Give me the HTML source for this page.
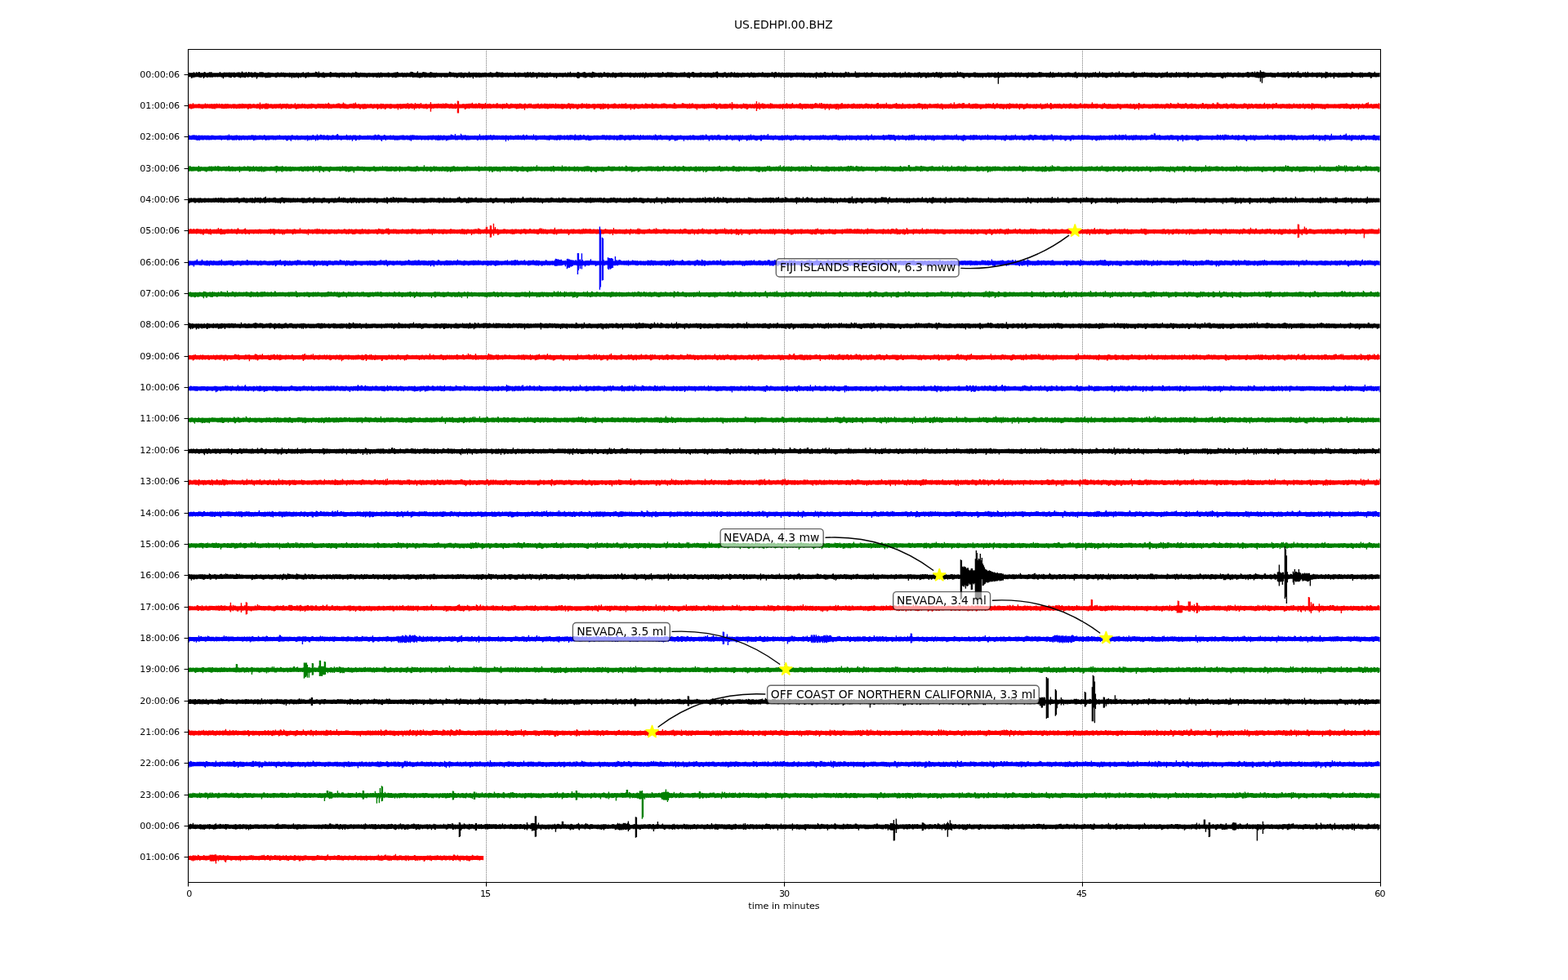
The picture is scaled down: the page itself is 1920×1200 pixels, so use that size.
<!DOCTYPE html>
<html lang="en"><head><meta charset="utf-8"><title>US.EDHPI.00.BHZ</title>
<style>html,body{margin:0;padding:0;background:#fff;overflow:hidden}svg{display:block}text{font-family:"DejaVu Sans","Liberation Sans",sans-serif;fill:#000}.t8{font-size:11.11px}.t10{font-size:13.89px}.tr path{fill:none;stroke-width:1.39;stroke-linecap:butt;vector-effect:non-scaling-stroke}</style></head><body>
<svg width="1920" height="1200" viewBox="0 0 1920 1200">
<rect width="1920" height="1200" fill="#fff"/>
<text class="t10" x="959.4" y="35.2" text-anchor="middle" textLength="120.9">US.EDHPI.00.BHZ</text>
<g stroke="#000" stroke-width="0.7" stroke-dasharray="0.7 1.15" fill="none">
<path d="M595.5 60V1080"/>
<path d="M960.5 60V1080"/>
<path d="M1325.5 60V1080"/>
</g>
<clipPath id="ax"><rect x="230.4" y="60" width="1459.2" height="1020"/></clipPath>
<g class="tr" clip-path="url(#ax)">
<path transform="translate(230.40 91.75) scale(1 0.25)" stroke="#000000" d="M0 -11v21m1-21v21m1-21v21m1-20v19m1-19v26m1-27v26m1-25v20m1-24v28m1-24v20m1-19v20m1-25v24m1-22v22m1-20v20m1-25v26m1-25v26m1-22v23m1-23v23m1-24v21m1-19v19m1-22v29m1-32v27m1-25v23m1-20v20m1-19v22m1-24v24m1-24v21m1-24v25m1-24v25m1-26v25m1-24v25m1-21v21m1-22v20m1-20v20m1-20v21m1-21v20m1-20v20m1-20v21m1-21v20m1-20v20m1-25v25m1-20v20m1-20v22m1-22v22m1-22v28m1-31v24m1-23v22m1-22v23m1-23v22m1-22v22m1-21v21m1-23v25m1-24v24m1-24v26m1-26v25m1-25v21m1-20v20m1-22v26m1-25v25m1-23v21m1-21v19m1-22v23m1-21v21m1-24v26m1-24v24m1-23v26m1-27v24m1-29v28m1-24v25m1-22v21m1-23v25m1-23v24m1-29v25m1-20v20m1-20v22m1-27v26m1-24v23m1-22v21m1-22v23m1-23v26m1-24v24m1-23v20m1-23v24m1-25v25m1-23v22m1-21v30m1-29v22m1-22v20m1-20v20m1-25v26m1-22v22m1-26v26m1-24v25m1-25v23m1-20v21m1-21v21m1-22v26m1-26v24m1-24v25m1-27v26m1-25v25m1-25v25m1-24v23m1-23v21m1-21v21m1-20v20m1-20v20m1-19v19m1-21v24m1-24v24m1-25v23m1-24v23m1-20v20m1-20v21m1-21v20m1-23v23m1-20v20m1-22v22m1-22v22m1-20v22m1-23v22m1-21v20m1-20v20m1-20v20m1-19v19m1-22v24m1-23v22m1-21v20m1-21v27m1-27v20m1-20v24m1-23v22m1-22v23m1-23v20m1-22v24m1-21v20m1-22v27m1-26v21m1-20v20m1-21v23m1-23v20m1-22v22m1-24v25m1-20v19m1-20v22m1-22v26m1-28v24m1-23v21m1-24v25m1-22v22m1-21v20m1-20v20m1-20v20m1-20v20m1-21v21m1-21v21m1-20v20m1-26v26m1-25v25m1-23v23m1-20v24m1-31v30m1-23v21m1-21v20m1-20v20m1-20v22m1-25v24m1-24v27m1-24v24m1-24v20m1-20v21m1-21v20m1-20v20m1-20v19m1-19v20m1-25v27m1-26v25m1-22v21m1-20v20m1-21v21m1-20v20m1-22v22m1-22v22m1-21v23m1-22v21m1-21v21m1-21v25m1-26v21m1-20v20m1-22v22m1-22v23m1-21v20m1-22v26m1-25v20m1-19v21m1-21v21m1-20v19m1-22v22m1-21v22m1-20v19m1-20v20m1-19v24m1-27v22m1-22v23m1-22v21m1-21v21m1-26v27m1-25v26m1-24v23m1-22v23m1-22v23m1-23v22m1-24v22m1-21v21m1-21v22m1-22v21m1-20v21m1-22v22m1-21v21m1-20v20m1-21v24m1-23v19m1-21v21m1-21v22m1-21v20m1-19v19m1-20v20m1-20v21m1-21v22m1-22v20m1-20v20m1-20v21m1-21v23m1-23v22m1-24v22m1-20v24m1-24v22m1-25v23m1-21v23m1-22v21m1-21v19m1-19v20m1-20v21m1-21v20m1-20v21m1-21v20m1-23v25m1-23v23m1-22v20m1-19v19m1-20v20m1-20v23m1-23v22m1-24v23m1-23v24m1-25v27m1-26v25m1-28v26m1-24v24m1-21v20m1-20v20m1-20v20m1-20v19m1-21v22m1-20v22m1-22v21m1-22v22m1-21v20m1-19v21m1-24v22m1-20v20m1-20v20m1-20v20m1-23v24m1-27v26m1-24v24m1-25v28m1-24v23m1-23v23m1-22v21m1-21v22m1-24v23m1-29v31m1-23v22m1-22v25m1-26v26m1-25v23m1-23v22m1-25v25m1-27v25m1-23v23m1-24v28m1-26v22m1-22v24m1-21v20m1-21v21m1-21v22m1-24v25m1-28v28m1-26v25m1-24v22m1-21v24m1-24v22m1-22v25m1-24v23m1-25v22m1-20v21m1-21v20m1-20v20m1-20v21m1-21v20m1-20v23m1-23v20m1-20v19m1-19v20m1-20v22m1-22v22m1-22v20m1-20v23m1-22v19m1-20v20m1-26v25m1-23v25m1-24v23m1-21v21m1-22v22m1-22v22m1-21v23m1-23v22m1-21v21m1-21v25m1-24v22m1-24v21m1-22v22m1-21v21m1-23v27m1-26v25m1-24v22m1-21v25m1-25v24m1-26v22m1-21v21m1-20v21m1-21v23m1-23v20m1-26v28m1-22v22m1-23v23m1-23v21m1-20v21m1-23v30m1-28v19m1-21v22m1-21v23m1-24v24m1-23v23m1-22v19m1-21v25m1-24v23m1-22v22m1-21v21m1-23v22m1-22v22m1-21v21m1-23v22m1-22v23m1-22v22m1-20v19m1-20v20m1-20v21m1-22v22m1-25v24m1-23v24m1-21v22m1-23v23m1-21v19m1-20v20m1-20v20m1-23v23m1-26v27m1-25v26m1-25v24m1-24v23m1-22v22m1-21v23m1-25v25m1-25v25m1-23v22m1-21v20m1-20v20m1-21v22m1-21v20m1-22v22m1-20v22m1-22v21m1-22v21m1-20v20m1-20v20m1-20v20m1-20v20m1-20v20m1-25v25m1-20v22m1-22v20m1-19v19m1-22v24m1-23v22m1-23v22m1-21v21m1-20v20m1-20v20m1-20v20m1-20v20m1-23v23m1-21v24m1-25v24m1-24v23m1-26v27m1-22v21m1-23v22m1-24v24m1-20v23m1-24v23m1-26v26m1-25v24m1-22v22m1-21v20m1-21v21m1-20v28m1-28v21m1-24v23m1-23v24m1-22v21m1-21v21m1-22v24m1-24v24m1-23v20m1-19v23m1-22v22m1-23v21m1-23v25m1-25v25m1-23v20m1-20v20m1-23v23m1-22v22m1-19v19m1-20v19m1-19v20m1-20v23m1-23v20m1-20v21m1-21v27m1-27v21m1-20v19m1-20v20m1-21v21m1-20v20m1-20v20m1-20v21m1-21v22m1-22v20m1-20v20m1-22v22m1-19v20m1-20v20m1-24v24m1-22v20m1-20v22m1-27v26m1-20v21m1-21v20m1-20v20m1-21v21m1-20v21m1-21v20m1-20v20m1-20v23m1-28v32m1-31v30m1-28v27m1-25v20m1-20v20m1-20v20m1-22v22m1-23v25m1-27v26m1-25v29m1-25v23m1-23v22m1-22v20m1-20v19m1-21v23m1-22v22m1-22v23m1-22v24m1-30v30m1-29v25m1-23v25m1-24v23m1-22v21m1-20v20m1-19v19m1-21v21m1-21v24m1-24v23m1-24v22m1-21v24m1-22v21m1-21v18m1-23v24m1-24v23m1-19v20m1-20v20m1-21v22m1-23v26m1-25v21m1-20v20m1-19v21m1-21v19m1-20v22m1-25v25m1-24v22m1-19v21m1-23v26m1-25v23m1-23v20m1-19v19m1-21v21m1-21v21m1-22v22m1-23v24m1-23v24m1-22v21m1-21v20m1-22v22m1-21v21m1-20v20m1-20v20m1-22v22m1-20v20m1-20v20m1-22v25m1-25v25m1-23v20m1-20v20m1-20v21m1-21v23m1-23v22m1-24v23m1-21v19m1-19v23m1-23v20m1-21v21m1-20v24m1-26v22m1-20v21m1-21v21m1-24v25m1-22v19m1-18v26m1-30v25m1-24v22m1-19v21m1-22v22m1-22v21m1-21v20m1-22v22m1-21v23m1-22v21m1-22v21m1-20v19m1-18v19m1-22v22m1-21v21m1-21v21m1-22v23m1-23v25m1-24v23m1-23v24m1-23v20m1-20v22m1-27v25m1-22v22m1-19v19m1-20v20m1-21v23m1-23v23m1-26v24m1-23v24m1-24v23m1-22v24m1-25v25m1-25v25m1-24v24m1-24v22m1-20v20m1-21v21m1-22v22m1-21v24m1-23v22m1-22v20m1-20v21m1-21v21m1-23v22m1-22v23m1-21v20m1-23v24m1-21v20m1-25v26m1-21v20m1-20v20m1-20v22m1-24v26m1-27v26m1-25v28m1-26v20m1-20v19m1-23v24m1-25v25m1-24v27m1-24v22m1-21v21m1-21v20m1-20v22m1-22v21m1-21v21m1-22v23m1-24v23m1-25v26m1-22v20m1-21v20m1-20v21m1-20v20m1-22v25m1-24v23m1-22v21m1-23v23m1-23v23m1-21v21m1-22v22m1-22v25m1-24v24m1-24v22m1-26v26m1-23v22m1-24v24m1-24v23m1-26v28m1-29v33m1-28v22m1-20v20m1-20v20m1-20v21m1-21v21m1-21v21m1-22v24m1-25v22m1-24v24m1-23v23m1-20v24m1-23v23m1-25v21m1-22v23m1-20v19m1-22v24m1-26v25m1-24v23m1-20v19m1-19v22m1-26v25m1-21v22m1-22v22m1-23v23m1-24v24m1-22v23m1-23v20m1-20v20m1-19v21m1-22v22m1-24v22m1-21v22m1-22v22m1-21v20m1-20v19m1-19v20m1-22v22m1-21v21m1-20v24m1-23v21m1-25v23m1-23v24m1-21v21m1-22v24m1-25v24m1-22v22m1-22v22m1-22v20m1-20v21m1-22v22m1-23v22m1-21v21m1-20v19m1-19v21m1-25v24m1-23v24m1-21v20m1-20v22m1-23v22m1-21v20m1-21v24m1-24v23m1-23v22m1-21v21m1-21v19m1-19v20m1-25v25m1-20v20m1-22v23m1-23v27m1-30v24m1-23v26m1-22v20m1-20v20m1-23v24m1-23v23m1-21v20m1-21v26m1-27v22m1-22v22m1-20v21m1-22v23m1-22v22m1-23v22m1-23v24m1-23v23m1-24v24m1-23v21m1-22v22m1-20v24m1-25v23m1-23v23m1-22v20m1-21v21m1-20v20m1-20v21m1-23v23m1-23v23m1-21v19m1-21v23m1-22v20m1-20v23m1-24v22m1-20v21m1-21v21m1-24v23m1-20v23m1-23v22m1-22v20m1-20v22m1-22v21m1-22v21m1-21v24m1-23v23m1-23v21m1-21v21m1-20v21m1-21v22m1-23v20m1-20v21m1-24v31m1-31v23m1-20v20m1-20v22m1-22v21m1-23v25m1-25v23m1-21v23m1-23v22m1-22v20m1-25v25m1-25v28m1-25v24m1-22v20m1-22v22m1-21v22m1-21v22m1-22v20m1-20v20m1-20v20m1-26v27m1-21v21m1-22v23m1-23v20m1-19v20m1-21v23m1-23v23m1-22v20m1-20v20m1-20v21m1-23v24m1-22v22m1-22v20m1-20v21m1-21v23m1-24v23m1-28v26m1-24v24m1-19v19m1-24v25m1-24v24m1-21v21m1-20v19m1-20v20m1-20v20m1-19v19m1-20v20m1-20v20m1-28v28m1-21v25m1-26v24m1-22v23m1-25v24m1-24v23m1-22v21m1-21v21m1-21v21m1-21v21m1-20v20m1-23v23m1-20v22m1-23v23m1-25v24m1-23v23m1-21v21m1-21v21m1-21v20m1-21v23m1-26v24m1-23v23m1-20v20m1-20v20m1-20v20m1-21v21m1-21v21m1-21v20m1-18v20m1-21v22m1-24v22m1-21v23m1-22v19m1-19v20m1-20v23m1-25v25m1-24v24m1-24v22m1-22v22m1-21v19m1-18v21m1-25v25m1-22v20m1-20v20m1-20v20m1-20v22m1-24v22m1-22v22m1-23v25m1-25v24m1-21v22m1-22v21m1-21v22m1-22v20m1-21v21m1-23v28m1-24v19m1-19v23m1-25v21m1-20v22m1-22v21m1-27v26m1-20v22m1-22v22m1-22v21m1-24v25m1-25v25m1-23v22m1-22v25m1-24v19m1-19v20m1-19v20m1-21v21m1-23v24m1-22v20m1-20v22m1-24v22m1-22v26m1-28v24m1-23v23m1-20v25m1-26v24m1-23v21m1-23v22m1-21v21m1-22v22m1-21v26m1-25v25m1-25v21m1-24v25m1-22v22m1-22v21m1-21v21m1-21v21m1-22v21m1-23v22m1-21v22m1-20v23m1-24v21m1-25v25m1-23v24m1-24v24m1-21v23m1-27v24m1-20v26m1-30v29m1-27v25m1-23v21m1-21v20m1-20v20m1-22v22m1-22v24m1-22v20m1-22v22m1-22v23m1-23v23m1-24v23m1-22v22m1-20v20m1-21v24m1-23v22m1-25v25m1-24v24m1-22v22m1-22v21m1-29v28m1-22v21m1-21v22m1-23v23m1-24v24m1-21v21m1-22v25m1-24v25m1-24v27m1-27v21m1-21v20m1-20v20m1-21v21m1-20v20m1-20v24m1-24v23m1-23v21m1-21v20m1-20v20m1-20v20m1-23v23m1-23v25m1-25v25m1-22v21m1-22v22m1-21v22m1-22v22m1-22v21m1-21v22m1-22v21m1-21v21m1-21v25m1-25v20m1-20v20m1-20v20m1-20v23m1-23v19m1-21v22m1-22v23m1-23v25m1-23v20m1-21v23m1-24v22m1-21v21m1-20v20m1-20v22m1-25v28m1-25v23m1-23v23m1-24v23m1-27v59m1-55v26m1-26v23m1-22v20m1-22v24m1-22v22m1-22v22m1-22v23m1-26v25m1-24v22m1-21v21m1-22v23m1-22v22m1-22v22m1-23v22m1-22v22m1-23v23m1-22v22m1-21v21m1-20v20m1-20v20m1-23v25m1-24v24m1-22v20m1-22v22m1-23v23m1-20v22m1-22v22m1-25v23m1-20v19m1-19v20m1-20v21m1-21v20m1-20v20m1-21v21m1-20v25m1-26v26m1-28v25m1-22v19m1-21v22m1-21v21m1-22v25m1-26v25m1-24v24m1-23v23m1-23v22m1-21v22m1-22v21m1-21v21m1-22v21m1-25v26m1-25v26m1-25v24m1-24v24m1-22v21m1-21v21m1-20v20m1-20v19m1-20v21m1-21v23m1-22v21m1-22v22m1-21v22m1-24v25m1-29v27m1-21v20m1-20v24m1-28v26m1-22v22m1-22v22m1-22v20m1-20v20m1-20v20m1-21v21m1-24v24m1-19v19m1-22v22m1-22v22m1-20v23m1-22v20m1-21v19m1-19v20m1-20v22m1-24v24m1-22v20m1-23v23m1-23v23m1-22v22m1-21v22m1-21v20m1-20v20m1-20v22m1-21v20m1-24v24m1-24v26m1-29v26m1-20v26m1-26v24m1-26v22m1-22v22m1-20v20m1-20v20m1-20v20m1-22v22m1-21v21m1-20v21m1-23v23m1-22v29m1-28v21m1-23v21m1-19v22m1-22v23m1-23v22m1-23v22m1-21v21m1-21v22m1-25v23m1-22v22m1-21v22m1-26v25m1-20v21m1-21v21m1-21v23m1-23v22m1-29v27m1-20v20m1-19v19m1-22v22m1-23v26m1-23v20m1-22v23m1-22v24m1-24v26m1-26v25m1-24v22m1-23v21m1-20v19m1-21v23m1-21v22m1-26v24m1-23v23m1-20v20m1-20v19m1-19v22m1-25v25m1-24v22m1-22v24m1-23v22m1-29v29m1-22v21m1-20v20m1-20v20m1-23v23m1-22v22m1-20v20m1-20v20m1-20v23m1-23v22m1-23v22m1-21v21m1-21v21m1-20v20m1-21v21m1-24v23m1-22v22m1-26v25m1-25v30m1-24v24m1-24v23m1-25v25m1-23v21m1-21v20m1-21v21m1-21v21m1-20v21m1-21v21m1-24v23m1-22v24m1-22v20m1-25v25m1-20v20m1-22v21m1-20v22m1-23v23m1-21v20m1-21v22m1-22v23m1-22v21m1-24v26m1-24v21m1-20v21m1-23v22m1-21v23m1-22v24m1-24v23m1-23v24m1-24v20m1-22v22m1-20v19m1-19v25m1-25v24m1-26v25m1-24v22m1-21v22m1-24v22m1-22v23m1-24v24m1-27v28m1-21v20m1-21v20m1-20v23m1-24v24m1-25v25m1-25v22m1-20v20m1-20v22m1-22v20m1-20v22m1-27v27m1-23v21m1-21v21m1-23v23m1-21v24m1-25v22m1-21v21m1-20v20m1-20v20m1-23v23m1-23v23m1-22v23m1-21v20m1-23v24m1-24v28m1-29v28m1-24v20m1-20v21m1-23v23m1-21v21m1-21v19m1-19v21m1-21v22m1-23v22m1-22v21m1-24v24m1-22v22m1-20v20m1-20v20m1-21v21m1-19v23m1-24v22m1-22v23m1-24v21m1-20v21m1-21v21m1-23v22m1-23v23m1-22v22m1-20v21m1-21v20m1-22v23m1-23v23m1-23v22m1-21v24m1-23v22m1-22v23m1-23v22m1-22v22m1-22v20m1-21v20m1-19v20m1-21v21m1-20v20m1-22v22m1-20v25m1-25v25m1-25v28m1-30v24m1-24v22m1-21v26m1-25v20m1-22v23m1-24v23m1-22v22m1-21v21m1-22v22m1-22v22m1-19v19m1-20v22m1-22v22m1-23v21m1-22v21m1-19v20m1-20v20m1-20v21m1-24v25m1-23v22m1-23v23m1-21v20m1-20v21m1-21v22m1-23v23m1-22v21m1-21v19m1-21v22m1-22v22m1-25v26m1-26v29m1-25v24m1-26v23m1-21v21m1-23v23m1-25v25m1-23v24m1-21v19m1-26v29m1-22v22m1-25v27m1-30v29m1-27v29m1-28v28m1-28v27m1-37v56m1-49v29m1-28v55m1-55v29m1-30v31m1-28v26m1-25v23m1-22v21m1-21v21m1-21v21m1-21v21m1-20v19m1-21v22m1-22v22m1-21v23m1-22v22m1-22v22m1-22v21m1-21v24m1-23v18m1-19v20m1-23v23m1-23v23m1-20v20m1-20v20m1-21v21m1-21v22m1-23v23m1-23v24m1-25v25m1-24v24m1-23v23m1-24v22m1-23v23m1-23v29m1-27v26m1-25v21m1-21v20m1-25v25m1-20v22m1-24v24m1-25v24m1-23v22m1-20v20m1-23v25m1-23v21m1-29v31m1-22v20m1-21v25m1-24v24m1-23v22m1-23v19m1-22v23m1-22v22m1-20v20m1-25v27m1-22v22m1-23v23m1-28v27m1-22v22m1-21v19m1-19v20m1-20v20m1-22v23m1-24v24m1-21v20m1-21v21m1-21v21m1-20v20m1-22v26m1-26v24m1-22v20m1-23v23m1-21v21m1-22v22m1-22v28m1-26v22m1-22v21m1-21v22m1-22v22m1-28v33m1-31v26m1-26v26m1-22v21m1-21v20m1-21v21m1-22v24m1-21v19m1-19v19m1-20v20m1-22v30m1-30v22m1-20v20m1-20v20m1-20v20m1-19v22m1-25v24m1-22v22m1-23v21m1-19v21m1-22v21m1-21v22m1-23v22m1-22v23m1-22v21m1-23v24m1-24v22m1-20v21m1-22v20m1-20v21m1-19v21m1-22v24m1-30v29m1-28v25m1-21v21m1-20v20m1-20v20m1-20v20m1-20v21m1-21v21m1-21v20m1-20v20m1-23v26m1-25v24m1-24v22m1-22v26m1-24v20m1-19v19m1-21v21m1-20v20m1-20v20m1-20v20m1-22v22m1-24v24m1-23v23m1-22v28m1-27v26m1-25v20m1-20v20m1-21v21m1-26v26m1-20v21m1-21v21m1-21v20m1-20v20m1-20v20m1-21v21"/>
<path transform="translate(230.40 130.09) scale(1 0.25)" stroke="#ff0000" d="M0 -10v21m1-21v21m1-21v20m1-21v24m1-23v24m1-24v22m1-27v27m1-22v20m1-20v20m1-20v19m1-19v20m1-20v19m1-19v20m1-22v22m1-21v21m1-20v20m1-20v21m1-21v23m1-23v23m1-23v21m1-21v20m1-24v24m1-20v21m1-22v21m1-21v21m1-19v19m1-21v22m1-20v20m1-23v22m1-21v24m1-24v24m1-23v23m1-25v25m1-24v25m1-25v20m1-22v24m1-22v20m1-18v19m1-23v23m1-20v20m1-20v20m1-22v24m1-23v23m1-22v22m1-22v23m1-24v22m1-23v24m1-22v22m1-24v23m1-22v22m1-21v21m1-21v20m1-20v20m1-19v21m1-22v20m1-21v21m1-21v24m1-24v21m1-20v21m1-20v22m1-23v22m1-22v20m1-21v23m1-24v24m1-23v22m1-21v20m1-23v25m1-24v22m1-21v22m1-22v22m1-22v21m1-21v21m1-20v20m1-21v26m1-26v25m1-26v22m1-22v24m1-22v22m1-22v20m1-20v20m1-22v21m1-20v21m1-19v19m1-20v20m1-20v22m1-24v23m1-22v21m1-20v22m1-30v35m1-27v20m1-20v23m1-24v24m1-24v21m1-21v21m1-21v25m1-28v27m1-27v28m1-26v26m1-27v25m1-22v20m1-20v20m1-21v21m1-21v21m1-20v23m1-23v22m1-22v21m1-22v21m1-20v22m1-23v22m1-21v20m1-21v21m1-20v21m1-23v22m1-23v23m1-20v25m1-26v23m1-24v23m1-22v21m1-22v22m1-21v21m1-21v25m1-27v23m1-22v22m1-20v23m1-23v22m1-22v23m1-24v23m1-23v21m1-19v19m1-20v20m1-20v20m1-25v26m1-20v24m1-25v24m1-25v23m1-23v23m1-23v22m1-21v21m1-21v21m1-22v22m1-24v23m1-19v19m1-22v22m1-21v23m1-22v21m1-21v20m1-20v23m1-23v22m1-23v22m1-21v21m1-22v22m1-24v25m1-24v22m1-21v20m1-20v20m1-19v20m1-20v23m1-23v23m1-23v20m1-23v23m1-22v22m1-22v22m1-21v22m1-23v22m1-21v21m1-22v23m1-22v23m1-22v21m1-24v23m1-22v23m1-22v21m1-23v23m1-27v30m1-25v23m1-21v21m1-21v22m1-22v21m1-21v20m1-21v21m1-20v20m1-20v20m1-20v20m1-22v22m1-23v23m1-24v24m1-24v23m1-20v23m1-23v22m1-21v20m1-22v22m1-28v29m1-24v24m1-24v25m1-22v21m1-21v23m1-22v22m1-22v21m1-22v21m1-22v20m1-21v22m1-22v22m1-20v20m1-24v25m1-25v26m1-25v24m1-29v28m1-21v21m1-19v19m1-21v21m1-22v22m1-20v24m1-24v25m1-25v20m1-20v20m1-21v25m1-24v24m1-26v25m1-24v24m1-22v22m1-24v21m1-20v20m1-20v20m1-20v20m1-21v21m1-22v22m1-20v20m1-20v23m1-23v22m1-23v21m1-20v20m1-20v19m1-20v22m1-22v28m1-27v22m1-22v21m1-21v20m1-23v27m1-26v25m1-25v22m1-22v24m1-22v20m1-20v26m1-27v25m1-25v21m1-21v21m1-21v21m1-19v19m1-22v25m1-25v25m1-24v23m1-22v19m1-19v20m1-20v20m1-20v22m1-22v20m1-20v21m1-23v22m1-21v29m1-29v21m1-21v21m1-22v26m1-25v24m1-23v22m1-24v24m1-23v21m1-22v22m1-20v22m1-25v25m1-22v21m1-27v26m1-20v24m1-26v24m1-23v21m1-24v24m1-23v25m1-24v24m1-22v20m1-20v28m1-34v26m1-20v22m1-24v22m1-21v21m1-21v21m1-22v25m1-23v20m1-26v26m1-20v20m1-20v20m1-20v22m1-22v21m1-21v22m1-24v22m1-22v26m1-23v22m1-23v20m1-20v20m1-21v21m1-30v47m1-38v24m1-23v20m1-21v23m1-22v21m1-23v22m1-20v20m1-22v22m1-21v22m1-24v23m1-23v23m1-20v20m1-22v22m1-22v23m1-21v21m1-25v24m1-22v23m1-22v22m1-25v25m1-25v24m1-23v22m1-20v21m1-21v21m1-20v22m1-23v22m1-24v23m1-22v24m1-22v22m1-21v21m1-22v21m1-25v27m1-23v22m1-22v19m1-35v60m1-59v59m1-44v20m1-20v20m1-19v19m1-20v20m1-21v21m1-22v22m1-21v21m1-20v26m1-27v25m1-26v23m1-23v23m1-23v22m1-23v26m1-25v22m1-23v23m1-23v23m1-27v27m1-21v22m1-22v21m1-21v22m1-24v24m1-24v23m1-20v21m1-22v21m1-26v26m1-23v24m1-24v23m1-22v22m1-22v27m1-27v24m1-23v21m1-21v23m1-28v27m1-21v20m1-20v21m1-23v23m1-21v21m1-24v23m1-22v24m1-22v21m1-21v20m1-20v20m1-22v22m1-20v20m1-20v20m1-21v21m1-25v26m1-25v24m1-20v20m1-20v20m1-21v21m1-20v21m1-21v20m1-22v27m1-26v21m1-22v23m1-22v22m1-21v20m1-26v26m1-22v21m1-19v22m1-21v22m1-23v22m1-25v24m1-24v23m1-22v22m1-21v20m1-20v21m1-21v21m1-22v23m1-21v24m1-26v25m1-24v23m1-23v23m1-26v25m1-24v23m1-22v24m1-22v22m1-22v22m1-22v20m1-23v32m1-32v23m1-20v20m1-20v21m1-21v21m1-23v21m1-22v23m1-22v22m1-23v23m1-19v19m1-19v20m1-21v22m1-22v22m1-22v22m1-23v23m1-22v19m1-22v24m1-24v23m1-19v22m1-23v22m1-24v23m1-24v24m1-21v21m1-21v20m1-23v24m1-24v25m1-24v24m1-24v23m1-23v26m1-25v24m1-23v21m1-24v23m1-19v20m1-23v23m1-22v21m1-22v22m1-20v20m1-20v21m1-25v26m1-22v21m1-22v22m1-22v21m1-21v23m1-22v20m1-20v21m1-23v25m1-25v26m1-25v25m1-25v23m1-23v21m1-20v20m1-20v23m1-23v23m1-26v23m1-25v25m1-23v24m1-23v28m1-28v22m1-23v24m1-23v22m1-22v25m1-23v20m1-20v20m1-21v21m1-19v24m1-25v25m1-26v24m1-23v20m1-20v20m1-21v21m1-24v27m1-27v24m1-20v20m1-22v21m1-20v21m1-20v20m1-24v27m1-23v22m1-23v23m1-24v24m1-22v20m1-20v20m1-19v19m1-21v21m1-22v22m1-22v28m1-28v27m1-25v20m1-20v20m1-22v22m1-22v22m1-22v22m1-21v22m1-23v28m1-27v25m1-24v20m1-24v30m1-28v24m1-23v23m1-24v23m1-21v19m1-19v20m1-22v27m1-26v24m1-22v19m1-20v20m1-20v20m1-21v21m1-20v21m1-23v24m1-26v25m1-24v24m1-22v22m1-20v18m1-19v22m1-22v22m1-24v22m1-20v20m1-20v21m1-24v24m1-22v22m1-22v22m1-23v23m1-23v22m1-25v28m1-23v21m1-21v21m1-21v20m1-20v20m1-21v21m1-21v29m1-28v20m1-20v23m1-23v20m1-20v26m1-28v26m1-26v22m1-21v21m1-20v22m1-22v23m1-23v23m1-23v21m1-21v21m1-21v20m1-22v22m1-20v21m1-20v20m1-21v21m1-25v25m1-24v23m1-21v23m1-23v21m1-20v20m1-21v21m1-20v19m1-19v21m1-26v26m1-24v26m1-23v21m1-22v22m1-22v21m1-23v23m1-20v20m1-21v22m1-21v21m1-21v20m1-20v20m1-20v20m1-23v24m1-23v22m1-24v24m1-24v24m1-23v23m1-22v22m1-20v22m1-22v20m1-20v20m1-20v20m1-21v21m1-20v20m1-20v20m1-20v21m1-21v21m1-27v28m1-27v27m1-22v22m1-22v21m1-20v19m1-20v20m1-20v20m1-20v20m1-20v20m1-20v20m1-25v25m1-25v25m1-23v23m1-22v22m1-21v21m1-21v20m1-20v24m1-24v22m1-21v21m1-25v26m1-22v21m1-22v22m1-25v24m1-24v24m1-20v20m1-20v20m1-21v23m1-23v22m1-21v28m1-29v21m1-20v21m1-21v21m1-21v21m1-21v20m1-21v21m1-21v22m1-21v21m1-23v26m1-24v21m1-21v22m1-23v22m1-21v20m1-22v23m1-23v22m1-20v20m1-20v20m1-23v23m1-22v21m1-20v21m1-26v26m1-20v20m1-22v24m1-23v27m1-26v24m1-24v20m1-21v21m1-24v23m1-21v25m1-23v22m1-22v22m1-22v22m1-23v22m1-22v24m1-25v24m1-23v23m1-23v23m1-22v21m1-21v20m1-23v23m1-23v24m1-21v20m1-30v38m1-30v23m1-21v20m1-21v21m1-20v20m1-20v21m1-22v23m1-22v22m1-21v19m1-19v19m1-20v20m1-20v23m1-23v23m1-23v20m1-24v24m1-21v21m1-22v24m1-23v21m1-22v28m1-26v25m1-25v21m1-21v19m1-20v21m1-20v20m1-19v20m1-22v21m1-20v20m1-19v21m1-25v23m1-20v20m1-34v48m1-36v25m1-23v22m1-30v29m1-22v28m1-28v21m1-21v21m1-24v24m1-24v27m1-23v23m1-25v23m1-20v20m1-21v20m1-20v20m1-21v21m1-20v22m1-22v20m1-25v28m1-26v24m1-24v24m1-21v21m1-21v21m1-21v21m1-21v20m1-20v20m1-20v21m1-20v19m1-20v21m1-21v22m1-23v23m1-22v21m1-21v19m1-20v27m1-28v22m1-20v20m1-20v21m1-23v23m1-26v26m1-22v23m1-22v19m1-20v22m1-21v22m1-23v23m1-23v22m1-27v26m1-20v20m1-20v21m1-20v19m1-20v20m1-21v21m1-20v20m1-19v20m1-23v22m1-25v27m1-26v27m1-24v21m1-21v28m1-27v20m1-22v23m1-23v23m1-23v25m1-24v23m1-24v22m1-21v22m1-22v22m1-20v19m1-22v24m1-22v22m1-24v26m1-25v23m1-22v20m1-22v22m1-26v26m1-24v23m1-23v24m1-20v20m1-20v20m1-25v25m1-20v20m1-26v28m1-27v27m1-22v22m1-24v22m1-22v23m1-22v29m1-28v20m1-22v25m1-25v21m1-19v22m1-22v29m1-31v22m1-22v25m1-22v20m1-21v22m1-22v20m1-20v22m1-23v21m1-20v26m1-28v27m1-27v22m1-21v29m1-28v20m1-20v24m1-25v22m1-26v28m1-28v26m1-20v21m1-23v21m1-20v22m1-23v22m1-21v20m1-20v22m1-24v23m1-22v21m1-20v20m1-20v20m1-20v21m1-23v25m1-24v23m1-26v25m1-23v22m1-20v22m1-22v21m1-22v23m1-23v23m1-22v20m1-22v25m1-23v21m1-23v22m1-22v22m1-19v21m1-22v22m1-22v20m1-22v23m1-25v24m1-23v22m1-21v24m1-23v23m1-23v21m1-20v20m1-20v23m1-25v22m1-20v20m1-20v20m1-20v23m1-23v20m1-20v20m1-23v24m1-27v29m1-29v28m1-22v20m1-20v20m1-21v23m1-22v20m1-21v21m1-21v21m1-21v24m1-24v21m1-20v20m1-27v28m1-21v20m1-20v20m1-20v23m1-23v22m1-22v23m1-22v21m1-21v21m1-23v21m1-20v20m1-22v22m1-21v21m1-26v29m1-26v24m1-21v23m1-24v23m1-23v23m1-22v20m1-20v23m1-23v23m1-28v27m1-22v21m1-21v21m1-21v23m1-23v20m1-20v20m1-21v21m1-20v22m1-24v24m1-23v22m1-21v20m1-20v20m1-20v20m1-21v23m1-24v24m1-23v21m1-20v20m1-20v21m1-23v22m1-24v23m1-24v26m1-25v24m1-22v22m1-22v22m1-21v28m1-27v22m1-23v21m1-22v26m1-26v24m1-22v20m1-20v25m1-25v20m1-20v20m1-23v23m1-22v22m1-20v20m1-20v20m1-20v19m1-20v21m1-21v21m1-21v21m1-22v22m1-20v21m1-25v24m1-20v20m1-20v21m1-21v22m1-25v23m1-23v27m1-24v27m1-27v20m1-20v20m1-20v23m1-23v22m1-22v20m1-20v21m1-21v22m1-23v22m1-21v20m1-25v26m1-21v19m1-19v23m1-23v20m1-29v31m1-22v21m1-21v22m1-22v21m1-22v22m1-23v22m1-24v24m1-23v23m1-21v20m1-20v21m1-25v27m1-27v26m1-27v26m1-20v20m1-20v20m1-20v20m1-20v20m1-20v20m1-25v25m1-24v24m1-19v21m1-22v20m1-21v24m1-24v23m1-24v23m1-22v21m1-23v25m1-25v25m1-24v24m1-23v22m1-21v20m1-20v20m1-20v25m1-25v24m1-24v22m1-22v20m1-20v21m1-20v19m1-20v20m1-23v25m1-24v22m1-21v21m1-23v23m1-22v22m1-22v22m1-20v20m1-20v21m1-22v22m1-27v26m1-20v23m1-23v24m1-24v20m1-24v24m1-24v24m1-20v19m1-20v21m1-20v23m1-25v24m1-23v22m1-22v23m1-22v25m1-26v25m1-24v20m1-20v20m1-21v26m1-26v21m1-22v23m1-21v24m1-29v29m1-26v23m1-23v22m1-20v20m1-23v22m1-19v21m1-22v21m1-20v20m1-23v24m1-24v23m1-20v20m1-19v20m1-23v29m1-29v22m1-21v21m1-22v22m1-20v20m1-20v26m1-26v24m1-24v23m1-24v22m1-25v24m1-23v23m1-20v20m1-20v21m1-22v22m1-21v20m1-20v19m1-19v20m1-20v22m1-23v21m1-20v22m1-22v23m1-25v24m1-22v19m1-19v20m1-20v20m1-20v20m1-24v24m1-19v24m1-25v24m1-24v23m1-22v21m1-23v23m1-24v23m1-21v20m1-25v25m1-20v20m1-19v19m1-20v20m1-26v31m1-29v29m1-25v20m1-20v22m1-22v21m1-23v22m1-21v21m1-21v22m1-22v21m1-22v23m1-21v21m1-24v23m1-21v22m1-21v23m1-23v23m1-23v20m1-23v23m1-22v21m1-19v22m1-23v22m1-22v21m1-20v20m1-21v21m1-21v24m1-27v25m1-25v25m1-21v20m1-20v21m1-20v19m1-23v24m1-23v24m1-23v23m1-22v22m1-22v22m1-22v21m1-21v20m1-23v23m1-25v25m1-20v20m1-20v20m1-20v20m1-21v21m1-23v25m1-22v20m1-22v22m1-21v21m1-20v22m1-23v22m1-21v20m1-20v20m1-22v23m1-30v29m1-22v23m1-21v20m1-21v21m1-22v22m1-21v23m1-25v24m1-21v20m1-20v19m1-19v19m1-19v20m1-20v22m1-21v23m1-27v26m1-23v20m1-26v26m1-21v21m1-21v22m1-21v23m1-23v23m1-25v25m1-23v22m1-24v23m1-21v22m1-22v22m1-22v23m1-23v23m1-23v22m1-22v22m1-22v22m1-22v22m1-25v23m1-22v22m1-20v20m1-21v26m1-25v26m1-26v20m1-20v20m1-20v20m1-20v20m1-21v21m1-20v20m1-21v21m1-22v22m1-20v21m1-21v20m1-20v22m1-25v25m1-22v22m1-22v22m1-22v22m1-24v23m1-21v27m1-26v22m1-24v23m1-22v21m1-21v20m1-26v34m1-32v24m1-20v20m1-20v21m1-21v21m1-20v21m1-24v22m1-22v22m1-20v20m1-20v20m1-20v20m1-20v19m1-19v22m1-22v22m1-22v22m1-21v20m1-21v21m1-23v23m1-21v20m1-20v20m1-22v22m1-22v24m1-22v21m1-23v23m1-22v21m1-19v20m1-21v21m1-21v20m1-21v21m1-20v22m1-22v20m1-20v20m1-19v23m1-25v21m1-23v23m1-23v23m1-22v22m1-20v22m1-22v22m1-28v26m1-23v23m1-20v20m1-21v21m1-21v22m1-22v21m1-20v22m1-23v22m1-21v20m1-27v27m1-23v22m1-21v22m1-22v22m1-20v22m1-24v25m1-25v22m1-21v23m1-23v22m1-25v23m1-24v25m1-21v21m1-20v24m1-24v22m1-22v21m1-23v22m1-22v24m1-26v27m1-24v23m1-23v22m1-22v21m1-22v22m1-21v24m1-23v23m1-22v19m1-20v24m1-24v21m1-21v19m1-20v21m1-20v23m1-29v26m1-25v26m1-21v23m1-23v22m1-24v22m1-22v22m1-21v25m1-24v24m1-25v21m1-20v23m1-23v22m1-22v20m1-21v23m1-28v27m1-22v22m1-21v22m1-21v20m1-21v23m1-31v31m1-31v28m1-22v22m1-22v22m1-20v23m1-23v22m1-22v20m1-20v23m1-25v21m1-21v22m1-20v20m1-24v25m1-24v25m1-22v24m1-23v20m1-21v20m1-20v20m1-23v23m1-23v23m1-20v22m1-25v25m1-26v24m1-21v21m1-21v23m1-22v22m1-22v23m1-23v20m1-20v21m1-21v20m1-21v21m1-20v22m1-22v22m1-23v23m1-26v24m1-24v24m1-22v22m1-22v22m1-20v25m1-25v24m1-27v24m1-21v22m1-23v22m1-24v23m1-22v22m1-19v22m1-23v20m1-20v20m1-22v22m1-22v23m1-22v23m1-22v22m1-23v23m1-23v23m1-24v23m1-21v22m1-22v21m1-20v21m1-24v23m1-28v29m1-22v21m1-21v20m1-22v22m1-21v26m1-26v21m1-22v23m1-21v20m1-20v20m1-20v20m1-23v28m1-28v23m1-22v22m1-20v20m1-26v26m1-25v25m1-19v19m1-20v21m1-21v20m1-20v21m1-22v24m1-23v21m1-23v22m1-21v21m1-21v21m1-20v21m1-21v20m1-21v23m1-23v23m1-22v20m1-23v26m1-25v24m1-22v20m1-20v22m1-22v22m1-22v20m1-24v24m1-20v20m1-20v20m1-21v21m1-21v21m1-20v22m1-22v21m1-23v24m1-23v23m1-22v19m1-19v20m1-23v23m1-23v23m1-19v23m1-25v23m1-23v21m1-20v20m1-22v22m1-22v24m1-24v24m1-21v20m1-21v20m1-25v33m1-31v24m1-24v24m1-22v25m1-24v20m1-22v22m1-21v21m1-22v21m1-20v22m1-22v21m1-21v21m1-21v23m1-23v22m1-21v24m1-24v23m1-23v22m1-22v26m1-26v21m1-22v21m1-22v22m1-21v22m1-21v20m1-20v20m1-20v20m1-20v20m1-20v20m1-20v20m1-20v21m1-22v20m1-19v21m1-21v20m1-20v20m1-20v20m1-21v22m1-21v22m1-24v23m1-23v22m1-22v21m1-21v22m1-22v24m1-24v24m1-23v21m1-24v26m1-25v25m1-23v21m1-20v21m1-21v22m1-21v24m1-25v24m1-25v21m1-22v22m1-21v23m1-22v23m1-23v19m1-21v22m1-21v21m1-21v20m1-19v26m1-28v22m1-20v20m1-19v19m1-20v20m1-23v22m1-19v22m1-22v20m1-20v20m1-23v23m1-26v26m1-24v25m1-30v29m1-19v19m1-20v20m1-21v20m1-21v22m1-19v20m1-21v23m1-24v21m1-21v22m1-22v21m1-22v22m1-21v22m1-21v20m1-25v29m1-26v26"/>
<path transform="translate(230.40 168.40) scale(1 0.25)" stroke="#0000ff" d="M0 -10v22m1-25v23m1-20v20m1-20v20m1-20v21m1-23v22m1-22v22m1-23v23m1-22v23m1-22v22m1-23v24m1-22v24m1-24v23m1-25v25m1-24v25m1-25v22m1-21v20m1-22v24m1-21v20m1-22v23m1-23v20m1-20v22m1-21v21m1-22v23m1-23v21m1-21v23m1-22v22m1-22v20m1-20v22m1-24v22m1-21v21m1-21v21m1-20v21m1-21v21m1-20v20m1-21v19m1-19v20m1-20v20m1-21v21m1-21v21m1-21v22m1-21v23m1-23v20m1-20v19m1-19v21m1-21v20m1-21v21m1-20v19m1-21v25m1-23v22m1-28v28m1-22v21m1-22v21m1-21v21m1-20v23m1-23v22m1-22v23m1-24v23m1-23v22m1-23v25m1-25v22m1-20v20m1-20v23m1-24v24m1-23v20m1-20v23m1-23v21m1-22v21m1-21v22m1-21v22m1-22v21m1-21v20m1-19v21m1-22v22m1-23v21m1-21v22m1-21v21m1-22v22m1-24v23m1-22v22m1-22v27m1-25v23m1-25v25m1-24v21m1-20v22m1-22v20m1-20v21m1-22v22m1-23v22m1-20v20m1-21v21m1-20v22m1-22v20m1-23v23m1-22v22m1-20v24m1-24v22m1-22v21m1-22v23m1-22v22m1-23v22m1-21v19m1-20v21m1-21v20m1-20v23m1-22v21m1-21v21m1-21v22m1-22v21m1-22v21m1-21v21m1-20v20m1-23v23m1-20v20m1-20v20m1-20v19m1-19v21m1-21v21m1-21v19m1-20v21m1-20v23m1-23v26m1-26v24m1-25v21m1-20v21m1-21v22m1-22v27m1-30v23m1-22v22m1-20v20m1-20v20m1-20v22m1-21v20m1-23v21m1-20v23m1-22v22m1-21v19m1-20v22m1-22v20m1-21v21m1-20v20m1-20v20m1-20v20m1-20v22m1-22v21m1-21v19m1-21v28m1-26v21m1-21v23m1-23v20m1-20v22m1-22v22m1-23v21m1-24v25m1-21v20m1-20v20m1-20v26m1-26v19m1-25v29m1-23v22m1-23v22m1-21v19m1-24v25m1-24v24m1-22v22m1-21v21m1-23v25m1-24v22m1-20v21m1-20v20m1-24v24m1-23v24m1-23v24m1-24v21m1-20v20m1-20v22m1-23v22m1-24v24m1-23v22m1-20v20m1-21v21m1-21v21m1-25v25m1-28v30m1-24v22m1-20v20m1-20v20m1-20v23m1-23v22m1-21v19m1-20v20m1-20v20m1-20v20m1-20v20m1-25v26m1-22v23m1-22v21m1-22v22m1-22v23m1-24v22m1-19v19m1-20v27m1-29v23m1-23v21m1-21v22m1-22v27m1-25v24m1-24v20m1-20v19m1-19v22m1-25v24m1-22v21m1-20v19m1-18v19m1-19v19m1-20v20m1-20v20m1-20v20m1-20v20m1-19v19m1-22v22m1-19v19m1-21v20m1-20v21m1-20v20m1-20v22m1-22v19m1-20v23m1-24v24m1-27v25m1-23v23m1-20v22m1-25v24m1-26v25m1-23v23m1-20v21m1-21v22m1-21v27m1-28v20m1-20v21m1-25v24m1-23v23m1-20v24m1-24v19m1-19v21m1-21v19m1-19v20m1-21v21m1-22v23m1-21v20m1-20v21m1-23v22m1-21v22m1-21v23m1-23v22m1-22v22m1-22v23m1-23v22m1-21v21m1-23v22m1-22v21m1-21v21m1-22v22m1-22v24m1-24v23m1-21v22m1-22v21m1-21v20m1-22v22m1-20v22m1-22v20m1-20v23m1-25v24m1-24v29m1-29v23m1-24v24m1-23v23m1-23v22m1-20v20m1-21v22m1-22v22m1-22v22m1-21v21m1-21v20m1-21v21m1-20v20m1-20v23m1-23v20m1-20v20m1-20v21m1-21v22m1-22v21m1-20v20m1-21v21m1-22v24m1-23v20m1-21v21m1-21v21m1-21v23m1-23v23m1-24v21m1-20v21m1-20v19m1-20v24m1-24v22m1-21v23m1-25v26m1-26v25m1-22v22m1-25v24m1-23v21m1-20v23m1-23v22m1-24v24m1-23v22m1-21v20m1-20v26m1-26v24m1-24v22m1-23v23m1-22v21m1-22v22m1-27v27m1-25v24m1-22v22m1-21v21m1-20v19m1-27v30m1-22v22m1-22v22m1-23v23m1-23v21m1-21v21m1-20v20m1-29v29m1-24v26m1-22v22m1-24v22m1-21v21m1-23v23m1-22v24m1-22v23m1-24v22m1-22v23m1-21v21m1-22v21m1-21v21m1-21v20m1-20v20m1-20v21m1-20v19m1-21v22m1-21v20m1-20v20m1-20v24m1-24v23m1-23v20m1-27v27m1-20v22m1-22v21m1-21v20m1-21v23m1-23v22m1-21v20m1-21v22m1-24v26m1-23v22m1-24v23m1-22v21m1-20v20m1-24v24m1-22v23m1-22v23m1-23v23m1-25v23m1-22v22m1-20v21m1-22v21m1-21v22m1-22v22m1-21v20m1-21v21m1-20v20m1-20v21m1-22v21m1-21v22m1-22v22m1-21v21m1-21v20m1-22v31m1-30v21m1-20v20m1-20v25m1-25v20m1-20v19m1-21v23m1-21v20m1-20v20m1-19v20m1-20v20m1-21v20m1-22v22m1-21v21m1-20v20m1-23v24m1-21v20m1-21v21m1-21v21m1-20v21m1-21v21m1-25v24m1-25v26m1-21v22m1-21v18m1-23v24m1-23v23m1-19v18m1-19v20m1-20v20m1-19v19m1-21v20m1-19v21m1-21v21m1-27v26m1-19v19m1-21v21m1-22v27m1-25v20m1-20v22m1-22v20m1-20v19m1-20v21m1-20v20m1-21v21m1-21v21m1-20v20m1-22v22m1-21v22m1-21v20m1-20v22m1-22v22m1-22v21m1-22v25m1-26v23m1-23v22m1-21v21m1-21v21m1-21v21m1-20v22m1-22v22m1-23v22m1-21v23m1-24v24m1-26v23m1-20v21m1-24v26m1-25v23m1-23v22m1-20v20m1-20v20m1-21v21m1-22v24m1-22v20m1-20v20m1-23v23m1-21v23m1-23v23m1-24v22m1-23v25m1-25v23m1-22v22m1-22v22m1-20v20m1-22v26m1-30v28m1-22v22m1-24v23m1-21v22m1-24v25m1-24v23m1-26v25m1-24v25m1-22v20m1-20v20m1-24v24m1-23v23m1-20v20m1-20v23m1-22v21m1-24v22m1-22v26m1-24v24m1-24v25m1-25v23m1-23v22m1-21v20m1-21v21m1-22v22m1-22v21m1-20v20m1-21v22m1-22v23m1-23v21m1-20v21m1-21v20m1-20v20m1-20v20m1-23v23m1-22v22m1-23v23m1-22v22m1-20v22m1-24v24m1-24v22m1-21v21m1-21v23m1-24v24m1-24v23m1-22v21m1-21v21m1-20v20m1-21v23m1-24v24m1-22v20m1-20v20m1-21v25m1-24v22m1-22v21m1-24v25m1-25v25m1-26v26m1-24v22m1-23v23m1-20v20m1-20v23m1-24v25m1-26v23m1-21v21m1-23v22m1-22v22m1-22v25m1-23v22m1-24v25m1-25v22m1-20v20m1-24v24m1-23v24m1-22v21m1-21v22m1-21v20m1-22v22m1-22v22m1-20v22m1-22v22m1-26v25m1-21v20m1-20v20m1-23v23m1-21v22m1-21v20m1-21v22m1-21v20m1-22v22m1-21v22m1-22v21m1-22v22m1-21v21m1-21v21m1-20v22m1-22v21m1-23v22m1-20v22m1-28v27m1-24v24m1-22v24m1-23v22m1-24v21m1-19v20m1-24v24m1-23v23m1-20v22m1-22v21m1-21v20m1-20v20m1-21v21m1-19v19m1-22v23m1-21v21m1-21v20m1-20v26m1-26v24m1-24v21m1-24v23m1-22v22m1-21v21m1-20v21m1-21v26m1-26v25m1-25v24m1-25v24m1-24v22m1-21v20m1-21v21m1-22v21m1-20v21m1-20v20m1-19v19m1-20v27m1-27v20m1-19v19m1-20v20m1-20v22m1-22v22m1-22v21m1-22v21m1-22v24m1-22v21m1-21v21m1-24v23m1-22v24m1-23v23m1-22v21m1-21v20m1-20v21m1-21v22m1-22v22m1-22v20m1-22v24m1-24v24m1-24v22m1-23v25m1-24v24m1-23v21m1-20v20m1-26v26m1-23v23m1-20v20m1-19v20m1-21v27m1-27v20m1-22v22m1-22v22m1-22v25m1-24v23m1-22v20m1-23v23m1-20v21m1-21v22m1-25v25m1-24v22m1-25v25m1-20v23m1-24v23m1-22v19m1-19v20m1-20v20m1-20v20m1-20v21m1-20v21m1-24v25m1-27v26m1-22v21m1-20v18m1-19v20m1-23v22m1-19v20m1-21v25m1-24v23m1-23v21m1-23v24m1-23v22m1-23v22m1-21v23m1-23v21m1-22v26m1-25v30m1-31v24m1-23v23m1-22v22m1-25v22m1-18v19m1-20v20m1-20v20m1-21v22m1-22v27m1-27v25m1-26v22m1-22v25m1-23v21m1-27v28m1-22v22m1-23v21m1-22v22m1-22v22m1-20v23m1-23v23m1-23v25m1-25v23m1-23v20m1-20v20m1-20v20m1-22v28m1-29v29m1-27v21m1-21v21m1-23v23m1-22v22m1-20v20m1-22v22m1-21v21m1-28v29m1-21v20m1-20v20m1-20v21m1-22v22m1-21v20m1-20v23m1-23v22m1-22v20m1-22v22m1-20v20m1-20v20m1-20v20m1-19v22m1-23v22m1-21v22m1-23v20m1-22v26m1-25v24m1-23v21m1-21v23m1-25v21m1-20v23m1-23v22m1-24v23m1-19v19m1-21v21m1-20v24m1-24v25m1-26v24m1-23v20m1-20v23m1-25v22m1-20v20m1-24v24m1-20v20m1-21v23m1-23v22m1-21v20m1-20v20m1-20v20m1-21v22m1-21v22m1-22v22m1-24v26m1-25v21m1-20v21m1-21v20m1-20v20m1-20v20m1-20v21m1-22v26m1-25v22m1-23v21m1-21v21m1-20v20m1-20v20m1-20v20m1-21v21m1-21v21m1-20v22m1-23v21m1-20v20m1-20v22m1-24v23m1-22v22m1-22v21m1-22v21m1-22v23m1-20v21m1-23v23m1-22v21m1-20v20m1-20v22m1-22v22m1-22v21m1-23v22m1-21v21m1-20v22m1-24v24m1-24v21m1-21v22m1-22v22m1-23v23m1-24v24m1-20v22m1-24v24m1-23v25m1-24v24m1-24v21m1-21v20m1-20v24m1-24v22m1-22v20m1-20v22m1-22v23m1-25v22m1-21v21m1-20v20m1-20v20m1-22v25m1-23v20m1-21v23m1-23v23m1-22v20m1-20v21m1-21v21m1-21v20m1-20v25m1-25v21m1-23v22m1-21v21m1-20v21m1-22v24m1-24v23m1-23v23m1-22v20m1-21v21m1-20v20m1-21v23m1-23v22m1-24v23m1-21v24m1-22v23m1-24v20m1-20v20m1-21v21m1-26v26m1-20v21m1-20v21m1-23v23m1-23v20m1-19v21m1-21v20m1-20v19m1-20v21m1-20v20m1-20v21m1-21v20m1-20v20m1-20v20m1-24v25m1-24v26m1-23v22m1-24v22m1-22v22m1-21v21m1-23v22m1-24v25m1-23v25m1-26v26m1-26v25m1-22v21m1-24v25m1-25v24m1-22v27m1-25v26m1-26v20m1-20v19m1-20v22m1-23v24m1-22v22m1-22v20m1-20v20m1-20v20m1-23v24m1-21v21m1-21v20m1-19v21m1-22v24m1-24v21m1-21v20m1-20v23m1-26v26m1-25v21m1-20v24m1-27v25m1-24v25m1-22v22m1-28v28m1-22v20m1-20v20m1-20v20m1-19v19m1-21v24m1-23v23m1-22v19m1-20v19m1-21v24m1-22v21m1-21v20m1-19v20m1-21v23m1-26v27m1-24v23m1-24v20m1-21v22m1-19v20m1-23v22m1-21v21m1-20v22m1-23v24m1-25v22m1-21v27m1-26v23m1-23v20m1-20v21m1-23v23m1-22v21m1-21v22m1-22v21m1-20v20m1-20v20m1-21v22m1-22v23m1-22v22m1-25v25m1-25v24m1-22v22m1-23v22m1-22v22m1-22v22m1-21v21m1-21v21m1-20v21m1-23v22m1-20v22m1-22v21m1-23v22m1-22v22m1-21v21m1-26v27m1-21v20m1-20v23m1-23v20m1-20v20m1-20v21m1-21v23m1-23v23m1-25v30m1-31v25m1-24v25m1-23v22m1-22v20m1-20v19m1-19v19m1-19v20m1-20v20m1-23v25m1-23v21m1-22v23m1-22v23m1-26v26m1-24v23m1-23v22m1-23v23m1-22v23m1-21v20m1-20v19m1-21v22m1-20v22m1-21v21m1-24v23m1-22v21m1-21v21m1-20v20m1-23v23m1-20v20m1-20v20m1-25v27m1-23v22m1-22v21m1-21v22m1-21v20m1-21v20m1-20v21m1-19v18m1-20v21m1-21v24m1-25v24m1-22v19m1-19v20m1-20v20m1-19v19m1-20v20m1-20v20m1-20v23m1-23v20m1-21v23m1-22v22m1-22v26m1-28v27m1-28v23m1-20v21m1-21v20m1-20v20m1-20v23m1-23v22m1-24v25m1-25v23m1-21v22m1-24v23m1-21v20m1-25v24m1-19v22m1-22v21m1-21v19m1-19v20m1-20v22m1-22v21m1-20v19m1-23v23m1-19v21m1-22v23m1-24v25m1-24v22m1-22v20m1-21v21m1-20v20m1-22v24m1-24v25m1-28v24m1-22v23m1-23v23m1-21v24m1-23v23m1-26v23m1-24v24m1-23v24m1-23v22m1-21v21m1-20v20m1-20v20m1-20v21m1-24v23m1-22v22m1-21v23m1-23v23m1-25v27m1-26v24m1-24v24m1-22v22m1-23v23m1-24v22m1-21v21m1-22v22m1-21v21m1-26v26m1-25v25m1-20v27m1-27v20m1-22v22m1-21v21m1-21v21m1-22v22m1-20v20m1-20v20m1-20v20m1-22v24m1-24v24m1-22v20m1-20v20m1-20v20m1-20v22m1-22v26m1-26v24m1-24v20m1-20v20m1-20v20m1-19v19m1-19v25m1-26v26m1-28v22m1-22v21m1-21v24m1-23v21m1-20v20m1-20v20m1-20v20m1-20v20m1-22v22m1-22v22m1-20v20m1-20v20m1-23v24m1-24v24m1-22v21m1-22v23m1-23v21m1-20v21m1-21v21m1-22v23m1-22v21m1-22v22m1-20v20m1-20v21m1-21v20m1-19v23m1-24v20m1-20v20m1-19v19m1-19v22m1-23v26m1-26v24m1-24v21m1-21v22m1-22v23m1-25v22m1-21v23m1-22v22m1-22v20m1-21v23m1-23v21m1-20v22m1-22v19m1-19v20m1-19v19m1-20v20m1-22v24m1-23v23m1-22v20m1-22v24m1-24v22m1-20v20m1-20v20m1-25v28m1-27v24m1-21v21m1-21v22m1-21v20m1-25v27m1-25v24m1-21v20m1-23v25m1-25v25m1-25v24m1-24v22m1-19v19m1-25v26m1-21v24m1-23v19m1-18v20m1-22v23m1-23v23m1-22v20m1-22v22m1-21v24m1-23v23m1-26v25m1-22v21m1-24v25m1-25v23m1-21v22m1-22v22m1-22v22m1-22v21m1-20v23m1-25v24m1-24v21m1-19v22m1-23v21m1-21v21m1-20v20m1-22v25m1-23v21m1-21v21m1-21v20m1-20v19m1-19v20m1-24v24m1-25v25m1-24v24m1-21v21m1-31v31m1-30v30m1-20v22m1-24v22m1-22v23m1-21v20m1-24v26m1-25v25m1-22v22m1-22v20m1-20v21m1-20v20m1-21v21m1-21v22m1-23v22m1-21v21m1-23v22m1-21v21m1-21v24m1-23v21m1-24v23m1-23v23m1-22v24m1-24v23m1-21v21m1-21v20m1-21v21m1-21v21m1-21v23m1-23v29m1-28v21m1-20v19m1-19v21m1-24v23m1-24v24m1-24v32m1-29v21m1-21v21m1-21v22m1-25v26m1-25v25m1-25v24m1-22v22m1-23v22m1-21v19m1-19v20m1-21v22m1-22v23m1-22v20m1-20v20m1-21v22m1-22v23m1-24v26m1-25v27m1-27v26m1-27v23m1-23v22m1-22v24m1-23v21m1-21v22m1-21v20m1-20v20m1-20v20m1-20v20m1-21v21m1-21v21m1-20v20m1-20v21m1-21v19m1-19v20m1-20v22m1-23v23m1-23v21m1-19v19m1-20v20m1-20v20m1-20v20m1-25v27m1-26v24m1-21v21m1-21v21m1-24v26m1-22v20m1-22v22m1-24v24m1-19v22m1-28v27m1-27v25m1-25v25m1-21v21m1-23v24m1-23v21m1-19v20m1-20v20m1-20v20m1-22v21m1-22v22m1-19v20m1-20v20m1-21v23m1-24v23m1-22v21m1-20v23m1-26v26m1-25v24m1-22v20m1-20v20m1-20v21m1-21v21m1-24v23m1-23v23m1-21v23m1-22v22m1-22v28m1-28v21m1-20v20m1-21v20m1-20v20m1-23v25m1-23v22m1-21v20m1-22v24m1-24v23m1-20v24m1-27v23m1-23v22m1-20v20m1-20v21m1-20v20m1-21v21m1-21v20m1-20v20m1-21v21m1-19v19m1-19v19m1-20v20m1-22v22m1-22v21m1-19v20m1-25v25m1-20v19m1-19v20m1-21v20m1-20v21m1-20v21m1-21v21m1-21v20m1-23v26m1-26v23m1-22v22m1-20v21m1-22v21m1-22v22m1-22v24m1-25v25m1-25v26m1-26v26m1-25v23m1-23v22m1-23v27m1-26v23m1-22v21m1-20v20m1-22v22m1-24v25m1-23v22m1-22v22m1-23v22m1-22v23m1-22v26m1-26v23m1-23v23m1-24v24m1-22v22m1-21v23m1-23v22m1-22v20m1-21v20m1-18v20m1-21v21m1-22v21m1-22v22m1-19v21m1-22v22m1-22v20m1-21v21m1-20v20m1-20v21m1-21v22m1-23v21m1-22v22m1-22v22m1-22v22m1-22v21m1-22v23m1-26v28m1-22v20m1-20v20m1-22v21m1-21v22m1-20v20m1-20v20m1-22v28m1-27v26m1-25v20m1-21v21m1-20v23m1-23v22m1-22v20m1-24v31m1-30v23m1-22v22m1-22v22m1-22v22m1-20v20m1-20v25m1-26v21m1-29v31m1-22v21m1-21v21m1-22v22m1-20v20m1-22v21m1-20v20m1-20v20m1-20v20m1-20v20m1-20v20m1-24v25m1-21v21m1-21v19m1-19v20m1-24v24m1-23v24m1-26v25m1-30v32m1-23v23m1-22v21m1-21v21m1-24v25m1-22v20m1-20v26m1-29v29m1-27v22m1-23v22m1-20v20m1-22v22m1-21v22m1-21v21m1-21v21m1-21v22m1-25v22m1-19v20m1-19v23m1-27v25m1-24v22m1-23v23m1-23v23m1-20v19m1-18v21m1-22v22m1-22v19m1-19v19m1-20v23m1-22v20m1-20v20m1-20v20m1-20v20m1-22v25m1-27v26m1-25v25m1-22v24m1-24v23m1-23v20m1-20v23m1-23v22m1-23v25"/>
<path transform="translate(230.40 206.84) scale(1 0.25)" stroke="#008000" d="M0 -9v22m1-23v23m1-28v25m1-22v23m1-21v22m1-22v21m1-22v23m1-23v21m1-20v21m1-21v20m1-20v20m1-20v20m1-20v24m1-29v29m1-24v22m1-22v23m1-24v21m1-20v20m1-19v19m1-20v20m1-20v21m1-21v22m1-22v25m1-24v23m1-24v20m1-21v22m1-24v24m1-23v22m1-22v24m1-25v26m1-23v20m1-22v22m1-20v20m1-24v24m1-22v22m1-20v20m1-24v24m1-24v26m1-24v23m1-23v21m1-19v21m1-21v21m1-22v21m1-21v20m1-21v22m1-21v21m1-21v23m1-24v23m1-21v21m1-23v22m1-25v27m1-22v22m1-22v22m1-23v21m1-22v24m1-23v23m1-22v20m1-20v22m1-22v22m1-22v20m1-20v20m1-21v21m1-20v20m1-23v30m1-27v20m1-20v21m1-21v20m1-20v20m1-22v22m1-23v23m1-21v21m1-20v20m1-20v20m1-24v24m1-22v22m1-22v26m1-26v25m1-24v21m1-20v22m1-23v23m1-26v24m1-20v23m1-23v20m1-22v22m1-22v23m1-21v22m1-22v23m1-25v25m1-24v23m1-24v23m1-24v28m1-25v20m1-20v25m1-25v23m1-25v26m1-25v21m1-21v22m1-21v20m1-20v20m1-20v20m1-20v21m1-23v22m1-22v22m1-21v21m1-20v20m1-21v21m1-22v23m1-24v23m1-25v34m1-34v27m1-23v21m1-22v24m1-22v21m1-23v22m1-21v23m1-26v30m1-29v23m1-20v22m1-22v19m1-21v23m1-23v24m1-22v22m1-22v21m1-22v22m1-21v21m1-23v25m1-23v22m1-22v22m1-23v20m1-19v21m1-21v21m1-21v20m1-20v20m1-19v19m1-20v20m1-20v20m1-20v22m1-23v21m1-22v22m1-22v24m1-22v23m1-24v25m1-25v21m1-23v24m1-21v21m1-23v22m1-22v25m1-26v25m1-23v22m1-21v20m1-23v23m1-21v21m1-20v20m1-25v31m1-26v20m1-21v22m1-24v22m1-22v23m1-21v21m1-22v23m1-25v24m1-23v31m1-32v24m1-23v23m1-20v20m1-20v23m1-23v26m1-26v20m1-20v21m1-22v21m1-21v21m1-20v21m1-21v22m1-22v26m1-28v23m1-22v21m1-20v19m1-19v20m1-20v20m1-20v20m1-20v20m1-20v19m1-20v22m1-22v21m1-21v21m1-21v21m1-22v25m1-23v21m1-21v21m1-25v24m1-20v20m1-22v22m1-22v22m1-23v27m1-26v26m1-24v20m1-21v26m1-25v25m1-27v25m1-25v24m1-24v22m1-22v23m1-21v21m1-21v29m1-29v20m1-20v20m1-20v20m1-23v23m1-23v23m1-22v22m1-21v21m1-21v21m1-20v20m1-22v22m1-20v20m1-21v24m1-24v24m1-23v20m1-20v20m1-20v20m1-20v22m1-22v20m1-20v24m1-24v22m1-22v21m1-21v20m1-20v20m1-23v23m1-23v24m1-21v24m1-24v23m1-23v20m1-20v21m1-21v21m1-21v20m1-22v22m1-19v19m1-20v20m1-24v24m1-20v20m1-20v20m1-22v22m1-22v22m1-22v24m1-24v24m1-22v22m1-22v22m1-23v23m1-23v23m1-24v24m1-23v21m1-21v21m1-20v22m1-22v23m1-25v24m1-24v24m1-22v20m1-19v19m1-20v20m1-23v28m1-26v21m1-20v20m1-20v22m1-22v20m1-19v19m1-20v21m1-21v22m1-21v19m1-21v21m1-22v22m1-23v23m1-22v23m1-22v21m1-21v24m1-23v20m1-20v23m1-23v22m1-23v23m1-22v24m1-26v25m1-27v25m1-24v23m1-20v22m1-21v20m1-21v20m1-20v20m1-20v20m1-20v20m1-20v22m1-30v29m1-21v20m1-20v20m1-21v24m1-24v23m1-22v20m1-20v20m1-20v21m1-23v27m1-25v24m1-24v21m1-21v20m1-24v24m1-20v23m1-25v22m1-22v22m1-20v21m1-21v20m1-20v22m1-22v22m1-22v20m1-19v21m1-24v24m1-24v22m1-20v21m1-21v22m1-22v22m1-24v22m1-21v26m1-26v25m1-24v22m1-22v20m1-20v26m1-26v24m1-26v25m1-25v24m1-26v24m1-23v25m1-22v23m1-23v20m1-20v22m1-24v23m1-21v21m1-21v22m1-22v19m1-19v20m1-20v23m1-23v22m1-22v20m1-21v21m1-20v22m1-22v21m1-24v23m1-23v24m1-22v21m1-21v21m1-20v21m1-21v20m1-20v20m1-20v20m1-20v20m1-20v20m1-20v20m1-22v22m1-20v20m1-20v20m1-20v20m1-24v27m1-23v22m1-22v20m1-21v21m1-21v21m1-19v19m1-20v20m1-22v22m1-22v22m1-20v20m1-20v20m1-20v20m1-21v21m1-22v27m1-26v21m1-22v22m1-20v26m1-26v26m1-27v21m1-21v23m1-22v20m1-22v22m1-21v23m1-22v23m1-23v22m1-23v21m1-20v26m1-26v20m1-20v20m1-21v22m1-23v22m1-22v22m1-22v23m1-21v20m1-19v21m1-23v21m1-20v20m1-20v21m1-21v21m1-24v24m1-23v25m1-23v23m1-25v22m1-22v22m1-22v22m1-22v22m1-22v24m1-23v26m1-26v25m1-24v20m1-20v20m1-20v21m1-21v22m1-25v25m1-24v25m1-23v22m1-22v21m1-21v20m1-20v22m1-22v25m1-26v27m1-27v22m1-21v22m1-22v22m1-24v24m1-22v21m1-21v21m1-23v22m1-20v19m1-20v21m1-21v23m1-30v29m1-21v20m1-21v21m1-21v20m1-18v19m1-21v22m1-22v23m1-22v21m1-21v20m1-20v22m1-23v23m1-22v19m1-20v22m1-22v22m1-21v21m1-21v20m1-20v21m1-23v24m1-24v25m1-23v20m1-25v26m1-24v28m1-25v20m1-21v21m1-20v20m1-21v21m1-22v22m1-21v22m1-22v21m1-20v20m1-20v22m1-29v29m1-23v22m1-21v21m1-23v22m1-22v24m1-24v23m1-21v20m1-19v19m1-22v23m1-23v24m1-22v20m1-20v20m1-20v20m1-20v20m1-20v21m1-24v26m1-23v22m1-22v21m1-22v22m1-23v21m1-19v25m1-25v20m1-20v20m1-20v20m1-20v23m1-23v22m1-22v20m1-22v26m1-26v24m1-25v23m1-23v25m1-26v25m1-24v25m1-25v23m1-20v21m1-21v25m1-26v27m1-25v19m1-20v20m1-20v21m1-20v22m1-23v26m1-26v26m1-27v21m1-20v21m1-21v21m1-21v20m1-20v20m1-20v22m1-23v22m1-21v24m1-24v24m1-24v20m1-20v20m1-20v20m1-20v20m1-22v22m1-24v23m1-21v22m1-21v21m1-20v22m1-24v23m1-22v23m1-24v22m1-22v22m1-20v20m1-20v20m1-20v20m1-20v20m1-21v21m1-23v24m1-21v21m1-21v20m1-22v22m1-22v22m1-19v19m1-20v20m1-20v20m1-26v28m1-26v26m1-23v22m1-21v20m1-20v20m1-22v23m1-21v19m1-21v28m1-27v25m1-24v23m1-23v23m1-23v22m1-22v20m1-20v20m1-20v19m1-19v26m1-25v22m1-23v22m1-23v21m1-22v21m1-20v21m1-20v20m1-20v20m1-20v20m1-21v21m1-20v22m1-24v23m1-22v21m1-23v23m1-22v22m1-22v22m1-23v24m1-21v22m1-24v22m1-21v21m1-20v21m1-21v21m1-23v22m1-20v20m1-24v27m1-25v23m1-21v22m1-22v22m1-23v21m1-21v20m1-20v23m1-27v25m1-23v22m1-19v20m1-21v21m1-21v21m1-21v23m1-22v21m1-23v23m1-24v23m1-20v20m1-20v20m1-20v20m1-21v23m1-23v22m1-25v24m1-23v23m1-20v21m1-21v22m1-24v25m1-25v23m1-23v23m1-21v19m1-19v20m1-20v20m1-25v25m1-24v27m1-24v24m1-24v20m1-19v21m1-21v21m1-21v20m1-21v23m1-22v23m1-25v22m1-22v22m1-19v19m1-20v20m1-20v19m1-19v23m1-25v23m1-24v28m1-25v21m1-21v21m1-23v23m1-21v22m1-24v24m1-23v20m1-20v21m1-22v22m1-21v27m1-26v20m1-21v21m1-20v27m1-29v25m1-24v22m1-21v20m1-22v22m1-21v21m1-20v20m1-21v21m1-21v23m1-23v23m1-24v23m1-22v22m1-21v20m1-20v20m1-22v23m1-22v22m1-25v24m1-25v25m1-20v24m1-24v22m1-23v23m1-22v21m1-21v21m1-22v21m1-19v19m1-23v23m1-22v21m1-19v22m1-22v21m1-21v20m1-19v19m1-20v20m1-20v20m1-24v26m1-26v26m1-25v23m1-20v20m1-21v25m1-24v23m1-23v22m1-24v26m1-26v25m1-25v22m1-21v22m1-21v21m1-20v19m1-22v22m1-21v23m1-22v20m1-20v20m1-22v22m1-19v19m1-20v20m1-20v20m1-20v22m1-22v22m1-22v22m1-22v21m1-22v22m1-21v20m1-20v20m1-22v22m1-21v24m1-23v22m1-24v27m1-26v27m1-28v27m1-24v19m1-20v20m1-20v25m1-25v24m1-24v20m1-21v25m1-24v24m1-24v21m1-24v23m1-24v24m1-20v20m1-25v27m1-22v22m1-22v22m1-22v20m1-20v20m1-21v21m1-20v21m1-21v21m1-23v22m1-21v21m1-20v21m1-24v25m1-23v20m1-27v28m1-19v19m1-20v22m1-22v20m1-24v26m1-25v24m1-21v23m1-23v20m1-22v22m1-20v21m1-23v24m1-24v22m1-20v22m1-23v25m1-27v26m1-23v20m1-21v21m1-20v20m1-20v21m1-21v22m1-22v19m1-20v21m1-20v20m1-23v27m1-24v23m1-23v22m1-24v23m1-21v20m1-23v25m1-22v21m1-21v22m1-25v25m1-23v23m1-22v22m1-23v22m1-21v20m1-20v20m1-20v20m1-29v30m1-23v22m1-22v22m1-21v25m1-25v20m1-20v22m1-21v22m1-22v22m1-24v23m1-23v22m1-20v20m1-20v20m1-20v20m1-21v24m1-24v21m1-20v23m1-23v22m1-22v23m1-26v25m1-25v25m1-24v25m1-24v25m1-24v23m1-23v20m1-20v20m1-21v23m1-23v21m1-20v20m1-22v25m1-23v22m1-22v20m1-20v21m1-20v19m1-21v22m1-23v25m1-22v20m1-24v24m1-23v22m1-20v22m1-22v22m1-22v19m1-20v21m1-20v21m1-23v22m1-21v25m1-29v24m1-23v27m1-24v23m1-27v25m1-25v25m1-20v20m1-24v25m1-21v21m1-20v18m1-19v20m1-25v25m1-24v25m1-23v24m1-24v25m1-24v22m1-21v21m1-24v24m1-24v23m1-20v23m1-24v23m1-22v21m1-21v20m1-19v19m1-22v21m1-19v19m1-19v20m1-21v21m1-20v20m1-20v20m1-20v21m1-22v21m1-21v21m1-20v19m1-19v20m1-20v25m1-25v20m1-20v22m1-22v20m1-20v19m1-18v18m1-21v22m1-23v23m1-22v22m1-20v20m1-22v23m1-23v23m1-25v24m1-20v22m1-23v21m1-22v22m1-22v23m1-22v20m1-19v20m1-20v21m1-21v21m1-22v23m1-22v22m1-22v24m1-24v22m1-22v21m1-21v20m1-20v22m1-22v20m1-20v22m1-27v28m1-25v23m1-21v22m1-21v22m1-25v23m1-23v22m1-22v22m1-21v22m1-21v20m1-19v19m1-28v28m1-29v29m1-21v24m1-23v22m1-22v20m1-19v20m1-21v21m1-21v20m1-20v22m1-26v24m1-23v23m1-23v22m1-21v22m1-22v22m1-20v20m1-25v29m1-29v25m1-22v24m1-25v23m1-22v22m1-22v22m1-21v21m1-20v21m1-21v23m1-23v23m1-24v21m1-22v22m1-22v22m1-23v24m1-25v24m1-23v23m1-20v21m1-21v21m1-21v20m1-21v21m1-20v20m1-20v21m1-22v21m1-23v24m1-21v20m1-20v20m1-19v19m1-27v27m1-20v19m1-19v21m1-22v21m1-22v22m1-20v20m1-23v27m1-24v20m1-19v21m1-22v21m1-21v20m1-26v26m1-20v21m1-21v20m1-21v21m1-20v21m1-21v20m1-21v21m1-23v25m1-25v23m1-24v24m1-20v20m1-22v24m1-24v23m1-21v21m1-22v23m1-25v26m1-23v23m1-30v29m1-23v22m1-23v22m1-20v20m1-20v21m1-21v20m1-21v22m1-21v20m1-20v20m1-20v20m1-20v20m1-19v19m1-20v20m1-20v20m1-24v27m1-26v26m1-23v21m1-21v22m1-22v20m1-22v22m1-22v22m1-21v23m1-22v22m1-22v20m1-20v21m1-23v22m1-23v23m1-23v31m1-28v25m1-27v22m1-22v27m1-25v20m1-20v22m1-24v23m1-23v22m1-21v21m1-23v24m1-23v22m1-20v20m1-22v22m1-22v21m1-20v21m1-21v21m1-19v19m1-19v19m1-20v21m1-20v19m1-23v23m1-22v24m1-24v21m1-19v20m1-20v20m1-20v22m1-25v23m1-22v23m1-22v22m1-21v21m1-23v22m1-21v21m1-23v23m1-22v22m1-21v21m1-21v22m1-21v21m1-22v21m1-20v20m1-26v26m1-23v23m1-22v22m1-21v22m1-24v28m1-25v23m1-26v23m1-22v25m1-25v22m1-22v22m1-21v21m1-20v21m1-22v22m1-22v21m1-20v21m1-21v21m1-24v23m1-23v23m1-20v20m1-20v20m1-20v22m1-22v21m1-21v23m1-25v24m1-24v24m1-22v20m1-20v22m1-22v22m1-24v27m1-26v24m1-24v23m1-23v26m1-30v28m1-23v23m1-23v20m1-20v20m1-20v24m1-24v23m1-26v25m1-22v22m1-30v30m1-25v22m1-21v24m1-23v22m1-21v20m1-19v19m1-23v23m1-23v23m1-23v23m1-22v22m1-20v20m1-20v22m1-22v20m1-20v23m1-23v23m1-24v21m1-21v23m1-24v24m1-24v22m1-21v22m1-21v20m1-20v20m1-20v21m1-25v25m1-21v22m1-22v23m1-23v20m1-22v22m1-22v22m1-19v20m1-22v22m1-21v21m1-23v23m1-21v19m1-21v22m1-20v20m1-23v23m1-22v23m1-21v20m1-20v22m1-22v20m1-21v25m1-25v24m1-24v21m1-21v21m1-22v22m1-22v23m1-21v21m1-24v23m1-22v22m1-20v20m1-20v21m1-21v21m1-22v22m1-22v22m1-25v23m1-19v20m1-20v22m1-22v20m1-22v24m1-22v19m1-25v26m1-20v20m1-21v22m1-22v21m1-21v23m1-24v24m1-23v26m1-27v26m1-26v24m1-22v20m1-20v22m1-23v22m1-21v20m1-22v22m1-23v26m1-26v25m1-23v21m1-20v20m1-20v19m1-21v22m1-22v25m1-25v26m1-24v20m1-22v22m1-21v21m1-20v26m1-27v25m1-26v24m1-23v22m1-25v24m1-20v21m1-21v20m1-20v20m1-22v25m1-25v24m1-24v23m1-21v19m1-19v19m1-20v23m1-24v25m1-23v22m1-22v21m1-23v22m1-22v22m1-22v26m1-24v24m1-24v20m1-20v20m1-21v23m1-22v22m1-24v22m1-21v21m1-20v20m1-20v21m1-21v20m1-24v24m1-20v20m1-20v20m1-21v22m1-23v28m1-25v24m1-25v21m1-22v22m1-20v20m1-21v20m1-20v21m1-22v23m1-22v21m1-22v21m1-22v24m1-23v22m1-23v22m1-22v22m1-21v21m1-22v24m1-24v23m1-21v22m1-22v19m1-19v20m1-20v24m1-24v23m1-23v23m1-23v22m1-21v25m1-29v23m1-20v21m1-21v20m1-22v25m1-22v21m1-22v28m1-27v19m1-20v21m1-24v23m1-23v23m1-20v22m1-24v22m1-21v21m1-20v21m1-23v22m1-23v23m1-22v28m1-29v28m1-27v22m1-20v20m1-20v20m1-20v22m1-22v20m1-24v24m1-24v26m1-24v24m1-22v20m1-20v21m1-22v23m1-22v20m1-21v27m1-26v24m1-25v22m1-21v21m1-21v22m1-23v22m1-21v20m1-20v20m1-20v27m1-27v21m1-21v23m1-23v21m1-21v22m1-30v30m1-23v22m1-21v20m1-22v25m1-24v23m1-26v27m1-22v21m1-24v22m1-20v21m1-21v20m1-21v21m1-21v20m1-21v23m1-24v24m1-24v24m1-23v24m1-23v22m1-21v20m1-19v19m1-21v21m1-23v23m1-21v23m1-22v20m1-19v19m1-20v20m1-20v23m1-24v22m1-21v20m1-20v19m1-19v20m1-21v23m1-22v21m1-22v23m1-22v20m1-22v25m1-24v22m1-20v21m1-23v21m1-26v26m1-21v21m1-21v24m1-23v20m1-23v24m1-24v23m1-21v21m1-20v20m1-20v20m1-22v25m1-23v23m1-23v20m1-20v25m1-28v23m1-20v22m1-22v22m1-21v19m1-20v20m1-20v22m1-22v21m1-21v19m1-19v21m1-22v22m1-22v21m1-20v21m1-21v20m1-22v22m1-21v22m1-21v21m1-21v20m1-20v22m1-22v26m1-27v26m1-27v21m1-19v22m1-22v22m1-22v22m1-22v22m1-22v20m1-21v21m1-21v21m1-21v21m1-20v21m1-21v20m1-20v20m1-20v26m1-27v26m1-28v25m1-22v20m1-20v20m1-20v20m1-21v21m1-20v22m1-24v23m1-22v21m1-21v24m1-24v23m1-24v26m1-23v22m1-25v22m1-28v28m1-20v20m1-25v27m1-27v25m1-22v24m1-22v20m1-21v23m1-22v25m1-25v25m1-27v22m1-21v21m1-20v20m1-19v21m1-23v22m1-24v23m1-22v23m1-22v22m1-22v27m1-27v25m1-25v25m1-25v25m1-26v25m1-25v26m1-26v24m1-24v22m1-22v22m1-22v24m1-22v21m1-22v21m1-21v21m1-19v18m1-20v24m1-23v21m1-22v21m1-20v20m1-20v28m1-27v19m1-20v20m1-22v22m1-21v22m1-21v20m1-20v20m1-28v28m1-20v20m1-20v20m1-20v20m1-20v21m1-23v23m1-21v20m1-20v20m1-20v23m1-23v22m1-23v23m1-22v22m1-22v24m1-24v23m1-23v20m1-20v21m1-21v21m1-21v20m1-20v20m1-20v21m1-25v25m1-24v27m1-24v24m1-33v29m1-22v22m1-24v24m1-23v23m1-23v23m1-22v22m1-22v22m1-27v27m1-20v26m1-33v27m1-23v25m1-22v22m1-23v21m1-22v22m1-22v22m1-22v24m1-24v23m1-22v24m1-22v22m1-23v20m1-21v21m1-21v21m1-22v22m1-27v26m1-19v20m1-24v24m1-20v20m1-20v25m1-24v19m1-21v21m1-20v20m1-22v22m1-21v21m1-26v25m1-24v26m1-22v22m1-23v22m1-22v21m1-19v20m1-23v23m1-20v21m1-21v20m1-20v20m1-20v20m1-21v22m1-21v20m1-22v22m1-22v22m1-21v27m1-26v27m1-27v22"/>
<path transform="translate(230.40 245.25) scale(1 0.25)" stroke="#000000" d="M0 -10v20m1-20v24m1-25v24m1-23v20m1-22v22m1-20v19m1-19v19m1-21v22m1-21v24m1-24v24m1-23v20m1-20v20m1-21v21m1-21v24m1-24v23m1-24v22m1-20v22m1-22v22m1-21v19m1-20v20m1-21v23m1-23v22m1-21v20m1-20v20m1-20v20m1-21v22m1-21v20m1-20v20m1-20v21m1-21v21m1-21v20m1-21v21m1-21v22m1-21v20m1-23v23m1-20v20m1-20v20m1-23v25m1-22v20m1-22v22m1-23v25m1-25v24m1-22v21m1-20v23m1-25v24m1-22v22m1-22v20m1-20v20m1-20v22m1-22v21m1-23v22m1-21v21m1-22v22m1-21v23m1-23v21m1-21v21m1-21v23m1-24v23m1-22v21m1-23v23m1-24v24m1-24v24m1-20v24m1-24v23m1-23v20m1-20v20m1-22v21m1-19v20m1-24v24m1-22v22m1-20v22m1-23v24m1-24v24m1-23v22m1-22v19m1-19v21m1-23v22m1-21v22m1-23v25m1-25v25m1-22v20m1-21v24m1-29v27m1-23v21m1-22v22m1-22v23m1-24v24m1-21v20m1-24v29m1-28v23m1-20v22m1-21v21m1-23v21m1-23v25m1-27v29m1-32v30m1-21v21m1-23v21m1-21v21m1-21v23m1-24v23m1-21v19m1-20v21m1-20v20m1-22v23m1-24v24m1-25v25m1-24v26m1-23v22m1-22v21m1-21v24m1-24v21m1-22v24m1-24v27m1-29v24m1-26v24m1-22v23m1-22v26m1-26v26m1-26v22m1-21v21m1-22v22m1-20v20m1-22v23m1-22v21m1-21v23m1-23v23m1-22v20m1-21v22m1-23v22m1-20v20m1-21v22m1-21v20m1-20v20m1-22v22m1-20v19m1-19v20m1-20v20m1-20v20m1-22v22m1-22v25m1-24v25m1-26v24m1-22v23m1-23v22m1-22v23m1-23v22m1-24v22m1-22v22m1-25v27m1-22v20m1-20v20m1-20v20m1-20v26m1-30v27m1-27v25m1-22v22m1-22v23m1-23v21m1-21v23m1-23v22m1-22v22m1-21v20m1-20v23m1-23v24m1-26v24m1-24v22m1-23v24m1-21v20m1-20v20m1-20v22m1-22v19m1-19v26m1-26v24m1-23v19m1-21v21m1-20v20m1-21v21m1-20v23m1-23v23m1-25v23m1-21v22m1-22v21m1-22v21m1-22v22m1-28v28m1-20v20m1-21v21m1-22v22m1-20v20m1-24v26m1-22v21m1-24v23m1-19v21m1-22v21m1-21v24m1-24v23m1-23v20m1-21v22m1-25v25m1-21v25m1-26v21m1-23v26m1-25v22m1-23v23m1-20v20m1-21v26m1-26v21m1-19v20m1-21v24m1-25v24m1-24v21m1-20v20m1-21v24m1-23v22m1-23v24m1-25v24m1-22v20m1-20v20m1-20v21m1-23v23m1-23v25m1-24v22m1-23v22m1-20v20m1-21v21m1-20v19m1-19v22m1-24v24m1-24v23m1-22v21m1-20v26m1-27v24m1-23v20m1-20v20m1-19v19m1-20v19m1-19v20m1-20v21m1-21v21m1-23v24m1-23v23m1-21v20m1-26v28m1-27v31m1-27v20m1-20v20m1-20v19m1-22v24m1-24v25m1-22v20m1-27v27m1-23v24m1-24v24m1-21v20m1-24v23m1-19v19m1-22v27m1-26v22m1-22v22m1-22v22m1-22v22m1-21v21m1-20v20m1-20v20m1-24v24m1-24v24m1-22v21m1-20v21m1-20v21m1-21v20m1-20v21m1-20v20m1-21v20m1-20v22m1-23v24m1-23v24m1-24v20m1-22v22m1-22v24m1-22v22m1-22v21m1-21v22m1-22v20m1-21v21m1-21v22m1-23v23m1-23v24m1-23v24m1-25v26m1-26v24m1-23v23m1-22v22m1-22v22m1-22v21m1-20v19m1-22v22m1-21v23m1-24v22m1-22v21m1-19v20m1-22v23m1-21v19m1-19v20m1-20v21m1-21v21m1-23v22m1-22v25m1-25v25m1-24v21m1-20v21m1-21v20m1-20v23m1-28v25m1-23v25m1-21v20m1-22v23m1-23v22m1-21v22m1-22v20m1-21v23m1-24v24m1-22v21m1-21v20m1-20v19m1-19v22m1-22v22m1-22v22m1-22v20m1-20v20m1-24v24m1-23v23m1-28v28m1-23v23m1-21v24m1-23v22m1-22v22m1-22v20m1-22v21m1-20v21m1-21v21m1-19v24m1-24v21m1-26v28m1-28v27m1-23v20m1-23v25m1-25v23m1-22v22m1-19v19m1-21v21m1-20v20m1-24v24m1-24v24m1-20v21m1-22v23m1-22v21m1-22v22m1-22v23m1-24v24m1-23v21m1-20v20m1-20v20m1-19v19m1-20v20m1-19v20m1-21v20m1-20v22m1-22v21m1-21v19m1-21v22m1-22v22m1-20v20m1-20v25m1-25v24m1-24v22m1-23v20m1-22v23m1-22v22m1-20v22m1-22v21m1-21v20m1-20v20m1-20v20m1-20v20m1-20v20m1-19v19m1-20v26m1-26v20m1-20v20m1-20v20m1-20v20m1-20v22m1-22v21m1-21v20m1-23v25m1-22v26m1-28v22m1-22v25m1-25v25m1-25v22m1-22v21m1-19v22m1-22v20m1-23v24m1-21v20m1-21v22m1-21v22m1-22v20m1-23v23m1-28v28m1-22v22m1-19v19m1-21v21m1-21v21m1-22v24m1-23v21m1-22v22m1-21v21m1-24v24m1-23v23m1-21v21m1-20v20m1-22v24m1-25v25m1-25v24m1-22v21m1-20v20m1-22v23m1-24v24m1-20v21m1-23v22m1-22v21m1-20v22m1-22v26m1-26v21m1-20v19m1-20v21m1-22v21m1-21v21m1-21v20m1-20v23m1-22v22m1-23v22m1-23v23m1-25v24m1-22v21m1-20v21m1-20v20m1-20v20m1-20v20m1-21v21m1-20v21m1-20v20m1-25v25m1-21v22m1-22v22m1-22v20m1-22v24m1-26v24m1-23v23m1-22v22m1-22v22m1-20v21m1-21v21m1-20v22m1-24v21m1-20v20m1-22v22m1-22v22m1-21v21m1-21v23m1-22v21m1-22v23m1-23v22m1-21v20m1-20v21m1-21v21m1-21v23m1-23v22m1-26v24m1-24v24m1-22v22m1-23v22m1-19v20m1-20v20m1-20v22m1-24v24m1-22v23m1-25v22m1-22v24m1-22v20m1-23v26m1-27v27m1-23v22m1-24v23m1-23v23m1-21v21m1-23v22m1-21v20m1-19v20m1-22v21m1-19v20m1-22v22m1-23v22m1-22v24m1-23v22m1-20v20m1-20v23m1-26v25m1-24v23m1-21v20m1-20v21m1-21v23m1-23v23m1-23v22m1-22v20m1-22v24m1-25v24m1-23v22m1-21v21m1-24v24m1-23v23m1-21v23m1-23v24m1-23v23m1-25v22m1-20v20m1-20v20m1-23v23m1-21v21m1-20v21m1-21v21m1-21v22m1-23v23m1-22v20m1-20v22m1-24v22m1-19v20m1-21v23m1-25v25m1-25v24m1-23v22m1-21v20m1-20v20m1-23v23m1-25v25m1-22v23m1-23v22m1-23v23m1-20v20m1-20v20m1-20v21m1-24v23m1-23v23m1-22v24m1-23v24m1-24v26m1-25v25m1-25v21m1-21v20m1-19v19m1-21v23m1-24v21m1-20v21m1-20v20m1-19v22m1-23v23m1-23v20m1-19v20m1-21v21m1-20v25m1-27v20m1-20v22m1-27v27m1-21v21m1-22v21m1-20v20m1-21v21m1-21v22m1-22v29m1-28v20m1-20v20m1-21v23m1-22v24m1-24v24m1-25v21m1-26v27m1-25v26m1-24v22m1-21v21m1-19v21m1-24v23m1-23v25m1-26v25m1-24v24m1-21v20m1-24v23m1-20v20m1-21v21m1-20v20m1-22v23m1-23v27m1-25v19m1-19v20m1-20v23m1-26v23m1-22v21m1-19v20m1-20v20m1-20v21m1-21v21m1-21v21m1-21v21m1-23v23m1-23v22m1-20v23m1-24v22m1-21v20m1-21v20m1-19v20m1-20v20m1-20v22m1-23v22m1-23v23m1-21v20m1-22v24m1-24v22m1-20v21m1-21v20m1-23v23m1-22v22m1-19v19m1-26v29m1-24v24m1-24v21m1-22v22m1-22v21m1-23v24m1-24v27m1-25v22m1-22v22m1-20v20m1-21v21m1-27v27m1-20v23m1-23v21m1-22v21m1-25v25m1-26v29m1-23v23m1-26v22m1-22v23m1-20v20m1-20v21m1-27v27m1-25v24m1-20v20m1-23v23m1-22v25m1-23v25m1-26v24m1-23v21m1-22v23m1-24v22m1-22v23m1-21v20m1-20v20m1-20v23m1-23v21m1-22v21m1-21v21m1-22v25m1-24v23m1-22v21m1-24v25m1-22v22m1-22v19m1-19v20m1-20v20m1-20v20m1-22v23m1-21v21m1-21v20m1-20v21m1-20v20m1-26v25m1-24v25m1-25v26m1-25v22m1-20v22m1-22v21m1-21v21m1-19v21m1-22v21m1-22v24m1-23v21m1-22v21m1-20v20m1-20v22m1-23v22m1-21v19m1-19v20m1-20v22m1-25v25m1-24v22m1-21v23m1-25v24m1-24v23m1-21v21m1-22v24m1-23v22m1-24v23m1-24v27m1-26v25m1-24v22m1-23v23m1-22v25m1-23v20m1-20v20m1-24v25m1-23v23m1-24v23m1-27v27m1-20v21m1-21v21m1-22v22m1-22v23m1-24v23m1-22v21m1-19v18m1-25v27m1-26v25m1-22v22m1-21v20m1-19v20m1-19v19m1-20v20m1-21v21m1-21v21m1-21v21m1-20v21m1-21v20m1-20v21m1-24v24m1-26v33m1-32v25m1-21v21m1-25v24m1-21v21m1-20v20m1-20v20m1-20v22m1-28v25m1-19v20m1-20v20m1-20v22m1-25v23m1-26v26m1-24v26m1-23v21m1-21v20m1-18v19m1-24v24m1-24v24m1-20v19m1-19v21m1-21v21m1-21v20m1-20v22m1-24v26m1-24v20m1-20v22m1-22v22m1-22v22m1-24v22m1-22v24m1-22v20m1-20v20m1-26v28m1-24v25m1-25v24m1-24v23m1-22v22m1-21v20m1-23v23m1-22v23m1-23v25m1-25v24m1-22v21m1-21v25m1-25v20m1-19v21m1-22v21m1-22v21m1-20v26m1-26v19m1-18v19m1-21v21m1-22v21m1-19v19m1-19v20m1-20v20m1-20v20m1-23v23m1-20v21m1-21v20m1-20v20m1-20v22m1-24v27m1-27v26m1-26v26m1-25v23m1-31v30m1-21v26m1-26v25m1-25v19m1-19v24m1-26v28m1-28v24m1-24v23m1-21v20m1-20v21m1-23v23m1-24v25m1-22v26m1-26v24m1-25v22m1-23v22m1-20v20m1-20v20m1-21v23m1-22v20m1-22v22m1-22v22m1-23v23m1-20v20m1-22v25m1-23v21m1-21v20m1-19v20m1-24v29m1-28v28m1-27v23m1-21v21m1-23v23m1-23v21m1-20v20m1-21v22m1-27v27m1-27v26m1-24v24m1-25v25m1-23v25m1-27v26m1-25v24m1-19v20m1-20v27m1-31v23m1-26v26m1-20v20m1-20v22m1-22v22m1-22v21m1-21v21m1-21v20m1-19v19m1-22v24m1-24v22m1-20v22m1-22v19m1-20v21m1-20v21m1-22v21m1-21v20m1-19v20m1-21v24m1-23v23m1-23v20m1-20v22m1-23v25m1-25v24m1-23v20m1-22v27m1-25v21m1-21v20m1-20v20m1-20v20m1-22v22m1-21v20m1-19v21m1-21v21m1-21v20m1-22v22m1-22v22m1-21v20m1-19v20m1-20v20m1-21v21m1-26v25m1-19v20m1-20v20m1-20v20m1-22v22m1-22v22m1-20v24m1-24v23m1-23v20m1-23v23m1-20v22m1-23v24m1-27v31m1-33v28m1-26v27m1-23v21m1-23v22m1-21v23m1-22v20m1-21v23m1-23v21m1-20v21m1-24v26m1-23v22m1-23v21m1-19v19m1-21v23m1-23v24m1-23v26m1-32v27m1-21v20m1-20v21m1-21v22m1-23v23m1-23v24m1-26v25m1-23v23m1-22v22m1-22v20m1-22v22m1-21v21m1-21v21m1-20v21m1-21v21m1-21v20m1-23v23m1-24v24m1-20v21m1-23v23m1-23v24m1-24v23m1-22v21m1-20v23m1-23v23m1-23v23m1-28v25m1-24v26m1-22v22m1-23v21m1-20v20m1-20v21m1-24v24m1-24v23m1-22v22m1-21v21m1-22v23m1-22v21m1-22v22m1-20v21m1-21v21m1-22v23m1-23v23m1-23v21m1-20v20m1-20v22m1-22v20m1-20v19m1-19v20m1-20v20m1-20v21m1-21v19m1-24v25m1-20v21m1-22v21m1-21v24m1-24v21m1-21v21m1-20v21m1-21v22m1-22v22m1-22v22m1-22v20m1-20v20m1-20v21m1-24v23m1-22v22m1-21v23m1-22v22m1-23v24m1-24v21m1-22v22m1-22v23m1-21v20m1-23v22m1-22v25m1-25v23m1-20v20m1-20v20m1-20v21m1-21v20m1-21v21m1-20v21m1-21v23m1-23v23m1-25v22m1-20v22m1-22v20m1-20v22m1-22v21m1-22v24m1-23v22m1-22v20m1-20v20m1-21v23m1-23v21m1-20v19m1-20v22m1-21v24m1-24v23m1-29v27m1-25v24m1-20v20m1-19v22m1-25v28m1-27v21m1-20v20m1-21v20m1-19v20m1-20v21m1-21v21m1-21v21m1-21v24m1-26v24m1-22v20m1-20v20m1-23v25m1-22v20m1-20v20m1-20v22m1-22v21m1-23v22m1-21v22m1-22v22m1-22v21m1-22v24m1-23v22m1-22v22m1-22v23m1-23v24m1-30v29m1-22v22m1-23v22m1-22v23m1-23v21m1-20v20m1-20v22m1-28v27m1-21v22m1-22v21m1-21v20m1-20v19m1-20v21m1-22v22m1-21v21m1-20v20m1-20v20m1-21v21m1-23v25m1-21v21m1-23v25m1-24v23m1-23v20m1-20v21m1-22v21m1-22v22m1-23v22m1-22v23m1-21v21m1-23v24m1-23v23m1-21v20m1-20v20m1-20v20m1-21v21m1-22v28m1-27v20m1-19v20m1-22v22m1-22v21m1-20v21m1-21v21m1-26v26m1-22v22m1-22v22m1-21v20m1-20v21m1-21v22m1-23v31m1-31v26m1-26v22m1-20v20m1-20v20m1-20v26m1-26v23m1-24v23m1-22v21m1-21v20m1-20v20m1-20v20m1-20v20m1-23v24m1-21v20m1-20v20m1-20v20m1-20v20m1-24v25m1-24v25m1-22v22m1-23v21m1-22v22m1-20v22m1-26v27m1-23v22m1-23v22m1-21v22m1-24v23m1-22v23m1-23v21m1-21v24m1-23v28m1-28v20m1-20v23m1-24v23m1-22v20m1-20v20m1-20v22m1-23v21m1-21v23m1-23v22m1-22v20m1-19v20m1-20v20m1-21v21m1-20v20m1-20v21m1-21v21m1-24v25m1-23v22m1-21v20m1-20v20m1-20v22m1-22v20m1-23v23m1-23v23m1-20v22m1-22v21m1-21v22m1-22v22m1-23v21m1-20v21m1-21v20m1-20v22m1-22v22m1-22v21m1-21v20m1-21v23m1-24v24m1-24v23m1-21v20m1-20v22m1-23v22m1-22v21m1-20v25m1-27v23m1-23v23m1-23v24m1-24v23m1-23v22m1-22v22m1-20v20m1-20v20m1-20v21m1-22v21m1-22v26m1-25v22m1-24v23m1-23v24m1-22v22m1-22v21m1-20v20m1-20v20m1-21v21m1-22v23m1-22v21m1-22v25m1-24v24m1-23v21m1-21v25m1-25v25m1-25v21m1-21v19m1-19v26m1-26v21m1-22v22m1-22v22m1-22v22m1-21v20m1-19v21m1-24v23m1-23v22m1-21v21m1-21v21m1-22v22m1-21v21m1-23v23m1-22v22m1-19v19m1-21v21m1-21v21m1-20v20m1-22v22m1-23v23m1-22v22m1-23v22m1-20v22m1-20v23m1-25v21m1-21v22m1-21v20m1-21v21m1-19v21m1-24v24m1-22v22m1-22v22m1-22v20m1-20v24m1-24v24m1-26v22m1-22v22m1-21v21m1-20v20m1-21v23m1-22v22m1-22v21m1-21v22m1-23v22m1-21v20m1-22v22m1-21v21m1-21v21m1-20v23m1-23v20m1-20v21m1-21v20m1-20v20m1-20v20m1-20v23m1-23v20m1-21v29m1-29v21m1-20v21m1-22v21m1-22v25m1-24v24m1-23v20m1-20v21m1-22v21m1-20v20m1-24v24m1-23v24m1-25v24m1-22v23m1-21v20m1-22v30m1-30v26m1-24v23m1-24v25m1-24v23m1-23v22m1-24v23m1-22v28m1-28v24m1-23v20m1-22v22m1-21v23m1-22v22m1-22v22m1-22v20m1-20v20m1-20v22m1-24v24m1-25v32m1-31v24m1-22v21m1-21v22m1-21v19m1-20v20m1-20v20m1-20v20m1-20v21m1-21v23m1-23v22m1-21v19m1-20v20m1-23v26m1-23v22m1-22v20m1-22v22m1-21v20m1-19v22m1-23v22m1-20v19m1-20v20m1-21v21m1-20v24m1-24v22m1-22v27m1-30v24m1-24v26m1-25v24m1-28v28m1-25v24m1-22v22m1-23v26m1-25v21m1-22v22m1-22v22m1-22v23m1-21v21m1-22v21m1-20v20m1-23v24m1-23v25m1-23v22m1-23v22m1-26v27m1-26v24m1-20v23m1-23v22m1-22v20m1-20v21m1-24v25m1-24v22m1-21v24m1-23v20m1-20v20m1-20v23m1-31v28m1-21v21m1-21v24m1-23v20m1-20v20m1-21v22m1-21v20m1-20v20m1-23v23m1-23v23m1-21v21m1-20v20m1-20v20m1-20v22m1-22v20m1-20v20m1-20v20m1-20v22m1-22v23m1-24v23m1-22v20m1-23v26m1-23v22m1-22v20m1-20v22m1-22v22m1-22v20m1-22v24m1-22v23m1-23v23m1-29v28m1-27v30m1-25v20m1-20v23m1-25v22m1-19v21m1-24v24m1-26v24m1-23v23m1-21v21m1-20v23m1-23v20m1-20v20m1-20v20m1-21v21m1-20v20m1-21v24m1-24v24m1-23v21m1-26v30m1-28v28m1-29v25m1-20v19m1-20v20m1-20v20m1-20v20m1-20v20m1-20v20m1-22v23m1-21v21m1-24v24m1-23v25m1-28v27m1-22v20m1-22v23m1-23v22m1-20v20m1-21v21m1-24v24m1-20v27m1-27v20m1-20v22m1-23v22m1-21v20m1-22v25m1-25v22m1-20v20m1-20v23m1-22v21m1-23v23m1-23v22m1-21v20m1-19v18m1-19v22m1-22v21m1-21v22m1-23v23m1-23v28m1-35v32m1-24v20m1-21v23m1-23v23m1-23v22m1-22v21m1-20v22m1-23v21m1-21v21m1-20v20m1-20v21m1-22v21m1-20v20m1-21v21m1-20v20m1-20v20"/>
<path transform="translate(230.40 283.60) scale(1 0.25)" stroke="#ff0000" d="M0 -12v22m1-22v24m1-23v22m1-25v24m1-22v23m1-22v22m1-23v22m1-24v25m1-22v21m1-21v21m1-23v25m1-26v25m1-24v23m1-22v22m1-22v22m1-22v24m1-24v24m1-22v21m1-21v26m1-29v29m1-26v20m1-21v21m1-24v24m1-24v25m1-22v21m1-21v24m1-23v22m1-26v27m1-23v26m1-26v20m1-20v20m1-21v22m1-22v22m1-22v22m1-21v20m1-22v24m1-23v21m1-28v29m1-22v21m1-22v24m1-26v29m1-28v27m1-24v23m1-23v23m1-24v24m1-23v24m1-25v21m1-21v21m1-22v23m1-23v23m1-23v22m1-20v20m1-21v21m1-23v23m1-22v23m1-21v20m1-21v21m1-22v22m1-21v21m1-21v24m1-25v25m1-30v27m1-22v22m1-20v21m1-21v20m1-20v20m1-20v23m1-23v20m1-21v21m1-23v23m1-26v30m1-24v22m1-22v20m1-19v20m1-20v21m1-22v24m1-24v19m1-19v20m1-20v20m1-20v20m1-20v22m1-21v20m1-22v21m1-20v20m1-20v21m1-21v20m1-20v22m1-24v22m1-21v20m1-20v23m1-22v20m1-20v20m1-19v19m1-20v20m1-20v20m1-20v20m1-20v20m1-19v20m1-21v21m1-23v22m1-20v20m1-24v27m1-24v21m1-22v22m1-23v24m1-24v29m1-28v28m1-27v21m1-20v20m1-21v21m1-20v20m1-23v24m1-21v22m1-22v21m1-22v22m1-21v22m1-22v26m1-26v20m1-19v24m1-25v20m1-21v21m1-22v22m1-22v22m1-20v20m1-21v21m1-21v20m1-19v20m1-20v20m1-21v26m1-26v23m1-25v23m1-22v24m1-22v21m1-21v20m1-20v20m1-20v20m1-20v20m1-27v27m1-20v19m1-19v19m1-19v20m1-20v20m1-20v21m1-22v21m1-20v21m1-20v21m1-21v19m1-22v29m1-29v21m1-19v20m1-20v20m1-20v19m1-20v23m1-22v22m1-22v20m1-22v22m1-22v22m1-21v23m1-27v27m1-22v22m1-25v24m1-23v23m1-21v21m1-21v21m1-22v22m1-23v25m1-23v22m1-22v21m1-23v24m1-24v22m1-20v20m1-20v21m1-20v22m1-24v24m1-23v22m1-23v22m1-22v21m1-20v19m1-18v19m1-21v23m1-21v21m1-22v20m1-20v23m1-23v20m1-22v22m1-21v21m1-19v19m1-20v20m1-20v22m1-21v20m1-21v20m1-23v23m1-22v22m1-21v23m1-22v23m1-23v20m1-20v23m1-26v25m1-23v21m1-21v21m1-22v22m1-21v25m1-24v23m1-23v24m1-25v24m1-25v24m1-24v22m1-21v21m1-20v20m1-21v23m1-23v23m1-23v24m1-23v22m1-26v25m1-23v24m1-22v21m1-22v20m1-21v23m1-21v22m1-22v21m1-21v23m1-25v24m1-23v22m1-20v20m1-21v20m1-20v20m1-20v20m1-20v21m1-21v21m1-21v20m1-22v22m1-20v23m1-23v24m1-29v26m1-25v24m1-22v22m1-22v22m1-21v24m1-25v24m1-23v24m1-23v21m1-21v20m1-23v22m1-24v25m1-23v23m1-26v31m1-28v28m1-25v21m1-22v21m1-21v21m1-20v20m1-22v23m1-23v23m1-22v21m1-22v22m1-21v23m1-22v22m1-22v20m1-20v23m1-23v19m1-19v20m1-20v21m1-23v23m1-23v22m1-20v20m1-20v21m1-21v20m1-21v23m1-23v23m1-23v23m1-24v23m1-20v19m1-21v21m1-20v22m1-26v26m1-26v25m1-23v22m1-22v22m1-22v21m1-21v23m1-20v22m1-24v24m1-24v21m1-20v23m1-26v25m1-22v22m1-21v20m1-21v21m1-22v22m1-21v20m1-20v20m1-21v21m1-21v22m1-21v21m1-24v23m1-23v23m1-20v22m1-24v23m1-23v23m1-22v28m1-30v23m1-22v23m1-23v23m1-23v21m1-19v20m1-20v19m1-19v20m1-21v23m1-23v22m1-21v20m1-21v21m1-21v23m1-22v23m1-25v24m1-23v21m1-21v22m1-21v22m1-22v22m1-22v20m1-20v20m1-20v20m1-23v25m1-25v23m1-21v22m1-22v21m1-21v21m1-21v22m1-21v20m1-19v19m1-20v21m1-21v21m1-20v19m1-21v21m1-20v20m1-20v23m1-26v23m1-23v26m1-24v22m1-23v26m1-24v23m1-23v20m1-20v25m1-27v22m1-22v22m1-20v20m1-20v20m1-20v20m1-21v29m1-28v22m1-22v20m1-22v25m1-24v21m1-23v23m1-22v22m1-20v20m1-26v28m1-27v27m1-25v24m1-22v24m1-23v20m1-20v19m1-19v20m1-20v21m1-23v21m1-21v22m1-33v35m1-35v35m1-22v20m1-21v21m1-21v23m1-42v59m1-58v57m1-39v23m1-22v20m1-49v59m1-34v25m1-33v33m1-23v23m1-21v20m1-23v30m1-27v26m1-26v22m1-22v22m1-22v20m1-20v21m1-21v20m1-22v23m1-24v24m1-23v22m1-21v21m1-20v22m1-23v21m1-20v20m1-20v20m1-19v19m1-21v23m1-23v22m1-23v26m1-25v24m1-22v22m1-25v24m1-24v22m1-22v23m1-21v19m1-20v21m1-21v21m1-20v21m1-21v23m1-25v24m1-22v20m1-21v20m1-22v22m1-22v23m1-22v25m1-24v23m1-23v20m1-19v21m1-21v20m1-24v24m1-24v23m1-20v21m1-20v20m1-20v20m1-22v22m1-22v23m1-21v21m1-22v21m1-21v24m1-24v25m1-25v25m1-27v23m1-27v26m1-21v22m1-26v28m1-22v20m1-23v25m1-22v21m1-23v22m1-21v23m1-22v22m1-22v23m1-23v20m1-20v20m1-20v20m1-22v22m1-21v21m1-21v22m1-21v22m1-24v26m1-33v32m1-23v20m1-20v26m1-26v22m1-24v22m1-20v21m1-23v22m1-21v21m1-23v23m1-20v20m1-20v20m1-19v19m1-22v22m1-20v20m1-20v20m1-22v23m1-22v22m1-21v28m1-27v21m1-23v21m1-21v21m1-22v22m1-20v22m1-25v24m1-22v21m1-20v21m1-21v20m1-20v20m1-21v21m1-21v22m1-23v23m1-20v21m1-22v22m1-24v23m1-22v23m1-27v25m1-20v21m1-25v25m1-25v24m1-22v22m1-22v22m1-21v21m1-23v23m1-23v24m1-24v24m1-21v21m1-21v21m1-23v23m1-23v22m1-21v21m1-21v22m1-21v22m1-24v24m1-22v20m1-21v23m1-22v22m1-24v23m1-22v23m1-22v22m1-22v22m1-22v22m1-23v21m1-24v24m1-21v21m1-21v21m1-20v20m1-20v21m1-21v22m1-22v22m1-23v21m1-19v19m1-20v28m1-36v27m1-19v21m1-22v22m1-22v23m1-22v21m1-21v21m1-21v20m1-21v22m1-22v22m1-21v21m1-21v20m1-20v22m1-22v20m1-20v23m1-23v22m1-24v24m1-24v23m1-20v19m1-20v20m1-20v21m1-21v26m1-30v24m1-20v20m1-20v21m1-22v22m1-21v19m1-19v19m1-19v22m1-22v21m1-23v24m1-28v29m1-23v23m1-28v27m1-22v20m1-20v20m1-19v21m1-22v20m1-20v23m1-23v22m1-22v20m1-20v20m1-20v20m1-22v22m1-21v20m1-23v24m1-20v20m1-19v20m1-21v20m1-20v20m1-23v23m1-23v23m1-20v21m1-28v29m1-24v22m1-22v23m1-22v20m1-20v20m1-19v20m1-20v21m1-21v20m1-20v19m1-22v23m1-23v23m1-22v22m1-22v23m1-21v22m1-22v22m1-24v23m1-23v21m1-20v21m1-19v19m1-20v20m1-21v21m1-21v21m1-20v20m1-20v22m1-22v21m1-21v19m1-19v20m1-20v20m1-20v20m1-21v23m1-25v23m1-20v20m1-20v22m1-22v21m1-24v23m1-24v24m1-24v24m1-22v22m1-20v20m1-20v22m1-22v23m1-23v22m1-22v23m1-24v21m1-22v22m1-22v23m1-20v19m1-20v26m1-26v20m1-20v20m1-20v22m1-22v23m1-26v25m1-23v21m1-21v21m1-21v21m1-23v23m1-26v28m1-23v23m1-24v22m1-20v20m1-20v20m1-22v22m1-20v21m1-21v23m1-23v21m1-23v25m1-24v22m1-22v20m1-19v20m1-20v20m1-20v21m1-24v22m1-22v27m1-25v25m1-24v23m1-24v22m1-22v21m1-21v21m1-22v22m1-21v21m1-22v22m1-22v22m1-20v20m1-27v27m1-21v24m1-25v24m1-23v20m1-19v23m1-22v21m1-23v22m1-21v20m1-23v27m1-24v23m1-23v20m1-20v20m1-19v20m1-21v20m1-23v29m1-29v28m1-25v22m1-22v28m1-28v22m1-22v22m1-25v23m1-20v28m1-28v21m1-21v21m1-21v20m1-19v19m1-21v22m1-21v20m1-20v22m1-22v21m1-21v26m1-26v25m1-26v21m1-20v22m1-24v23m1-22v21m1-20v20m1-23v23m1-20v21m1-21v23m1-23v22m1-22v19m1-20v21m1-23v23m1-23v23m1-20v22m1-22v21m1-21v20m1-20v21m1-21v22m1-22v22m1-22v20m1-21v21m1-19v21m1-22v21m1-23v23m1-23v24m1-24v23m1-20v21m1-25v25m1-25v23m1-20v26m1-28v24m1-24v23m1-21v20m1-20v20m1-22v22m1-22v22m1-20v20m1-19v19m1-23v23m1-21v22m1-22v23m1-23v23m1-23v24m1-23v19m1-19v21m1-25v24m1-22v24m1-22v22m1-22v20m1-20v26m1-26v26m1-26v25m1-25v23m1-24v21m1-22v23m1-22v23m1-21v19m1-21v22m1-22v23m1-22v20m1-21v22m1-23v23m1-23v25m1-25v22m1-19v20m1-21v20m1-20v21m1-22v21m1-20v20m1-21v21m1-22v22m1-19v20m1-21v21m1-22v23m1-22v24m1-24v25m1-26v24m1-23v20m1-20v24m1-26v25m1-26v28m1-27v22m1-26v26m1-20v21m1-21v20m1-21v22m1-23v27m1-25v24m1-24v23m1-24v25m1-24v20m1-20v21m1-21v21m1-21v22m1-22v20m1-21v21m1-23v25m1-24v22m1-20v21m1-22v21m1-21v24m1-23v22m1-22v24m1-25v25m1-26v24m1-22v20m1-20v20m1-20v20m1-20v20m1-20v20m1-20v20m1-20v21m1-23v25m1-23v20m1-21v20m1-21v21m1-21v22m1-21v21m1-25v25m1-19v19m1-24v24m1-22v22m1-24v24m1-23v22m1-19v20m1-20v20m1-21v21m1-23v24m1-23v22m1-21v22m1-24v24m1-24v23m1-22v23m1-23v23m1-21v21m1-23v24m1-24v21m1-19v20m1-20v23m1-22v21m1-23v21m1-22v22m1-21v23m1-28v29m1-25v22m1-21v21m1-22v22m1-22v22m1-23v22m1-21v22m1-22v22m1-21v21m1-20v19m1-18v19m1-20v22m1-22v21m1-21v20m1-21v21m1-21v20m1-20v22m1-22v21m1-20v22m1-25v26m1-25v23m1-22v21m1-20v22m1-22v21m1-21v20m1-23v25m1-23v22m1-20v20m1-21v23m1-26v25m1-26v24m1-24v24m1-22v22m1-21v23m1-23v23m1-28v26m1-24v29m1-25v23m1-23v23m1-23v24m1-25v24m1-23v20m1-20v20m1-21v24m1-25v24m1-23v27m1-26v24m1-24v21m1-29v28m1-22v26m1-24v21m1-21v20m1-19v19m1-20v20m1-20v20m1-20v21m1-23v27m1-27v23m1-21v20m1-22v22m1-22v22m1-20v20m1-21v21m1-20v22m1-23v23m1-23v21m1-21v21m1-27v28m1-20v21m1-23v21m1-20v20m1-20v22m1-25v25m1-23v22m1-24v23m1-20v20m1-20v20m1-22v22m1-21v21m1-21v21m1-21v20m1-19v20m1-23v23m1-22v24m1-22v20m1-22v24m1-24v24m1-22v22m1-23v21m1-21v21m1-20v20m1-22v23m1-22v23m1-23v25m1-24v24m1-24v23m1-23v20m1-20v20m1-20v20m1-20v20m1-20v22m1-23v22m1-21v21m1-21v20m1-20v20m1-20v20m1-20v20m1-21v23m1-24v24m1-22v21m1-21v20m1-21v21m1-20v21m1-20v21m1-24v24m1-23v22m1-23v22m1-21v22m1-21v22m1-22v20m1-20v20m1-20v20m1-22v24m1-23v22m1-21v21m1-20v19m1-20v23m1-26v26m1-23v23m1-22v21m1-24v25m1-24v21m1-21v21m1-20v20m1-19v23m1-26v26m1-25v21m1-21v21m1-20v20m1-20v19m1-20v22m1-22v21m1-20v22m1-23v22m1-22v24m1-23v26m1-26v25m1-26v21m1-20v20m1-23v24m1-24v24m1-21v22m1-22v28m1-27v22m1-23v21m1-23v22m1-22v23m1-21v22m1-21v20m1-24v23m1-20v19m1-19v22m1-26v25m1-24v23m1-22v22m1-21v21m1-19v20m1-21v20m1-20v25m1-26v25m1-27v23m1-20v23m1-28v28m1-25v22m1-20v21m1-21v21m1-20v19m1-20v21m1-21v20m1-22v22m1-20v19m1-24v25m1-20v20m1-20v22m1-22v21m1-21v19m1-23v24m1-23v24m1-21v21m1-21v22m1-22v22m1-22v20m1-22v24m1-23v22m1-21v20m1-20v23m1-23v21m1-21v22m1-22v20m1-22v24m1-27v27m1-24v23m1-24v23m1-23v27m1-26v22m1-22v23m1-24v23m1-20v23m1-23v22m1-22v20m1-20v20m1-20v22m1-22v21m1-21v20m1-23v24m1-23v21m1-22v25m1-24v22m1-20v20m1-21v21m1-20v21m1-21v22m1-27v25m1-20v22m1-23v23m1-21v19m1-20v25m1-27v22m1-20v20m1-22v23m1-23v24m1-24v23m1-22v22m1-21v21m1-21v21m1-20v20m1-21v20m1-22v22m1-22v21m1-21v22m1-20v20m1-20v20m1-20v20m1-20v20m1-22v22m1-22v24m1-27v27m1-26v23m1-19v22m1-22v22m1-22v22m1-22v22m1-22v20m1-21v22m1-23v22m1-21v21m1-20v21m1-23v22m1-20v20m1-23v23m1-23v25m1-22v20m1-20v19m1-19v22m1-22v21m1-21v20m1-21v22m1-22v20m1-19v23m1-25v24m1-24v23m1-22v21m1-20v28m1-28v20m1-22v22m1-21v23m1-23v23m1-24v24m1-30v30m1-22v23m1-23v21m1-23v22m1-21v21m1-20v23m1-26v25m1-25v24m1-23v22m1-21v23m1-24v23m1-22v21m1-20v19m1-18v19m1-22v24m1-23v27m1-26v25m1-24v24m1-25v21m1-21v23m1-24v24m1-24v21m1-20v20m1-21v21m1-20v20m1-25v25m1-20v20m1-20v19m1-19v21m1-22v21m1-22v22m1-22v25m1-23v22m1-24v23m1-21v23m1-25v22m1-22v22m1-25v26m1-21v20m1-20v21m1-24v25m1-22v23m1-23v22m1-22v20m1-20v23m1-24v24m1-24v21m1-20v22m1-22v20m1-20v20m1-20v20m1-21v21m1-20v20m1-20v20m1-19v20m1-21v20m1-20v19m1-24v25m1-22v23m1-23v23m1-23v22m1-24v27m1-25v28m1-29v29m1-26v21m1-21v22m1-22v21m1-21v20m1-20v20m1-20v20m1-20v19m1-19v20m1-21v21m1-20v22m1-23v20m1-19v20m1-20v20m1-20v20m1-20v20m1-20v20m1-20v20m1-20v21m1-21v21m1-23v24m1-23v23m1-26v24m1-19v21m1-22v23m1-23v20m1-21v21m1-22v21m1-19v26m1-26v20m1-20v20m1-20v20m1-20v25m1-27v26m1-25v23m1-22v19m1-21v23m1-23v23m1-24v24m1-20v18m1-21v26m1-25v21m1-20v20m1-20v20m1-20v22m1-24v23m1-22v22m1-21v20m1-20v20m1-20v25m1-26v24m1-24v20m1-19v20m1-22v28m1-28v22m1-22v24m1-24v23m1-22v24m1-23v23m1-23v23m1-23v23m1-24v23m1-23v23m1-23v22m1-24v24m1-21v21m1-21v22m1-22v21m1-21v22m1-22v22m1-25v24m1-23v24m1-22v21m1-26v27m1-24v22m1-21v21m1-20v20m1-20v20m1-21v27m1-26v25m1-26v21m1-21v21m1-20v20m1-24v24m1-20v21m1-21v20m1-22v22m1-21v23m1-22v20m1-20v22m1-24v24m1-23v22m1-21v27m1-28v21m1-22v22m1-22v22m1-20v20m1-24v24m1-23v23m1-21v23m1-22v21m1-21v20m1-22v24m1-22v22m1-24v22m1-21v21m1-21v21m1-22v22m1-20v20m1-21v21m1-21v21m1-21v23m1-23v21m1-20v20m1-20v24m1-24v22m1-24v23m1-21v20m1-21v24m1-28v25m1-23v23m1-23v23m1-19v19m1-20v19m1-19v20m1-22v24m1-24v23m1-22v26m1-34v29m1-22v22m1-22v23m1-23v23m1-22v22m1-21v23m1-28v25m1-25v26m1-20v20m1-21v21m1-21v20m1-20v23m1-24v23m1-22v21m1-24v24m1-23v22m1-20v20m1-20v22m1-24v24m1-22v22m1-26v25m1-23v22m1-21v20m1-23v24m1-24v24m1-20v23m1-23v20m1-20v20m1-21v21m1-21v26m1-25v23m1-24v21m1-20v20m1-20v21m1-20v23m1-27v25m1-24v23m1-22v26m1-26v27m1-27v26m1-27v24m1-24v22m1-21v23m1-25v23m1-20v20m1-20v21m1-21v22m1-21v21m1-26v26m1-21v20m1-21v19m1-19v20m1-21v23m1-22v21m1-23v26m1-24v23m1-25v22m1-20v20m1-46v67m1-66v64m1-41v23m1-21v22m1-22v22m1-23v29m1-30v22m1-22v23m1-35v35m1-23v23m1-29v33m1-26v25m1-23v20m1-21v20m1-23v23m1-23v23m1-22v23m1-22v21m1-20v22m1-22v22m1-21v22m1-22v21m1-22v21m1-21v21m1-22v21m1-21v21m1-21v21m1-20v20m1-22v22m1-22v22m1-20v22m1-22v21m1-22v22m1-23v22m1-22v25m1-23v21m1-23v23m1-24v22m1-19v20m1-23v25m1-24v24m1-22v21m1-21v22m1-22v20m1-21v25m1-24v20m1-22v22m1-21v21m1-24v24m1-23v25m1-24v21m1-20v21m1-21v21m1-20v23m1-23v20m1-20v19m1-19v20m1-23v23m1-23v29m1-28v25m1-25v22m1-21v21m1-20v20m1-23v23m1-23v23m1-19v19m1-21v21m1-19v19m1-21v21m1-22v22m1-21v21m1-19v22m1-23v22m1-22v21m1-21v21m1-21v20m1-20v22m1-23v22m1-22v21m1-25v25m1-23v23m1-22v44m1-42v23m1-23v20m1-20v22m1-22v21m1-22v23m1-23v21m1-22v23m1-22v21m1-23v24m1-23v23m1-23v22m1-20v22m1-22v21m1-21v22m1-22v22m1-22v22m1-22v22m1-28v26m1-20v19"/>
<path transform="translate(230.40 322.05) scale(1 0.25)" stroke="#0000ff" d="M0 -11v22m1-21v24m1-25v24m1-23v20m1-20v20m1-20v22m1-22v21m1-21v28m1-29v21m1-21v21m1-23v23m1-28v28m1-20v20m1-19v19m1-20v21m1-21v22m1-23v23m1-29v28m1-22v20m1-19v20m1-20v22m1-22v22m1-22v23m1-26v26m1-24v24m1-23v20m1-20v25m1-27v22m1-22v22m1-20v21m1-21v22m1-24v24m1-23v21m1-20v21m1-21v21m1-21v22m1-22v22m1-22v22m1-24v24m1-24v22m1-20v21m1-28v30m1-23v19m1-19v21m1-21v21m1-21v23m1-23v22m1-23v22m1-21v21m1-22v21m1-22v22m1-21v21m1-23v24m1-24v25m1-25v23m1-20v26m1-26v21m1-21v21m1-21v21m1-21v21m1-23v22m1-22v22m1-20v20m1-21v21m1-20v24m1-24v23m1-25v22m1-21v22m1-22v21m1-20v20m1-21v21m1-20v21m1-27v27m1-25v26m1-22v20m1-21v21m1-21v20m1-19v21m1-22v21m1-21v21m1-20v20m1-21v21m1-22v22m1-19v19m1-21v21m1-20v23m1-23v23m1-22v18m1-21v23m1-23v24m1-22v22m1-22v20m1-20v20m1-22v21m1-21v22m1-20v20m1-20v20m1-19v21m1-21v21m1-22v22m1-22v22m1-22v20m1-20v20m1-20v22m1-22v22m1-23v21m1-22v22m1-21v28m1-29v25m1-25v22m1-22v21m1-20v21m1-23v23m1-26v25m1-19v22m1-22v20m1-20v20m1-21v20m1-20v27m1-29v27m1-24v20m1-21v22m1-21v22m1-21v22m1-25v24m1-23v22m1-20v22m1-23v23m1-23v21m1-21v20m1-20v20m1-22v22m1-20v21m1-23v25m1-28v25m1-24v24m1-21v21m1-24v24m1-19v19m1-20v21m1-21v20m1-20v19m1-19v19m1-19v21m1-21v21m1-21v20m1-20v19m1-22v23m1-23v23m1-22v23m1-21v21m1-22v21m1-21v21m1-20v22m1-23v29m1-31v26m1-25v22m1-20v24m1-24v22m1-23v21m1-21v21m1-20v21m1-21v21m1-21v20m1-22v22m1-21v25m1-24v22m1-24v23m1-21v22m1-23v22m1-21v26m1-26v24m1-26v22m1-22v22m1-22v22m1-20v20m1-20v20m1-20v22m1-21v21m1-23v21m1-22v22m1-21v21m1-22v22m1-20v20m1-20v21m1-21v20m1-26v26m1-24v24m1-23v23m1-21v21m1-20v20m1-23v23m1-19v19m1-20v25m1-28v23m1-21v24m1-25v22m1-22v22m1-20v22m1-21v22m1-23v23m1-23v23m1-23v24m1-25v21m1-23v23m1-22v25m1-24v23m1-22v20m1-20v20m1-20v20m1-20v20m1-20v22m1-22v23m1-23v23m1-23v20m1-20v20m1-20v20m1-20v20m1-20v20m1-21v21m1-20v23m1-23v20m1-22v22m1-22v25m1-24v21m1-21v22m1-22v22m1-21v22m1-24v25m1-25v25m1-23v23m1-23v21m1-21v20m1-20v20m1-22v22m1-21v22m1-27v25m1-19v20m1-22v21m1-20v20m1-22v25m1-22v20m1-25v25m1-24v25m1-21v27m1-27v21m1-22v22m1-22v21m1-21v20m1-19v20m1-20v21m1-22v23m1-22v23m1-23v20m1-20v20m1-20v20m1-22v22m1-20v20m1-20v20m1-21v21m1-21v21m1-20v23m1-23v23m1-23v22m1-22v21m1-21v22m1-24v23m1-22v21m1-21v21m1-21v21m1-26v26m1-23v24m1-22v21m1-21v22m1-21v22m1-24v24m1-23v23m1-24v23m1-25v24m1-20v22m1-25v25m1-22v22m1-27v26m1-25v25m1-20v21m1-24v23m1-23v22m1-22v22m1-21v23m1-25v25m1-22v22m1-24v22m1-20v22m1-21v21m1-24v25m1-23v20m1-22v23m1-21v27m1-29v23m1-24v25m1-25v24m1-23v30m1-28v20m1-20v20m1-20v20m1-20v22m1-27v26m1-26v24m1-20v21m1-20v22m1-22v22m1-22v20m1-20v20m1-20v20m1-20v23m1-24v21m1-23v24m1-24v25m1-24v24m1-23v21m1-22v24m1-24v23m1-23v22m1-20v21m1-21v21m1-23v22m1-22v22m1-20v19m1-21v23m1-22v22m1-28v26m1-20v21m1-22v22m1-22v22m1-21v21m1-20v21m1-21v20m1-20v23m1-26v26m1-25v23m1-21v20m1-21v21m1-20v20m1-20v23m1-23v22m1-23v21m1-21v22m1-23v22m1-21v21m1-23v25m1-25v25m1-23v21m1-23v24m1-22v21m1-20v21m1-25v24m1-23v24m1-21v20m1-22v22m1-20v20m1-19v20m1-22v23m1-23v21m1-21v21m1-20v20m1-22v23m1-22v23m1-24v27m1-25v21m1-22v22m1-22v23m1-24v25m1-25v22m1-20v20m1-22v22m1-20v22m1-22v25m1-28v27m1-26v24m1-24v24m1-23v22m1-21v21m1-21v20m1-20v20m1-20v22m1-22v20m1-20v20m1-20v20m1-22v22m1-22v22m1-20v20m1-25v26m1-20v19m1-20v20m1-20v20m1-20v19m1-22v25m1-24v23m1-23v23m1-24v23m1-25v28m1-28v26m1-22v21m1-25v25m1-21v22m1-21v21m1-21v20m1-21v21m1-22v21m1-19v20m1-21v21m1-22v22m1-25v25m1-20v21m1-21v19m1-19v19m1-19v23m1-26v26m1-25v24m1-24v23m1-23v22m1-21v21m1-24v24m1-24v24m1-21v22m1-21v21m1-24v26m1-26v25m1-24v24m1-24v26m1-26v22m1-19v20m1-21v20m1-20v25m1-25v23m1-23v20m1-20v22m1-22v21m1-26v25m1-23v23m1-20v22m1-22v20m1-20v22m1-22v22m1-22v20m1-20v20m1-21v22m1-21v20m1-20v21m1-25v29m1-36v36m1-35v35m1-32v31m1-33v32m1-28v28m1-29v29m1-28v28m1-30v30m1-24v23m1-23v21m1-21v20m1-20v21m1-22v29m1-27v19m1-29v49m1-50v45m1-42v40m1-40v42m1-39v32m1-32v34m1-33v30m1-30v29m1-28v23m1-20v21m1-25v25m1-25v24m1-20v23m1-61v104m1-104v84m1-52v30m1-32v46m1-39v24m1-60v77m1-45v28m1-23v21m1-21v22m1-22v28m1-30v25m1-24v23m1-24v24m1-24v25m1-23v23m1-26v23m1-29v29m1-21v21m1-21v21m1-21v21m1-20v20m1-21v21m1-20v26m1-26v23m1-23v22m1-22v20m1-20v21m1-189v309m1-291v278m1-128v20m1-135v211m1-207v205m1-99v28m1-22v22m1-24v21m1-21v21m1-21v21m1-37v56m1-54v58m1-57v50m1-48v53m1-55v51m1-50v48m1-45v44m1-34v22m1-22v23m1-45v45m1-27v24m1-24v27m1-23v23m1-27v24m1-26v26m1-25v24m1-21v22m1-20v20m1-20v20m1-21v21m1-21v22m1-22v21m1-20v21m1-23v23m1-20v19m1-24v28m1-24v20m1-20v21m1-21v20m1-20v20m1-24v24m1-23v23m1-20v20m1-22v22m1-21v23m1-22v22m1-24v25m1-22v21m1-22v19m1-19v20m1-21v22m1-21v21m1-20v19m1-20v21m1-21v22m1-21v21m1-22v22m1-22v19m1-19v20m1-24v27m1-25v22m1-21v23m1-24v25m1-27v25m1-24v23m1-21v24m1-25v25m1-25v22m1-22v23m1-21v22m1-22v20m1-20v21m1-21v21m1-21v21m1-22v22m1-21v23m1-26v25m1-24v23m1-22v20m1-21v23m1-21v21m1-22v25m1-24v24m1-26v23m1-22v21m1-22v27m1-25v23m1-29v26m1-20v21m1-24v26m1-29v28m1-23v23m1-23v23m1-22v20m1-21v21m1-21v21m1-20v20m1-20v21m1-21v21m1-22v21m1-21v23m1-28v27m1-24v23m1-20v22m1-21v20m1-20v20m1-21v20m1-19v19m1-22v23m1-22v22m1-23v24m1-22v22m1-22v20m1-20v20m1-20v20m1-20v20m1-20v24m1-26v26m1-25v22m1-27v26m1-26v26m1-21v24m1-25v24m1-22v21m1-21v22m1-29v31m1-28v27m1-23v20m1-23v28m1-27v26m1-24v20m1-19v19m1-20v22m1-22v21m1-22v22m1-22v20m1-19v21m1-20v19m1-21v21m1-22v22m1-23v23m1-19v19m1-20v20m1-22v22m1-23v24m1-23v22m1-20v20m1-20v20m1-27v27m1-20v20m1-20v23m1-24v24m1-24v24m1-23v23m1-23v21m1-21v20m1-20v20m1-22v22m1-21v22m1-21v20m1-20v21m1-21v20m1-20v20m1-21v23m1-24v22m1-22v22m1-20v20m1-20v19m1-20v21m1-20v20m1-20v20m1-22v22m1-21v21m1-20v20m1-20v21m1-21v25m1-25v20m1-20v25m1-25v23m1-25v22m1-22v24m1-22v22m1-23v22m1-23v23m1-22v23m1-25v25m1-25v23m1-20v21m1-22v21m1-25v25m1-20v21m1-21v20m1-20v22m1-21v20m1-22v22m1-24v23m1-23v25m1-24v23m1-21v20m1-20v23m1-23v22m1-22v20m1-22v22m1-22v24m1-22v20m1-20v21m1-26v25m1-25v24m1-23v28m1-24v23m1-23v23m1-24v23m1-23v26m1-25v23m1-28v25m1-24v24m1-22v22m1-20v20m1-21v27m1-26v20m1-20v19m1-19v20m1-20v22m1-25v24m1-23v22m1-22v26m1-24v24m1-24v20m1-20v22m1-23v23m1-22v21m1-20v23m1-28v24m1-23v26m1-25v26m1-28v27m1-23v22m1-23v23m1-26v24m1-23v23m1-20v20m1-19v19m1-20v20m1-20v20m1-20v20m1-19v20m1-21v27m1-29v22m1-21v21m1-20v20m1-19v20m1-21v20m1-19v19m1-20v20m1-23v23m1-20v20m1-24v27m1-27v31m1-28v24m1-25v22m1-20v21m1-21v21m1-21v23m1-23v22m1-23v22m1-23v22m1-27v29m1-24v24m1-23v23m1-22v21m1-23v23m1-22v21m1-20v20m1-20v25m1-25v19m1-20v22m1-21v20m1-20v21m1-21v23m1-27v26m1-26v24m1-21v22m1-22v22m1-21v20m1-20v22m1-22v21m1-24v23m1-22v21m1-19v23m1-24v21m1-20v20m1-20v19m1-20v24m1-23v23m1-24v23m1-25v26m1-26v26m1-22v19m1-22v24m1-23v21m1-20v21m1-24v23m1-20v20m1-22v27m1-28v27m1-30v27m1-21v23m1-23v25m1-25v21m1-21v21m1-21v24m1-25v24m1-25v24m1-23v22m1-21v19m1-19v20m1-22v22m1-22v22m1-24v24m1-19v21m1-23v24m1-23v23m1-23v20m1-20v19m1-22v23m1-20v20m1-20v23m1-23v21m1-22v21m1-21v21m1-20v20m1-20v19m1-19v22m1-22v21m1-21v20m1-19v19m1-24v24m1-24v26m1-24v24m1-24v22m1-22v24m1-25v25m1-24v22m1-20v20m1-24v24m1-24v24m1-22v30m1-29v21m1-22v22m1-20v19m1-19v21m1-21v20m1-19v19m1-25v25m1-24v24m1-20v20m1-20v21m1-21v21m1-21v24m1-24v23m1-23v28m1-28v21m1-21v20m1-20v20m1-20v20m1-20v20m1-21v21m1-20v20m1-22v22m1-21v22m1-21v21m1-22v21m1-21v23m1-23v21m1-22v22m1-21v21m1-20v20m1-20v20m1-21v21m1-21v21m1-22v22m1-21v21m1-22v22m1-22v22m1-23v25m1-25v23m1-19v21m1-22v22m1-22v20m1-20v20m1-21v21m1-20v20m1-21v21m1-21v20m1-20v21m1-21v21m1-20v24m1-24v20m1-22v22m1-21v21m1-20v23m1-23v20m1-21v24m1-25v24m1-23v21m1-20v26m1-26v25m1-26v21m1-20v21m1-22v21m1-21v21m1-21v21m1-21v21m1-20v25m1-25v24m1-24v20m1-24v25m1-25v24m1-20v20m1-20v20m1-22v22m1-20v20m1-20v20m1-20v21m1-21v20m1-20v20m1-21v21m1-21v21m1-20v22m1-22v20m1-22v22m1-22v28m1-27v26m1-26v21m1-22v30m1-29v23m1-22v21m1-21v22m1-24v25m1-24v23m1-22v26m1-26v19m1-19v20m1-21v21m1-21v22m1-22v22m1-22v20m1-21v22m1-21v22m1-21v20m1-21v22m1-22v21m1-21v21m1-22v22m1-22v25m1-25v23m1-21v21m1-21v21m1-21v20m1-20v22m1-23v22m1-22v21m1-20v22m1-22v20m1-19v19m1-20v20m1-19v20m1-21v20m1-24v24m1-23v23m1-23v23m1-20v20m1-23v24m1-21v21m1-21v21m1-24v24m1-23v25m1-24v22m1-21v21m1-20v19m1-28v27m1-20v25m1-25v25m1-24v26m1-27v27m1-26v20m1-20v20m1-20v20m1-21v21m1-19v19m1-22v22m1-22v25m1-25v22m1-24v24m1-23v23m1-20v20m1-20v20m1-20v20m1-20v25m1-27v24m1-26v26m1-25v25m1-24v21m1-21v22m1-20v20m1-25v25m1-25v25m1-20v20m1-19v19m1-25v26m1-21v22m1-22v19m1-19v22m1-22v21m1-21v26m1-27v20m1-19v21m1-21v24m1-24v23m1-27v25m1-25v26m1-22v20m1-22v22m1-21v21m1-28v36m1-32v24m1-23v23m1-21v22m1-21v20m1-20v20m1-20v23m1-23v20m1-20v22m1-22v23m1-23v22m1-22v20m1-23v25m1-26v25m1-23v23m1-21v20m1-21v21m1-22v25m1-23v19m1-22v23m1-22v21m1-21v23m1-21v22m1-23v22m1-22v21m1-22v22m1-22v22m1-20v19m1-20v23m1-24v24m1-26v26m1-26v24m1-20v23m1-23v22m1-22v20m1-20v20m1-20v20m1-20v20m1-20v20m1-20v20m1-20v21m1-21v19m1-19v19m1-19v21m1-21v21m1-24v23m1-22v22m1-22v23m1-23v28m1-27v21m1-22v22m1-21v20m1-19v20m1-20v22m1-22v20m1-23v24m1-23v22m1-21v21m1-20v20m1-20v21m1-21v20m1-22v22m1-22v22m1-21v22m1-21v25m1-32v30m1-25v23m1-23v24m1-24v23m1-22v21m1-20v20m1-20v20m1-20v20m1-19v20m1-21v21m1-21v20m1-19v21m1-23v21m1-22v22m1-21v22m1-21v21m1-22v24m1-22v19m1-21v21m1-22v22m1-21v25m1-26v24m1-24v23m1-23v22m1-25v25m1-24v25m1-24v24m1-25v27m1-25v25m1-29v29m1-28v28m1-24v24m1-23v20m1-20v22m1-22v26m1-26v22m1-23v23m1-23v21m1-20v19m1-19v24m1-24v20m1-20v20m1-20v20m1-20v22m1-23v23m1-23v23m1-22v20m1-20v23m1-23v25m1-25v24m1-24v24m1-23v18m1-19v20m1-20v20m1-19v19m1-20v21m1-24v23m1-23v25m1-23v23m1-22v22m1-22v20m1-20v21m1-24v23m1-22v21m1-19v20m1-19v19m1-20v21m1-24v25m1-24v23m1-22v24m1-25v24m1-24v23m1-22v21m1-20v22m1-27v25m1-22v22m1-19v19m1-24v26m1-26v27m1-26v23m1-23v22m1-23v24m1-21v24m1-24v23m1-22v22m1-22v20m1-20v20m1-20v26m1-26v20m1-24v27m1-23v21m1-21v21m1-21v20m1-20v23m1-27v27m1-23v20m1-20v22m1-23v23m1-24v22m1-21v21m1-20v19m1-19v20m1-20v20m1-20v21m1-21v21m1-21v21m1-22v20m1-19v20m1-19v19m1-23v25m1-24v24m1-23v23m1-23v22m1-22v23m1-23v21m1-21v21m1-21v21m1-20v20m1-22v22m1-21v27m1-27v22m1-24v23m1-20v20m1-20v20m1-20v20m1-25v25m1-24v26m1-22v19m1-24v25m1-23v25m1-24v25m1-23v21m1-23v22m1-22v22m1-20v20m1-20v22m1-22v21m1-21v21m1-21v26m1-26v20m1-20v20m1-22v25m1-23v23m1-23v22m1-22v19m1-19v22m1-23v22m1-22v21m1-23v25m1-24v23m1-21v22m1-22v20m1-20v20m1-23v23m1-25v25m1-23v22m1-24v25m1-23v22m1-21v23m1-21v21m1-24v25m1-24v24m1-22v20m1-20v19m1-19v20m1-20v21m1-22v29m1-29v23m1-22v20m1-20v27m1-29v24m1-24v23m1-24v23m1-22v23m1-20v20m1-21v21m1-24v25m1-25v23m1-22v22m1-22v22m1-21v22m1-22v21m1-21v22m1-21v21m1-21v23m1-23v22m1-26v24m1-24v24m1-23v22m1-19v20m1-23v27m1-24v22m1-22v20m1-25v25m1-21v24m1-24v21m1-22v22m1-21v21m1-20v20m1-20v20m1-23v23m1-25v25m1-22v22m1-22v25m1-23v22m1-25v26m1-25v23m1-22v22m1-21v21m1-21v20m1-20v20m1-20v21m1-21v23m1-25v25m1-23v20m1-20v19m1-19v24m1-24v24m1-25v21m1-21v23m1-24v24m1-22v21m1-24v23m1-23v23m1-21v24m1-29v26m1-21v21m1-22v24m1-23v23m1-22v20m1-20v19m1-19v20m1-20v20m1-20v20m1-23v23m1-22v22m1-20v20m1-21v21m1-20v20m1-22v22m1-20v20m1-21v22m1-21v20m1-22v22m1-21v21m1-21v22m1-23v25m1-25v25m1-26v24m1-21v21m1-24v23m1-22v22m1-20v21m1-21v21m1-23v24m1-22v20m1-22v22m1-21v22m1-24v24m1-22v21m1-22v22m1-23v24m1-21v20m1-20v19m1-21v22m1-20v20m1-21v21m1-20v28m1-28v20m1-20v20m1-22v22m1-21v21m1-24v23m1-19v22m1-23v22m1-21v21m1-26v25m1-24v24m1-20v20m1-20v20m1-21v21m1-20v20m1-20v20m1-20v22m1-23v20m1-19v20m1-20v20m1-20v20m1-20v21m1-21v23m1-23v22m1-22v20m1-21v21m1-21v21m1-22v22m1-22v23m1-21v21m1-21v22m1-22v21m1-23v25m1-25v24m1-23v21m1-21v22m1-21v21m1-21v20m1-19v20m1-21v23m1-25v22m1-20v20m1-20v20m1-20v20m1-21v21m1-22v24m1-22v22m1-23v24m1-23v20m1-21v21m1-22v24m1-23v21m1-23v22m1-19v20m1-20v20m1-20v20m1-23v23m1-24v24m1-20v20m1-20v20m1-21v26m1-26v29m1-28v22m1-22v22m1-25v24m1-24v24m1-20v20m1-23v24m1-22v21m1-25v24m1-24v24m1-23v24m1-22v21m1-22v22m1-21v21m1-20v25m1-25v24m1-27v22m1-26v27m1-19v19m1-20v20m1-23v25m1-23v20m1-19v20m1-22v22m1-23v23m1-20v20m1-24v23m1-21v22m1-21v21m1-21v21m1-19v20m1-22v21m1-21v26m1-25v23m1-25v22m1-22v22m1-20v20m1-20v20m1-20v22"/>
<path transform="translate(230.40 360.60) scale(1 0.25)" stroke="#008000" d="M0 -10v21m1-21v20m1-22v21m1-21v24m1-22v23m1-23v22m1-22v22m1-22v22m1-22v25m1-26v25m1-24v20m1-20v22m1-22v23m1-23v22m1-24v23m1-22v21m1-20v20m1-20v22m1-22v22m1-27v34m1-33v24m1-23v23m1-22v28m1-26v26m1-26v20m1-20v20m1-22v22m1-22v25m1-24v23m1-23v25m1-28v27m1-23v20m1-22v22m1-21v21m1-20v20m1-20v23m1-23v22m1-25v23m1-20v20m1-19v19m1-25v25m1-25v25m1-21v21m1-22v22m1-20v20m1-22v23m1-21v22m1-21v19m1-28v28m1-20v23m1-23v20m1-20v20m1-20v20m1-20v21m1-26v25m1-23v23m1-22v22m1-20v23m1-25v24m1-24v22m1-20v21m1-21v21m1-23v22m1-22v22m1-21v21m1-21v21m1-21v21m1-20v21m1-23v22m1-21v20m1-19v19m1-23v25m1-23v23m1-23v22m1-20v20m1-20v22m1-22v23m1-28v29m1-26v22m1-22v23m1-22v23m1-23v21m1-20v22m1-22v21m1-24v23m1-23v26m1-23v22m1-22v21m1-21v21m1-24v25m1-24v24m1-25v25m1-24v23m1-24v23m1-24v25m1-21v20m1-21v21m1-22v23m1-22v22m1-22v22m1-21v20m1-22v22m1-23v25m1-22v20m1-20v20m1-20v21m1-27v26m1-25v26m1-21v21m1-21v20m1-20v20m1-21v21m1-21v21m1-21v21m1-21v21m1-20v20m1-22v21m1-19v20m1-20v20m1-20v22m1-22v20m1-20v20m1-21v21m1-22v24m1-23v23m1-24v22m1-22v22m1-22v23m1-23v22m1-21v21m1-22v22m1-20v20m1-27v28m1-23v26m1-24v23m1-22v19m1-20v22m1-22v21m1-21v20m1-20v20m1-19v19m1-20v20m1-21v23m1-23v22m1-20v19m1-22v22m1-22v22m1-21v23m1-23v25m1-24v23m1-23v20m1-20v20m1-20v21m1-23v24m1-23v22m1-21v20m1-22v23m1-21v21m1-21v21m1-24v23m1-20v20m1-20v20m1-19v19m1-20v22m1-22v23m1-23v20m1-20v22m1-22v22m1-22v22m1-23v23m1-22v20m1-24v26m1-26v24m1-22v22m1-22v22m1-23v23m1-22v22m1-20v20m1-21v22m1-24v23m1-22v22m1-20v20m1-22v24m1-24v23m1-20v24m1-27v27m1-25v23m1-23v22m1-23v21m1-20v22m1-26v25m1-23v23m1-21v21m1-21v21m1-20v25m1-25v19m1-23v23m1-22v23m1-23v22m1-22v23m1-22v23m1-22v22m1-24v23m1-22v22m1-21v20m1-20v21m1-21v20m1-23v23m1-20v20m1-20v21m1-21v22m1-21v19m1-22v23m1-22v21m1-23v22m1-21v24m1-22v21m1-21v21m1-21v21m1-22v21m1-20v24m1-24v23m1-24v24m1-24v23m1-23v21m1-20v20m1-22v23m1-21v22m1-22v20m1-22v21m1-21v22m1-21v21m1-23v23m1-22v22m1-19v19m1-23v23m1-23v26m1-25v24m1-22v21m1-21v19m1-19v20m1-20v20m1-21v22m1-22v21m1-21v23m1-21v20m1-23v22m1-21v21m1-20v20m1-20v20m1-20v20m1-19v21m1-25v24m1-25v24m1-20v22m1-22v20m1-20v20m1-20v20m1-23v25m1-24v23m1-21v20m1-20v22m1-22v24m1-25v23m1-22v21m1-20v20m1-21v22m1-22v21m1-21v21m1-23v23m1-21v20m1-23v23m1-24v28m1-26v22m1-20v20m1-20v21m1-23v22m1-21v29m1-28v24m1-24v20m1-24v24m1-20v20m1-20v21m1-21v21m1-23v25m1-23v22m1-21v19m1-20v22m1-23v21m1-21v20m1-19v21m1-21v20m1-20v19m1-19v20m1-20v21m1-21v22m1-22v21m1-21v20m1-20v28m1-28v20m1-20v20m1-22v22m1-23v28m1-28v28m1-26v22m1-23v22m1-22v22m1-22v22m1-22v22m1-20v22m1-22v21m1-21v22m1-24v24m1-23v25m1-25v24m1-23v21m1-22v23m1-23v21m1-23v22m1-21v22m1-20v20m1-21v23m1-22v20m1-20v24m1-25v20m1-20v21m1-21v23m1-22v23m1-23v22m1-22v22m1-22v23m1-26v23m1-22v23m1-21v23m1-23v20m1-20v27m1-27v20m1-20v20m1-23v23m1-22v22m1-20v20m1-19v19m1-23v32m1-31v22m1-21v21m1-20v20m1-20v20m1-22v23m1-21v22m1-22v20m1-20v20m1-21v20m1-19v20m1-20v20m1-19v19m1-20v20m1-20v22m1-22v21m1-21v20m1-20v20m1-20v21m1-22v21m1-19v20m1-21v22m1-22v23m1-23v22m1-22v26m1-26v20m1-21v23m1-23v23m1-23v23m1-23v22m1-22v22m1-22v21m1-24v23m1-22v23m1-20v23m1-24v21m1-21v21m1-22v26m1-24v23m1-23v20m1-20v20m1-22v22m1-22v24m1-22v23m1-23v21m1-21v20m1-20v20m1-22v22m1-21v22m1-21v20m1-20v20m1-20v21m1-21v23m1-23v22m1-22v21m1-21v20m1-19v19m1-20v20m1-20v22m1-22v23m1-24v24m1-23v23m1-23v22m1-22v23m1-23v23m1-23v21m1-22v21m1-22v22m1-21v21m1-21v21m1-22v24m1-24v23m1-22v24m1-23v21m1-21v21m1-21v20m1-27v33m1-27v21m1-20v20m1-22v22m1-22v22m1-20v20m1-20v20m1-21v21m1-20v19m1-20v26m1-24v19m1-21v24m1-23v23m1-24v24m1-24v21m1-22v23m1-23v23m1-21v23m1-25v21m1-19v19m1-20v22m1-22v23m1-23v23m1-22v23m1-24v21m1-20v20m1-20v21m1-21v21m1-21v23m1-23v20m1-26v25m1-21v22m1-20v20m1-22v23m1-22v22m1-27v28m1-22v20m1-21v22m1-26v26m1-21v20m1-20v20m1-19v19m1-21v22m1-26v29m1-24v20m1-23v23m1-20v20m1-20v20m1-21v22m1-22v22m1-23v22m1-22v22m1-22v22m1-21v27m1-27v25m1-27v27m1-26v25m1-23v20m1-21v29m1-28v23m1-24v22m1-21v19m1-19v20m1-20v20m1-20v20m1-20v20m1-23v23m1-22v23m1-21v21m1-23v23m1-21v20m1-26v29m1-23v20m1-20v20m1-20v24m1-24v24m1-29v26m1-25v26m1-23v21m1-20v21m1-21v21m1-21v22m1-25v25m1-25v23m1-21v21m1-21v21m1-20v22m1-23v23m1-22v20m1-20v20m1-22v22m1-22v22m1-22v23m1-21v20m1-21v22m1-22v22m1-21v22m1-23v21m1-21v22m1-21v25m1-27v26m1-27v23m1-22v24m1-24v22m1-20v21m1-21v21m1-23v24m1-23v21m1-20v20m1-20v19m1-21v24m1-23v21m1-20v20m1-21v23m1-22v21m1-21v21m1-21v21m1-20v19m1-20v21m1-22v22m1-21v20m1-22v22m1-21v21m1-20v20m1-19v19m1-20v20m1-22v22m1-21v23m1-22v22m1-25v23m1-20v19m1-19v21m1-22v21m1-25v25m1-23v23m1-22v23m1-21v22m1-24v23m1-20v18m1-19v20m1-24v24m1-22v22m1-20v22m1-24v22m1-19v19m1-20v20m1-20v22m1-24v23m1-23v23m1-21v23m1-23v22m1-22v21m1-22v22m1-24v23m1-21v20m1-21v22m1-20v22m1-21v20m1-21v24m1-24v23m1-24v23m1-24v23m1-22v21m1-20v21m1-22v21m1-19v20m1-24v22m1-21v22m1-21v22m1-21v20m1-19v19m1-20v20m1-20v21m1-23v23m1-21v20m1-20v20m1-20v21m1-27v32m1-30v24m1-20v20m1-20v20m1-24v24m1-24v25m1-21v21m1-21v20m1-19v19m1-20v20m1-22v22m1-24v24m1-20v21m1-21v22m1-22v22m1-22v24m1-24v20m1-19v19m1-20v22m1-22v22m1-22v20m1-20v22m1-22v20m1-20v19m1-20v25m1-25v21m1-20v22m1-22v21m1-23v22m1-21v20m1-19v21m1-28v27m1-20v23m1-23v21m1-21v20m1-20v20m1-20v21m1-21v21m1-21v22m1-22v20m1-21v21m1-20v19m1-19v23m1-23v24m1-24v24m1-25v21m1-20v22m1-22v21m1-22v23m1-23v22m1-22v27m1-27v21m1-20v23m1-23v22m1-22v20m1-20v19m1-21v21m1-20v21m1-20v20m1-20v21m1-21v20m1-20v19m1-19v20m1-20v21m1-22v22m1-21v20m1-24v25m1-22v23m1-22v22m1-23v23m1-22v21m1-25v26m1-23v20m1-20v25m1-25v23m1-28v26m1-21v20m1-21v22m1-20v20m1-21v23m1-22v22m1-27v27m1-26v25m1-21v22m1-24v23m1-21v20m1-20v22m1-23v21m1-21v20m1-20v21m1-20v22m1-23v23m1-24v22m1-20v20m1-20v20m1-20v23m1-24v22m1-22v21m1-21v21m1-23v25m1-25v24m1-21v21m1-21v20m1-20v20m1-20v23m1-23v23m1-24v21m1-20v20m1-20v19m1-19v20m1-20v20m1-22v21m1-26v27m1-21v22m1-21v27m1-27v20m1-20v20m1-21v21m1-22v22m1-20v20m1-20v20m1-22v22m1-20v21m1-24v25m1-24v23m1-22v22m1-28v29m1-22v22m1-22v22m1-21v18m1-19v20m1-19v19m1-20v25m1-24v19m1-20v23m1-22v19m1-20v23m1-27v26m1-23v21m1-20v21m1-21v21m1-23v22m1-22v25m1-25v24m1-24v22m1-23v23m1-22v23m1-22v21m1-21v21m1-20v21m1-21v20m1-20v20m1-22v24m1-24v24m1-23v21m1-21v21m1-21v21m1-23v23m1-20v21m1-21v22m1-22v21m1-23v22m1-23v23m1-20v20m1-20v20m1-21v24m1-24v25m1-25v25m1-30v27m1-22v21m1-22v22m1-22v23m1-22v21m1-21v21m1-24v24m1-22v22m1-20v21m1-24v23m1-22v22m1-19v21m1-25v23m1-21v20m1-19v21m1-22v21m1-21v21m1-20v19m1-25v27m1-21v20m1-20v20m1-20v20m1-21v21m1-20v20m1-20v20m1-20v20m1-21v21m1-21v21m1-21v22m1-21v21m1-21v20m1-19v19m1-20v20m1-20v20m1-20v23m1-28v27m1-26v25m1-21v20m1-20v24m1-24v20m1-20v20m1-22v22m1-21v21m1-22v22m1-20v21m1-21v20m1-20v20m1-20v20m1-22v22m1-21v21m1-20v22m1-22v22m1-24v21m1-19v20m1-22v24m1-24v24m1-24v23m1-21v22m1-22v22m1-22v21m1-23v23m1-22v22m1-21v20m1-22v23m1-23v22m1-21v21m1-20v20m1-20v20m1-21v25m1-24v23m1-25v23m1-23v22m1-26v31m1-29v27m1-23v20m1-20v20m1-21v21m1-21v23m1-27v27m1-26v26m1-26v24m1-21v21m1-20v22m1-22v22m1-21v20m1-21v20m1-19v20m1-20v23m1-24v24m1-24v21m1-23v23m1-23v22m1-23v23m1-22v24m1-22v21m1-21v20m1-20v20m1-20v21m1-21v26m1-26v19m1-21v23m1-22v21m1-20v20m1-20v20m1-20v25m1-27v26m1-26v27m1-28v26m1-23v20m1-20v20m1-20v20m1-20v20m1-20v22m1-22v21m1-21v19m1-24v27m1-26v25m1-21v21m1-22v20m1-24v25m1-25v25m1-20v20m1-19v21m1-23v22m1-21v20m1-21v24m1-22v22m1-23v21m1-21v20m1-20v20m1-22v22m1-21v23m1-22v20m1-20v20m1-19v20m1-21v20m1-20v21m1-21v22m1-22v21m1-22v22m1-20v18m1-21v26m1-26v25m1-25v25m1-23v20m1-20v21m1-21v21m1-21v20m1-20v21m1-22v21m1-20v19m1-19v22m1-21v20m1-20v19m1-20v20m1-21v21m1-20v20m1-20v20m1-21v21m1-26v26m1-23v23m1-22v21m1-21v22m1-20v21m1-24v24m1-22v21m1-22v22m1-22v22m1-22v22m1-20v19m1-19v20m1-20v20m1-20v28m1-31v25m1-24v21m1-18v19m1-21v23m1-23v21m1-21v23m1-25v23m1-22v22m1-22v23m1-21v21m1-24v25m1-24v24m1-23v23m1-22v21m1-21v25m1-25v23m1-24v21m1-20v21m1-21v20m1-22v22m1-23v23m1-20v23m1-25v24m1-23v21m1-20v20m1-20v20m1-20v20m1-20v21m1-22v21m1-20v20m1-20v20m1-20v20m1-20v20m1-20v21m1-20v19m1-20v21m1-21v21m1-22v21m1-21v25m1-26v24m1-24v24m1-29v29m1-22v20m1-23v26m1-24v23m1-28v32m1-31v25m1-20v23m1-28v25m1-23v23m1-23v23m1-21v20m1-20v29m1-28v23m1-23v21m1-21v21m1-26v28m1-27v26m1-23v21m1-20v20m1-20v20m1-20v20m1-19v19m1-23v26m1-24v24m1-26v26m1-24v23m1-22v21m1-21v21m1-21v21m1-24v24m1-22v21m1-21v21m1-21v22m1-22v22m1-23v22m1-21v21m1-20v21m1-21v20m1-21v21m1-20v21m1-21v21m1-22v21m1-20v20m1-22v22m1-20v20m1-21v21m1-20v21m1-23v23m1-22v21m1-22v23m1-23v22m1-21v21m1-20v20m1-20v20m1-20v20m1-21v23m1-28v30m1-26v26m1-25v21m1-21v22m1-21v20m1-21v21m1-21v22m1-22v21m1-20v21m1-21v21m1-23v22m1-22v25m1-24v23m1-22v20m1-24v28m1-28v25m1-21v21m1-20v24m1-25v23m1-23v22m1-22v21m1-21v21m1-22v23m1-22v22m1-23v22m1-21v20m1-25v25m1-24v24m1-20v24m1-24v24m1-24v20m1-21v21m1-20v23m1-25v23m1-21v21m1-22v27m1-27v25m1-24v23m1-25v25m1-26v23m1-27v31m1-24v24m1-25v21m1-20v26m1-27v26m1-27v22m1-20v20m1-22v21m1-20v21m1-20v25m1-25v20m1-22v22m1-22v22m1-21v21m1-23v26m1-25v24m1-22v20m1-20v22m1-22v21m1-21v20m1-20v23m1-26v26m1-23v20m1-21v22m1-21v21m1-23v22m1-20v21m1-21v20m1-20v20m1-21v21m1-22v22m1-20v22m1-30v29m1-23v24m1-22v21m1-21v22m1-23v21m1-20v20m1-23v25m1-25v25m1-22v20m1-20v19m1-19v20m1-20v20m1-22v22m1-20v20m1-20v20m1-22v22m1-22v26m1-24v20m1-27v29m1-23v22m1-22v22m1-21v22m1-23v23m1-22v20m1-20v28m1-28v22m1-22v23m1-26v26m1-23v20m1-19v18m1-22v23m1-21v21m1-20v20m1-20v22m1-22v21m1-23v23m1-22v21m1-20v24m1-25v24m1-24v21m1-22v23m1-22v21m1-21v21m1-20v22m1-21v19m1-21v21m1-21v22m1-22v23m1-22v21m1-25v24m1-22v22m1-20v20m1-20v20m1-20v28m1-28v22m1-23v22m1-22v22m1-21v21m1-21v21m1-21v22m1-22v23m1-24v23m1-22v22m1-22v21m1-24v24m1-23v23m1-25v24m1-23v25m1-24v26m1-23v19m1-20v24m1-24v23m1-23v22m1-23v23m1-25v29m1-28v22m1-23v23m1-25v25m1-24v27m1-23v20m1-22v23m1-23v23m1-21v20m1-21v21m1-20v20m1-21v21m1-20v22m1-23v24m1-23v20m1-23v23m1-22v22m1-21v21m1-22v21m1-22v23m1-20v20m1-22v24m1-22v27m1-27v21m1-21v23m1-23v22m1-23v21m1-21v22m1-20v19m1-22v21m1-22v27m1-26v25m1-25v22m1-20v19m1-20v21m1-20v20m1-20v20m1-20v20m1-20v20m1-20v21m1-21v22m1-25v23m1-22v22m1-21v22m1-20v23m1-24v24m1-27v22m1-21v22m1-22v22m1-22v22m1-20v22m1-23v22m1-23v23m1-21v21m1-21v20m1-19v22m1-23v25m1-25v26m1-26v24m1-24v20m1-20v25m1-30v25m1-20v20m1-23v26m1-25v22m1-23v23m1-20v21m1-21v21m1-21v20m1-20v20m1-22v26m1-25v25m1-24v20m1-20v20m1-20v20m1-20v20m1-25v30m1-29v28m1-24v23m1-23v20m1-20v20m1-20v21m1-21v21m1-21v21m1-28v27m1-20v26m1-26v26m1-26v23m1-24v22m1-25v24m1-23v23m1-20v21m1-24v23m1-20v23m1-23v23m1-23v22m1-22v20m1-20v22m1-22v21m1-24v26m1-24v29m1-28v20m1-21v21m1-21v22m1-21v22m1-22v23m1-22v20m1-21v22m1-23v25m1-26v28m1-29v29m1-26v19m1-20v20m1-19v21m1-22v23m1-23v23m1-22v21m1-21v21m1-21v23m1-23v21m1-21v20m1-20v20m1-21v21m1-21v23m1-23v22m1-21v20m1-21v21m1-23v23m1-20v19m1-20v21m1-20v19m1-19v20m1-23v23m1-22v24m1-22v22m1-22v21m1-22v21m1-22v22m1-21v22m1-20v19m1-24v24m1-22v26m1-27v26m1-26v23m1-23v25m1-24v28m1-30v29m1-31v27m1-22v22m1-21v20m1-20v20m1-20v22m1-23v22m1-21v21m1-22v21m1-21v21m1-20v19m1-21v25m1-25v22m1-21v21m1-19v19m1-20v23m1-23v22m1-24v24m1-24v23m1-21v21m1-23v22m1-22v23m1-21v19m1-20v21m1-19v19m1-20v20m1-20v20m1-20v22m1-22v21m1-21v20m1-21v22m1-22v22m1-23v23m1-21v20m1-20v22m1-24v23m1-24v24m1-24v25m1-24v24m1-24v23m1-23v21m1-21v22m1-20v20m1-20v23m1-24v23m1-22v20m1-20v20m1-20v21m1-21v24m1-26v28m1-27v21m1-20v21m1-23v24m1-22v22m1-28v28m1-28v26m1-22v22m1-20v21m1-23v25m1-24v25m1-24v22m1-22v20m1-20v22m1-22v21m1-21v20m1-21v21m1-21v21m1-21v21m1-21v22m1-23v23m1-21v20m1-20v22m1-22v22m1-22v20m1-20v21m1-21v21m1-21v20m1-20v20m1-20v22m1-24v24m1-23v21m1-21v22m1-22v24m1-23v20m1-22v24m1-22v19m1-21v21m1-23v25m1-29v29m1-24v25m1-23v21m1-26v27m1-24v24m1-21v22m1-23v23m1-23v22m1-22v21m1-23v25m1-25v24m1-22v21m1-21v20m1-20v25m1-25v23m1-21v21m1-24v23m1-22v21m1-21v21m1-22v22m1-22v22m1-20v21m1-20v19m1-21v21m1-21v21m1-20v22m1-30v30m1-25v23m1-21v20m1-18v21m1-22v22m1-22v21m1-21v20m1-20v20m1-21v21m1-25v26m1-25v24m1-20v20m1-20v20m1-20v22m1-22v22m1-24v22m1-20v21m1-24v25m1-25v25m1-21v20m1-21v21"/>
<path transform="translate(230.40 399.04) scale(1 0.25)" stroke="#000000" d="M0 -10v20m1-25v25m1-23v25m1-24v29m1-27v20m1-22v27m1-26v24m1-23v20m1-20v20m1-20v20m1-21v29m1-28v23m1-24v22m1-22v26m1-25v20m1-20v20m1-21v23m1-22v24m1-24v20m1-20v22m1-24v23m1-20v19m1-19v20m1-24v29m1-29v27m1-25v21m1-21v23m1-22v20m1-20v20m1-20v20m1-20v21m1-24v25m1-22v20m1-20v20m1-21v22m1-22v21m1-22v22m1-20v25m1-25v24m1-25v23m1-23v25m1-27v26m1-25v23m1-21v20m1-22v22m1-21v27m1-27v21m1-21v20m1-20v21m1-22v22m1-22v23m1-23v23m1-21v20m1-23v23m1-22v22m1-22v23m1-21v21m1-23v22m1-22v22m1-19v19m1-20v20m1-20v20m1-20v20m1-20v22m1-21v21m1-29v27m1-20v20m1-19v19m1-20v20m1-22v22m1-22v23m1-21v22m1-22v22m1-22v22m1-24v23m1-22v22m1-21v21m1-21v20m1-20v21m1-21v19m1-22v23m1-23v24m1-26v27m1-27v28m1-26v23m1-22v22m1-20v20m1-21v21m1-24v24m1-23v23m1-23v22m1-21v25m1-23v22m1-21v20m1-21v21m1-21v20m1-22v22m1-20v20m1-22v22m1-21v21m1-24v27m1-27v25m1-24v23m1-20v20m1-20v20m1-20v23m1-26v30m1-29v23m1-21v22m1-22v21m1-22v21m1-23v26m1-26v25m1-22v22m1-22v22m1-22v25m1-25v20m1-20v22m1-24v23m1-25v24m1-24v25m1-21v20m1-20v23m1-22v19m1-22v22m1-23v23m1-23v23m1-23v23m1-20v22m1-22v23m1-23v20m1-20v23m1-23v23m1-23v23m1-24v20m1-19v19m1-19v21m1-22v22m1-22v21m1-22v26m1-25v21m1-23v28m1-26v21m1-22v21m1-18v22m1-23v21m1-20v19m1-21v21m1-20v20m1-20v22m1-22v22m1-22v22m1-22v21m1-21v21m1-21v22m1-21v20m1-21v20m1-20v21m1-23v22m1-23v22m1-22v25m1-24v23m1-22v25m1-27v26m1-26v26m1-24v22m1-22v21m1-23v24m1-21v21m1-21v20m1-20v20m1-20v20m1-22v24m1-22v23m1-23v22m1-22v20m1-21v20m1-19v20m1-23v25m1-24v25m1-25v22m1-20v23m1-23v22m1-22v22m1-22v21m1-21v21m1-22v24m1-24v24m1-25v24m1-23v24m1-24v22m1-22v21m1-20v20m1-20v20m1-22v26m1-23v19m1-20v24m1-29v26m1-25v30m1-28v24m1-23v22m1-22v21m1-27v27m1-24v26m1-22v22m1-24v25m1-24v22m1-23v24m1-22v21m1-22v22m1-24v24m1-23v22m1-19v24m1-25v20m1-20v21m1-21v20m1-20v20m1-20v22m1-26v27m1-23v23m1-23v22m1-22v21m1-20v21m1-22v22m1-21v19m1-21v23m1-22v20m1-21v20m1-20v21m1-21v21m1-20v21m1-21v22m1-22v21m1-21v21m1-21v20m1-20v21m1-21v20m1-21v25m1-23v19m1-20v20m1-20v21m1-21v21m1-23v22m1-20v21m1-23v22m1-21v20m1-19v20m1-22v22m1-20v19m1-22v25m1-24v22m1-20v21m1-21v26m1-28v23m1-22v22m1-21v20m1-21v21m1-20v23m1-30v29m1-24v24m1-23v21m1-20v21m1-22v23m1-22v21m1-21v21m1-21v20m1-21v23m1-22v20m1-20v20m1-20v21m1-21v22m1-23v25m1-26v22m1-22v22m1-21v21m1-22v22m1-28v28m1-20v20m1-20v20m1-22v22m1-22v22m1-20v22m1-24v23m1-23v21m1-22v25m1-22v19m1-19v26m1-26v23m1-24v24m1-24v21m1-22v22m1-22v22m1-22v22m1-20v21m1-21v20m1-20v22m1-22v21m1-21v20m1-20v20m1-19v19m1-20v20m1-20v23m1-23v22m1-24v25m1-25v24m1-23v23m1-22v20m1-20v20m1-20v23m1-23v23m1-25v23m1-23v21m1-19v21m1-23v28m1-28v27m1-26v23m1-24v23m1-21v22m1-22v22m1-23v22m1-21v20m1-20v20m1-20v25m1-25v20m1-19v19m1-20v20m1-20v22m1-23v23m1-26v26m1-22v23m1-24v24m1-23v23m1-23v21m1-22v21m1-20v19m1-19v20m1-24v24m1-21v22m1-22v23m1-23v22m1-21v22m1-24v24m1-23v21m1-21v25m1-25v24m1-29v27m1-22v24m1-23v21m1-22v22m1-21v20m1-20v27m1-33v28m1-25v25m1-23v21m1-20v20m1-25v25m1-23v23m1-20v21m1-21v20m1-21v21m1-21v21m1-22v22m1-24v26m1-25v23m1-24v24m1-23v23m1-23v25m1-24v24m1-24v23m1-25v25m1-23v22m1-20v20m1-20v20m1-20v20m1-24v24m1-20v21m1-21v20m1-24v26m1-24v24m1-25v23m1-23v24m1-24v23m1-22v22m1-21v21m1-21v21m1-21v23m1-24v21m1-19v20m1-22v23m1-21v21m1-21v21m1-23v23m1-25v24m1-22v24m1-24v24m1-22v21m1-21v20m1-20v21m1-24v23m1-23v22m1-19v20m1-21v20m1-21v21m1-20v23m1-23v23m1-25v23m1-22v22m1-22v23m1-23v23m1-22v22m1-22v21m1-20v20m1-22v30m1-28v20m1-20v21m1-23v22m1-22v24m1-23v23m1-22v22m1-23v21m1-21v22m1-21v20m1-20v20m1-21v21m1-20v20m1-22v22m1-22v22m1-20v20m1-22v22m1-21v20m1-19v20m1-24v24m1-25v33m1-30v22m1-21v21m1-20v20m1-20v21m1-23v23m1-23v23m1-23v23m1-22v23m1-22v21m1-24v23m1-23v23m1-22v22m1-21v21m1-22v23m1-22v21m1-21v20m1-22v23m1-20v22m1-23v23m1-23v21m1-21v22m1-21v21m1-21v20m1-20v26m1-26v20m1-22v25m1-23v21m1-23v22m1-20v20m1-20v22m1-23v22m1-22v26m1-25v19m1-19v20m1-20v21m1-21v19m1-19v21m1-22v22m1-21v20m1-20v21m1-20v20m1-21v22m1-28v29m1-27v24m1-20v22m1-22v21m1-21v20m1-20v20m1-20v19m1-20v26m1-25v20m1-20v23m1-30v27m1-20v20m1-19v19m1-20v22m1-22v22m1-22v21m1-24v24m1-23v22m1-20v22m1-22v23m1-23v21m1-21v20m1-20v21m1-21v20m1-20v21m1-21v21m1-21v24m1-25v23m1-23v22m1-21v20m1-23v23m1-22v26m1-25v24m1-23v28m1-28v22m1-22v20m1-20v22m1-24v26m1-25v21m1-20v23m1-23v23m1-25v22m1-20v20m1-22v22m1-21v21m1-22v24m1-22v20m1-20v20m1-20v20m1-24v25m1-24v23m1-22v25m1-23v23m1-23v20m1-20v21m1-23v22m1-21v21m1-20v28m1-28v20m1-22v22m1-22v22m1-20v20m1-22v22m1-21v21m1-22v22m1-21v20m1-19v22m1-26v26m1-22v22m1-22v21m1-24v23m1-20v20m1-20v21m1-25v26m1-25v28m1-27v26m1-25v21m1-26v29m1-29v28m1-23v23m1-24v23m1-25v26m1-25v25m1-26v24m1-20v20m1-22v23m1-22v22m1-22v21m1-21v21m1-20v22m1-22v23m1-23v26m1-29v27m1-26v24m1-21v18m1-20v21m1-28v28m1-21v21m1-20v20m1-20v20m1-25v25m1-20v20m1-20v20m1-20v22m1-28v27m1-24v24m1-24v23m1-20v20m1-20v19m1-19v20m1-20v22m1-24v23m1-22v23m1-23v24m1-23v21m1-21v20m1-19v19m1-25v25m1-20v21m1-21v23m1-24v23m1-23v21m1-22v21m1-28v33m1-24v24m1-26v25m1-25v22m1-22v22m1-21v21m1-20v19m1-19v21m1-21v19m1-19v22m1-23v28m1-28v21m1-23v23m1-22v22m1-20v20m1-20v23m1-23v22m1-24v22m1-20v20m1-20v20m1-21v21m1-21v21m1-21v21m1-21v21m1-23v23m1-23v23m1-20v22m1-24v22m1-20v20m1-23v29m1-28v27m1-25v20m1-20v20m1-21v22m1-22v24m1-25v24m1-22v22m1-22v20m1-20v23m1-23v23m1-25v24m1-23v22m1-22v22m1-21v20m1-20v24m1-24v20m1-20v20m1-20v21m1-21v21m1-24v23m1-23v26m1-24v23m1-24v25m1-23v20m1-22v22m1-21v21m1-20v20m1-20v20m1-21v21m1-22v22m1-21v22m1-22v21m1-21v23m1-24v23m1-23v22m1-20v22m1-22v20m1-20v20m1-20v24m1-26v24m1-24v22m1-20v20m1-20v20m1-20v19m1-21v25m1-27v26m1-25v23m1-22v22m1-22v22m1-20v20m1-20v21m1-21v20m1-22v22m1-22v25m1-23v21m1-22v21m1-29v31m1-22v23m1-25v21m1-20v21m1-20v20m1-20v21m1-21v20m1-20v21m1-21v21m1-22v22m1-22v21m1-20v20m1-20v20m1-23v23m1-20v21m1-22v22m1-22v21m1-20v20m1-20v20m1-20v22m1-24v24m1-23v22m1-24v24m1-24v24m1-21v20m1-20v22m1-22v24m1-24v24m1-26v26m1-27v23m1-20v21m1-21v20m1-20v20m1-22v24m1-22v20m1-21v21m1-20v23m1-27v26m1-27v25m1-20v20m1-20v21m1-21v20m1-20v20m1-21v23m1-22v20m1-20v22m1-22v21m1-21v22m1-22v26m1-27v20m1-20v21m1-21v23m1-23v26m1-25v24m1-27v23m1-23v23m1-20v20m1-20v28m1-28v23m1-23v23m1-23v20m1-20v19m1-19v20m1-20v21m1-21v20m1-20v20m1-20v22m1-23v22m1-21v21m1-22v23m1-24v22m1-21v21m1-22v25m1-24v22m1-22v21m1-21v23m1-22v22m1-22v21m1-21v21m1-21v23m1-22v23m1-24v23m1-25v22m1-22v22m1-20v20m1-19v19m1-20v20m1-24v23m1-20v21m1-20v21m1-23v21m1-20v20m1-19v22m1-22v21m1-21v22m1-21v23m1-24v23m1-26v25m1-24v22m1-21v21m1-25v29m1-23v19m1-21v21m1-22v23m1-21v22m1-21v18m1-21v22m1-21v21m1-22v22m1-22v22m1-20v19m1-19v20m1-20v20m1-24v26m1-25v23m1-20v20m1-25v25m1-20v20m1-20v20m1-21v21m1-20v20m1-20v20m1-22v24m1-22v21m1-21v21m1-21v22m1-22v22m1-22v22m1-29v27m1-22v22m1-21v21m1-20v21m1-27v27m1-22v20m1-24v25m1-19v19m1-20v22m1-22v21m1-22v24m1-23v23m1-23v26m1-26v24m1-24v20m1-22v22m1-22v24m1-22v21m1-23v22m1-22v23m1-24v23m1-23v22m1-21v22m1-20v23m1-28v28m1-26v25m1-24v23m1-26v25m1-25v25m1-20v22m1-22v21m1-21v20m1-20v19m1-21v22m1-23v23m1-20v20m1-24v31m1-30v23m1-22v22m1-22v23m1-22v21m1-20v20m1-20v20m1-20v21m1-21v21m1-25v24m1-22v22m1-22v22m1-22v24m1-24v24m1-24v24m1-24v23m1-22v23m1-23v25m1-24v21m1-21v21m1-21v20m1-21v21m1-21v21m1-20v22m1-21v25m1-26v24m1-23v19m1-20v20m1-19v21m1-22v22m1-22v20m1-21v21m1-21v22m1-23v23m1-21v20m1-20v20m1-20v23m1-23v22m1-22v21m1-20v20m1-21v19m1-18v19m1-21v23m1-26v24m1-24v24m1-20v21m1-25v24m1-24v24m1-20v20m1-22v22m1-22v22m1-20v20m1-21v20m1-20v22m1-22v22m1-23v22m1-22v23m1-22v23m1-26v23m1-23v24m1-24v24m1-22v22m1-22v22m1-21v23m1-22v20m1-20v20m1-20v20m1-21v23m1-28v27m1-22v29m1-30v24m1-28v26m1-24v24m1-22v22m1-22v22m1-20v20m1-20v19m1-20v22m1-22v22m1-21v20m1-21v23m1-22v22m1-22v21m1-21v21m1-24v25m1-24v22m1-22v23m1-21v20m1-20v20m1-20v19m1-19v21m1-21v23m1-23v20m1-21v22m1-23v22m1-20v20m1-22v23m1-22v21m1-20v22m1-24v23m1-24v23m1-20v22m1-23v22m1-21v22m1-24v30m1-29v20m1-21v22m1-22v22m1-22v25m1-24v23m1-22v23m1-23v20m1-20v20m1-20v21m1-22v21m1-20v20m1-21v23m1-22v20m1-20v20m1-21v21m1-20v20m1-24v27m1-27v31m1-27v20m1-20v23m1-23v23m1-23v20m1-20v20m1-21v21m1-21v21m1-21v21m1-25v25m1-25v25m1-23v23m1-23v23m1-26v28m1-24v23m1-23v22m1-19v19m1-19v19m1-20v20m1-20v22m1-22v21m1-24v24m1-23v25m1-24v24m1-23v20m1-22v22m1-21v23m1-25v26m1-25v24m1-22v21m1-21v21m1-21v21m1-30v30m1-21v26m1-26v25m1-25v20m1-20v20m1-20v20m1-20v20m1-20v23m1-25v24m1-24v23m1-21v20m1-20v20m1-20v20m1-22v22m1-21v25m1-26v25m1-23v20m1-20v20m1-20v20m1-24v27m1-23v22m1-21v19m1-22v22m1-25v25m1-21v27m1-26v22m1-22v23m1-23v20m1-20v21m1-22v21m1-20v21m1-21v21m1-21v20m1-23v22m1-21v22m1-23v23m1-20v20m1-21v21m1-21v21m1-20v20m1-20v23m1-25v26m1-26v23m1-21v22m1-22v22m1-22v20m1-20v23m1-25v22m1-20v21m1-22v21m1-21v21m1-20v24m1-26v25m1-23v20m1-20v20m1-22v22m1-20v22m1-22v21m1-25v24m1-22v22m1-21v25m1-25v21m1-24v24m1-23v23m1-24v25m1-23v25m1-25v22m1-22v26m1-26v26m1-23v20m1-21v20m1-19v19m1-20v20m1-21v21m1-20v20m1-20v20m1-20v20m1-20v20m1-20v23m1-23v21m1-21v20m1-21v21m1-21v23m1-22v20m1-20v20m1-20v20m1-19v19m1-20v19m1-20v22m1-23v23m1-23v22m1-19v23m1-26v22m1-20v20m1-20v20m1-20v20m1-20v20m1-22v25m1-24v21m1-20v20m1-20v22m1-24v25m1-25v25m1-24v21m1-20v22m1-22v21m1-20v21m1-22v22m1-22v20m1-20v22m1-25v24m1-21v21m1-21v20m1-20v25m1-28v28m1-27v23m1-21v23m1-27v26m1-25v25m1-24v24m1-24v22m1-20v20m1-22v22m1-22v22m1-21v21m1-20v20m1-20v20m1-20v19m1-20v21m1-21v21m1-21v20m1-18v18m1-25v26m1-20v21m1-21v20m1-20v20m1-24v24m1-23v23m1-20v20m1-22v23m1-23v24m1-24v22m1-22v22m1-20v21m1-24v28m1-26v25m1-24v19m1-22v24m1-21v23m1-24v24m1-23v20m1-20v20m1-20v21m1-21v22m1-22v21m1-21v21m1-21v20m1-20v25m1-25v25m1-25v20m1-20v20m1-22v24m1-24v22m1-21v20m1-20v21m1-21v21m1-20v21m1-21v21m1-21v20m1-22v22m1-21v27m1-26v25m1-27v23m1-23v21m1-19v20m1-20v20m1-20v20m1-20v20m1-21v22m1-22v21m1-21v23m1-24v23m1-23v22m1-21v21m1-23v23m1-21v23m1-22v21m1-21v22m1-23v23m1-23v21m1-20v20m1-26v25m1-19v20m1-20v20m1-20v20m1-20v21m1-21v21m1-22v24m1-23v20m1-20v22m1-22v20m1-24v24m1-23v23m1-21v22m1-23v28m1-29v26m1-23v20m1-21v21m1-21v21m1-20v22m1-22v21m1-20v19m1-20v23m1-23v21m1-21v20m1-21v23m1-24v22m1-20v21m1-21v20m1-19v22m1-24v21m1-22v22m1-22v22m1-20v26m1-26v26m1-26v21m1-22v21m1-20v20m1-20v19m1-19v20m1-19v19m1-26v26m1-20v20m1-20v20m1-21v24m1-23v22m1-22v20m1-20v26m1-26v20m1-22v22m1-22v22m1-20v19m1-19v20m1-27v26m1-19v20m1-21v21m1-21v20m1-24v25m1-20v20m1-26v29m1-24v24m1-23v23m1-23v20m1-22v22m1-22v23m1-23v22m1-20v21m1-21v21m1-22v21m1-20v24m1-24v23m1-24v25m1-24v24m1-25v21m1-20v22m1-24v27m1-26v25m1-24v20m1-20v20m1-20v20m1-20v23m1-23v22m1-22v21m1-21v20m1-20v25m1-26v26m1-25v23m1-25v24m1-24v24m1-21v20m1-21v20m1-20v19m1-19v20m1-21v21m1-20v22m1-24v23m1-21v21m1-21v23m1-25v24m1-23v23m1-23v21m1-19v19m1-23v23m1-22v22m1-22v24m1-22v23m1-23v20m1-21v21m1-23v25m1-23v22m1-25v24m1-22v23m1-21v20m1-25v25m1-24v25m1-23v22m1-20v20m1-28v28m1-20v22m1-23v22m1-21v21m1-21v20m1-21v21m1-23v23m1-22v22m1-22v22m1-21v21m1-22v24m1-24v24m1-28v29m1-26v25m1-26v24m1-23v22m1-19v21m1-22v22m1-23v24m1-23v22m1-21v21m1-21v21m1-21v22m1-22v21m1-21v20m1-21v21m1-22v22m1-22v24m1-22v21m1-21v22m1-22v19m1-21v24m1-24v24m1-28v28m1-26v26m1-27v26m1-23v26m1-26v22m1-20v20m1-20v24m1-26v22m1-21v21m1-21v27m1-26v21m1-21v21m1-22v21m1-21v22m1-21v20m1-21v23m1-22v20m1-22v23m1-22v21m1-21v21m1-23v26m1-24v23m1-26v26m1-22v22m1-24v23m1-22v22m1-21v20m1-20v20m1-20v21m1-21v20m1-20v20m1-22v24m1-23v23m1-22v21m1-21v21m1-21v20m1-20v23m1-23v23m1-23v20m1-20v20m1-20v20m1-23v24m1-21v19m1-19v20m1-24v24m1-23v23m1-26v27m1-23v21m1-22v23m1-20v20m1-20v21m1-21v20m1-23v25m1-22v21m1-23v22m1-22v24m1-23v22m1-21v20m1-21v22m1-22v21m1-21v21m1-21v23m1-23v23m1-22v23m1-23v22m1-22v21m1-21v20m1-20v21m1-20v19m1-23v23m1-20v21m1-21v20m1-20v20m1-20v21m1-21v23m1-23v22m1-22v21m1-20v19m1-21v21m1-21v21m1-20v23m1-28v28m1-26v23m1-21v21m1-21v21m1-20v20m1-20v20m1-20v24m1-25v24m1-24v23m1-24v24m1-22v20m1-21v29m1-29v24m1-23v21m1-22v21m1-20v20m1-21v21m1-21v23m1-23v21m1-20v20m1-20v21m1-21v20m1-26v27m1-26v25m1-20v21m1-21v21m1-21v20m1-20v23m1-23v21m1-23v21m1-21v22m1-20v20m1-20v20m1-20v25m1-25v23m1-23v21m1-21v21"/>
<path transform="translate(230.40 437.49) scale(1 0.25)" stroke="#ff0000" d="M0 -12v22m1-20v21m1-22v22m1-21v20m1-19v20m1-21v21m1-22v27m1-28v26m1-26v22m1-24v24m1-20v21m1-21v21m1-21v20m1-20v21m1-21v22m1-24v22m1-21v21m1-20v22m1-25v25m1-22v19m1-19v21m1-21v22m1-22v20m1-20v20m1-21v21m1-21v24m1-22v22m1-23v20m1-20v19m1-19v21m1-20v19m1-22v22m1-20v20m1-20v23m1-23v22m1-24v23m1-22v21m1-20v21m1-22v22m1-22v24m1-25v23m1-23v22m1-21v21m1-21v21m1-20v28m1-30v22m1-22v23m1-22v22m1-21v26m1-26v20m1-21v20m1-19v20m1-20v22m1-22v21m1-21v21m1-21v20m1-20v20m1-25v25m1-25v25m1-23v23m1-21v21m1-23v24m1-24v26m1-23v22m1-22v20m1-20v20m1-20v19m1-19v20m1-20v20m1-20v22m1-25v23m1-22v23m1-23v22m1-21v21m1-23v23m1-23v32m1-30v21m1-20v21m1-21v20m1-20v20m1-20v21m1-22v21m1-26v27m1-27v28m1-26v25m1-22v27m1-27v23m1-22v20m1-23v23m1-20v19m1-21v23m1-28v28m1-21v20m1-20v20m1-20v20m1-20v20m1-20v20m1-20v19m1-21v22m1-20v24m1-24v23m1-25v26m1-26v23m1-23v22m1-22v22m1-25v26m1-25v27m1-23v21m1-21v21m1-26v26m1-21v22m1-24v22m1-22v27m1-28v27m1-25v23m1-23v22m1-21v20m1-20v20m1-20v20m1-21v23m1-24v23m1-22v21m1-20v20m1-22v22m1-20v20m1-20v20m1-20v20m1-23v23m1-23v23m1-20v23m1-23v20m1-20v22m1-22v20m1-20v20m1-20v20m1-20v21m1-22v22m1-21v21m1-21v20m1-20v20m1-24v25m1-23v30m1-33v27m1-30v30m1-22v20m1-22v22m1-20v21m1-22v22m1-22v22m1-21v20m1-22v23m1-24v23m1-20v20m1-27v27m1-19v22m1-23v22m1-23v21m1-20v20m1-20v20m1-20v22m1-23v23m1-24v23m1-22v21m1-20v20m1-20v20m1-21v22m1-21v20m1-23v23m1-20v21m1-21v22m1-25v22m1-18v19m1-20v20m1-22v24m1-23v26m1-26v25m1-24v20m1-20v19m1-20v21m1-20v19m1-19v22m1-23v23m1-24v22m1-21v20m1-19v22m1-23v23m1-25v25m1-22v20m1-22v31m1-28v22m1-23v23m1-24v21m1-20v20m1-22v22m1-21v21m1-20v20m1-22v24m1-24v23m1-21v20m1-20v20m1-20v22m1-22v21m1-21v22m1-22v22m1-21v19m1-21v23m1-23v22m1-22v22m1-23v23m1-23v22m1-20v20m1-20v19m1-19v23m1-26v25m1-22v25m1-26v24m1-23v20m1-25v25m1-24v32m1-30v24m1-22v20m1-20v21m1-24v24m1-21v22m1-27v26m1-22v24m1-23v22m1-22v20m1-19v23m1-26v25m1-24v23m1-22v21m1-21v22m1-22v21m1-21v20m1-20v21m1-21v20m1-20v28m1-28v26m1-26v20m1-20v20m1-20v21m1-21v22m1-22v23m1-22v21m1-22v20m1-23v23m1-20v19m1-18v20m1-23v23m1-22v23m1-22v21m1-22v21m1-19v19m1-20v20m1-20v23m1-23v20m1-24v24m1-20v20m1-20v20m1-20v23m1-23v20m1-20v20m1-20v20m1-20v21m1-21v26m1-26v21m1-23v26m1-27v23m1-23v23m1-20v20m1-20v20m1-19v19m1-20v20m1-20v20m1-21v21m1-20v20m1-20v20m1-20v20m1-21v21m1-21v21m1-20v20m1-20v20m1-20v24m1-23v20m1-22v22m1-22v22m1-23v22m1-19v19m1-20v23m1-22v19m1-22v22m1-21v21m1-20v20m1-20v21m1-21v21m1-29v29m1-21v21m1-21v20m1-20v20m1-23v23m1-22v24m1-22v21m1-21v20m1-20v20m1-20v20m1-20v20m1-20v20m1-21v22m1-23v22m1-24v24m1-21v21m1-21v25m1-24v23m1-23v20m1-20v23m1-23v22m1-24v22m1-21v21m1-19v19m1-22v23m1-21v20m1-21v22m1-22v21m1-20v21m1-21v21m1-22v21m1-20v19m1-20v22m1-25v25m1-24v25m1-22v20m1-21v21m1-20v19m1-19v20m1-19v19m1-24v24m1-24v25m1-21v22m1-22v20m1-20v20m1-22v21m1-19v19m1-28v29m1-22v22m1-23v23m1-24v24m1-20v20m1-21v22m1-21v22m1-22v20m1-21v21m1-28v31m1-24v23m1-21v19m1-20v22m1-22v21m1-21v19m1-19v20m1-21v22m1-21v19m1-19v22m1-22v20m1-20v20m1-21v21m1-20v20m1-19v21m1-25v26m1-32v29m1-23v25m1-26v26m1-25v25m1-24v23m1-22v23m1-22v22m1-22v21m1-21v20m1-23v23m1-22v23m1-23v25m1-26v25m1-22v20m1-20v21m1-21v20m1-21v21m1-21v23m1-21v19m1-22v22m1-23v23m1-22v22m1-21v20m1-19v19m1-19v20m1-22v22m1-22v21m1-19v19m1-19v20m1-20v20m1-20v20m1-20v21m1-21v21m1-20v19m1-20v20m1-20v20m1-22v22m1-22v23m1-22v21m1-20v20m1-22v24m1-23v23m1-25v23m1-23v26m1-24v24m1-25v22m1-21v21m1-22v22m1-20v21m1-21v21m1-21v20m1-25v28m1-23v23m1-24v21m1-21v21m1-19v19m1-20v20m1-20v25m1-27v26m1-26v24m1-24v24m1-25v24m1-27v26m1-20v20m1-20v20m1-21v21m1-21v21m1-22v21m1-21v21m1-21v25m1-23v22m1-24v23m1-29v27m1-19v20m1-21v22m1-23v23m1-23v24m1-22v22m1-22v21m1-21v26m1-27v26m1-25v23m1-23v21m1-22v21m1-20v20m1-21v21m1-20v20m1-20v20m1-23v23m1-22v23m1-21v20m1-21v27m1-27v27m1-27v21m1-20v20m1-20v21m1-21v21m1-21v20m1-20v20m1-21v27m1-26v20m1-20v21m1-21v21m1-21v22m1-22v22m1-22v21m1-21v23m1-23v23m1-23v23m1-29v28m1-22v20m1-20v20m1-20v20m1-22v22m1-21v21m1-20v21m1-21v21m1-21v20m1-21v20m1-20v21m1-22v22m1-20v19m1-23v24m1-23v25m1-24v24m1-22v21m1-21v22m1-23v20m1-19v20m1-25v28m1-27v24m1-20v20m1-26v27m1-21v22m1-22v20m1-23v23m1-22v21m1-19v25m1-25v25m1-25v23m1-24v23m1-24v22m1-20v20m1-20v19m1-20v21m1-21v27m1-27v26m1-24v18m1-23v24m1-22v22m1-29v31m1-23v22m1-21v20m1-20v20m1-21v23m1-23v23m1-22v20m1-20v24m1-23v18m1-19v21m1-21v20m1-20v22m1-27v27m1-27v27m1-22v20m1-20v20m1-20v20m1-20v20m1-20v22m1-22v21m1-21v20m1-24v25m1-23v24m1-24v22m1-22v22m1-24v24m1-20v22m1-22v25m1-25v23m1-25v22m1-22v24m1-24v27m1-25v20m1-21v21m1-20v22m1-24v23m1-22v21m1-26v27m1-22v21m1-21v21m1-21v21m1-21v21m1-23v24m1-24v23m1-22v22m1-20v20m1-20v20m1-20v19m1-23v29m1-25v25m1-29v26m1-24v23m1-22v21m1-23v23m1-23v23m1-20v20m1-19v19m1-21v21m1-20v20m1-21v25m1-25v21m1-20v20m1-22v22m1-21v23m1-21v22m1-23v21m1-21v22m1-24v23m1-25v24m1-24v28m1-26v24m1-22v19m1-19v20m1-21v21m1-22v24m1-24v24m1-25v22m1-21v22m1-20v20m1-20v20m1-20v20m1-20v22m1-23v23m1-22v22m1-22v21m1-25v24m1-22v22m1-22v22m1-20v21m1-21v22m1-22v21m1-21v20m1-20v20m1-26v26m1-25v25m1-20v21m1-25v24m1-23v23m1-22v22m1-20v21m1-23v22m1-22v22m1-21v25m1-25v24m1-23v20m1-20v20m1-21v25m1-24v22m1-22v21m1-21v20m1-22v22m1-20v22m1-22v22m1-22v20m1-20v21m1-23v22m1-22v25m1-24v21m1-20v20m1-22v22m1-20v20m1-22v23m1-20v19m1-20v20m1-20v22m1-22v20m1-21v21m1-26v26m1-20v20m1-20v22m1-22v25m1-25v23m1-23v20m1-23v23m1-20v23m1-23v22m1-23v23m1-24v22m1-21v25m1-24v23m1-25v22m1-20v20m1-24v24m1-23v23m1-21v21m1-20v20m1-20v24m1-25v24m1-24v21m1-20v22m1-23v22m1-23v25m1-24v26m1-27v25m1-23v21m1-21v21m1-21v19m1-19v22m1-22v21m1-23v22m1-21v21m1-21v21m1-20v22m1-21v20m1-21v19m1-19v20m1-19v20m1-21v22m1-24v22m1-21v21m1-23v23m1-20v20m1-20v24m1-24v22m1-25v23m1-23v24m1-21v21m1-21v21m1-23v22m1-22v21m1-20v28m1-29v22m1-23v24m1-23v22m1-24v25m1-23v22m1-22v22m1-20v22m1-22v21m1-21v22m1-23v22m1-22v21m1-20v21m1-23v22m1-22v21m1-19v19m1-19v20m1-20v22m1-23v21m1-22v22m1-20v20m1-20v20m1-20v20m1-19v19m1-22v22m1-22v22m1-22v21m1-20v26m1-25v24m1-26v22m1-21v24m1-23v23m1-23v21m1-21v20m1-20v20m1-20v20m1-20v21m1-21v22m1-28v28m1-27v25m1-21v21m1-21v22m1-21v20m1-25v25m1-29v29m1-21v24m1-24v23m1-22v21m1-21v22m1-23v21m1-21v21m1-23v24m1-24v25m1-25v25m1-25v26m1-23v22m1-22v25m1-27v25m1-24v23m1-24v23m1-23v25m1-23v23m1-24v21m1-22v25m1-25v25m1-24v22m1-21v20m1-20v20m1-20v20m1-22v22m1-22v22m1-24v23m1-22v23m1-20v19m1-19v20m1-23v23m1-22v30m1-28v19m1-19v20m1-20v20m1-20v20m1-20v20m1-20v23m1-24v21m1-21v21m1-21v21m1-20v19m1-24v28m1-23v20m1-23v23m1-25v25m1-20v23m1-27v25m1-22v22m1-21v22m1-22v22m1-23v21m1-21v24m1-26v25m1-27v27m1-28v26m1-20v21m1-23v23m1-23v24m1-24v26m1-26v24m1-24v22m1-20v21m1-24v23m1-25v26m1-25v25m1-21v24m1-24v20m1-23v23m1-23v25m1-22v21m1-21v21m1-21v21m1-23v22m1-22v22m1-27v28m1-24v23m1-22v23m1-22v23m1-26v24m1-23v25m1-23v27m1-25v21m1-22v21m1-23v24m1-23v22m1-21v20m1-22v22m1-22v24m1-22v23m1-23v23m1-25v22m1-22v24m1-24v23m1-26v26m1-21v20m1-21v21m1-20v20m1-19v24m1-25v20m1-23v25m1-24v22m1-21v21m1-25v25m1-24v24m1-22v25m1-23v22m1-23v21m1-21v22m1-21v25m1-25v23m1-23v20m1-25v24m1-22v23m1-20v20m1-20v20m1-20v22m1-22v20m1-20v20m1-22v22m1-22v22m1-22v22m1-22v22m1-22v24m1-23v24m1-25v27m1-26v25m1-25v23m1-22v20m1-20v20m1-25v25m1-19v20m1-21v24m1-25v24m1-24v21m1-20v20m1-20v21m1-21v20m1-22v22m1-20v20m1-20v20m1-20v20m1-22v22m1-22v22m1-21v21m1-22v22m1-20v20m1-20v20m1-22v22m1-20v20m1-19v20m1-21v23m1-23v22m1-24v25m1-24v22m1-21v25m1-25v20m1-21v21m1-22v22m1-20v22m1-22v22m1-22v21m1-21v19m1-19v20m1-20v19m1-18v19m1-20v24m1-24v20m1-20v21m1-21v20m1-22v24m1-25v22m1-20v20m1-21v23m1-21v20m1-23v24m1-25v30m1-26v25m1-25v20m1-22v22m1-21v24m1-24v21m1-20v22m1-21v20m1-23v22m1-21v21m1-22v22m1-21v27m1-27v26m1-27v27m1-26v22m1-21v20m1-22v21m1-19v21m1-21v20m1-20v20m1-20v20m1-20v22m1-26v25m1-27v26m1-26v27m1-22v24m1-24v20m1-22v24m1-24v24m1-21v20m1-22v22m1-20v22m1-22v22m1-22v22m1-22v27m1-29v24m1-24v24m1-22v20m1-23v26m1-25v23m1-29v28m1-21v21m1-20v20m1-21v21m1-20v20m1-20v21m1-21v21m1-21v23m1-23v20m1-20v20m1-20v22m1-22v21m1-21v22m1-24v22m1-21v22m1-21v21m1-22v21m1-21v21m1-19v18m1-19v19m1-19v20m1-20v19m1-19v20m1-20v20m1-27v27m1-20v24m1-24v19m1-19v22m1-22v22m1-24v23m1-22v21m1-20v21m1-21v20m1-21v21m1-20v21m1-21v20m1-21v24m1-25v24m1-26v23m1-22v23m1-21v23m1-24v23m1-23v22m1-20v20m1-21v22m1-21v21m1-21v20m1-20v21m1-20v23m1-24v26m1-28v26m1-28v26m1-25v23m1-22v22m1-20v22m1-22v20m1-21v21m1-21v21m1-21v21m1-21v21m1-22v21m1-21v25m1-23v23m1-24v23m1-24v27m1-26v21m1-21v22m1-27v28m1-23v23m1-23v21m1-21v20m1-20v22m1-21v20m1-25v27m1-27v26m1-24v24m1-23v22m1-24v24m1-22v23m1-25v24m1-21v21m1-20v20m1-27v27m1-21v22m1-27v27m1-21v22m1-22v22m1-23v24m1-25v25m1-24v22m1-22v22m1-22v21m1-24v24m1-20v21m1-22v22m1-24v23m1-20v21m1-21v22m1-22v22m1-22v20m1-22v28m1-27v22m1-22v23m1-23v23m1-24v24m1-24v22m1-20v20m1-20v21m1-21v21m1-21v20m1-22v22m1-21v22m1-21v20m1-21v21m1-21v21m1-20v20m1-20v20m1-21v22m1-22v22m1-21v20m1-20v20m1-21v21m1-20v20m1-21v21m1-20v20m1-19v19m1-20v20m1-20v20m1-22v27m1-27v25m1-23v22m1-31v31m1-23v20m1-19v20m1-20v20m1-20v20m1-20v21m1-21v20m1-23v23m1-22v22m1-21v21m1-20v20m1-22v22m1-21v21m1-20v21m1-23v23m1-22v20m1-19v20m1-20v20m1-19v19m1-21v23m1-21v19m1-21v20m1-20v24m1-22v21m1-22v22m1-25v28m1-28v23m1-20v21m1-21v20m1-20v22m1-22v20m1-20v22m1-23v23m1-23v23m1-22v20m1-21v27m1-28v28m1-30v24m1-23v23m1-22v24m1-22v22m1-22v22m1-22v21m1-20v19m1-21v22m1-24v24m1-24v27m1-25v24m1-23v22m1-23v23m1-22v20m1-19v19m1-20v22m1-23v21m1-22v24m1-24v25m1-24v23m1-22v21m1-21v22m1-22v23m1-24v22m1-21v25m1-26v22m1-21v21m1-22v21m1-24v24m1-24v24m1-20v21m1-21v20m1-22v22m1-21v21m1-21v21m1-21v22m1-22v22m1-22v24m1-25v25m1-24v22m1-21v21m1-21v21m1-21v21m1-21v20m1-20v20m1-23v24m1-21v23m1-22v20m1-21v20m1-23v23m1-22v22m1-20v20m1-20v20m1-26v26m1-20v21m1-21v22m1-22v22m1-22v20m1-20v20m1-20v23m1-24v23m1-24v22m1-20v20m1-20v20m1-21v21m1-21v21m1-20v22m1-23v22m1-21v20m1-21v24m1-25v22m1-20v21m1-21v22m1-22v20m1-20v21m1-21v20m1-20v20m1-22v23m1-23v23m1-22v23m1-23v21m1-22v23m1-21v20m1-20v20m1-20v21m1-21v22m1-23v21m1-22v23m1-21v19m1-19v21m1-23v25m1-23v20m1-20v20m1-24v24m1-21v21m1-20v21m1-21v21m1-21v20m1-19v19m1-22v24m1-23v23m1-21v19m1-20v19m1-22v25m1-25v25m1-24v24m1-22v20m1-23v23m1-23v23m1-21v22m1-21v20m1-21v21m1-22v24m1-23v22m1-21v20m1-20v20m1-20v20m1-20v23m1-22v21m1-22v21m1-23v22m1-21v22m1-25v24m1-24v24m1-21v21m1-21v21m1-22v22m1-21v23m1-22v21m1-24v23m1-21v22m1-23v22m1-20v21m1-21v21m1-21v22m1-23v23m1-22v21m1-22v21m1-21v21m1-21v21m1-20v19m1-19v20m1-19v20m1-25v27m1-25v29m1-28v20m1-18v23m1-23v23m1-24v22m1-22v21m1-21v20m1-20v20m1-20v20m1-22v23m1-21v20m1-21v22m1-21v21m1-20v20m1-21v20m1-22v22m1-22v24m1-22v22m1-22v20m1-20v21m1-21v20m1-20v20m1-20v20m1-20v20m1-20v24m1-25v25m1-27v24m1-21v20m1-20v20m1-20v22m1-22v22m1-22v22m1-22v20m1-21v21m1-21v22m1-21v22m1-24v23m1-23v22m1-20v20m1-23v23m1-23v24m1-20v22m1-26v25m1-24v23m1-24v27m1-26v22m1-20v20m1-20v20m1-23v23m1-21v23m1-23v21m1-20v20m1-20v24m1-24v20m1-20v23m1-24v23m1-22v20m1-22v22m1-23v25m1-22v21m1-21v20m1-20v20m1-22v23m1-24v26m1-26v26m1-25v24m1-24v23m1-21v20m1-20v20m1-22v22m1-20v22m1-22v22m1-22v26m1-26v20m1-21v23m1-23v22m1-23v22m1-23v23m1-20v19m1-21v24m1-25v25m1-24v21m1-19v20m1-22v22m1-21v21m1-20v20m1-20v25m1-26v21m1-25v25m1-26v26m1-19v18m1-19v22m1-22v22m1-24v24m1-25v25m1-24v23m1-28v30m1-24v24m1-23v22m1-21v19m1-21v21m1-21v22m1-21v23m1-23v21m1-23v22m1-22v22m1-21v22m1-21v22m1-23v21m1-20v20m1-20v20m1-20v21m1-23v22m1-22v24m1-22v22m1-22v20m1-20v19m1-21v25m1-24v23m1-22v20m1-23v23m1-24v27m1-27v25m1-24v23m1-20v22m1-22v22m1-23v21m1-21v21m1-20v22m1-22v22m1-22v22m1-22v21m1-25v26m1-25v25m1-28v26m1-25v25m1-20v19m1-19v21m1-23v22m1-21v21m1-24v24m1-26v27m1-21v21m1-27v27m1-21v23m1-22v20m1-21v21m1-21v21m1-21v22m1-22v22m1-22v22m1-22v22m1-22v21m1-22v22m1-23v23m1-21v21m1-21v20m1-23v25m1-25v24m1-22v22m1-22v24m1-22v21m1-22v21m1-23v21m1-18v19m1-27v31m1-26v24m1-23v22m1-22v21m1-20v20m1-20v25m1-25v19m1-19v20m1-23v25m1-24v28m1-29v25m1-26v25m1-21v20m1-19v18m1-21v22m1-20v20m1-26v26m1-25v27m1-22v21m1-21v20m1-22v24m1-28v28m1-23v21m1-21v21"/>
<path transform="translate(230.40 475.81) scale(1 0.25)" stroke="#0000ff" d="M0 -10v20m1-19v19m1-20v20m1-23v24m1-23v22m1-20v20m1-20v20m1-22v22m1-21v22m1-22v23m1-23v22m1-22v24m1-23v20m1-20v20m1-20v20m1-20v21m1-22v22m1-22v21m1-21v21m1-21v21m1-21v20m1-19v20m1-20v21m1-21v23m1-24v23m1-22v20m1-20v20m1-20v20m1-20v20m1-20v22m1-22v22m1-22v20m1-22v22m1-22v22m1-22v30m1-29v26m1-25v24m1-24v20m1-20v19m1-19v22m1-22v23m1-23v20m1-21v22m1-22v22m1-21v20m1-23v23m1-24v24m1-22v23m1-24v24m1-23v22m1-20v20m1-21v21m1-22v24m1-22v22m1-25v23m1-22v22m1-19v19m1-20v20m1-20v20m1-20v22m1-23v21m1-27v27m1-20v22m1-24v23m1-21v21m1-21v21m1-24v24m1-21v21m1-21v20m1-23v23m1-28v30m1-23v22m1-21v20m1-20v23m1-23v23m1-24v21m1-21v21m1-20v21m1-21v21m1-21v20m1-22v27m1-27v23m1-21v21m1-20v19m1-23v22m1-20v23m1-22v21m1-24v27m1-27v26m1-26v25m1-22v21m1-21v21m1-23v22m1-21v28m1-28v25m1-24v23m1-25v25m1-24v23m1-21v19m1-22v22m1-21v21m1-21v21m1-20v20m1-20v22m1-25v24m1-23v22m1-22v22m1-22v25m1-25v24m1-23v26m1-26v22m1-22v23m1-23v22m1-21v21m1-24v25m1-22v22m1-22v21m1-21v20m1-20v23m1-23v22m1-22v23m1-23v20m1-20v20m1-20v20m1-20v23m1-25v22m1-23v23m1-25v25m1-21v20m1-20v21m1-21v22m1-22v22m1-22v23m1-22v23m1-23v22m1-22v21m1-22v21m1-21v24m1-23v22m1-22v20m1-22v23m1-23v22m1-24v24m1-20v20m1-22v22m1-21v21m1-20v22m1-24v22m1-22v22m1-20v20m1-20v20m1-24v25m1-21v22m1-23v23m1-22v22m1-22v20m1-20v20m1-21v21m1-20v20m1-22v22m1-22v25m1-23v21m1-23v22m1-20v21m1-23v22m1-21v24m1-23v20m1-20v20m1-21v21m1-23v24m1-23v23m1-23v22m1-22v24m1-23v22m1-21v22m1-26v25m1-21v21m1-24v23m1-23v23m1-23v23m1-20v22m1-22v21m1-24v23m1-23v23m1-21v21m1-20v20m1-20v22m1-24v23m1-23v22m1-22v23m1-22v23m1-23v21m1-19v22m1-26v23m1-22v22m1-20v20m1-20v22m1-22v20m1-19v26m1-28v21m1-21v21m1-19v20m1-23v24m1-23v21m1-22v22m1-22v23m1-22v20m1-22v25m1-30v30m1-25v23m1-21v21m1-22v23m1-27v27m1-26v25m1-20v20m1-20v20m1-22v23m1-27v28m1-24v22m1-22v23m1-23v23m1-22v22m1-21v22m1-23v22m1-21v22m1-23v22m1-24v23m1-20v20m1-20v20m1-23v24m1-24v23m1-23v24m1-22v22m1-21v21m1-21v21m1-22v21m1-22v22m1-22v24m1-24v24m1-23v24m1-26v27m1-24v24m1-23v19m1-20v20m1-26v28m1-23v23m1-23v20m1-22v23m1-23v23m1-22v21m1-19v22m1-22v20m1-22v22m1-21v21m1-21v21m1-23v24m1-21v21m1-21v23m1-23v20m1-21v21m1-23v23m1-22v24m1-23v21m1-21v23m1-21v23m1-24v20m1-20v20m1-20v19m1-18v19m1-20v22m1-24v22m1-22v22m1-20v20m1-22v22m1-21v22m1-22v23m1-22v22m1-25v28m1-27v26m1-23v22m1-22v22m1-23v22m1-22v21m1-21v19m1-20v27m1-28v23m1-23v24m1-23v21m1-23v22m1-21v21m1-20v26m1-25v24m1-27v25m1-24v24m1-26v25m1-23v22m1-20v20m1-20v19m1-19v20m1-24v24m1-23v25m1-24v23m1-21v21m1-21v20m1-20v19m1-22v23m1-22v22m1-20v20m1-23v23m1-23v24m1-23v25m1-24v24m1-24v21m1-21v25m1-30v29m1-23v20m1-20v20m1-21v21m1-21v21m1-21v21m1-21v22m1-24v25m1-23v21m1-20v22m1-22v22m1-21v21m1-22v21m1-21v21m1-27v26m1-22v22m1-22v22m1-21v21m1-21v21m1-22v24m1-23v22m1-21v20m1-20v20m1-19v19m1-26v26m1-24v24m1-20v21m1-22v21m1-22v22m1-20v20m1-20v20m1-21v22m1-21v20m1-22v22m1-21v22m1-21v20m1-19v19m1-20v22m1-22v21m1-21v20m1-21v21m1-20v20m1-20v23m1-25v24m1-22v20m1-20v20m1-20v20m1-20v20m1-24v24m1-23v25m1-22v21m1-22v23m1-23v24m1-23v22m1-22v21m1-23v22m1-19v19m1-20v21m1-21v21m1-20v23m1-24v20m1-20v20m1-21v23m1-22v20m1-20v22m1-22v22m1-25v26m1-23v20m1-19v19m1-20v20m1-22v24m1-24v22m1-22v22m1-20v20m1-20v20m1-21v21m1-29v35m1-30v27m1-27v25m1-24v25m1-24v22m1-22v22m1-20v19m1-21v26m1-24v20m1-20v24m1-26v24m1-25v24m1-23v22m1-22v23m1-23v24m1-25v24m1-23v23m1-20v21m1-24v22m1-26v26m1-27v29m1-21v20m1-21v20m1-20v20m1-21v21m1-24v24m1-20v20m1-21v21m1-25v26m1-25v24m1-20v20m1-21v21m1-20v20m1-23v23m1-23v25m1-22v20m1-20v20m1-20v21m1-22v22m1-20v19m1-26v26m1-22v23m1-23v25m1-24v23m1-22v22m1-22v20m1-20v20m1-20v21m1-21v22m1-23v21m1-21v21m1-20v21m1-21v21m1-22v20m1-20v21m1-20v20m1-20v21m1-21v22m1-22v24m1-26v22m1-23v26m1-25v23m1-23v23m1-21v20m1-20v20m1-22v26m1-26v25m1-22v19m1-19v20m1-23v23m1-23v22m1-21v21m1-20v20m1-20v20m1-20v23m1-23v20m1-20v20m1-20v20m1-20v26m1-26v22m1-22v20m1-23v23m1-22v23m1-21v22m1-22v21m1-23v25m1-25v23m1-21v20m1-20v22m1-22v20m1-28v27m1-20v21m1-22v22m1-19v20m1-21v20m1-20v20m1-22v22m1-21v25m1-28v28m1-24v23m1-23v22m1-23v21m1-22v22m1-22v22m1-20v21m1-21v20m1-22v24m1-25v25m1-24v23m1-22v21m1-22v22m1-22v23m1-24v24m1-24v23m1-22v22m1-21v21m1-20v19m1-19v20m1-20v20m1-20v25m1-26v25m1-24v20m1-20v23m1-23v20m1-23v23m1-22v22m1-22v23m1-25v24m1-20v24m1-26v22m1-24v23m1-22v23m1-20v19m1-19v20m1-20v20m1-20v20m1-21v21m1-20v21m1-20v20m1-22v21m1-22v22m1-26v30m1-28v27m1-23v21m1-21v25m1-26v21m1-20v21m1-21v21m1-23v24m1-23v23m1-26v26m1-25v24m1-21v20m1-23v23m1-23v25m1-22v24m1-24v23m1-31v28m1-19v19m1-23v23m1-20v20m1-21v23m1-22v20m1-20v20m1-20v20m1-20v23m1-29v25m1-23v25m1-24v25m1-23v21m1-20v21m1-23v22m1-19v19m1-21v22m1-21v21m1-24v23m1-22v23m1-22v22m1-21v20m1-20v20m1-19v22m1-28v25m1-25v27m1-23v23m1-24v25m1-26v23m1-19v20m1-21v21m1-23v25m1-23v20m1-23v23m1-22v23m1-20v19m1-25v25m1-22v22m1-20v20m1-20v21m1-21v21m1-21v21m1-21v21m1-21v20m1-20v20m1-20v22m1-22v22m1-25v25m1-24v23m1-21v20m1-20v20m1-22v25m1-24v23m1-22v20m1-20v20m1-21v24m1-24v23m1-23v23m1-23v23m1-23v21m1-20v20m1-23v30m1-28v23m1-23v20m1-18v20m1-22v22m1-24v22m1-21v22m1-21v21m1-21v21m1-22v23m1-21v20m1-21v22m1-23v22m1-21v26m1-26v21m1-20v20m1-20v20m1-21v22m1-23v22m1-22v22m1-22v22m1-22v23m1-22v21m1-21v21m1-24v24m1-20v20m1-19v20m1-21v20m1-20v20m1-25v27m1-23v23m1-22v21m1-24v24m1-23v22m1-20v20m1-20v20m1-21v21m1-21v21m1-20v22m1-22v23m1-24v25m1-25v24m1-23v20m1-21v23m1-23v22m1-21v22m1-23v22m1-22v21m1-22v22m1-21v21m1-21v22m1-21v21m1-21v22m1-22v20m1-20v21m1-21v21m1-23v24m1-24v23m1-23v31m1-30v21m1-22v23m1-23v23m1-21v21m1-21v20m1-21v22m1-22v22m1-21v22m1-21v19m1-22v24m1-25v23m1-22v22m1-21v22m1-21v20m1-21v23m1-22v22m1-25v25m1-21v20m1-21v19m1-23v24m1-23v25m1-24v22m1-21v21m1-22v22m1-23v23m1-21v21m1-21v23m1-22v22m1-22v21m1-21v20m1-20v20m1-21v21m1-21v21m1-20v21m1-21v21m1-21v21m1-21v22m1-23v21m1-21v26m1-26v24m1-24v28m1-33v26m1-25v26m1-22v21m1-20v19m1-19v22m1-25v23m1-23v23m1-20v20m1-22v22m1-19v19m1-20v22m1-22v22m1-22v20m1-20v21m1-22v21m1-20v21m1-21v20m1-20v20m1-20v20m1-21v24m1-25v24m1-22v22m1-23v21m1-20v20m1-23v25m1-24v27m1-30v30m1-24v19m1-20v20m1-20v23m1-23v22m1-22v20m1-20v23m1-22v19m1-22v22m1-22v22m1-20v23m1-23v22m1-24v28m1-28v21m1-25v27m1-21v22m1-23v21m1-21v22m1-20v19m1-20v22m1-21v20m1-22v21m1-21v21m1-20v20m1-22v25m1-24v23m1-22v20m1-20v22m1-30v30m1-21v19m1-20v22m1-22v25m1-25v20m1-20v20m1-26v26m1-21v21m1-21v21m1-20v20m1-21v21m1-23v23m1-22v24m1-22v22m1-22v22m1-21v21m1-22v21m1-23v22m1-24v27m1-26v25m1-22v20m1-22v22m1-20v20m1-20v20m1-20v22m1-25v23m1-22v22m1-20v24m1-24v23m1-27v24m1-22v22m1-20v20m1-20v21m1-21v23m1-23v23m1-24v25m1-24v23m1-23v20m1-20v20m1-19v19m1-21v21m1-20v20m1-25v34m1-33v23m1-24v29m1-24v20m1-22v24m1-22v22m1-22v20m1-20v21m1-21v20m1-20v22m1-22v21m1-21v21m1-22v21m1-21v22m1-23v24m1-23v20m1-19v20m1-20v20m1-20v20m1-21v24m1-24v23m1-23v21m1-20v22m1-22v21m1-21v19m1-19v21m1-23v24m1-24v22m1-19v21m1-22v22m1-22v20m1-20v21m1-23v21m1-19v25m1-25v24m1-24v22m1-22v22m1-22v19m1-22v23m1-23v23m1-20v25m1-25v21m1-21v21m1-21v20m1-22v22m1-21v21m1-20v21m1-21v22m1-22v20m1-26v27m1-22v21m1-21v21m1-20v20m1-20v21m1-21v21m1-21v24m1-24v23m1-23v21m1-21v21m1-23v22m1-21v21m1-20v22m1-24v23m1-21v20m1-20v24m1-26v25m1-24v21m1-20v20m1-22v22m1-25v25m1-24v24m1-20v20m1-21v21m1-20v21m1-21v20m1-20v19m1-20v21m1-21v21m1-22v25m1-23v21m1-22v22m1-22v22m1-21v21m1-21v19m1-19v20m1-21v22m1-22v21m1-20v20m1-20v20m1-20v20m1-22v24m1-24v23m1-21v20m1-20v22m1-24v24m1-24v22m1-20v20m1-26v28m1-22v22m1-22v22m1-22v22m1-22v21m1-22v21m1-21v21m1-20v20m1-23v23m1-23v25m1-22v22m1-22v21m1-21v22m1-28v28m1-26v26m1-23v25m1-26v30m1-31v24m1-23v22m1-21v21m1-21v26m1-28v28m1-25v20m1-20v23m1-22v19m1-21v21m1-20v23m1-23v23m1-23v20m1-22v27m1-28v25m1-22v20m1-20v22m1-22v20m1-20v20m1-20v20m1-20v20m1-20v21m1-22v23m1-23v21m1-19v19m1-21v21m1-22v24m1-26v26m1-22v22m1-22v21m1-21v21m1-21v20m1-20v21m1-21v20m1-20v20m1-20v20m1-26v26m1-25v28m1-24v23m1-22v20m1-25v25m1-25v25m1-20v27m1-29v25m1-29v28m1-25v29m1-26v26m1-29v28m1-29v24m1-19v19m1-21v23m1-23v23m1-22v21m1-21v19m1-21v22m1-23v23m1-22v23m1-21v21m1-25v25m1-25v24m1-21v21m1-22v22m1-22v24m1-22v21m1-26v25m1-25v25m1-22v23m1-23v23m1-21v21m1-24v26m1-24v23m1-25v27m1-28v28m1-30v26m1-20v21m1-20v20m1-20v19m1-21v22m1-21v20m1-26v26m1-29v31m1-24v23m1-23v23m1-25v29m1-28v24m1-22v22m1-21v21m1-23v23m1-23v22m1-20v21m1-21v20m1-20v20m1-20v20m1-20v20m1-21v21m1-22v22m1-22v22m1-20v20m1-20v20m1-20v20m1-20v21m1-21v20m1-20v23m1-22v21m1-23v22m1-25v26m1-24v22m1-26v26m1-25v25m1-22v23m1-24v24m1-22v22m1-21v22m1-22v22m1-22v22m1-28v27m1-25v23m1-19v21m1-21v19m1-19v19m1-20v22m1-23v22m1-21v21m1-20v20m1-22v22m1-22v24m1-22v20m1-25v25m1-20v21m1-21v20m1-20v20m1-20v20m1-25v25m1-20v20m1-20v22m1-22v26m1-26v23m1-24v21m1-22v23m1-21v23m1-27v26m1-25v25m1-23v21m1-21v20m1-19v20m1-19v19m1-25v26m1-25v26m1-22v21m1-21v21m1-21v20m1-20v20m1-23v24m1-24v26m1-23v22m1-23v21m1-20v22m1-22v21m1-21v20m1-22v22m1-22v22m1-21v21m1-21v21m1-23v23m1-23v23m1-22v22m1-20v20m1-20v20m1-19v19m1-20v22m1-22v19m1-25v27m1-27v28m1-22v22m1-22v24m1-26v26m1-26v24m1-24v23m1-21v20m1-19v18m1-18v20m1-20v20m1-21v20m1-20v20m1-20v20m1-20v19m1-26v30m1-26v22m1-21v21m1-22v23m1-22v22m1-19v18m1-18v23m1-26v26m1-25v24m1-25v24m1-24v24m1-24v24m1-24v24m1-23v22m1-21v20m1-22v22m1-19v19m1-20v21m1-21v21m1-21v20m1-21v21m1-21v22m1-22v22m1-23v24m1-23v21m1-21v21m1-21v21m1-22v23m1-26v27m1-25v25m1-22v20m1-21v29m1-29v25m1-26v22m1-22v22m1-20v21m1-22v25m1-25v24m1-23v20m1-25v25m1-21v21m1-24v26m1-22v21m1-24v24m1-22v22m1-21v22m1-22v21m1-23v26m1-26v22m1-24v25m1-23v22m1-19v19m1-20v22m1-23v23m1-26v24m1-22v22m1-21v21m1-24v24m1-23v23m1-21v21m1-20v20m1-20v20m1-21v21m1-21v23m1-22v20m1-20v19m1-21v29m1-29v23m1-21v19m1-19v20m1-22v26m1-26v22m1-20v20m1-20v20m1-20v21m1-20v21m1-24v22m1-21v25m1-29v28m1-23v20m1-20v20m1-22v22m1-19v19m1-21v21m1-19v19m1-22v22m1-22v21m1-21v23m1-21v20m1-20v21m1-27v29m1-28v25m1-20v22m1-22v22m1-22v21m1-22v22m1-22v22m1-22v21m1-23v23m1-22v24m1-22v20m1-20v20m1-21v21m1-20v21m1-22v21m1-21v21m1-22v22m1-21v20m1-22v25m1-22v20m1-20v20m1-22v26m1-28v27m1-24v21m1-21v21m1-21v21m1-20v25m1-25v23m1-23v23m1-27v24m1-22v23m1-21v20m1-22v22m1-22v24m1-22v21m1-20v19m1-20v20m1-20v20m1-20v20m1-20v20m1-20v21m1-21v21m1-21v20m1-20v20m1-20v20m1-21v21m1-21v21m1-20v21m1-21v20m1-20v20m1-24v24m1-20v20m1-20v20m1-24v24m1-20v20m1-20v20m1-23v25m1-24v25m1-25v22m1-20v24m1-24v20m1-20v20m1-20v20m1-21v25m1-26v24m1-24v25m1-24v21m1-20v20m1-22v24m1-23v22m1-24v23m1-21v29m1-30v23m1-21v23m1-23v20m1-24v24m1-20v20m1-21v21m1-20v20m1-21v21m1-20v20m1-20v20m1-20v21m1-21v22m1-28v26m1-22v22m1-22v22m1-22v23m1-22v22m1-21v21m1-21v19m1-19v20m1-20v20m1-20v21m1-22v21m1-22v22m1-20v22m1-22v22m1-23v21m1-20v20m1-20v20m1-20v22m1-22v21m1-21v20m1-19v21m1-26v26m1-25v24m1-21v20m1-23v23m1-20v21m1-21v22m1-22v22m1-28v27m1-25v24m1-20v20m1-20v21m1-21v21m1-20v20m1-21v21m1-21v20m1-20v23m1-24v21m1-20v23m1-23v22m1-22v21m1-25v25m1-21v20m1-20v20m1-20v20m1-19v21m1-22v20m1-20v21m1-23v23m1-21v21m1-22v24m1-26v26m1-25v24m1-22v23m1-23v20m1-21v23m1-23v23m1-22v19m1-22v23m1-22v24m1-22v20m1-20v21m1-24v23m1-21v25m1-24v20m1-20v20m1-22v22m1-20v22m1-25v23m1-20v21m1-21v20m1-21v21m1-23v29m1-29v23m1-23v23m1-21v21m1-20v20m1-20v20m1-19v19m1-20v20m1-22v22m1-23v23m1-20v20m1-21v21m1-21v21m1-21v23m1-22v22m1-24v24m1-23v23m1-23v23m1-23v21m1-20v21m1-22v21m1-22v22m1-20v19m1-21v22m1-22v22m1-21v22m1-23v22m1-21v21m1-21v21m1-21v21m1-21v23m1-22v21m1-20v20m1-22v21m1-20v21m1-21v20m1-19v19m1-21v23m1-22v22m1-23v21m1-20v20m1-21v22m1-23v25m1-23v20m1-20v20m1-20v23m1-23v23m1-23v22m1-22v21m1-20v21m1-21v20m1-22v24m1-23v20m1-24v24m1-23v23m1-20v20m1-20v20m1-20v23m1-23v20m1-19v23m1-24v20m1-21v24m1-23v20m1-20v20m1-20v20m1-20v20m1-20v20m1-22v25m1-30v29m1-24v22m1-21v21m1-20v23m1-26v23m1-23v23m1-21v21m1-23v25m1-24v24m1-23v22m1-22v21m1-20v20m1-20v20m1-20v21m1-22v21m1-20v20m1-20v21m1-21v21m1-21v21m1-21v23m1-23v23m1-23v22m1-23v27m1-26v25m1-34v29m1-20v20m1-20v22m1-24v23m1-22v21m1-22v22m1-22v22m1-23v23m1-23v25m1-22v20m1-21v24m1-23v23m1-23v21m1-22v21m1-20v23m1-24v22m1-22v21m1-21v21m1-23v31"/>
<path transform="translate(230.40 514.18) scale(1 0.25)" stroke="#008000" d="M0 -10v22m1-22v20m1-20v20m1-20v22m1-24v22m1-22v22m1-20v20m1-20v23m1-23v28m1-29v21m1-19v19m1-20v21m1-20v21m1-25v24m1-20v20m1-21v22m1-22v22m1-23v27m1-27v26m1-25v22m1-22v25m1-25v23m1-23v21m1-21v23m1-23v23m1-23v23m1-24v27m1-26v20m1-20v19m1-21v22m1-22v22m1-21v21m1-21v21m1-21v20m1-19v20m1-20v20m1-20v22m1-22v22m1-22v21m1-22v23m1-22v22m1-25v25m1-24v27m1-25v25m1-26v24m1-24v21m1-20v20m1-21v21m1-21v20m1-19v24m1-25v21m1-21v21m1-21v21m1-19v19m1-20v20m1-20v20m1-25v26m1-25v30m1-25v25m1-27v22m1-21v20m1-25v25m1-23v26m1-23v23m1-23v22m1-22v21m1-20v19m1-22v22m1-21v22m1-22v20m1-19v20m1-28v27m1-21v22m1-20v20m1-20v22m1-22v23m1-26v24m1-20v19m1-20v20m1-20v20m1-20v20m1-20v21m1-22v24m1-23v22m1-22v23m1-23v20m1-20v20m1-21v21m1-20v22m1-22v22m1-22v24m1-23v21m1-22v21m1-21v20m1-20v20m1-20v22m1-24v24m1-23v21m1-20v21m1-23v23m1-23v22m1-20v23m1-23v20m1-20v21m1-20v20m1-23v23m1-23v23m1-23v21m1-19v24m1-26v23m1-24v24m1-21v23m1-24v23m1-23v23m1-22v22m1-22v20m1-19v19m1-20v20m1-22v24m1-24v24m1-23v21m1-21v23m1-22v21m1-22v25m1-28v25m1-24v24m1-21v23m1-23v24m1-24v24m1-24v20m1-20v20m1-20v22m1-22v20m1-20v20m1-22v22m1-23v25m1-25v23m1-22v22m1-22v22m1-22v21m1-20v25m1-25v24m1-24v23m1-24v28m1-27v26m1-25v22m1-22v20m1-20v22m1-22v22m1-22v20m1-20v20m1-19v23m1-24v20m1-22v22m1-21v21m1-20v20m1-19v21m1-22v21m1-20v19m1-20v22m1-22v24m1-24v22m1-22v20m1-21v25m1-26v23m1-21v21m1-21v26m1-27v25m1-25v22m1-24v23m1-21v23m1-22v22m1-25v25m1-25v25m1-22v22m1-22v20m1-21v21m1-21v21m1-21v24m1-24v24m1-23v22m1-24v24m1-24v24m1-23v21m1-20v23m1-23v21m1-24v23m1-21v22m1-23v23m1-21v21m1-21v20m1-23v23m1-23v23m1-22v22m1-22v21m1-19v20m1-20v19m1-22v22m1-21v23m1-21v20m1-21v21m1-21v22m1-21v21m1-22v21m1-21v21m1-20v20m1-22v22m1-21v24m1-25v24m1-23v21m1-22v22m1-22v22m1-22v22m1-22v28m1-26v20m1-20v20m1-21v21m1-25v25m1-23v23m1-22v22m1-21v21m1-22v23m1-22v24m1-25v22m1-22v22m1-20v20m1-20v20m1-20v20m1-20v21m1-24v23m1-22v22m1-21v23m1-22v22m1-23v22m1-21v21m1-21v21m1-29v30m1-22v22m1-22v20m1-20v20m1-21v24m1-23v23m1-23v20m1-22v22m1-21v21m1-22v22m1-21v21m1-20v22m1-24v23m1-23v23m1-23v22m1-22v23m1-21v20m1-20v20m1-20v20m1-22v21m1-21v22m1-21v21m1-20v23m1-23v21m1-20v20m1-23v23m1-23v23m1-21v23m1-23v22m1-22v20m1-19v22m1-23v24m1-24v23m1-23v21m1-23v24m1-23v23m1-25v26m1-26v27m1-24v24m1-26v22m1-22v23m1-24v22m1-21v23m1-20v19m1-20v21m1-21v21m1-21v22m1-24v23m1-23v23m1-21v19m1-18v20m1-21v20m1-20v22m1-22v22m1-22v22m1-24v24m1-24v22m1-22v23m1-21v20m1-20v21m1-21v22m1-24v22m1-21v24m1-23v22m1-23v21m1-22v24m1-22v21m1-22v21m1-22v22m1-21v21m1-20v19m1-20v20m1-20v22m1-21v20m1-23v24m1-29v27m1-19v20m1-21v21m1-20v20m1-20v29m1-31v22m1-22v22m1-20v20m1-21v21m1-23v23m1-22v23m1-21v20m1-24v25m1-25v27m1-23v23m1-23v20m1-20v22m1-22v21m1-21v22m1-22v24m1-24v23m1-26v26m1-24v21m1-21v21m1-22v23m1-22v22m1-23v28m1-31v30m1-29v25m1-21v21m1-21v22m1-22v20m1-20v19m1-19v23m1-25v24m1-24v22m1-20v21m1-24v22m1-25v26m1-20v22m1-28v27m1-22v20m1-19v20m1-20v20m1-20v20m1-20v20m1-28v28m1-19v21m1-22v22m1-23v20m1-19v22m1-24v21m1-19v25m1-27v26m1-25v22m1-28v27m1-23v24m1-20v21m1-22v20m1-20v20m1-20v19m1-21v24m1-23v21m1-22v24m1-22v22m1-23v21m1-21v20m1-19v21m1-27v26m1-25v29m1-24v20m1-20v20m1-21v21m1-20v22m1-22v20m1-23v23m1-23v25m1-25v25m1-21v20m1-23v23m1-23v25m1-26v25m1-22v20m1-20v20m1-19v19m1-22v22m1-22v23m1-23v24m1-24v23m1-24v25m1-22v21m1-22v21m1-21v21m1-21v21m1-20v24m1-24v23m1-22v19m1-21v21m1-20v20m1-20v20m1-21v21m1-23v24m1-21v20m1-20v22m1-23v22m1-26v26m1-21v20m1-20v20m1-23v23m1-22v22m1-21v21m1-21v23m1-22v22m1-23v26m1-27v26m1-24v20m1-22v22m1-23v23m1-22v23m1-21v20m1-20v24m1-26v24m1-22v20m1-22v22m1-21v24m1-23v22m1-24v22m1-22v22m1-19v19m1-22v25m1-24v23m1-22v21m1-21v22m1-22v21m1-21v20m1-19v18m1-19v21m1-24v24m1-21v22m1-24v23m1-21v23m1-23v20m1-20v20m1-20v22m1-22v21m1-21v23m1-24v20m1-19v20m1-20v20m1-20v20m1-22v23m1-22v20m1-19v22m1-24v22m1-20v23m1-23v20m1-21v20m1-20v20m1-18v18m1-21v24m1-22v20m1-22v25m1-24v23m1-22v20m1-22v22m1-21v20m1-21v23m1-27v26m1-22v22m1-24v25m1-24v24m1-27v27m1-21v22m1-25v25m1-22v20m1-20v24m1-27v28m1-27v22m1-21v21m1-21v23m1-22v21m1-21v19m1-19v20m1-20v19m1-21v22m1-22v25m1-23v20m1-25v30m1-29v28m1-24v23m1-24v21m1-22v22m1-21v22m1-21v20m1-20v20m1-20v22m1-22v26m1-28v22m1-20v20m1-20v20m1-20v20m1-20v20m1-21v22m1-22v21m1-20v20m1-20v20m1-20v20m1-22v22m1-23v24m1-24v24m1-21v20m1-21v23m1-23v23m1-22v20m1-21v21m1-22v22m1-22v23m1-21v21m1-21v22m1-22v20m1-21v21m1-20v20m1-24v26m1-24v22m1-22v23m1-22v21m1-21v23m1-21v21m1-24v22m1-21v21m1-20v20m1-22v22m1-22v24m1-23v22m1-22v24m1-23v21m1-23v22m1-20v20m1-19v23m1-24v20m1-20v23m1-23v22m1-22v22m1-22v20m1-22v22m1-22v22m1-22v22m1-21v24m1-25v25m1-24v21m1-22v22m1-22v22m1-20v20m1-20v22m1-22v20m1-20v22m1-24v22m1-20v23m1-23v20m1-20v22m1-24v24m1-24v24m1-24v22m1-23v25m1-24v24m1-24v22m1-21v26m1-25v23m1-27v28m1-24v24m1-25v22m1-21v21m1-21v23m1-25v24m1-31v33m1-26v24m1-24v27m1-26v24m1-24v22m1-21v21m1-21v22m1-28v26m1-22v27m1-27v24m1-22v20m1-20v24m1-24v24m1-25v22m1-22v21m1-22v23m1-21v20m1-21v21m1-22v23m1-22v22m1-21v20m1-19v19m1-21v22m1-21v20m1-20v20m1-20v23m1-23v22m1-21v20m1-22v22m1-21v22m1-22v22m1-23v21m1-20v20m1-20v20m1-20v20m1-20v20m1-20v20m1-20v21m1-22v22m1-22v21m1-22v22m1-22v22m1-20v21m1-21v20m1-20v23m1-23v21m1-25v24m1-20v22m1-22v22m1-22v22m1-22v21m1-22v21m1-20v22m1-21v20m1-21v20m1-20v20m1-20v20m1-22v22m1-21v21m1-20v20m1-20v20m1-20v19m1-21v22m1-22v23m1-21v20m1-20v20m1-20v20m1-22v22m1-21v21m1-21v24m1-24v29m1-28v21m1-21v21m1-21v22m1-21v21m1-22v23m1-23v20m1-19v19m1-20v22m1-22v22m1-22v20m1-20v20m1-21v23m1-24v23m1-21v21m1-21v20m1-20v20m1-20v23m1-25v24m1-22v20m1-20v20m1-20v20m1-20v21m1-21v21m1-21v20m1-20v21m1-21v21m1-27v25m1-25v26m1-22v22m1-22v22m1-22v22m1-21v21m1-20v20m1-22v23m1-22v22m1-22v22m1-22v22m1-23v23m1-22v27m1-28v25m1-23v20m1-22v22m1-22v24m1-22v21m1-22v22m1-22v21m1-24v24m1-24v24m1-22v22m1-22v22m1-21v21m1-22v22m1-21v21m1-20v20m1-20v20m1-20v20m1-20v20m1-20v20m1-22v22m1-21v23m1-22v23m1-23v22m1-22v20m1-21v23m1-23v23m1-24v22m1-21v21m1-21v24m1-23v21m1-21v20m1-20v20m1-25v25m1-26v26m1-24v29m1-25v21m1-21v20m1-20v23m1-23v22m1-22v20m1-20v20m1-21v21m1-21v21m1-21v21m1-22v23m1-21v20m1-21v20m1-20v23m1-23v23m1-22v20m1-20v20m1-22v21m1-20v21m1-21v25m1-28v26m1-23v22m1-22v21m1-19v19m1-21v21m1-20v20m1-21v22m1-22v23m1-23v23m1-24v22m1-21v21m1-20v23m1-24v23m1-23v21m1-20v23m1-23v23m1-23v20m1-23v23m1-20v22m1-22v20m1-20v22m1-22v20m1-21v21m1-22v22m1-20v20m1-20v22m1-22v23m1-23v23m1-23v22m1-22v22m1-22v23m1-23v23m1-23v23m1-28v27m1-26v25m1-21v21m1-21v21m1-21v23m1-23v22m1-22v20m1-20v20m1-19v22m1-23v20m1-24v23m1-23v24m1-21v21m1-25v25m1-23v25m1-24v25m1-26v29m1-28v28m1-26v24m1-26v25m1-25v22m1-27v27m1-22v22m1-21v23m1-23v27m1-26v24m1-26v23m1-22v22m1-23v23m1-22v24m1-23v20m1-22v27m1-27v26m1-25v22m1-21v21m1-22v22m1-25v26m1-25v25m1-22v19m1-19v20m1-20v21m1-22v21m1-22v23m1-24v25m1-22v27m1-26v19m1-20v20m1-20v21m1-23v24m1-24v22m1-20v20m1-22v22m1-21v21m1-21v21m1-21v21m1-20v20m1-20v20m1-23v23m1-24v24m1-23v23m1-20v20m1-19v22m1-23v21m1-21v20m1-20v20m1-22v26m1-26v26m1-24v27m1-29v22m1-21v22m1-21v20m1-25v26m1-24v23m1-20v27m1-27v20m1-24v27m1-26v25m1-21v20m1-23v22m1-23v23m1-20v20m1-20v20m1-20v20m1-26v26m1-21v23m1-24v24m1-22v20m1-20v20m1-21v22m1-22v21m1-20v20m1-20v20m1-20v22m1-22v22m1-23v23m1-23v23m1-25v24m1-22v22m1-21v20m1-21v21m1-21v21m1-20v19m1-19v23m1-23v21m1-22v21m1-21v30m1-29v20m1-27v27m1-21v25m1-24v23m1-23v21m1-21v22m1-21v21m1-22v21m1-23v23m1-21v21m1-21v23m1-23v20m1-20v24m1-26v22m1-19v21m1-30v29m1-21v21m1-21v20m1-20v20m1-20v20m1-22v27m1-27v27m1-26v21m1-20v22m1-25v29m1-30v26m1-28v28m1-22v22m1-24v22m1-25v25m1-21v21m1-20v20m1-23v26m1-26v25m1-24v24m1-22v25m1-28v23m1-20v21m1-21v20m1-20v20m1-21v22m1-21v21m1-21v20m1-22v22m1-23v24m1-21v21m1-23v22m1-22v22m1-20v23m1-23v20m1-20v20m1-20v20m1-20v20m1-28v28m1-21v24m1-23v22m1-23v21m1-21v21m1-20v20m1-20v20m1-21v22m1-21v21m1-21v20m1-25v24m1-23v27m1-25v25m1-24v21m1-20v20m1-20v20m1-20v23m1-23v22m1-22v20m1-20v21m1-21v21m1-21v19m1-19v20m1-20v20m1-20v20m1-20v20m1-21v22m1-21v22m1-27v26m1-21v21m1-22v22m1-22v20m1-21v21m1-23v24m1-21v21m1-22v23m1-24v24m1-23v27m1-25v23m1-25v24m1-23v21m1-21v22m1-21v20m1-20v21m1-21v22m1-26v24m1-24v26m1-25v23m1-29v30m1-25v27m1-25v24m1-24v22m1-22v22m1-21v24m1-26v23m1-22v28m1-27v21m1-25v28m1-23v21m1-23v23m1-23v22m1-20v20m1-22v22m1-22v24m1-21v19m1-20v20m1-20v20m1-20v19m1-21v30m1-29v21m1-23v24m1-23v24m1-21v21m1-22v20m1-22v22m1-25v25m1-21v29m1-29v22m1-22v21m1-22v22m1-19v21m1-22v21m1-21v20m1-21v22m1-21v21m1-22v21m1-23v23m1-21v21m1-21v26m1-25v24m1-24v20m1-20v20m1-20v20m1-22v23m1-25v24m1-25v24m1-22v26m1-25v24m1-23v23m1-22v20m1-20v20m1-20v22m1-22v20m1-23v23m1-23v23m1-22v23m1-20v20m1-21v20m1-20v19m1-23v24m1-21v23m1-26v24m1-20v19m1-19v20m1-20v22m1-22v20m1-21v20m1-21v23m1-21v23m1-23v22m1-25v25m1-24v25m1-23v21m1-21v20m1-22v25m1-24v23m1-23v21m1-20v23m1-23v26m1-26v25m1-25v23m1-23v23m1-26v23m1-22v22m1-22v22m1-20v20m1-22v22m1-21v22m1-21v21m1-22v22m1-23v22m1-21v21m1-20v21m1-21v21m1-21v20m1-20v22m1-24v24m1-25v25m1-25v25m1-25v25m1-23v23m1-22v20m1-23v23m1-22v24m1-22v21m1-21v20m1-23v24m1-29v28m1-20v22m1-22v21m1-22v22m1-22v27m1-26v20m1-21v20m1-19v22m1-28v28m1-22v22m1-22v20m1-19v21m1-24v25m1-24v21m1-20v20m1-20v20m1-20v20m1-20v20m1-20v21m1-21v20m1-20v20m1-23v23m1-21v21m1-21v24m1-25v25m1-26v25m1-23v22m1-21v21m1-21v20m1-21v23m1-22v22m1-22v20m1-20v21m1-21v19m1-19v21m1-21v22m1-27v26m1-23v24m1-22v22m1-23v21m1-20v21m1-23v22m1-21v21m1-21v23m1-22v20m1-21v21m1-22v22m1-23v23m1-22v22m1-20v20m1-20v21m1-20v20m1-21v20m1-21v21m1-24v25m1-24v24m1-23v22m1-23v24m1-23v25m1-24v24m1-25v23m1-24v24m1-23v22m1-21v21m1-20v20m1-22v22m1-20v19m1-18v19m1-20v20m1-21v21m1-22v25m1-23v22m1-21v19m1-22v23m1-21v20m1-24v23m1-24v25m1-20v20m1-20v20m1-28v30m1-23v23m1-22v22m1-22v21m1-21v20m1-24v24m1-20v20m1-29v30m1-21v21m1-23v22m1-24v24m1-24v26m1-25v25m1-24v25m1-23v23m1-22v20m1-23v22m1-21v21m1-20v22m1-26v26m1-26v26m1-24v23m1-20v21m1-22v21m1-21v20m1-20v20m1-20v22m1-24v24m1-23v21m1-20v20m1-22v22m1-21v23m1-25v23m1-19v21m1-22v22m1-23v21m1-20v20m1-22v25m1-27v26m1-26v26m1-22v21m1-25v25m1-24v24m1-22v23m1-24v22m1-24v24m1-23v24m1-21v19m1-19v22m1-25v24m1-23v25m1-24v23m1-23v21m1-20v20m1-21v23m1-28v30m1-29v27m1-21v22m1-25v22m1-21v21m1-20v20m1-20v20m1-20v20m1-20v20m1-21v22m1-21v20m1-20v20m1-20v20m1-20v20m1-21v23m1-24v23m1-21v20m1-19v21m1-24v25m1-25v22m1-23v23m1-23v23m1-27v27m1-20v22m1-22v22m1-22v20m1-21v21m1-20v22m1-23v23m1-24v22m1-21v21m1-26v28m1-27v26m1-21v20m1-20v21m1-25v26m1-25v26m1-26v28m1-25v24m1-24v21m1-21v21m1-22v25m1-27v24m1-23v23m1-21v20m1-23v23m1-23v23m1-23v23m1-20v20m1-22v22m1-22v24m1-24v22m1-20v21m1-21v22m1-22v22m1-23v23m1-26v26m1-22v20m1-20v19m1-19v20m1-20v21m1-25v26m1-24v23m1-23v24m1-23v25m1-24v20m1-21v21m1-21v22m1-23v29m1-28v21m1-24v24m1-20v22m1-21v21m1-22v21m1-21v20m1-20v20m1-20v22m1-22v21m1-23v22m1-22v22m1-20v20m1-19v19m1-21v21m1-24v24m1-23v23m1-20v20m1-21v21m1-20v23m1-23v22m1-24v22m1-21v23m1-23v24m1-25v24m1-24v22m1-21v21m1-21v22m1-22v21m1-20v20m1-20v23m1-24v21m1-21v21m1-20v20m1-20v20m1-20v20m1-19v19m1-22v22m1-20v20m1-20v20m1-23v23m1-22v22m1-22v24m1-24v22m1-20v20m1-22v23m1-23v23m1-23v22m1-22v21m1-20v25m1-29v28m1-27v25m1-22v21m1-22v22m1-22v24m1-22v21m1-21v24m1-26v26m1-24v23m1-23v23m1-24v22m1-27v28m1-22v22m1-23v22m1-21v20m1-21v21m1-22v22m1-21v24m1-23v26m1-26v25m1-26v29m1-28v22m1-23v23m1-22v21m1-24v24m1-23v22m1-22v22m1-20v22m1-27v27m1-26v24m1-20v20m1-20v19m1-20v21m1-22v22m1-20v21m1-20v21m1-23v22m1-21v20m1-23v24m1-23v22m1-19v26m1-27v21m1-21v22m1-22v22m1-22v20m1-20v22m1-22v20m1-20v20m1-22v22m1-21v23m1-24v24m1-22v21m1-25v25m1-24v24m1-21v20m1-20v20m1-23v23m1-19v19m1-20v20m1-20v20m1-20v23m1-27v25m1-26v26m1-24v24m1-21v21m1-21v21m1-21v20m1-20v20m1-20v20m1-28v28m1-20v24m1-24v25m1-26v21m1-22v24m1-25v24m1-21v21m1-22v20m1-20v20m1-23v24m1-20v21m1-22v22m1-23v23m1-22v21m1-21v22m1-21v20m1-20v20m1-20v20m1-23v27m1-24v21m1-21v24m1-25v21m1-20v20m1-20v22m1-22v22m1-22v20m1-23v23m1-20v20m1-20v20m1-21v22m1-21v20m1-21v21m1-22v25m1-23v20m1-20v21m1-21v21m1-21v20m1-20v20m1-19v19m1-21v21m1-19v21"/>
<path transform="translate(230.40 552.50) scale(1 0.25)" stroke="#000000" d="M0 -12v22m1-21v22m1-21v20m1-21v21m1-22v22m1-20v21m1-23v22m1-22v22m1-20v20m1-20v22m1-24v22m1-22v22m1-20v20m1-20v23m1-23v22m1-22v20m1-22v22m1-20v20m1-20v19m1-20v24m1-24v30m1-30v21m1-23v23m1-21v24m1-23v23m1-27v24m1-23v23m1-20v22m1-21v21m1-21v19m1-22v22m1-20v20m1-22v22m1-22v23m1-23v25m1-23v21m1-23v22m1-22v22m1-20v20m1-20v24m1-26v22m1-22v22m1-20v20m1-21v21m1-22v22m1-21v21m1-21v21m1-22v22m1-21v21m1-24v24m1-22v24m1-22v20m1-20v20m1-23v30m1-30v24m1-21v20m1-20v19m1-19v20m1-20v20m1-20v20m1-20v24m1-24v23m1-23v20m1-24v24m1-23v23m1-22v25m1-23v23m1-25v22m1-23v23m1-22v22m1-21v21m1-23v23m1-22v22m1-21v21m1-20v21m1-22v22m1-22v22m1-22v23m1-24v24m1-25v24m1-21v22m1-22v20m1-20v20m1-21v21m1-20v20m1-26v28m1-22v22m1-23v21m1-20v20m1-25v25m1-26v26m1-24v24m1-20v20m1-19v19m1-20v25m1-27v26m1-26v23m1-21v20m1-20v20m1-20v20m1-20v22m1-22v21m1-21v20m1-20v20m1-20v21m1-21v22m1-25v23m1-22v23m1-22v22m1-23v24m1-22v26m1-26v22m1-22v22m1-23v22m1-21v27m1-34v29m1-22v22m1-23v21m1-21v21m1-20v20m1-20v24m1-24v23m1-23v20m1-24v24m1-20v20m1-21v21m1-21v23m1-23v23m1-23v23m1-22v21m1-21v22m1-23v23m1-23v21m1-21v22m1-27v29m1-23v20m1-20v20m1-20v20m1-20v23m1-25v22m1-22v24m1-24v23m1-22v21m1-23v23m1-22v23m1-21v20m1-20v20m1-22v22m1-20v20m1-24v24m1-24v23m1-19v20m1-19v22m1-23v20m1-20v20m1-20v20m1-20v20m1-20v20m1-20v20m1-20v20m1-20v20m1-21v23m1-22v20m1-20v20m1-20v21m1-26v25m1-24v30m1-28v26m1-25v21m1-22v24m1-24v23m1-23v23m1-21v20m1-21v23m1-23v21m1-20v20m1-20v20m1-20v20m1-20v20m1-21v21m1-20v20m1-20v22m1-23v22m1-21v21m1-22v22m1-22v22m1-23v22m1-20v20m1-21v23m1-25v25m1-25v23m1-21v21m1-19v19m1-20v20m1-22v28m1-26v20m1-20v20m1-22v22m1-22v22m1-22v23m1-22v24m1-22v20m1-21v23m1-23v22m1-22v22m1-23v24m1-23v23m1-23v20m1-22v22m1-22v22m1-19v19m1-20v22m1-22v20m1-20v20m1-20v28m1-28v20m1-20v22m1-28v27m1-26v24m1-20v28m1-28v21m1-21v21m1-20v22m1-22v25m1-25v20m1-20v21m1-20v21m1-22v20m1-20v21m1-20v21m1-23v21m1-21v21m1-22v22m1-22v22m1-22v23m1-21v22m1-25v25m1-22v21m1-24v23m1-23v26m1-24v22m1-20v21m1-22v19m1-19v20m1-19v20m1-20v21m1-25v25m1-22v22m1-22v21m1-27v26m1-28v28m1-20v20m1-25v27m1-25v27m1-24v22m1-22v21m1-21v21m1-21v22m1-22v21m1-22v20m1-22v24m1-21v20m1-20v20m1-20v21m1-21v21m1-20v21m1-24v23m1-23v22m1-23v23m1-22v22m1-21v21m1-20v20m1-20v20m1-24v23m1-23v26m1-25v23m1-22v24m1-22v21m1-24v26m1-22v21m1-22v21m1-23v22m1-20v20m1-20v23m1-24v23m1-23v22m1-21v20m1-21v21m1-22v24m1-25v25m1-27v26m1-21v21m1-24v24m1-24v25m1-24v24m1-23v22m1-21v20m1-21v21m1-22v24m1-22v22m1-23v22m1-23v26m1-26v24m1-22v20m1-20v20m1-22v24m1-23v24m1-23v20m1-20v20m1-20v19m1-18v21m1-22v22m1-26v23m1-23v24m1-21v21m1-20v20m1-21v21m1-20v20m1-25v26m1-24v25m1-23v21m1-22v23m1-23v23m1-23v25m1-24v23m1-23v21m1-22v24m1-22v20m1-20v20m1-20v22m1-22v21m1-21v20m1-20v23m1-23v23m1-23v29m1-32v23m1-23v26m1-23v22m1-22v20m1-20v23m1-23v20m1-24v24m1-19v25m1-29v23m1-23v23m1-22v24m1-23v21m1-20v22m1-22v27m1-27v20m1-22v22m1-21v22m1-23v23m1-21v23m1-23v22m1-22v21m1-21v21m1-21v20m1-23v23m1-22v24m1-22v21m1-23v22m1-22v22m1-21v21m1-22v22m1-22v24m1-24v23m1-21v20m1-20v20m1-20v20m1-20v20m1-22v22m1-22v27m1-25v22m1-22v21m1-20v18m1-19v22m1-24v25m1-24v23m1-22v23m1-26v25m1-23v22m1-21v20m1-20v28m1-31v23m1-22v22m1-22v22m1-21v27m1-27v25m1-26v22m1-21v22m1-21v23m1-23v23m1-23v20m1-20v22m1-22v22m1-22v23m1-24v23m1-29v27m1-19v20m1-21v21m1-21v25m1-25v23m1-25v21m1-21v22m1-21v23m1-23v20m1-19v20m1-20v23m1-25v24m1-23v23m1-22v21m1-23v24m1-22v21m1-22v21m1-21v20m1-19v20m1-22v23m1-21v23m1-23v22m1-22v20m1-21v21m1-22v25m1-25v24m1-23v21m1-20v20m1-20v20m1-20v19m1-19v22m1-22v22m1-22v20m1-21v21m1-20v22m1-22v21m1-21v19m1-21v23m1-21v21m1-22v22m1-21v21m1-21v20m1-20v21m1-20v19m1-23v22m1-21v21m1-21v22m1-20v20m1-23v23m1-20v22m1-22v22m1-21v19m1-20v19m1-19v20m1-22v22m1-22v22m1-23v23m1-21v21m1-22v22m1-21v21m1-22v22m1-22v22m1-21v21m1-22v24m1-24v23m1-21v20m1-20v20m1-22v25m1-25v22m1-21v27m1-28v23m1-22v23m1-22v21m1-25v32m1-32v23m1-19v21m1-21v21m1-22v21m1-24v24m1-20v23m1-24v24m1-23v19m1-21v22m1-20v24m1-25v24m1-23v24m1-24v23m1-23v22m1-22v21m1-22v22m1-21v22m1-22v20m1-22v22m1-22v24m1-22v23m1-24v21m1-20v22m1-23v27m1-25v19m1-20v20m1-23v23m1-22v22m1-20v20m1-20v24m1-23v23m1-24v21m1-21v20m1-20v20m1-20v20m1-19v19m1-20v24m1-24v24m1-25v21m1-21v23m1-22v21m1-21v26m1-27v26m1-26v23m1-29v27m1-20v24m1-27v25m1-22v24m1-24v20m1-22v22m1-24v24m1-20v23m1-23v23m1-23v21m1-21v21m1-21v20m1-20v20m1-21v24m1-25v22m1-25v27m1-27v24m1-19v22m1-22v22m1-23v22m1-21v23m1-27v27m1-27v24m1-21v21m1-22v22m1-21v20m1-18v19m1-21v21m1-20v21m1-20v19m1-21v21m1-21v21m1-20v20m1-20v22m1-22v21m1-21v20m1-20v20m1-20v20m1-22v29m1-28v23m1-22v21m1-21v20m1-20v20m1-20v21m1-20v19m1-20v20m1-21v21m1-20v21m1-21v20m1-19v19m1-20v20m1-20v20m1-20v20m1-19v19m1-20v20m1-20v23m1-25v25m1-25v24m1-24v24m1-22v20m1-20v20m1-20v20m1-21v23m1-22v20m1-20v20m1-23v23m1-23v23m1-20v23m1-24v20m1-21v22m1-19v19m1-21v23m1-23v21m1-20v20m1-20v20m1-20v21m1-21v20m1-22v22m1-21v21m1-20v21m1-21v22m1-22v22m1-22v20m1-20v21m1-21v20m1-20v20m1-28v28m1-20v21m1-20v21m1-22v21m1-21v21m1-21v21m1-21v20m1-19v19m1-19v23m1-24v20m1-20v20m1-20v22m1-22v23m1-22v26m1-27v20m1-20v20m1-20v22m1-22v20m1-20v20m1-22v24m1-23v20m1-19v22m1-21v21m1-22v21m1-21v20m1-20v20m1-20v19m1-19v20m1-22v22m1-20v20m1-22v26m1-26v23m1-21v22m1-22v22m1-22v27m1-27v22m1-24v22m1-20v20m1-20v20m1-22v24m1-24v22m1-20v23m1-23v22m1-22v21m1-21v22m1-22v20m1-20v22m1-22v21m1-20v19m1-22v22m1-21v21m1-20v21m1-22v21m1-20v21m1-22v23m1-22v20m1-21v23m1-26v26m1-27v27m1-26v24m1-20v20m1-20v25m1-25v26m1-26v20m1-20v20m1-20v22m1-25v25m1-24v22m1-22v22m1-20v22m1-22v21m1-24v24m1-24v23m1-20v20m1-21v23m1-26v26m1-25v23m1-21v23m1-23v22m1-20v19m1-20v23m1-25v21m1-19v20m1-20v20m1-20v21m1-21v22m1-22v23m1-23v23m1-23v20m1-21v21m1-21v21m1-21v23m1-22v25m1-25v25m1-25v22m1-22v21m1-24v30m1-29v22m1-20v19m1-19v21m1-21v21m1-21v21m1-21v22m1-23v23m1-25v23m1-23v26m1-23v22m1-22v21m1-21v20m1-19v21m1-22v20m1-20v20m1-20v21m1-21v21m1-27v26m1-24v24m1-22v22m1-22v29m1-28v21m1-20v21m1-22v20m1-23v24m1-23v23m1-20v20m1-21v22m1-22v22m1-20v22m1-23v21m1-21v20m1-20v22m1-22v19m1-19v20m1-19v18m1-19v20m1-21v21m1-29v29m1-22v22m1-20v20m1-20v20m1-20v20m1-25v25m1-24v24m1-21v21m1-21v21m1-20v20m1-19v21m1-22v23m1-26v24m1-25v27m1-23v20m1-20v20m1-20v20m1-22v23m1-23v23m1-23v23m1-22v22m1-28v27m1-28v28m1-20v20m1-20v23m1-22v22m1-26v23m1-23v27m1-24v20m1-19v19m1-20v20m1-20v21m1-21v21m1-22v21m1-22v24m1-22v20m1-20v23m1-22v21m1-22v20m1-20v20m1-25v24m1-19v20m1-23v23m1-22v22m1-27v28m1-21v20m1-20v22m1-23v21m1-27v28m1-20v19m1-21v23m1-23v23m1-22v20m1-20v20m1-20v23m1-23v23m1-23v26m1-26v23m1-23v23m1-23v20m1-20v21m1-21v21m1-23v23m1-22v22m1-21v21m1-21v22m1-22v19m1-20v21m1-21v21m1-22v22m1-21v22m1-23v24m1-28v28m1-23v21m1-22v24m1-24v23m1-20v20m1-21v21m1-22v23m1-23v21m1-21v22m1-22v22m1-21v20m1-21v21m1-21v21m1-21v20m1-19v20m1-20v20m1-20v20m1-22v22m1-21v21m1-20v20m1-26v26m1-26v27m1-20v20m1-21v21m1-21v21m1-21v20m1-28v28m1-20v19m1-20v21m1-20v20m1-19v20m1-21v20m1-23v24m1-23v27m1-25v19m1-19v21m1-21v20m1-19v23m1-24v22m1-22v20m1-23v27m1-26v26m1-24v20m1-24v25m1-20v19m1-26v26m1-20v20m1-20v21m1-22v22m1-22v24m1-25v23m1-23v22m1-20v19m1-19v19m1-19v20m1-20v21m1-22v22m1-21v20m1-23v23m1-22v22m1-20v23m1-23v24m1-26v23m1-24v23m1-20v20m1-20v23m1-24v23m1-23v23m1-22v20m1-22v23m1-22v21m1-20v20m1-21v22m1-22v22m1-24v23m1-23v23m1-20v20m1-20v21m1-21v20m1-21v23m1-24v24m1-24v22m1-23v23m1-23v28m1-26v21m1-20v21m1-22v22m1-21v20m1-21v21m1-21v21m1-22v25m1-23v20m1-20v20m1-27v27m1-20v19m1-19v20m1-23v23m1-22v22m1-20v22m1-22v22m1-22v22m1-24v23m1-23v23m1-21v20m1-20v22m1-22v22m1-22v23m1-23v20m1-21v23m1-22v20m1-21v22m1-22v23m1-22v22m1-21v19m1-20v20m1-19v21m1-22v20m1-20v20m1-20v20m1-21v23m1-27v28m1-23v20m1-20v20m1-20v20m1-21v21m1-20v20m1-20v20m1-20v20m1-22v23m1-23v24m1-22v19m1-19v20m1-25v25m1-20v20m1-22v22m1-22v22m1-20v20m1-20v22m1-22v21m1-21v20m1-20v20m1-19v19m1-21v22m1-21v20m1-22v22m1-22v24m1-23v20m1-19v23m1-26v25m1-24v21m1-22v25m1-25v23m1-20v24m1-24v20m1-21v21m1-24v27m1-26v25m1-23v21m1-20v20m1-22v22m1-22v22m1-22v22m1-22v22m1-22v22m1-20v20m1-23v24m1-23v22m1-21v21m1-23v31m1-30v24m1-23v21m1-22v22m1-22v22m1-25v27m1-27v26m1-22v23m1-21v21m1-24v22m1-22v22m1-20v22m1-24v23m1-21v20m1-20v20m1-19v19m1-20v26m1-25v19m1-20v20m1-20v19m1-19v20m1-20v20m1-19v18m1-20v21m1-20v20m1-21v21m1-21v21m1-21v21m1-23v23m1-20v21m1-21v20m1-21v22m1-22v22m1-22v22m1-22v23m1-22v20m1-20v20m1-21v21m1-20v21m1-21v20m1-19v19m1-20v22m1-22v22m1-25v26m1-24v24m1-23v22m1-22v20m1-20v20m1-24v24m1-20v20m1-20v23m1-23v20m1-20v20m1-21v24m1-24v21m1-20v22m1-22v21m1-21v21m1-21v21m1-22v22m1-22v24m1-22v18m1-22v23m1-20v22m1-22v22m1-22v21m1-20v19m1-28v28m1-20v21m1-23v22m1-21v21m1-23v23m1-23v23m1-20v21m1-23v22m1-22v22m1-20v20m1-21v21m1-20v23m1-23v23m1-23v20m1-21v21m1-21v21m1-20v21m1-22v24m1-23v19m1-22v23m1-20v20m1-20v20m1-20v22m1-22v20m1-22v22m1-20v20m1-20v20m1-20v19m1-19v22m1-25v24m1-23v24m1-22v22m1-22v20m1-20v20m1-23v23m1-21v21m1-22v22m1-20v20m1-25v25m1-24v23m1-22v24m1-22v24m1-24v23m1-24v24m1-24v21m1-19v20m1-20v22m1-24v23m1-23v22m1-20v20m1-21v23m1-23v29m1-28v20m1-20v19m1-18v19m1-21v22m1-21v21m1-21v20m1-20v20m1-21v25m1-25v22m1-23v22m1-19v21m1-22v21m1-21v21m1-21v20m1-20v20m1-21v22m1-27v26m1-24v25m1-21v21m1-21v20m1-20v20m1-20v19m1-19v19m1-19v19m1-22v23m1-23v24m1-21v20m1-20v20m1-20v20m1-20v20m1-20v22m1-25v24m1-24v23m1-20v20m1-22v22m1-21v24m1-22v22m1-24v21m1-29v29m1-20v28m1-30v24m1-23v23m1-25v22m1-21v22m1-22v23m1-21v24m1-25v21m1-22v23m1-23v24m1-25v25m1-24v22m1-21v21m1-22v21m1-19v22m1-22v20m1-25v27m1-28v28m1-23v24m1-24v24m1-23v20m1-20v20m1-21v21m1-21v22m1-25v26m1-22v22m1-22v20m1-21v21m1-24v24m1-24v25m1-21v21m1-20v19m1-21v21m1-20v23m1-23v21m1-23v28m1-26v19m1-20v21m1-21v21m1-21v23m1-22v21m1-21v22m1-22v20m1-20v20m1-20v22m1-22v21m1-21v20m1-19v18m1-19v20m1-20v20m1-21v21m1-20v20m1-20v20m1-25v25m1-20v20m1-21v23m1-22v22m1-23v21m1-20v19m1-19v21m1-22v21m1-21v23m1-23v24m1-23v23m1-25v25m1-23v20m1-20v22m1-25v24m1-21v20m1-20v20m1-20v20m1-20v20m1-20v21m1-23v22m1-20v20m1-24v24m1-23v23m1-21v21m1-20v24m1-29v28m1-27v26m1-23v23m1-21v20m1-20v19m1-21v22m1-21v28m1-28v20m1-21v23m1-23v26m1-26v25m1-24v23m1-23v20m1-19v19m1-23v23m1-20v20m1-20v20m1-21v21m1-20v21m1-21v20m1-22v23m1-22v21m1-19v19m1-21v23m1-22v20m1-19v20m1-22v22m1-21v20m1-23v25m1-25v23m1-23v23m1-23v25m1-25v23m1-20v20m1-24v30m1-26v24m1-24v22m1-24v23m1-22v26m1-26v24m1-23v22m1-22v19m1-19v23m1-23v22m1-22v23m1-23v22m1-22v22m1-28v28m1-27v25m1-20v20m1-24v24m1-22v22m1-21v21m1-21v23m1-21v21m1-26v25m1-25v24m1-20v21m1-21v21m1-21v20m1-26v27m1-25v25m1-21v22m1-22v21m1-20v19m1-23v25m1-25v24m1-21v20m1-20v20m1-20v28m1-28v20m1-20v20m1-20v23m1-22v21m1-23v22m1-21v20m1-21v21m1-20v20m1-26v27m1-25v24m1-20v22m1-22v22m1-23v21m1-29v29m1-20v20m1-20v21m1-21v21m1-21v20m1-20v19m1-20v20m1-19v20m1-22v29m1-28v21m1-20v22m1-24v28m1-26v19m1-20v22m1-23v25m1-23v20m1-21v21m1-24v24m1-20v22m1-22v21m1-20v21m1-27v27m1-22v22m1-26v26m1-25v23m1-20v20m1-20v20m1-20v23m1-23v20m1-21v24m1-23v20m1-20v21m1-21v24m1-25v24m1-23v20m1-20v20m1-21v22m1-25v29m1-28v30m1-27v22m1-28v26m1-24v25m1-22v21m1-22v22m1-21v23m1-22v20m1-20v20m1-20v21m1-21v22m1-23v23m1-22v21m1-21v21m1-23v23m1-23v22m1-22v22m1-20v20m1-20v20m1-20v22m1-22v25m1-25v24m1-24v21m1-21v20m1-20v20m1-20v22m1-24v21m1-20v23m1-22v21m1-24v23m1-22v24m1-22v21m1-21v22m1-23v22m1-22v23m1-22v19m1-24v27m1-22v21m1-21v19m1-19v21m1-24v25m1-23v23m1-24v25m1-25v23m1-23v28m1-26v22m1-24v24m1-24v23m1-21v21m1-21v22m1-22v22m1-22v20m1-24v26m1-24v23m1-21v23m1-23v20m1-19v18m1-19v20m1-26v26m1-24v24m1-20v21m1-27v27m1-23v24m1-24v24m1-23v25m1-24v22m1-22v21m1-21v20m1-19v21m1-25v23m1-20v20m1-20v20m1-20v20m1-20v20m1-20v22m1-25v23m1-23v24m1-26v26m1-24v25m1-22v21m1-21v22m1-24v24m1-22v22m1-24v22m1-21v22m1-21v22m1-22v22m1-22v20m1-20v20m1-20v20m1-21v21m1-21v22m1-22v25m1-26v25m1-24v23m1-22v25m1-25v23m1-23v20m1-24v27m1-26v23m1-20v20m1-21v23m1-23v22m1-21v21m1-22v21m1-21v24m1-25v24m1-22v20m1-21v22m1-22v21m1-21v21m1-20v20m1-22v22m1-20v20m1-19v19m1-25v27m1-26v24m1-22v22m1-20v20m1-19v23m1-24v20m1-19v19m1-20v20m1-25v25m1-23v24"/>
<path transform="translate(230.40 590.80) scale(1 0.25)" stroke="#ff0000" d="M0 -10v21m1-23v25m1-26v24m1-23v22m1-20v20m1-20v21m1-21v20m1-23v23m1-22v22m1-23v25m1-24v24m1-23v22m1-21v22m1-27v31m1-29v23m1-20v21m1-21v20m1-22v23m1-22v22m1-22v25m1-26v22m1-21v23m1-21v21m1-23v21m1-21v21m1-22v22m1-22v23m1-21v23m1-23v22m1-27v26m1-22v26m1-25v20m1-20v20m1-20v22m1-22v20m1-25v27m1-25v24m1-21v20m1-20v24m1-26v22m1-20v23m1-23v22m1-28v27m1-25v26m1-26v29m1-28v27m1-27v24m1-24v23m1-21v23m1-22v20m1-20v20m1-21v21m1-20v20m1-20v20m1-24v25m1-23v21m1-20v21m1-22v22m1-20v19m1-19v20m1-20v21m1-21v19m1-19v20m1-20v20m1-20v21m1-21v20m1-23v22m1-22v23m1-20v23m1-23v22m1-22v20m1-21v23m1-29v29m1-22v20m1-22v22m1-22v21m1-19v20m1-22v22m1-24v23m1-19v22m1-22v21m1-21v26m1-26v20m1-20v20m1-22v23m1-22v21m1-21v21m1-21v22m1-27v27m1-20v20m1-21v23m1-23v21m1-21v21m1-24v23m1-22v22m1-20v20m1-20v20m1-20v23m1-24v24m1-23v21m1-25v24m1-22v22m1-19v21m1-22v20m1-22v25m1-25v24m1-22v20m1-20v22m1-22v24m1-24v20m1-20v21m1-29v29m1-22v23m1-23v21m1-20v20m1-23v25m1-25v25m1-23v21m1-21v21m1-21v21m1-20v22m1-22v21m1-21v20m1-21v21m1-22v28m1-27v24m1-23v20m1-22v22m1-22v23m1-22v23m1-25v25m1-22v23m1-24v23m1-22v20m1-20v20m1-20v20m1-21v21m1-20v20m1-20v19m1-23v25m1-22v23m1-23v23m1-23v22m1-21v20m1-19v19m1-19v19m1-20v22m1-22v20m1-20v22m1-22v20m1-19v19m1-20v22m1-22v21m1-22v22m1-23v22m1-22v22m1-22v23m1-22v21m1-20v23m1-23v20m1-22v23m1-23v22m1-23v23m1-22v23m1-20v20m1-20v19m1-20v22m1-28v27m1-21v19m1-20v21m1-20v20m1-20v20m1-22v22m1-21v21m1-20v21m1-21v21m1-23v22m1-22v23m1-21v20m1-20v22m1-28v29m1-25v24m1-24v23m1-22v24m1-23v22m1-22v20m1-20v23m1-25v21m1-19v22m1-29v28m1-23v22m1-20v20m1-20v20m1-20v20m1-20v25m1-27v23m1-22v21m1-21v21m1-20v22m1-24v22m1-22v21m1-20v23m1-25v23m1-22v21m1-19v20m1-20v20m1-20v20m1-19v20m1-21v20m1-20v20m1-21v21m1-21v22m1-22v24m1-28v26m1-26v25m1-22v23m1-23v23m1-21v20m1-22v22m1-20v20m1-20v20m1-22v22m1-22v22m1-21v22m1-21v21m1-21v22m1-21v19m1-20v21m1-25v24m1-26v26m1-20v20m1-21v21m1-22v22m1-20v20m1-21v23m1-24v23m1-22v21m1-21v21m1-21v21m1-23v25m1-22v22m1-22v19m1-25v30m1-23v22m1-32v30m1-20v20m1-21v20m1-22v22m1-21v21m1-20v20m1-21v21m1-20v21m1-24v23m1-20v19m1-20v21m1-21v21m1-20v20m1-23v23m1-22v22m1-20v22m1-24v24m1-22v21m1-21v23m1-23v20m1-21v21m1-21v21m1-20v20m1-19v19m1-23v23m1-23v23m1-24v24m1-24v27m1-23v20m1-22v22m1-20v20m1-20v20m1-19v20m1-21v21m1-24v22m1-19v20m1-19v25m1-26v20m1-20v19m1-19v20m1-23v23m1-20v23m1-24v25m1-26v22m1-22v24m1-22v22m1-22v20m1-20v22m1-24v24m1-24v22m1-21v21m1-21v21m1-20v20m1-20v22m1-25v24m1-23v23m1-22v21m1-23v27m1-26v25m1-23v23m1-22v20m1-26v25m1-22v22m1-22v23m1-22v24m1-25v25m1-24v22m1-24v23m1-23v25m1-22v22m1-21v21m1-25v23m1-20v20m1-23v23m1-23v23m1-22v23m1-23v23m1-24v23m1-23v23m1-21v20m1-19v21m1-21v21m1-21v21m1-22v22m1-22v23m1-23v21m1-21v21m1-21v21m1-21v20m1-20v21m1-26v26m1-25v25m1-23v24m1-21v20m1-22v25m1-24v23m1-22v28m1-28v23m1-23v20m1-20v21m1-21v20m1-24v28m1-25v24m1-23v19m1-19v22m1-22v22m1-23v21m1-21v21m1-20v20m1-19v22m1-23v23m1-23v20m1-22v24m1-23v22m1-22v21m1-21v21m1-21v21m1-21v21m1-20v21m1-21v22m1-22v22m1-24v22m1-26v26m1-24v24m1-20v26m1-26v22m1-24v24m1-25v24m1-21v20m1-23v25m1-25v24m1-21v20m1-22v23m1-24v24m1-21v20m1-20v22m1-22v20m1-20v22m1-22v22m1-23v23m1-22v20m1-20v23m1-23v23m1-25v24m1-23v21m1-23v23m1-23v23m1-20v22m1-22v22m1-22v20m1-20v24m1-26v24m1-22v20m1-21v21m1-21v21m1-20v20m1-20v20m1-21v21m1-20v21m1-21v23m1-23v21m1-21v22m1-21v21m1-23v21m1-20v20m1-21v23m1-22v23m1-23v22m1-24v24m1-22v20m1-19v19m1-20v20m1-22v22m1-22v22m1-22v24m1-22v21m1-21v20m1-20v22m1-22v20m1-20v22m1-22v21m1-21v21m1-21v19m1-19v21m1-21v25m1-25v24m1-24v24m1-28v24m1-20v20m1-21v20m1-18v18m1-21v24m1-24v24m1-22v20m1-20v20m1-20v20m1-20v20m1-22v22m1-21v21m1-21v21m1-21v24m1-29v34m1-32v24m1-19v19m1-20v25m1-25v23m1-24v24m1-25v22m1-22v22m1-20v20m1-22v23m1-23v22m1-22v22m1-22v22m1-22v23m1-21v20m1-20v23m1-23v22m1-23v22m1-23v23m1-21v20m1-20v20m1-23v23m1-22v22m1-22v23m1-22v25m1-24v23m1-23v22m1-23v22m1-22v21m1-20v20m1-21v21m1-20v20m1-20v22m1-22v22m1-22v20m1-20v21m1-22v21m1-22v24m1-28v28m1-22v20m1-22v23m1-22v22m1-21v24m1-23v21m1-21v21m1-22v21m1-24v23m1-21v22m1-21v22m1-22v26m1-26v24m1-24v20m1-21v22m1-22v25m1-24v23m1-23v22m1-22v23m1-23v22m1-22v22m1-22v20m1-20v19m1-20v21m1-21v23m1-22v20m1-20v20m1-20v20m1-20v23m1-23v23m1-23v20m1-20v20m1-20v20m1-21v24m1-24v22m1-22v23m1-22v29m1-29v21m1-21v21m1-21v22m1-22v19m1-21v24m1-22v21m1-21v19m1-23v24m1-23v26m1-25v25m1-25v24m1-23v22m1-21v20m1-20v20m1-20v19m1-19v20m1-21v21m1-20v21m1-21v21m1-21v20m1-21v21m1-20v22m1-31v32m1-23v22m1-22v21m1-21v21m1-21v25m1-27v25m1-23v20m1-20v21m1-21v20m1-21v20m1-22v23m1-22v23m1-23v23m1-22v24m1-23v21m1-21v20m1-20v22m1-22v22m1-22v21m1-22v22m1-22v20m1-19v22m1-22v22m1-22v20m1-20v20m1-22v22m1-20v20m1-21v20m1-21v22m1-20v20m1-20v20m1-20v26m1-28v27m1-26v20m1-20v22m1-22v26m1-24v23m1-24v20m1-23v23m1-20v19m1-19v20m1-21v20m1-22v23m1-20v21m1-21v21m1-21v26m1-26v20m1-19v19m1-21v24m1-23v21m1-29v28m1-21v21m1-23v24m1-21v20m1-21v24m1-26v25m1-24v23m1-21v20m1-21v23m1-21v21m1-22v20m1-20v20m1-21v24m1-24v21m1-19v20m1-20v20m1-21v20m1-23v23m1-22v24m1-22v22m1-25v24m1-24v23m1-22v22m1-22v22m1-21v21m1-20v21m1-21v21m1-21v20m1-20v21m1-21v20m1-20v20m1-20v20m1-23v23m1-20v20m1-21v21m1-20v20m1-20v20m1-21v23m1-22v22m1-22v20m1-20v21m1-28v30m1-24v21m1-20v21m1-21v20m1-20v20m1-20v22m1-23v22m1-23v21m1-25v26m1-20v20m1-20v22m1-24v24m1-23v21m1-22v21m1-19v20m1-20v19m1-19v21m1-23v23m1-21v19m1-19v20m1-21v23m1-22v20m1-20v21m1-22v21m1-20v22m1-23v22m1-20v19m1-20v21m1-21v23m1-27v26m1-25v25m1-23v23m1-26v24m1-22v23m1-21v21m1-21v20m1-20v20m1-20v20m1-20v20m1-22v22m1-22v24m1-24v23m1-21v20m1-24v24m1-22v22m1-20v21m1-20v20m1-22v23m1-24v25m1-25v22m1-20v20m1-20v20m1-20v22m1-22v20m1-22v22m1-20v20m1-20v21m1-21v20m1-20v22m1-22v22m1-22v20m1-20v20m1-20v20m1-23v23m1-20v20m1-20v20m1-23v27m1-27v27m1-28v26m1-26v24m1-23v25m1-22v20m1-25v25m1-27v30m1-23v23m1-23v21m1-21v20m1-20v20m1-24v24m1-23v25m1-22v21m1-21v22m1-22v21m1-21v20m1-21v20m1-19v20m1-20v21m1-21v21m1-23v22m1-22v22m1-22v22m1-20v20m1-20v20m1-22v22m1-21v25m1-30v30m1-29v25m1-21v21m1-28v28m1-21v25m1-24v22m1-24v25m1-26v23m1-20v20m1-21v21m1-21v21m1-20v22m1-23v22m1-21v21m1-22v23m1-24v24m1-22v21m1-20v18m1-20v23m1-21v21m1-22v20m1-20v21m1-22v21m1-20v20m1-20v20m1-20v21m1-25v25m1-24v24m1-24v24m1-21v20m1-24v24m1-21v21m1-20v20m1-19v19m1-21v21m1-20v22m1-23v22m1-21v26m1-27v20m1-21v22m1-21v21m1-22v26m1-25v21m1-20v22m1-22v21m1-24v22m1-21v22m1-22v23m1-20v21m1-22v20m1-21v23m1-25v25m1-22v21m1-22v22m1-22v22m1-21v20m1-20v20m1-23v23m1-22v23m1-22v21m1-22v22m1-21v23m1-22v21m1-21v20m1-22v22m1-21v21m1-20v20m1-23v23m1-20v22m1-22v22m1-23v22m1-22v22m1-22v22m1-22v21m1-20v20m1-20v20m1-20v20m1-20v21m1-22v24m1-25v23m1-22v21m1-22v24m1-22v21m1-21v24m1-24v19m1-25v26m1-23v24m1-21v20m1-21v21m1-21v23m1-22v22m1-26v24m1-23v23m1-24v24m1-22v22m1-20v20m1-21v21m1-21v21m1-20v22m1-22v21m1-21v23m1-23v20m1-20v21m1-21v26m1-26v20m1-20v23m1-25v22m1-20v21m1-21v22m1-21v21m1-22v20m1-22v22m1-20v20m1-20v20m1-20v22m1-22v21m1-21v22m1-24v24m1-23v22m1-22v22m1-21v21m1-27v26m1-22v22m1-19v19m1-20v20m1-21v20m1-20v24m1-23v22m1-22v21m1-21v20m1-23v23m1-20v22m1-25v31m1-29v21m1-22v22m1-22v23m1-23v22m1-22v22m1-22v28m1-28v22m1-20v20m1-21v21m1-23v24m1-23v23m1-20v19m1-19v19m1-20v20m1-24v23m1-19v20m1-20v23m1-24v23m1-22v22m1-22v25m1-29v24m1-23v23m1-20v23m1-25v24m1-24v23m1-23v23m1-22v22m1-21v22m1-23v22m1-22v23m1-25v25m1-24v22m1-20v22m1-22v21m1-21v21m1-22v24m1-23v27m1-29v26m1-27v25m1-28v30m1-29v26m1-21v22m1-27v27m1-26v24m1-20v20m1-21v21m1-20v20m1-21v22m1-23v22m1-20v22m1-25v24m1-21v20m1-20v20m1-21v21m1-21v21m1-22v24m1-22v22m1-24v23m1-23v22m1-21v23m1-22v20m1-20v20m1-22v23m1-26v26m1-21v22m1-22v22m1-23v23m1-22v22m1-22v22m1-22v20m1-22v21m1-19v23m1-23v22m1-23v21m1-21v21m1-20v20m1-20v20m1-21v22m1-25v25m1-22v26m1-25v24m1-27v22m1-22v30m1-27v19m1-19v20m1-22v24m1-24v22m1-20v22m1-24v22m1-21v22m1-23v22m1-23v23m1-21v21m1-23v25m1-22v21m1-22v24m1-23v21m1-21v19m1-20v22m1-25v25m1-25v25m1-23v22m1-22v23m1-22v25m1-26v27m1-25v22m1-22v21m1-21v21m1-27v26m1-25v25m1-20v22m1-22v20m1-23v23m1-25v27m1-25v25m1-25v24m1-22v21m1-20v20m1-23v24m1-21v26m1-26v20m1-20v22m1-24v22m1-23v22m1-22v22m1-20v21m1-21v25m1-23v19m1-20v20m1-21v21m1-21v21m1-23v24m1-28v28m1-20v20m1-21v21m1-23v22m1-21v21m1-27v27m1-20v23m1-23v22m1-23v23m1-23v21m1-22v24m1-24v24m1-21v20m1-23v23m1-23v23m1-22v21m1-20v25m1-25v21m1-21v20m1-20v20m1-20v22m1-22v20m1-20v20m1-22v22m1-20v20m1-20v22m1-23v21m1-21v21m1-20v20m1-21v21m1-21v26m1-27v21m1-21v22m1-21v21m1-20v20m1-20v20m1-19v19m1-20v20m1-23v25m1-23v22m1-22v21m1-21v21m1-19v21m1-22v20m1-20v20m1-22v22m1-21v21m1-20v20m1-20v21m1-21v19m1-19v20m1-21v21m1-22v25m1-24v24m1-24v21m1-20v21m1-22v21m1-21v21m1-22v22m1-25v25m1-24v27m1-25v25m1-25v25m1-23v20m1-22v24m1-26v25m1-25v25m1-24v24m1-21v20m1-20v20m1-20v28m1-28v20m1-22v24m1-22v20m1-20v20m1-20v21m1-23v22m1-20v27m1-27v20m1-22v28m1-29v23m1-22v22m1-23v24m1-23v23m1-21v21m1-21v20m1-20v21m1-21v20m1-20v20m1-24v26m1-25v24m1-21v21m1-21v20m1-20v21m1-20v20m1-21v20m1-20v19m1-19v20m1-20v24m1-28v33m1-32v23m1-20v20m1-20v20m1-25v25m1-23v23m1-26v27m1-27v28m1-24v24m1-25v26m1-25v24m1-22v20m1-20v20m1-24v24m1-23v23m1-22v22m1-20v20m1-23v25m1-22v22m1-21v19m1-21v21m1-21v21m1-23v24m1-24v24m1-21v21m1-20v19m1-21v25m1-25v24m1-25v22m1-23v23m1-21v21m1-22v22m1-22v22m1-21v24m1-23v20m1-20v27m1-26v23m1-25v25m1-26v22m1-21v21m1-20v22m1-22v24m1-24v23m1-22v26m1-30v24m1-23v24m1-24v22m1-20v22m1-24v23m1-21v20m1-20v26m1-26v26m1-26v22m1-24v23m1-22v21m1-20v23m1-23v21m1-21v21m1-21v21m1-20v21m1-22v22m1-23v21m1-21v21m1-28v28m1-21v29m1-28v20m1-21v21m1-21v21m1-20v20m1-20v20m1-20v21m1-22v22m1-22v24m1-26v26m1-25v23m1-21v23m1-23v21m1-20v22m1-23v22m1-25v23m1-22v22m1-26v26m1-20v24m1-27v25m1-24v23m1-21v22m1-25v24m1-23v22m1-22v22m1-20v20m1-21v22m1-21v22m1-24v22m1-21v23m1-23v22m1-21v20m1-19v19m1-20v22m1-22v20m1-20v19m1-21v22m1-22v22m1-20v23m1-23v23m1-24v24m1-23v22m1-21v21m1-22v21m1-21v20m1-21v21m1-20v20m1-19v21m1-22v21m1-20v19m1-20v23m1-23v20m1-23v23m1-20v20m1-20v20m1-23v25m1-25v23m1-20v20m1-20v26m1-26v24m1-24v22m1-22v21m1-20v19m1-21v21m1-22v22m1-22v24m1-22v20m1-20v22m1-23v23m1-22v19m1-19v20m1-20v20m1-21v22m1-25v26m1-23v22m1-28v29m1-22v19m1-19v21m1-20v21m1-23v23m1-22v20m1-20v20m1-19v19m1-24v24m1-22v23m1-23v22m1-22v24m1-24v23m1-23v22m1-19v22m1-25v24m1-23v22m1-25v24m1-20v20m1-20v19m1-19v20m1-20v20m1-22v22m1-21v21m1-23v22m1-19v22m1-23v22m1-23v22m1-22v27m1-26v26m1-26v21m1-21v21m1-22v22m1-21v24m1-25v25m1-23v21m1-23v22m1-21v21m1-21v24m1-25v23m1-23v24m1-24v24m1-24v23m1-21v21m1-21v19m1-19v20m1-21v21m1-21v21m1-21v25m1-24v23m1-23v22m1-22v21m1-21v24m1-23v22m1-22v19m1-20v21m1-21v21m1-21v20m1-20v21m1-21v22m1-24v24m1-23v22m1-24v26m1-26v25m1-22v22m1-22v20m1-21v21m1-25v27m1-23v23m1-24v25m1-22v21m1-25v26m1-24v24m1-24v23m1-23v24m1-24v20m1-19v21m1-21v21m1-21v22m1-23v23m1-22v21m1-21v22m1-24v22m1-19v19m1-20v23m1-23v21m1-21v22m1-23v21m1-22v21m1-21v22m1-20v20m1-20v20m1-20v20m1-25v27m1-22v21m1-22v23m1-24v24m1-24v22m1-21v23m1-23v23m1-30v28m1-20v20m1-20v20m1-22v22m1-20v20m1-21v21m1-20v21m1-21v21m1-21v20m1-22v22m1-21v21m1-24v25m1-23v21m1-20v22m1-21v20m1-20v26m1-26v21m1-22v20m1-19v20m1-20v21m1-21v20m1-19v19m1-22v23m1-24v27m1-25v21m1-21v20m1-21v22m1-22v23m1-23v22m1-21v22m1-21v22m1-21v20m1-23v24m1-23v23m1-22v21m1-21v20m1-20v20m1-19v19m1-20v19m1-19v22m1-23v21m1-22v21m1-21v22m1-24v27m1-23v26m1-26v23m1-26v23m1-20v22m1-22v22m1-23v21m1-21v24m1-25v24m1-23v22m1-22v21m1-21v20m1-19v20m1-20v20m1-20v19m1-19v21m1-20v25m1-26v23m1-23v22m1-26v29m1-29v24m1-22v27m1-25v20m1-22v24m1-22v22m1-25v26m1-23v20m1-20v22m1-23v23m1-22v22m1-22v22m1-22v21m1-21v21m1-21v21m1-21v20m1-21v21m1-20v19m1-19v21m1-21v21m1-21v20m1-21v23m1-23v24m1-23v22m1-24v22m1-22v22m1-20v24m1-25v24m1-26v25m1-24v22m1-19v19m1-22v22m1-23v22m1-21v22m1-20v20m1-22v22m1-22v22m1-20v25m1-25v20m1-20v19m1-19v20m1-20v20m1-20v20m1-28v29m1-21v22m1-24v27m1-29v24m1-23v29m1-28v26m1-25v21m1-22v23m1-22v21m1-27v27m1-21v21m1-19v19m1-20v20m1-20v20m1-19v19m1-20v20m1-22v21m1-19v24m1-24v24m1-28v28m1-27v24m1-21v23m1-23v21m1-29v28"/>
<path transform="translate(230.40 629.52) scale(1 0.25)" stroke="#0000ff" d="M0 -10v20m1-19v20m1-21v22m1-23v22m1-22v22m1-21v22m1-23v22m1-23v22m1-20v20m1-19v21m1-22v20m1-20v20m1-20v22m1-25v22m1-21v22m1-22v22m1-21v21m1-20v23m1-23v22m1-26v25m1-25v24m1-20v20m1-19v19m1-20v20m1-21v21m1-19v19m1-20v20m1-22v24m1-24v24m1-24v25m1-25v25m1-24v21m1-20v24m1-26v25m1-24v21m1-20v20m1-22v22m1-20v21m1-22v22m1-24v25m1-22v27m1-27v20m1-23v23m1-22v22m1-21v21m1-21v21m1-21v21m1-22v22m1-23v23m1-21v23m1-26v25m1-21v20m1-22v23m1-22v21m1-21v21m1-20v19m1-19v20m1-20v22m1-22v22m1-25v22m1-19v21m1-22v22m1-24v23m1-22v25m1-26v23m1-23v28m1-27v27m1-25v21m1-21v21m1-22v22m1-22v23m1-25v23m1-23v23m1-21v21m1-23v25m1-24v24m1-22v20m1-20v23m1-23v22m1-22v20m1-19v22m1-23v21m1-22v22m1-21v21m1-21v21m1-21v21m1-22v20m1-27v28m1-20v20m1-20v21m1-21v22m1-22v20m1-20v23m1-23v22m1-24v25m1-23v22m1-22v20m1-22v23m1-21v21m1-23v22m1-22v23m1-21v23m1-24v24m1-28v27m1-25v29m1-26v20m1-20v20m1-21v22m1-21v21m1-20v19m1-20v20m1-22v23m1-24v25m1-24v22m1-22v24m1-22v26m1-28v27m1-26v21m1-22v26m1-25v23m1-25v24m1-23v24m1-23v22m1-22v22m1-23v23m1-22v21m1-20v23m1-23v21m1-21v23m1-25v24m1-23v22m1-21v21m1-22v23m1-23v22m1-20v19m1-20v20m1-20v20m1-20v23m1-26v23m1-22v22m1-20v21m1-21v20m1-22v26m1-26v23m1-22v20m1-19v21m1-21v24m1-24v23m1-23v20m1-21v21m1-21v21m1-22v23m1-23v28m1-27v27m1-26v20m1-20v20m1-21v24m1-29v29m1-27v26m1-23v23m1-22v19m1-19v20m1-25v25m1-24v24m1-20v20m1-22v22m1-22v23m1-23v23m1-21v21m1-22v22m1-23v22m1-21v21m1-21v23m1-22v20m1-20v20m1-19v19m1-23v23m1-26v29m1-23v22m1-23v23m1-26v26m1-24v23m1-22v22m1-30v29m1-20v20m1-20v20m1-21v22m1-25v24m1-23v23m1-20v19m1-21v24m1-23v24m1-23v23m1-23v23m1-23v22m1-22v20m1-20v20m1-19v19m1-20v21m1-22v22m1-22v22m1-22v22m1-21v21m1-21v20m1-21v21m1-20v22m1-22v20m1-23v23m1-22v22m1-21v21m1-22v22m1-22v24m1-22v22m1-22v20m1-20v24m1-27v25m1-22v20m1-22v28m1-28v24m1-24v23m1-22v22m1-21v20m1-24v30m1-29v28m1-27v22m1-20v24m1-26v27m1-26v25m1-25v21m1-20v21m1-21v21m1-23v22m1-20v20m1-20v20m1-20v20m1-20v19m1-20v23m1-24v24m1-23v20m1-19v21m1-22v22m1-22v23m1-26v23m1-22v24m1-22v22m1-21v21m1-22v22m1-23v22m1-21v21m1-20v20m1-20v20m1-20v20m1-22v23m1-22v21m1-20v20m1-20v22m1-25v27m1-26v25m1-24v22m1-21v22m1-22v21m1-25v24m1-23v24m1-21v26m1-27v21m1-22v22m1-21v21m1-21v21m1-22v22m1-26v26m1-20v21m1-21v20m1-21v21m1-20v27m1-30v26m1-26v25m1-24v22m1-22v22m1-21v21m1-20v20m1-20v20m1-20v21m1-21v21m1-24v25m1-24v22m1-22v21m1-21v22m1-22v22m1-20v20m1-24v24m1-23v23m1-23v24m1-24v22m1-19v20m1-19v20m1-21v21m1-22v22m1-21v21m1-21v20m1-20v21m1-23v25m1-23v22m1-22v20m1-21v23m1-22v22m1-24v23m1-20v20m1-21v20m1-21v22m1-23v23m1-22v23m1-23v25m1-27v27m1-27v25m1-24v23m1-23v22m1-20v21m1-20v20m1-21v20m1-19v19m1-20v20m1-22v25m1-27v24m1-23v23m1-21v21m1-19v20m1-23v21m1-20v20m1-18v19m1-21v23m1-22v21m1-21v25m1-27v22m1-22v22m1-20v20m1-20v21m1-21v21m1-21v20m1-20v23m1-23v21m1-22v22m1-22v23m1-22v22m1-22v20m1-20v20m1-20v21m1-24v23m1-20v23m1-23v22m1-22v21m1-22v22m1-21v19m1-19v22m1-22v21m1-21v20m1-23v22m1-19v20m1-21v20m1-21v22m1-22v27m1-26v24m1-23v23m1-23v22m1-23v23m1-24v23m1-22v23m1-22v22m1-22v20m1-20v20m1-20v21m1-21v20m1-20v20m1-23v25m1-22v23m1-23v22m1-24v25m1-24v24m1-23v23m1-23v21m1-22v21m1-22v21m1-21v24m1-22v22m1-21v21m1-22v20m1-23v23m1-19v19m1-20v20m1-22v22m1-20v20m1-22v22m1-20v20m1-21v25m1-25v23m1-25v23m1-22v24m1-23v27m1-27v27m1-26v25m1-25v24m1-24v20m1-20v22m1-22v21m1-24v26m1-23v22m1-23v21m1-20v20m1-20v21m1-21v21m1-21v21m1-20v19m1-20v20m1-20v20m1-20v25m1-25v20m1-20v23m1-24v23m1-23v22m1-21v22m1-22v20m1-21v21m1-24v24m1-23v23m1-20v20m1-20v22m1-23v22m1-23v22m1-23v24m1-24v24m1-21v20m1-20v22m1-22v21m1-21v21m1-24v26m1-23v22m1-25v23m1-24v24m1-22v22m1-21v21m1-27v27m1-20v24m1-24v22m1-22v20m1-22v23m1-23v23m1-21v20m1-21v23m1-23v21m1-20v20m1-20v20m1-20v20m1-20v20m1-22v22m1-20v22m1-30v28m1-20v22m1-24v23m1-20v20m1-21v20m1-21v22m1-22v22m1-26v26m1-21v23m1-23v22m1-22v21m1-21v20m1-22v22m1-20v21m1-23v24m1-22v21m1-21v24m1-24v23m1-26v23m1-22v26m1-24v23m1-24v21m1-21v20m1-18v18m1-19v20m1-21v24m1-25v23m1-23v22m1-24v24m1-20v21m1-21v21m1-21v22m1-23v20m1-19v20m1-20v20m1-20v22m1-21v19m1-25v26m1-25v24m1-20v20m1-19v25m1-27v21m1-20v23m1-23v22m1-23v21m1-20v23m1-26v26m1-25v22m1-21v24m1-25v24m1-24v25m1-26v25m1-22v21m1-23v22m1-20v25m1-27v24m1-24v24m1-23v22m1-21v21m1-21v21m1-22v21m1-20v21m1-21v21m1-21v24m1-24v20m1-20v20m1-20v20m1-22v24m1-23v21m1-24v24m1-24v24m1-20v21m1-21v21m1-20v24m1-26v24m1-25v25m1-27v26m1-25v27m1-27v25m1-24v23m1-21v21m1-23v23m1-22v22m1-22v21m1-21v21m1-19v19m1-22v22m1-21v23m1-22v20m1-23v25m1-22v22m1-22v21m1-22v23m1-22v21m1-21v21m1-21v20m1-20v23m1-23v21m1-21v19m1-19v20m1-19v21m1-28v26m1-25v27m1-23v22m1-21v25m1-25v24m1-23v19m1-20v20m1-28v29m1-23v24m1-24v23m1-21v23m1-23v21m1-21v22m1-22v26m1-28v22m1-21v21m1-20v20m1-23v26m1-26v28m1-25v20m1-20v24m1-24v20m1-20v20m1-21v21m1-21v22m1-21v20m1-20v20m1-22v22m1-21v21m1-21v21m1-20v20m1-21v21m1-20v20m1-20v20m1-21v20m1-20v27m1-29v25m1-23v23m1-22v20m1-20v22m1-22v23m1-24v23m1-21v20m1-21v20m1-23v26m1-24v21m1-22v22m1-22v22m1-22v23m1-22v22m1-22v20m1-19v20m1-20v20m1-22v23m1-23v24m1-24v24m1-24v22m1-23v23m1-20v22m1-22v20m1-20v22m1-24v24m1-26v24m1-21v21m1-19v19m1-21v21m1-20v20m1-21v21m1-23v25m1-22v20m1-20v20m1-21v22m1-21v21m1-21v22m1-22v21m1-24v24m1-24v25m1-22v20m1-20v20m1-21v21m1-21v21m1-21v23m1-23v22m1-23v22m1-20v23m1-23v22m1-25v25m1-24v22m1-22v22m1-23v25m1-25v24m1-22v21m1-20v24m1-29v29m1-24v20m1-20v19m1-21v22m1-23v27m1-27v27m1-27v23m1-20v20m1-21v21m1-20v20m1-20v20m1-21v21m1-22v25m1-25v24m1-22v21m1-24v25m1-22v22m1-23v21m1-20v20m1-21v21m1-20v20m1-19v19m1-22v24m1-22v21m1-21v21m1-21v20m1-22v22m1-21v21m1-22v24m1-27v25m1-19v19m1-20v20m1-21v22m1-23v24m1-23v23m1-22v20m1-21v22m1-25v26m1-27v25m1-22v22m1-21v21m1-20v20m1-22v23m1-23v25m1-23v21m1-21v20m1-21v21m1-21v23m1-23v23m1-24v22m1-21v21m1-24v25m1-24v25m1-22v19m1-19v20m1-25v25m1-26v28m1-23v23m1-25v23m1-21v21m1-20v21m1-21v28m1-28v22m1-24v24m1-24v22m1-21v21m1-21v21m1-20v20m1-21v21m1-21v21m1-21v23m1-23v23m1-24v21m1-21v22m1-21v21m1-20v20m1-20v20m1-20v20m1-20v28m1-29v21m1-20v20m1-21v22m1-23v21m1-21v22m1-20v20m1-21v21m1-22v22m1-21v22m1-22v25m1-26v25m1-24v22m1-21v20m1-21v21m1-21v21m1-20v22m1-22v20m1-20v21m1-21v21m1-21v20m1-26v30m1-24v20m1-20v20m1-20v22m1-23v21m1-21v29m1-34v28m1-26v25m1-21v22m1-22v22m1-22v21m1-21v20m1-21v21m1-20v20m1-20v20m1-20v20m1-21v21m1-20v20m1-20v20m1-20v23m1-23v22m1-28v26m1-20v21m1-23v23m1-23v22m1-21v28m1-27v20m1-23v24m1-24v24m1-22v21m1-21v21m1-20v20m1-20v23m1-22v21m1-22v20m1-21v21m1-23v24m1-21v20m1-20v22m1-23v22m1-23v22m1-21v21m1-22v22m1-20v22m1-22v20m1-20v22m1-22v21m1-21v20m1-20v20m1-20v20m1-21v22m1-23v25m1-24v24m1-23v21m1-21v19m1-21v22m1-20v20m1-22v22m1-21v21m1-20v20m1-22v22m1-20v21m1-21v21m1-23v23m1-23v22m1-20v20m1-24v24m1-20v20m1-20v20m1-21v21m1-20v20m1-20v20m1-20v22m1-22v20m1-20v20m1-20v20m1-20v20m1-20v20m1-26v26m1-19v19m1-20v20m1-20v20m1-20v20m1-20v20m1-21v24m1-24v21m1-20v20m1-20v20m1-20v20m1-20v20m1-20v28m1-28v21m1-23v23m1-23v23m1-25v24m1-24v24m1-20v22m1-22v21m1-21v23m1-23v22m1-22v20m1-23v24m1-23v22m1-21v22m1-24v23m1-21v21m1-20v20m1-20v19m1-21v22m1-23v23m1-22v24m1-22v21m1-21v22m1-24v23m1-21v20m1-25v25m1-23v25m1-24v22m1-21v22m1-20v19m1-20v20m1-20v20m1-20v20m1-20v21m1-21v20m1-20v20m1-20v21m1-22v20m1-20v22m1-22v21m1-20v19m1-22v23m1-22v21m1-22v23m1-20v25m1-25v21m1-21v22m1-22v22m1-26v24m1-22v22m1-20v22m1-22v20m1-20v20m1-20v20m1-20v26m1-31v29m1-28v27m1-23v21m1-21v25m1-25v23m1-23v20m1-21v21m1-20v20m1-22v22m1-22v22m1-20v23m1-25v21m1-19v20m1-21v21m1-20v20m1-22v26m1-24v20m1-24v25m1-23v24m1-24v23m1-23v22m1-21v21m1-21v21m1-24v24m1-20v20m1-21v21m1-22v22m1-21v21m1-21v24m1-24v21m1-21v21m1-20v20m1-19v19m1-21v21m1-21v21m1-20v22m1-23v23m1-22v22m1-22v20m1-20v21m1-21v20m1-21v23m1-23v21m1-22v22m1-23v23m1-22v22m1-20v20m1-21v21m1-22v26m1-26v26m1-28v24m1-23v24m1-25v25m1-25v25m1-21v21m1-21v21m1-21v22m1-23v21m1-20v20m1-23v23m1-21v20m1-20v21m1-20v20m1-20v22m1-22v22m1-22v20m1-21v21m1-20v23m1-23v23m1-23v20m1-20v20m1-20v21m1-21v19m1-20v21m1-23v23m1-22v30m1-28v23m1-23v22m1-22v20m1-20v19m1-19v20m1-20v20m1-20v21m1-21v20m1-23v23m1-22v22m1-21v21m1-23v23m1-25v27m1-25v25m1-24v23m1-23v27m1-26v25m1-24v22m1-24v23m1-22v23m1-22v23m1-23v20m1-19v21m1-29v28m1-25v27m1-23v22m1-22v22m1-22v23m1-23v24m1-25v24m1-23v21m1-21v20m1-22v21m1-21v28m1-26v20m1-20v21m1-22v23m1-24v22m1-20v20m1-20v19m1-19v21m1-22v21m1-22v24m1-23v23m1-22v21m1-24v23m1-22v21m1-19v19m1-20v21m1-21v21m1-22v22m1-22v22m1-21v22m1-25v25m1-24v28m1-27v25m1-25v22m1-22v22m1-20v21m1-21v20m1-20v20m1-20v20m1-20v23m1-23v22m1-23v21m1-21v21m1-20v20m1-20v20m1-21v20m1-19v20m1-23v23m1-24v24m1-23v23m1-23v23m1-20v20m1-20v20m1-20v21m1-21v19m1-21v22m1-20v22m1-25v23m1-20v21m1-21v22m1-22v23m1-23v22m1-23v21m1-23v22m1-22v25m1-21v22m1-23v22m1-22v20m1-20v20m1-22v22m1-28v27m1-20v21m1-22v22m1-20v20m1-21v21m1-20v20m1-19v19m1-20v20m1-20v21m1-21v20m1-19v27m1-28v20m1-26v26m1-25v25m1-21v22m1-22v23m1-22v20m1-20v20m1-20v23m1-22v21m1-24v22m1-20v20m1-22v24m1-23v23m1-22v20m1-20v23m1-23v23m1-23v20m1-21v29m1-30v22m1-20v21m1-22v21m1-20v20m1-22v22m1-21v21m1-19v19m1-20v20m1-20v20m1-21v21m1-21v21m1-21v22m1-21v22m1-21v23m1-24v20m1-21v24m1-23v22m1-21v20m1-21v20m1-20v24m1-26v24m1-23v23m1-24v26m1-29v29m1-27v23m1-25v29m1-28v24m1-20v20m1-21v24m1-22v21m1-22v22m1-22v22m1-22v23m1-26v23m1-29v32m1-25v24m1-23v24m1-24v23m1-24v22m1-21v21m1-22v22m1-21v22m1-21v20m1-22v28m1-27v22m1-24v24m1-25v26m1-22v21m1-22v20m1-21v21m1-21v22m1-22v21m1-21v22m1-22v22m1-22v23m1-22v21m1-21v20m1-19v22m1-22v21m1-21v21m1-21v21m1-22v23m1-23v20m1-27v28m1-22v23m1-21v22m1-22v21m1-21v22m1-22v20m1-20v23m1-25v25m1-26v23m1-22v22m1-21v21m1-20v20m1-24v24m1-21v21m1-22v22m1-21v22m1-21v25m1-25v24m1-24v20m1-21v21m1-22v22m1-22v22m1-20v20m1-20v21m1-21v22m1-23v23m1-24v23m1-23v22m1-21v20m1-21v22m1-20v20m1-20v21m1-21v21m1-21v22m1-22v23m1-23v20m1-20v20m1-20v20m1-20v25m1-26v25m1-24v21m1-21v22m1-24v24m1-24v22m1-20v21m1-25v25m1-23v22m1-21v21m1-20v20m1-20v20m1-20v20m1-22v22m1-21v21m1-22v22m1-20v19m1-23v24m1-23v23m1-27v28m1-22v22m1-21v20m1-20v20m1-20v20m1-20v22m1-24v22m1-21v21m1-20v20m1-20v21m1-21v22m1-22v23m1-27v28m1-27v26m1-23v21m1-21v20m1-23v25m1-21v20m1-21v20m1-20v21m1-21v20m1-21v21m1-20v21m1-21v21m1-21v19m1-22v24m1-28v28m1-22v20m1-19v24m1-26v26m1-24v22m1-24v22m1-21v21m1-20v21m1-21v21m1-21v21m1-24v23m1-22v22m1-21v25m1-25v23m1-24v23m1-23v23m1-25v26m1-24v22m1-28v32m1-28v24m1-22v21m1-19v22m1-22v19m1-19v20m1-23v29m1-25v25m1-26v22m1-22v21m1-21v20m1-20v20m1-20v23m1-23v23m1-23v20m1-20v20m1-20v19m1-22v23m1-22v23m1-23v24m1-22v20m1-22v24m1-23v23m1-22v21m1-21v22m1-22v21m1-21v21m1-21v22m1-22v22m1-22v19m1-20v22m1-22v22m1-20v23m1-24v22m1-22v20m1-20v20m1-20v20m1-20v21m1-21v23m1-23v22m1-22v20m1-25v26m1-24v26m1-25v25m1-25v22m1-21v27m1-26v20m1-22v23m1-23v22m1-20v20m1-20v20m1-21v21m1-20v20m1-20v21m1-21v20m1-23v24m1-23v24m1-22v23m1-23v20m1-22v24m1-22v24m1-24v22m1-22v20m1-20v20m1-23v24m1-21v21m1-20v19m1-20v20m1-20v23m1-23v20m1-19v19m1-22v22m1-21v21m1-22v23m1-22v21m1-20v26m1-26v20m1-20v20m1-20v21m1-21v23m1-23v23m1-25v22m1-21v23m1-22v22m1-24v24m1-23v24m1-23v22m1-21v19m1-19v19m1-20v20m1-20v22m1-22v20m1-24v23m1-20v21m1-21v20m1-19v21m1-22v22m1-22v21m1-26v26m1-23v23m1-20v21m1-21v20m1-20v20m1-20v20m1-20v23m1-25v24m1-24v22m1-28v28m1-22v22m1-21v21m1-19v19m1-20v20m1-20v20m1-20v20m1-21v21m1-21v24m1-23v22m1-22v23m1-23v22m1-22v23m1-23v23m1-25v23m1-21v22m1-23v22m1-21v24m1-25v24m1-23v21m1-21v21m1-21v21m1-21v20m1-23v25m1-22v23m1-25v23m1-23v21m1-21v26m1-25v21m1-19v19m1-20v21m1-21v21m1-22v21m1-23v23m1-22v22m1-21v21m1-21v22m1-21v28m1-32v24m1-20v20m1-21v22m1-23v23m1-22v23m1-23v21m1-20v22m1-22v21m1-21v21m1-20v20m1-24v23m1-21v21m1-21v21m1-20v25m1-27v26m1-24v20m1-20v20m1-20v20m1-20v21m1-21v21m1-21v20m1-20v20m1-20v22m1-24v22m1-21v23m1-22v21m1-21v21m1-23v23m1-21v21m1-23v24m1-23v23m1-25v23m1-20v21m1-25v24m1-23v23m1-20v20m1-20v20m1-22v22m1-20v20m1-20v20m1-21v21m1-20v22m1-22v22m1-22v20m1-20v28m1-31v23m1-24v25m1-23v22m1-23v23m1-22v22m1-21v21m1-22v22m1-23v27m1-26v23m1-25v25m1-26v27m1-26v24m1-20v20m1-20v24m1-24v24m1-24v22"/>
<path transform="translate(230.40 668.11) scale(1 0.25)" stroke="#008000" d="M0 -11v21m1-21v21m1-20v23m1-23v20m1-22v22m1-20v19m1-20v21m1-20v20m1-21v21m1-20v23m1-24v22m1-21v20m1-20v20m1-20v20m1-22v23m1-23v22m1-23v23m1-22v23m1-23v27m1-26v21m1-20v20m1-20v20m1-22v24m1-23v23m1-26v25m1-21v20m1-21v21m1-20v20m1-19v19m1-22v22m1-23v23m1-22v24m1-24v23m1-22v23m1-26v25m1-24v24m1-21v22m1-24v24m1-23v21m1-20v20m1-20v29m1-29v22m1-22v20m1-21v21m1-22v22m1-22v22m1-20v20m1-20v20m1-22v24m1-24v23m1-21v21m1-22v23m1-22v22m1-25v25m1-24v22m1-23v23m1-22v22m1-21v26m1-25v24m1-26v25m1-24v24m1-23v22m1-23v21m1-22v23m1-25v25m1-24v23m1-19v19m1-20v21m1-23v23m1-23v26m1-26v25m1-25v24m1-22v20m1-20v19m1-20v21m1-20v20m1-21v21m1-25v26m1-25v25m1-24v23m1-21v21m1-22v22m1-28v28m1-21v22m1-21v20m1-22v22m1-21v24m1-23v20m1-20v23m1-23v22m1-22v21m1-22v22m1-22v21m1-21v21m1-20v20m1-22v22m1-21v23m1-22v20m1-24v24m1-22v25m1-24v21m1-21v21m1-21v21m1-20v21m1-23v23m1-22v21m1-20v20m1-21v21m1-22v22m1-23v23m1-20v21m1-21v20m1-23v31m1-27v19m1-20v20m1-20v22m1-22v22m1-23v22m1-21v22m1-22v21m1-23v24m1-22v22m1-27v25m1-23v23m1-20v22m1-23v24m1-23v20m1-22v22m1-21v22m1-23v24m1-23v21m1-20v20m1-26v26m1-20v22m1-26v24m1-20v20m1-20v23m1-24v23m1-25v23m1-22v22m1-22v22m1-21v22m1-22v24m1-23v20m1-21v21m1-22v23m1-23v22m1-21v22m1-21v20m1-22v22m1-23v23m1-20v20m1-26v26m1-21v22m1-22v23m1-22v23m1-23v23m1-23v22m1-22v22m1-22v22m1-22v20m1-20v21m1-22v21m1-21v23m1-22v21m1-23v22m1-22v22m1-20v20m1-20v19m1-20v21m1-21v23m1-22v22m1-24v24m1-24v22m1-20v23m1-24v25m1-26v24m1-23v21m1-21v22m1-22v23m1-22v21m1-23v28m1-26v25m1-25v20m1-20v20m1-21v21m1-20v20m1-21v21m1-22v22m1-21v22m1-22v23m1-23v22m1-21v20m1-22v22m1-26v28m1-24v22m1-19v20m1-22v21m1-20v21m1-21v22m1-24v24m1-24v22m1-22v22m1-20v21m1-22v23m1-23v23m1-25v23m1-23v25m1-22v22m1-22v20m1-21v21m1-22v22m1-21v21m1-20v20m1-20v21m1-24v24m1-21v20m1-20v20m1-20v19m1-21v23m1-22v22m1-21v21m1-21v21m1-21v20m1-20v20m1-20v19m1-19v20m1-20v20m1-22v25m1-24v21m1-20v20m1-21v21m1-25v27m1-26v27m1-25v22m1-20v21m1-20v20m1-22v22m1-21v20m1-22v23m1-23v23m1-23v24m1-22v20m1-21v22m1-21v20m1-20v20m1-22v22m1-20v20m1-20v22m1-22v22m1-23v22m1-22v20m1-20v21m1-22v22m1-22v22m1-21v23m1-22v22m1-28v27m1-25v25m1-22v22m1-24v23m1-22v26m1-25v21m1-23v23m1-22v22m1-20v20m1-20v20m1-20v20m1-23v29m1-27v23m1-22v20m1-22v22m1-21v21m1-19v19m1-20v20m1-23v23m1-22v22m1-20v20m1-20v24m1-25v26m1-27v22m1-21v22m1-21v20m1-20v23m1-23v20m1-20v20m1-20v20m1-20v20m1-23v23m1-22v21m1-20v21m1-22v22m1-21v20m1-19v20m1-20v20m1-20v21m1-21v21m1-21v20m1-20v20m1-20v22m1-21v19m1-22v23m1-23v23m1-21v20m1-22v23m1-23v23m1-26v25m1-24v24m1-20v20m1-20v21m1-21v20m1-20v20m1-19v19m1-20v20m1-20v25m1-24v22m1-23v20m1-20v21m1-22v20m1-21v22m1-23v23m1-23v23m1-23v24m1-21v21m1-21v20m1-20v24m1-24v22m1-25v23m1-22v21m1-19v21m1-22v22m1-21v20m1-20v24m1-23v23m1-24v21m1-21v21m1-21v22m1-22v23m1-23v24m1-24v20m1-20v20m1-19v21m1-23v22m1-21v20m1-20v22m1-22v22m1-26v30m1-27v27m1-30v25m1-24v27m1-26v25m1-25v22m1-26v29m1-27v26m1-22v23m1-27v24m1-23v23m1-20v20m1-20v21m1-21v21m1-23v30m1-29v25m1-23v22m1-23v22m1-22v20m1-21v21m1-20v21m1-22v21m1-22v22m1-20v25m1-25v25m1-26v22m1-21v21m1-20v18m1-19v20m1-20v20m1-22v23m1-24v24m1-23v24m1-22v21m1-21v21m1-21v20m1-20v20m1-22v23m1-22v21m1-20v23m1-24v28m1-29v22m1-22v23m1-21v22m1-22v22m1-22v21m1-21v22m1-24v23m1-21v20m1-20v19m1-19v20m1-20v20m1-21v21m1-23v23m1-22v22m1-21v21m1-20v21m1-23v23m1-26v25m1-25v25m1-22v24m1-24v22m1-22v25m1-23v24m1-25v21m1-26v26m1-25v25m1-20v20m1-20v20m1-22v21m1-21v23m1-23v22m1-20v20m1-22v22m1-20v20m1-20v20m1-21v21m1-19v19m1-20v20m1-22v22m1-20v22m1-22v26m1-26v21m1-22v22m1-25v26m1-25v24m1-23v25m1-23v26m1-26v25m1-24v22m1-24v21m1-21v21m1-21v21m1-20v23m1-23v21m1-22v22m1-21v20m1-20v20m1-20v20m1-22v21m1-20v20m1-20v22m1-23v24m1-24v23m1-23v22m1-26v28m1-23v23m1-22v22m1-22v21m1-20v19m1-22v26m1-25v24m1-23v20m1-25v27m1-22v20m1-20v20m1-20v20m1-20v21m1-22v21m1-21v22m1-22v23m1-23v21m1-23v23m1-22v21m1-20v21m1-20v20m1-22v22m1-22v25m1-24v22m1-22v21m1-20v20m1-22v22m1-22v24m1-22v19m1-21v22m1-20v20m1-22v22m1-22v22m1-20v20m1-21v22m1-21v22m1-22v22m1-22v25m1-25v26m1-29v28m1-24v19m1-20v20m1-22v22m1-21v21m1-20v20m1-20v21m1-21v21m1-22v20m1-22v29m1-26v20m1-26v26m1-20v22m1-22v20m1-22v24m1-23v21m1-23v23m1-23v22m1-19v21m1-21v20m1-22v22m1-20v19m1-20v22m1-25v27m1-25v24m1-22v20m1-21v21m1-21v22m1-21v21m1-21v22m1-22v20m1-23v23m1-20v21m1-21v19m1-21v22m1-25v25m1-24v25m1-21v20m1-20v20m1-19v24m1-25v22m1-22v23m1-23v23m1-23v21m1-25v24m1-19v19m1-24v26m1-24v21m1-19v19m1-19v21m1-21v26m1-28v22m1-20v23m1-23v22m1-22v23m1-23v22m1-23v21m1-22v22m1-21v21m1-22v25m1-25v23m1-20v25m1-28v24m1-25v25m1-22v21m1-23v22m1-21v20m1-19v20m1-22v25m1-24v23m1-24v26m1-24v19m1-19v22m1-25v24m1-22v23m1-23v22m1-21v28m1-28v20m1-21v21m1-21v21m1-21v21m1-21v21m1-20v21m1-21v22m1-22v22m1-22v21m1-21v20m1-20v22m1-22v22m1-21v20m1-21v20m1-20v20m1-20v20m1-24v23m1-20v21m1-21v25m1-26v25m1-32v30m1-20v19m1-21v21m1-21v21m1-20v21m1-21v20m1-21v21m1-23v23m1-20v22m1-22v22m1-23v23m1-23v23m1-22v20m1-20v20m1-26v28m1-24v24m1-22v22m1-22v23m1-23v21m1-22v23m1-22v20m1-20v20m1-20v21m1-22v21m1-27v27m1-22v25m1-29v29m1-23v21m1-21v21m1-20v18m1-18v21m1-23v20m1-19v20m1-23v23m1-20v20m1-21v22m1-24v23m1-23v23m1-22v22m1-20v21m1-22v23m1-23v23m1-23v20m1-20v24m1-24v24m1-25v22m1-21v25m1-25v24m1-23v21m1-21v20m1-19v19m1-28v29m1-22v23m1-22v20m1-24v26m1-21v20m1-21v19m1-18v20m1-21v20m1-20v22m1-22v21m1-21v20m1-20v23m1-25v25m1-23v21m1-23v22m1-22v22m1-21v20m1-21v22m1-21v21m1-20v22m1-23v22m1-22v21m1-21v22m1-21v24m1-26v24m1-23v21m1-21v21m1-21v20m1-19v20m1-24v24m1-23v22m1-23v25m1-24v22m1-19v20m1-20v20m1-22v22m1-21v21m1-20v21m1-22v28m1-28v21m1-20v20m1-22v22m1-23v25m1-24v23m1-22v23m1-24v22m1-20v21m1-22v23m1-24v27m1-26v26m1-24v21m1-22v20m1-22v22m1-22v22m1-20v24m1-24v23m1-24v22m1-28v27m1-20v20m1-23v23m1-20v20m1-22v25m1-24v23m1-22v20m1-20v20m1-20v23m1-23v23m1-24v27m1-26v20m1-19v18m1-19v23m1-24v23m1-24v23m1-22v21m1-21v21m1-21v21m1-22v24m1-23v20m1-20v21m1-24v24m1-23v25m1-22v24m1-23v21m1-22v21m1-24v24m1-23v22m1-20v20m1-22v22m1-21v23m1-22v24m1-24v23m1-24v21m1-21v21m1-25v25m1-20v19m1-18v21m1-22v23m1-22v19m1-23v23m1-19v20m1-21v20m1-20v20m1-20v21m1-22v22m1-24v23m1-20v20m1-21v22m1-20v20m1-23v22m1-23v23m1-22v31m1-30v24m1-29v27m1-26v24m1-20v21m1-23v23m1-22v24m1-22v20m1-22v22m1-22v22m1-20v20m1-22v22m1-20v20m1-20v20m1-20v19m1-22v22m1-19v21m1-21v22m1-22v27m1-31v26m1-24v24m1-23v21m1-20v20m1-23v23m1-21v21m1-20v22m1-24v23m1-20v18m1-19v27m1-29v24m1-24v22m1-20v20m1-20v20m1-20v21m1-23v22m1-21v21m1-22v23m1-23v24m1-22v20m1-20v20m1-20v20m1-19v19m1-20v20m1-20v20m1-24v23m1-21v23m1-23v24m1-24v24m1-24v22m1-20v20m1-24v24m1-20v22m1-22v20m1-19v19m1-20v26m1-28v26m1-25v25m1-24v20m1-21v22m1-21v20m1-21v24m1-25v23m1-23v25m1-24v25m1-24v21m1-21v21m1-23v23m1-29v28m1-21v20m1-19v20m1-20v20m1-20v22m1-22v21m1-21v20m1-20v19m1-23v24m1-23v25m1-24v23m1-22v22m1-21v21m1-23v23m1-21v20m1-21v22m1-20v19m1-21v22m1-22v23m1-22v22m1-24v21m1-21v26m1-24v23m1-23v21m1-23v23m1-22v21m1-20v22m1-22v22m1-22v20m1-20v22m1-22v20m1-20v22m1-23v22m1-23v22m1-25v25m1-24v24m1-20v20m1-20v22m1-22v28m1-29v22m1-20v19m1-20v24m1-26v23m1-23v22m1-20v20m1-20v22m1-22v20m1-21v24m1-23v23m1-24v23m1-25v23m1-22v22m1-22v22m1-21v25m1-24v20m1-20v20m1-21v21m1-21v20m1-20v21m1-20v20m1-21v22m1-21v20m1-20v20m1-20v20m1-20v20m1-20v20m1-20v20m1-23v23m1-23v24m1-23v24m1-22v22m1-23v21m1-23v23m1-20v20m1-20v21m1-22v23m1-22v20m1-21v21m1-22v22m1-22v22m1-21v21m1-22v22m1-21v21m1-22v21m1-19v19m1-19v20m1-22v26m1-27v25m1-24v24m1-26v28m1-24v20m1-22v22m1-21v21m1-20v24m1-23v23m1-24v21m1-24v25m1-23v20m1-22v23m1-23v23m1-22v23m1-29v29m1-23v22m1-21v21m1-22v22m1-21v22m1-21v19m1-20v21m1-22v25m1-23v22m1-22v21m1-28v27m1-21v21m1-21v22m1-22v20m1-21v23m1-22v22m1-22v21m1-21v21m1-21v21m1-21v28m1-28v23m1-23v20m1-20v23m1-22v19m1-19v20m1-20v21m1-24v25m1-22v23m1-26v25m1-23v21m1-20v20m1-20v20m1-20v21m1-21v21m1-21v20m1-20v23m1-23v22m1-22v22m1-22v20m1-22v22m1-21v21m1-20v20m1-21v21m1-20v20m1-20v20m1-25v28m1-23v21m1-21v23m1-23v20m1-20v20m1-22v21m1-21v22m1-20v21m1-21v20m1-20v20m1-20v20m1-22v22m1-19v19m1-21v27m1-27v22m1-22v22m1-21v22m1-25v25m1-22v20m1-19v21m1-25v25m1-25v23m1-20v20m1-20v20m1-20v20m1-22v30m1-33v26m1-21v19m1-19v20m1-20v21m1-22v21m1-20v21m1-23v24m1-23v24m1-24v24m1-23v20m1-20v20m1-20v21m1-23v23m1-20v21m1-24v24m1-23v25m1-24v22m1-22v20m1-20v20m1-20v21m1-21v20m1-23v25m1-24v24m1-25v25m1-25v25m1-22v21m1-21v21m1-21v20m1-20v21m1-23v23m1-21v20m1-23v25m1-22v23m1-24v23m1-23v21m1-22v24m1-24v21m1-20v21m1-21v21m1-20v23m1-23v22m1-22v20m1-19v19m1-20v23m1-23v20m1-22v22m1-21v22m1-22v21m1-27v28m1-21v21m1-22v23m1-25v25m1-23v20m1-22v25m1-24v24m1-22v20m1-20v20m1-20v20m1-20v21m1-21v21m1-21v21m1-21v21m1-21v22m1-22v20m1-22v22m1-20v21m1-22v24m1-23v24m1-24v20m1-20v20m1-20v20m1-20v20m1-20v21m1-23v21m1-22v23m1-22v22m1-22v24m1-23v22m1-26v26m1-27v26m1-24v24m1-20v22m1-22v22m1-22v23m1-23v23m1-23v20m1-21v21m1-20v21m1-21v20m1-20v20m1-21v21m1-23v23m1-23v23m1-26v26m1-22v22m1-20v19m1-23v24m1-23v23m1-19v18m1-20v21m1-20v24m1-26v26m1-27v26m1-26v25m1-25v25m1-22v22m1-22v21m1-22v22m1-22v23m1-23v22m1-21v20m1-20v20m1-26v38m1-33v23m1-22v21m1-23v23m1-24v23m1-23v24m1-23v24m1-26v26m1-23v24m1-25v22m1-20v20m1-22v28m1-26v22m1-22v22m1-22v21m1-23v30m1-30v24m1-22v23m1-23v22m1-22v21m1-21v20m1-24v24m1-23v24m1-21v20m1-20v20m1-20v20m1-22v23m1-21v20m1-20v25m1-25v22m1-22v20m1-24v24m1-21v20m1-19v20m1-22v22m1-22v23m1-21v20m1-21v21m1-22v23m1-21v22m1-22v20m1-19v20m1-23v23m1-23v24m1-25v25m1-24v24m1-21v19m1-21v21m1-20v20m1-22v22m1-22v22m1-21v21m1-21v21m1-24v24m1-22v21m1-22v24m1-24v25m1-23v22m1-22v21m1-20v20m1-21v21m1-22v22m1-20v21m1-20v19m1-20v20m1-20v20m1-22v22m1-22v22m1-20v20m1-20v20m1-20v23m1-23v20m1-25v25m1-25v25m1-20v20m1-20v20m1-22v22m1-21v21m1-28v36m1-36v36m1-30v22m1-22v22m1-20v23m1-23v22m1-22v22m1-22v20m1-20v25m1-25v25m1-25v19m1-19v23m1-25v24m1-23v22m1-28v28m1-24v24m1-21v21m1-27v32m1-27v21m1-22v26m1-25v24m1-23v22m1-27v28m1-28v27m1-27v25m1-20v20m1-22v22m1-21v22m1-21v20m1-20v20m1-22v22m1-21v21m1-20v20m1-20v22m1-25v24m1-27v27m1-21v21m1-23v25m1-25v25m1-29v28m1-22v22m1-24v24m1-23v22m1-21v20m1-20v20m1-25v26m1-21v20m1-20v21m1-20v21m1-24v24m1-23v21m1-22v22m1-23v24m1-21v23m1-27v27m1-26v25m1-23v23m1-22v20m1-20v23m1-25v23m1-22v21m1-21v22m1-22v23m1-24v23m1-21v26m1-26v20m1-23v25m1-22v20m1-19v19m1-22v22m1-22v22m1-22v22m1-20v21m1-20v22m1-23v22m1-23v23m1-23v21m1-23v23m1-23v23m1-26v25m1-21v23m1-24v24m1-22v21m1-20v21m1-22v23m1-22v22m1-29v29m1-24v23m1-23v24m1-23v23m1-22v21m1-21v20m1-20v20m1-22v24m1-26v25m1-24v24m1-24v25m1-24v22m1-21v21m1-23v27m1-27v25m1-24v22m1-21v22m1-21v21m1-22v22m1-22v21m1-20v20m1-19v19m1-24v24m1-24v24m1-20v23m1-23v23m1-23v21m1-22v21m1-25v31m1-30v28m1-26v22m1-20v22m1-23v25m1-24v20m1-20v22m1-22v21m1-21v20m1-21v21m1-21v21m1-22v23m1-22v21m1-21v21m1-20v19m1-20v23m1-22v21m1-23v25m1-26v32m1-31v22m1-21v21m1-20v22m1-22v20m1-21v21m1-20v22m1-22v20m1-20v21m1-22v23m1-23v22m1-22v21m1-22v22m1-20v21m1-21v20m1-20v20m1-20v20m1-20v20m1-27v27m1-22v27m1-27v26m1-24v22m1-22v21m1-23v22m1-21v21m1-22v24m1-23v21m1-20v19m1-19v27m1-28v20m1-25v28m1-25v23m1-27v27m1-20v20m1-21v24m1-27v26m1-27v30m1-28v27m1-23v21m1-22v21m1-20v19m1-20v22m1-23v24m1-24v21m1-21v22m1-29v28m1-20v19m1-19v20m1-20v20m1-24v24m1-23v23m1-20v20m1-21v21m1-20v20m1-23v23m1-22v25m1-24v23m1-22v21m1-21v20m1-21v21m1-21v21m1-22v26m1-26v25m1-23v20m1-20v20m1-20v20m1-22v23m1-22v21m1-20v21m1-21v20m1-20v20m1-20v23m1-24v24m1-24v22m1-23v23m1-21v22m1-22v20m1-19v19m1-20v20m1-23v24m1-25v24m1-21v23m1-24v24m1-29v27m1-20v20m1-20v20m1-20v21m1-23v24m1-22v22m1-22v21m1-21v22m1-22v22m1-22v20m1-20v21m1-21v20m1-21v21m1-20v20m1-20v20m1-20v20m1-20v20m1-21v23m1-22v21m1-22v21m1-21v21m1-21v21m1-20v22m1-24v22m1-22v21m1-20v21m1-20v20m1-20v23m1-23v22m1-22v22m1-22v20m1-20v20m1-23v25m1-24v24m1-22v26m1-26v24m1-24v20m1-20v20m1-20v22m1-24v23m1-20v19m1-20v22m1-23v23m1-22v23m1-31v27m1-19v20m1-22v23m1-25v24m1-19v20m1-21v22m1-22v21m1-21v29m1-30v22m1-22v21m1-26v26m1-25v25m1-22v23m1-23v22m1-20v23m1-23v22m1-24v22m1-20v20m1-20v22m1-22v20m1-20v21m1-21v20m1-23v25m1-22v21"/>
<path transform="translate(230.40 706.36) scale(1 0.25)" stroke="#000000" d="M0 -12v22m1-23v23m1-22v22m1-21v22m1-23v30m1-29v22m1-22v23m1-23v25m1-25v23m1-22v20m1-21v23m1-22v22m1-23v21m1-21v21m1-22v22m1-22v23m1-23v22m1-22v24m1-24v24m1-22v25m1-27v25m1-24v22m1-21v19m1-19v21m1-21v21m1-21v20m1-26v26m1-23v27m1-25v24m1-22v19m1-21v21m1-20v20m1-22v22m1-23v23m1-20v24m1-25v23m1-22v20m1-20v20m1-19v20m1-24v22m1-23v25m1-25v24m1-21v22m1-20v19m1-23v23m1-20v20m1-26v26m1-23v23m1-24v24m1-22v22m1-20v20m1-22v22m1-22v22m1-21v21m1-22v21m1-20v21m1-21v22m1-21v21m1-21v21m1-26v26m1-24v24m1-24v23m1-20v20m1-24v24m1-19v19m1-21v21m1-21v21m1-20v20m1-20v19m1-18v18m1-19v19m1-19v20m1-20v20m1-20v20m1-20v20m1-20v19m1-19v20m1-20v20m1-20v26m1-27v25m1-23v19m1-19v21m1-22v22m1-24v22m1-22v23m1-21v20m1-20v19m1-19v20m1-20v20m1-22v22m1-20v21m1-21v22m1-22v24m1-24v23m1-23v20m1-21v22m1-21v20m1-19v19m1-22v22m1-21v21m1-19v21m1-22v20m1-19v22m1-23v23m1-23v21m1-21v20m1-22v22m1-22v22m1-20v20m1-20v22m1-22v21m1-21v20m1-20v23m1-25v22m1-20v20m1-20v26m1-28v27m1-30v25m1-21v21m1-22v22m1-20v24m1-24v23m1-29v26m1-24v25m1-25v25m1-24v23m1-20v20m1-22v22m1-21v21m1-21v22m1-21v20m1-20v20m1-21v24m1-29v28m1-25v26m1-25v22m1-22v22m1-20v20m1-21v21m1-20v22m1-22v22m1-22v24m1-24v23m1-28v25m1-24v26m1-22v22m1-21v18m1-21v21m1-21v23m1-22v22m1-21v22m1-24v22m1-23v23m1-21v23m1-22v22m1-23v22m1-23v22m1-20v20m1-20v20m1-19v19m1-19v20m1-21v20m1-20v20m1-20v24m1-24v20m1-21v21m1-21v21m1-20v20m1-19v19m1-20v21m1-23v25m1-23v20m1-21v20m1-19v20m1-22v23m1-20v19m1-19v22m1-25v22m1-22v22m1-20v23m1-25v22m1-22v22m1-22v23m1-22v22m1-22v21m1-22v23m1-23v24m1-23v21m1-20v20m1-20v23m1-23v23m1-23v20m1-20v21m1-21v20m1-20v20m1-22v26m1-25v23m1-23v21m1-22v22m1-23v24m1-23v22m1-20v20m1-22v21m1-19v20m1-20v24m1-24v23m1-24v21m1-21v21m1-20v20m1-20v20m1-20v23m1-23v19m1-22v24m1-22v21m1-20v23m1-23v22m1-25v24m1-21v21m1-23v23m1-23v22m1-21v20m1-19v21m1-21v21m1-21v21m1-21v20m1-19v20m1-24v22m1-22v23m1-20v22m1-23v22m1-22v20m1-20v21m1-21v24m1-24v24m1-23v20m1-21v21m1-20v21m1-21v21m1-21v20m1-21v24m1-26v25m1-22v21m1-20v21m1-24v22m1-20v21m1-22v24m1-23v26m1-28v26m1-26v23m1-21v20m1-21v20m1-19v22m1-24v25m1-25v24m1-23v24m1-23v23m1-23v20m1-21v22m1-22v21m1-20v20m1-20v20m1-20v22m1-22v19m1-20v21m1-21v21m1-20v23m1-24v21m1-21v21m1-22v23m1-23v22m1-22v26m1-24v23m1-23v23m1-23v21m1-22v21m1-21v21m1-21v21m1-20v20m1-20v22m1-21v24m1-26v24m1-24v21m1-21v24m1-23v20m1-22v22m1-23v25m1-23v23m1-22v20m1-21v22m1-24v23m1-20v20m1-20v20m1-20v20m1-20v23m1-23v20m1-20v20m1-22v25m1-24v24m1-25v22m1-20v20m1-24v26m1-26v26m1-26v26m1-22v20m1-20v22m1-23v21m1-20v20m1-20v20m1-20v20m1-20v20m1-20v20m1-22v22m1-20v19m1-19v20m1-20v20m1-20v21m1-21v21m1-22v21m1-21v21m1-21v21m1-20v19m1-19v20m1-21v21m1-21v21m1-22v24m1-22v21m1-21v20m1-20v20m1-21v23m1-22v21m1-24v23m1-22v23m1-21v21m1-23v22m1-22v21m1-20v21m1-20v20m1-23v23m1-20v20m1-21v21m1-20v20m1-20v22m1-22v21m1-21v20m1-21v21m1-21v20m1-19v19m1-19v22m1-22v20m1-21v21m1-20v23m1-23v20m1-19v21m1-24v23m1-23v22m1-21v25m1-25v24m1-24v21m1-21v22m1-22v26m1-28v26m1-26v24m1-22v21m1-20v20m1-21v21m1-19v24m1-25v21m1-21v20m1-26v26m1-23v24m1-23v23m1-24v28m1-27v22m1-22v22m1-22v21m1-19v20m1-20v20m1-23v23m1-20v20m1-20v24m1-24v20m1-20v21m1-21v20m1-20v22m1-23v23m1-22v22m1-21v20m1-25v24m1-23v26m1-23v22m1-22v20m1-20v20m1-20v20m1-23v25m1-23v25m1-27v27m1-26v22m1-21v21m1-20v20m1-20v20m1-20v24m1-24v23m1-23v24m1-24v24m1-26v22m1-22v22m1-21v21m1-20v20m1-20v21m1-22v21m1-25v26m1-21v20m1-21v22m1-21v24m1-25v21m1-22v22m1-21v21m1-20v20m1-24v24m1-23v23m1-21v26m1-27v22m1-22v22m1-20v20m1-20v20m1-21v22m1-22v23m1-23v23m1-22v20m1-20v20m1-20v27m1-26v21m1-27v27m1-21v21m1-22v22m1-25v23m1-23v23m1-22v22m1-24v24m1-23v27m1-24v20m1-19v21m1-22v21m1-23v23m1-21v20m1-23v25m1-24v24m1-22v20m1-22v22m1-21v22m1-21v21m1-21v23m1-23v23m1-23v22m1-22v23m1-25v25m1-24v23m1-25v23m1-25v26m1-21v21m1-23v22m1-22v22m1-20v19m1-20v22m1-22v21m1-23v27m1-23v24m1-25v20m1-21v21m1-21v21m1-21v23m1-23v21m1-22v22m1-22v29m1-27v20m1-20v20m1-21v21m1-24v27m1-26v24m1-23v24m1-24v23m1-21v22m1-22v21m1-21v21m1-21v20m1-20v22m1-22v22m1-22v21m1-25v23m1-20v21m1-25v25m1-20v20m1-20v21m1-21v22m1-24v22m1-20v20m1-24v24m1-20v20m1-22v22m1-21v21m1-21v21m1-22v24m1-23v22m1-24v23m1-21v21m1-21v23m1-24v24m1-22v22m1-23v21m1-20v21m1-21v21m1-21v20m1-22v23m1-21v21m1-21v20m1-21v22m1-21v21m1-21v20m1-22v22m1-19v19m1-21v21m1-20v21m1-23v22m1-23v23m1-20v22m1-22v20m1-24v24m1-22v22m1-20v19m1-19v20m1-22v22m1-28v30m1-24v26m1-24v21m1-23v24m1-26v25m1-21v20m1-19v21m1-22v21m1-22v22m1-21v20m1-20v19m1-19v20m1-21v21m1-21v21m1-21v22m1-21v22m1-27v27m1-26v24m1-20v26m1-27v23m1-22v21m1-22v21m1-19v18m1-21v22m1-22v22m1-22v22m1-21v21m1-21v22m1-25v24m1-20v27m1-27v23m1-23v22m1-22v22m1-22v23m1-25v24m1-22v21m1-28v28m1-20v26m1-27v20m1-20v20m1-20v20m1-20v20m1-20v19m1-20v21m1-22v22m1-22v21m1-20v23m1-23v23m1-23v23m1-22v22m1-22v20m1-20v22m1-24v24m1-23v21m1-20v20m1-21v21m1-21v21m1-26v35m1-29v22m1-22v20m1-26v26m1-22v23m1-22v22m1-21v21m1-21v22m1-24v22m1-20v21m1-21v20m1-20v20m1-24v25m1-21v20m1-20v19m1-20v23m1-22v20m1-20v20m1-21v21m1-24v25m1-25v25m1-21v21m1-20v19m1-20v24m1-26v26m1-25v21m1-21v21m1-22v22m1-22v22m1-21v22m1-20v20m1-21v21m1-24v23m1-23v22m1-19v20m1-21v21m1-20v22m1-22v22m1-22v22m1-22v21m1-22v21m1-21v22m1-21v24m1-23v21m1-23v21m1-22v22m1-20v21m1-21v22m1-24v22m1-21v26m1-25v20m1-20v21m1-23v23m1-23v23m1-21v20m1-23v23m1-20v20m1-20v22m1-25v24m1-22v22m1-21v22m1-24v25m1-23v24m1-24v20m1-20v20m1-21v25m1-25v22m1-24v23m1-20v20m1-20v20m1-20v20m1-22v22m1-23v22m1-19v20m1-20v21m1-26v29m1-27v27m1-26v23m1-21v20m1-19v19m1-20v20m1-23v23m1-22v22m1-22v22m1-21v21m1-20v21m1-21v20m1-23v23m1-23v22m1-22v23m1-19v19m1-21v21m1-23v28m1-27v26m1-24v20m1-21v21m1-23v25m1-22v22m1-22v20m1-21v22m1-23v24m1-22v21m1-23v22m1-21v21m1-21v21m1-22v22m1-22v21m1-19v20m1-20v20m1-20v22m1-22v23m1-23v20m1-20v20m1-26v33m1-27v21m1-22v21m1-22v22m1-22v22m1-20v20m1-20v20m1-20v28m1-28v20m1-20v20m1-21v22m1-20v19m1-19v19m1-22v22m1-22v22m1-21v22m1-21v21m1-20v20m1-21v21m1-22v23m1-23v22m1-22v21m1-20v21m1-27v26m1-20v22m1-22v21m1-21v20m1-20v20m1-20v20m1-19v23m1-26v23m1-22v22m1-22v22m1-21v20m1-20v25m1-25v22m1-24v23m1-23v23m1-21v20m1-20v20m1-20v22m1-23v27m1-27v21m1-20v20m1-20v22m1-26v26m1-25v23m1-28v27m1-22v27m1-24v23m1-24v21m1-21v23m1-25v24m1-21v19m1-19v21m1-20v20m1-21v20m1-20v21m1-22v23m1-23v22m1-21v21m1-21v21m1-21v22m1-22v20m1-21v22m1-21v20m1-20v20m1-21v21m1-20v20m1-25v26m1-26v26m1-24v23m1-20v21m1-23v22m1-22v22m1-19v18m1-18v19m1-20v20m1-22v24m1-23v23m1-23v26m1-25v20m1-20v23m1-23v20m1-20v20m1-20v19m1-19v20m1-20v20m1-24v25m1-27v27m1-21v25m1-25v20m1-21v29m1-28v23m1-23v21m1-22v21m1-20v22m1-23v22m1-23v22m1-21v21m1-20v21m1-21v21m1-23v22m1-23v23m1-21v23m1-24v24m1-23v22m1-22v21m1-20v22m1-22v21m1-21v22m1-22v25m1-25v20m1-21v23m1-24v23m1-20v19m1-21v21m1-22v24m1-26v25m1-25v24m1-20v20m1-20v21m1-21v21m1-21v19m1-19v22m1-22v21m1-21v20m1-20v22m1-23v23m1-23v22m1-21v23m1-23v23m1-24v23m1-23v22m1-22v21m1-22v24m1-22v22m1-22v20m1-26v25m1-19v23m1-23v21m1-21v23m1-23v23m1-24v23m1-23v25m1-24v20m1-20v19m1-18v19m1-21v21m1-22v21m1-20v21m1-20v20m1-21v21m1-20v20m1-20v20m1-20v20m1-20v22m1-21v18m1-19v20m1-20v20m1-22v22m1-20v20m1-20v20m1-20v20m1-20v23m1-24v21m1-23v24m1-21v20m1-20v19m1-20v21m1-21v21m1-22v22m1-22v21m1-20v21m1-20v19m1-19v20m1-20v19m1-20v21m1-20v20m1-20v20m1-22v22m1-22v31m1-31v22m1-21v21m1-23v23m1-20v23m1-24v21m1-21v21m1-21v23m1-23v22m1-21v19m1-19v23m1-23v21m1-21v20m1-20v20m1-20v26m1-28v26m1-24v22m1-25v24m1-23v24m1-24v24m1-24v22m1-23v23m1-20v20m1-23v23m1-19v20m1-21v25m1-25v20m1-20v20m1-20v24m1-23v21m1-23v20m1-21v22m1-22v24m1-24v22m1-23v25m1-24v23m1-25v24m1-24v24m1-22v24m1-22v21m1-21v20m1-20v20m1-21v27m1-28v22m1-21v24m1-22v21m1-24v23m1-21v20m1-20v24m1-24v20m1-19v21m1-23v22m1-23v23m1-24v23m1-22v26m1-23v22m1-25v24m1-22v20m1-20v20m1-20v20m1-21v20m1-21v23m1-21v21m1-21v20m1-94v196m1-193v189m1-158v94m1-91v94m1-98v100m1-98v90m1-88v105m1-98v83m1-86v90m1-91v88m1-78v67m1-63v68m1-72v71m1-78v105m1-105v104m1-95v65m1-64v68m1-69v64m1-120v197m1-238v244m1-232v230m1-194v195m1-203v198m1-195v197m1-224v226m1-193v191m1-204v105m1-76v108m1-100v98m1-89v84m1-75v72m1-69v62m1-61v62m1-56v57m1-58v57m1-60v58m1-55v51m1-50v53m1-50v48m1-47v48m1-45v41m1-43v47m1-44v41m1-40v41m1-40v38m1-41v42m1-38v35m1-34v33m1-35v39m1-38v36m1-36v36m1-33v31m1-32v33m1-28v21m1-22v21m1-21v23m1-22v21m1-21v22m1-23v23m1-23v21m1-22v22m1-20v20m1-20v21m1-23v22m1-22v24m1-24v24m1-23v23m1-22v21m1-23v22m1-20v20m1-20v20m1-22v21m1-19v20m1-28v28m1-22v23m1-21v20m1-20v20m1-20v20m1-20v20m1-20v21m1-21v20m1-20v22m1-22v22m1-25v24m1-23v22m1-21v21m1-21v20m1-19v20m1-23v24m1-23v24m1-29v29m1-30v30m1-22v19m1-21v23m1-21v24m1-24v24m1-27v23m1-20v20m1-20v20m1-22v22m1-20v21m1-25v25m1-24v26m1-23v20m1-20v21m1-21v20m1-20v19m1-19v21m1-23v22m1-28v28m1-23v25m1-23v23m1-22v23m1-24v24m1-23v21m1-23v22m1-20v20m1-20v23m1-23v23m1-23v20m1-22v22m1-23v25m1-25v23m1-19v21m1-22v21m1-23v23m1-23v22m1-23v23m1-22v25m1-23v20m1-20v20m1-21v21m1-21v20m1-19v22m1-22v21m1-21v20m1-21v22m1-21v21m1-21v21m1-25v32m1-32v24m1-23v24m1-24v23m1-22v22m1-20v20m1-20v20m1-20v20m1-23v23m1-22v22m1-20v20m1-21v21m1-22v21m1-20v21m1-20v20m1-20v23m1-25v26m1-27v26m1-26v24m1-22v21m1-20v19m1-19v20m1-20v21m1-21v22m1-22v22m1-22v20m1-24v24m1-23v23m1-20v20m1-22v29m1-28v23m1-22v22m1-25v22m1-21v24m1-22v24m1-27v26m1-25v22m1-20v20m1-20v20m1-20v22m1-22v22m1-22v23m1-29v28m1-21v20m1-22v27m1-28v21m1-21v22m1-20v19m1-22v25m1-22v21m1-23v24m1-22v21m1-21v20m1-22v23m1-23v22m1-20v20m1-20v20m1-23v23m1-23v23m1-20v20m1-20v20m1-22v24m1-24v24m1-24v22m1-23v24m1-23v24m1-22v22m1-22v21m1-21v20m1-23v23m1-20v21m1-21v21m1-22v21m1-21v21m1-20v20m1-24v23m1-22v23m1-20v25m1-25v24m1-25v21m1-22v21m1-21v22m1-20v20m1-22v22m1-21v21m1-20v21m1-22v22m1-22v21m1-20v20m1-20v22m1-24v22m1-22v22m1-20v20m1-24v26m1-28v27m1-25v26m1-27v27m1-23v22m1-21v23m1-25v22m1-22v22m1-22v24m1-23v20m1-19v20m1-20v20m1-20v20m1-20v20m1-21v21m1-20v20m1-20v20m1-20v20m1-19v19m1-20v20m1-20v22m1-27v27m1-24v22m1-21v21m1-20v21m1-21v20m1-20v20m1-21v21m1-21v21m1-21v20m1-22v24m1-21v25m1-29v24m1-24v24m1-21v24m1-24v23m1-23v21m1-20v20m1-25v25m1-20v20m1-20v20m1-20v21m1-21v21m1-22v20m1-21v22m1-20v21m1-21v20m1-21v24m1-26v23m1-23v26m1-23v23m1-24v21m1-20v22m1-22v20m1-20v20m1-20v22m1-21v19m1-22v22m1-21v22m1-22v23m1-23v22m1-27v26m1-24v24m1-20v20m1-20v20m1-20v23m1-25v23m1-20v19m1-23v23m1-20v21m1-21v20m1-22v22m1-20v20m1-19v21m1-24v25m1-26v25m1-25v23m1-21v22m1-22v22m1-21v22m1-24v25m1-24v22m1-22v21m1-20v20m1-20v20m1-19v19m1-26v26m1-21v22m1-23v22m1-23v22m1-21v28m1-26v26m1-27v27m1-27v24m1-24v21m1-25v27m1-27v26m1-21v22m1-22v26m1-27v25m1-25v22m1-23v26m1-24v20m1-20v20m1-22v22m1-21v21m1-20v25m1-25v22m1-22v22m1-22v20m1-20v20m1-26v26m1-23v23m1-20v21m1-21v21m1-21v20m1-21v21m1-20v24m1-24v20m1-21v21m1-21v27m1-27v21m1-23v24m1-23v24m1-22v20m1-19v20m1-21v20m1-21v28m1-29v24m1-29v28m1-25v24m1-23v24m1-22v21m1-22v22m1-20v20m1-20v21m1-21v20m1-19v23m1-24v20m1-20v19m1-25v26m1-26v27m1-21v20m1-20v21m1-21v20m1-19v19m1-20v20m1-22v23m1-23v25m1-23v22m1-22v20m1-20v20m1-25v25m1-24v28m1-25v24m1-23v20m1-33v45m1-46v49m1-84v104m1-68v47m1-43v44m1-44v42m1-45v61m1-61v44m1-33v21m1-158v255m1-242v233m1-202v235m1-155v52m1-40v24m1-22v21m1-22v21m1-24v24m1-23v23m1-20v20m1-36v54m1-47v58m1-76v57m1-45v50m1-50v49m1-46v45m1-44v45m1-61v61m1-46v45m1-42v36m1-28v22m1-27v33m1-33v38m1-37v34m1-38v37m1-33v35m1-38v37m1-34v38m1-41v42m1-40v38m1-40v37m1-28v54m1-55v25m1-25v23m1-25v26m1-28v25m1-23v24m1-24v23m1-21v22m1-24v22m1-21v21m1-20v21m1-21v20m1-20v20m1-22v22m1-22v22m1-20v21m1-21v20m1-20v20m1-20v22m1-25v23m1-20v20m1-20v20m1-23v24m1-23v22m1-20v20m1-20v24m1-24v20m1-20v21m1-23v25m1-25v25m1-25v22m1-22v22m1-20v20m1-21v21m1-20v22m1-25v24m1-24v23m1-20v21m1-23v23m1-21v20m1-20v22m1-22v19m1-21v22m1-20v20m1-20v20m1-20v21m1-23v22m1-21v21m1-20v20m1-21v22m1-23v22m1-23v23m1-22v31m1-29v21m1-21v21m1-21v21m1-21v20m1-20v22m1-23v22m1-21v20m1-20v20m1-20v20m1-21v23m1-22v23m1-25v22m1-21v23m1-22v19m1-21v26m1-26v24m1-22v22m1-22v20m1-20v19m1-19v23m1-25v21m1-20v22m1-24v24m1-23v25m1-23v21m1-21v20m1-20v20m1-21v22m1-22v21m1-22v22m1-21v21m1-20v20m1-20v20"/>
<path transform="translate(230.40 744.66) scale(1 0.25)" stroke="#ff0000" d="M0 -10v21m1-21v21m1-23v23m1-21v20m1-20v20m1-20v20m1-19v19m1-19v19m1-20v20m1-19v19m1-20v20m1-25v25m1-24v27m1-24v23m1-22v19m1-20v21m1-19v21m1-26v26m1-22v21m1-21v22m1-22v20m1-20v20m1-23v23m1-20v21m1-21v22m1-22v22m1-24v23m1-23v23m1-22v20m1-21v21m1-20v21m1-21v21m1-21v21m1-20v20m1-22v23m1-23v22m1-21v22m1-24v24m1-23v25m1-24v22m1-25v24m1-24v26m1-23v23m1-24v23m1-22v23m1-26v26m1-22v20m1-21v21m1-20v20m1-20v20m1-20v19m1-22v27m1-42v47m1-32v24m1-20v20m1-27v30m1-26v22m1-23v23m1-22v23m1-21v21m1-21v25m1-25v26m1-26v21m1-21v21m1-22v21m1-36v47m1-33v24m1-22v22m1-22v21m1-25v24m1-24v25m1-41v61m1-59v57m1-39v22m1-23v21m1-20v22m1-22v22m1-22v25m1-25v24m1-24v20m1-20v22m1-22v21m1-24v24m1-23v23m1-21v21m1-30v29m1-22v22m1-24v23m1-21v22m1-21v20m1-20v22m1-21v20m1-21v22m1-22v22m1-21v22m1-23v21m1-20v20m1-20v20m1-22v23m1-24v24m1-23v22m1-21v21m1-20v22m1-21v21m1-22v22m1-21v24m1-25v24m1-25v23m1-24v21m1-22v23m1-23v23m1-20v20m1-21v21m1-22v22m1-21v21m1-21v22m1-25v26m1-26v25m1-21v22m1-22v21m1-22v21m1-20v20m1-19v19m1-24v24m1-26v27m1-25v26m1-28v29m1-27v27m1-25v22m1-20v20m1-21v21m1-21v23m1-22v19m1-23v26m1-25v24m1-21v22m1-25v23m1-24v29m1-31v30m1-25v22m1-21v23m1-23v22m1-22v20m1-22v29m1-29v24m1-24v23m1-26v27m1-27v27m1-23v21m1-20v21m1-24v22m1-22v26m1-26v26m1-25v22m1-20v21m1-21v20m1-24v26m1-26v26m1-22v20m1-20v22m1-21v20m1-21v23m1-24v21m1-21v21m1-21v21m1-26v28m1-24v24m1-23v22m1-21v20m1-23v23m1-28v29m1-21v20m1-20v20m1-20v23m1-22v21m1-22v20m1-24v24m1-24v24m1-20v21m1-21v21m1-22v24m1-23v20m1-22v22m1-22v23m1-21v19m1-20v24m1-23v21m1-21v22m1-22v20m1-20v21m1-21v20m1-22v21m1-21v22m1-20v20m1-20v21m1-22v21m1-22v23m1-24v24m1-24v28m1-28v26m1-23v21m1-22v21m1-21v23m1-24v24m1-22v20m1-20v27m1-27v22m1-22v20m1-20v20m1-22v23m1-23v25m1-25v26m1-24v20m1-19v22m1-23v20m1-20v25m1-25v23m1-22v20m1-22v21m1-21v22m1-21v22m1-22v22m1-24v24m1-22v21m1-21v25m1-25v23m1-23v20m1-20v20m1-20v22m1-22v22m1-21v19m1-20v20m1-20v23m1-24v22m1-23v22m1-20v21m1-21v21m1-21v20m1-20v20m1-22v24m1-23v23m1-22v20m1-19v20m1-22v21m1-21v21m1-21v21m1-21v21m1-22v23m1-23v22m1-20v20m1-22v22m1-22v27m1-25v25m1-25v20m1-20v20m1-22v22m1-22v23m1-20v19m1-20v20m1-23v24m1-22v21m1-21v21m1-22v22m1-25v25m1-20v21m1-21v20m1-19v20m1-22v21m1-20v20m1-23v25m1-25v24m1-21v22m1-24v23m1-23v23m1-21v22m1-24v23m1-23v25m1-23v19m1-19v20m1-22v22m1-20v20m1-22v28m1-28v22m1-19v19m1-19v19m1-20v20m1-20v20m1-20v20m1-21v21m1-21v23m1-23v22m1-21v20m1-22v24m1-24v22m1-20v21m1-20v19m1-20v20m1-22v22m1-29v29m1-21v21m1-21v23m1-22v20m1-20v19m1-20v21m1-21v21m1-20v20m1-20v20m1-20v20m1-20v20m1-20v20m1-20v20m1-20v20m1-20v20m1-20v23m1-25v23m1-23v22m1-21v28m1-27v22m1-23v26m1-25v21m1-22v22m1-22v22m1-21v23m1-23v22m1-21v20m1-21v22m1-22v24m1-24v24m1-25v23m1-23v21m1-25v25m1-26v27m1-30v31m1-24v25m1-25v26m1-24v23m1-25v24m1-22v26m1-28v26m1-25v21m1-21v21m1-20v20m1-26v26m1-22v22m1-22v27m1-25v21m1-21v22m1-22v21m1-21v20m1-21v21m1-21v21m1-20v20m1-20v20m1-28v28m1-25v28m1-23v22m1-22v20m1-22v23m1-29v28m1-20v20m1-20v20m1-23v23m1-21v22m1-21v22m1-22v21m1-21v20m1-23v23m1-20v20m1-20v19m1-19v20m1-19v19m1-22v22m1-20v20m1-24v25m1-24v25m1-22v20m1-20v22m1-24v23m1-22v21m1-21v22m1-21v21m1-21v20m1-20v21m1-21v21m1-21v20m1-25v28m1-22v19m1-20v20m1-21v21m1-20v22m1-22v21m1-21v22m1-22v24m1-24v24m1-24v20m1-20v23m1-25v21m1-21v23m1-20v21m1-27v27m1-26v24m1-24v24m1-20v20m1-20v22m1-23v23m1-22v22m1-22v21m1-21v20m1-20v20m1-20v22m1-22v21m1-21v21m1-22v20m1-19v21m1-24v23m1-23v22m1-20v21m1-20v20m1-21v21m1-22v23m1-23v24m1-24v24m1-24v22m1-20v23m1-24v24m1-28v27m1-23v21m1-20v20m1-20v24m1-23v21m1-22v20m1-19v19m1-22v22m1-20v21m1-21v20m1-21v21m1-20v20m1-22v22m1-22v23m1-23v24m1-25v24m1-21v20m1-20v20m1-20v20m1-20v21m1-21v23m1-23v22m1-22v22m1-22v22m1-22v22m1-24v23m1-23v25m1-23v21m1-22v22m1-25v23m1-22v24m1-23v22m1-25v27m1-27v26m1-21v21m1-21v21m1-23v21m1-22v29m1-26v20m1-20v19m1-21v28m1-27v25m1-26v22m1-22v22m1-20v22m1-23v23m1-21v20m1-20v18m1-19v21m1-21v21m1-21v24m1-24v23m1-23v22m1-22v21m1-21v22m1-22v22m1-22v23m1-23v20m1-20v20m1-20v20m1-19v19m1-21v22m1-21v21m1-23v22m1-22v25m1-25v24m1-24v21m1-19v21m1-21v20m1-21v21m1-21v25m1-23v19m1-21v21m1-23v24m1-24v24m1-24v24m1-21v24m1-24v27m1-33v26m1-20v20m1-22v22m1-28v28m1-20v20m1-19v19m1-20v20m1-20v20m1-22v21m1-19v20m1-22v25m1-24v23m1-23v21m1-22v28m1-27v26m1-27v23m1-23v22m1-20v20m1-20v21m1-24v23m1-22v21m1-21v22m1-22v22m1-20v20m1-20v21m1-21v21m1-23v25m1-25v25m1-23v21m1-22v22m1-21v22m1-24v24m1-23v21m1-20v29m1-33v24m1-23v25m1-23v22m1-21v19m1-19v22m1-22v21m1-21v20m1-20v22m1-22v21m1-21v20m1-20v21m1-22v21m1-20v22m1-22v23m1-25v24m1-25v25m1-23v22m1-22v23m1-23v21m1-21v21m1-22v28m1-28v22m1-23v24m1-22v24m1-23v23m1-24v20m1-19v20m1-22v25m1-23v22m1-23v23m1-23v21m1-20v20m1-20v21m1-21v21m1-21v20m1-20v20m1-28v29m1-21v20m1-20v22m1-24v24m1-22v20m1-24v24m1-20v21m1-20v21m1-24v22m1-22v22m1-22v29m1-28v21m1-20v21m1-21v22m1-22v20m1-20v20m1-25v25m1-22v22m1-21v21m1-21v20m1-20v21m1-20v25m1-25v20m1-21v21m1-20v20m1-20v20m1-20v22m1-22v26m1-26v26m1-26v23m1-23v22m1-22v20m1-20v22m1-24v22m1-23v23m1-22v21m1-19v20m1-28v31m1-23v23m1-23v22m1-23v21m1-20v22m1-24v23m1-23v22m1-21v25m1-26v25m1-25v23m1-23v23m1-21v23m1-27v26m1-26v25m1-21v21m1-22v22m1-21v20m1-20v20m1-20v23m1-23v22m1-22v20m1-22v22m1-22v21m1-19v23m1-23v22m1-23v22m1-21v20m1-26v26m1-21v21m1-24v26m1-22v22m1-24v22m1-20v20m1-22v28m1-27v21m1-20v22m1-25v25m1-23v23m1-24v24m1-22v22m1-22v21m1-21v23m1-24v21m1-20v21m1-22v21m1-26v27m1-22v23m1-22v21m1-21v20m1-20v19m1-19v21m1-21v19m1-19v20m1-20v19m1-19v20m1-19v20m1-25v24m1-24v24m1-21v21m1-21v21m1-21v21m1-21v21m1-27v27m1-22v22m1-19v20m1-25v24m1-19v23m1-24v22m1-21v21m1-22v20m1-20v20m1-21v21m1-20v20m1-20v21m1-20v19m1-20v19m1-19v20m1-21v23m1-24v24m1-23v21m1-20v22m1-23v24m1-23v23m1-24v23m1-22v20m1-20v20m1-24v24m1-20v20m1-21v21m1-20v20m1-20v20m1-20v20m1-20v20m1-20v20m1-20v20m1-22v24m1-24v23m1-20v19m1-20v22m1-21v20m1-27v26m1-24v26m1-22v21m1-24v25m1-25v25m1-25v24m1-23v22m1-21v26m1-26v25m1-24v22m1-22v21m1-22v21m1-25v26m1-24v24m1-23v22m1-21v20m1-19v20m1-20v20m1-22v22m1-21v21m1-22v23m1-21v20m1-21v21m1-23v23m1-23v28m1-28v25m1-24v25m1-24v21m1-22v25m1-23v22m1-22v20m1-20v25m1-25v25m1-26v21m1-20v20m1-20v21m1-23v23m1-22v20m1-19v21m1-23v22m1-23v23m1-22v24m1-23v22m1-30v28m1-19v20m1-20v21m1-24v23m1-20v23m1-25v22m1-20v20m1-21v21m1-21v23m1-24v23m1-22v21m1-21v24m1-25v24m1-21v20m1-21v20m1-20v23m1-24v24m1-23v20m1-20v20m1-21v21m1-20v20m1-20v21m1-21v25m1-25v22m1-22v28m1-28v22m1-22v21m1-21v22m1-22v20m1-20v25m1-25v25m1-25v21m1-21v20m1-22v22m1-20v20m1-20v20m1-20v20m1-20v21m1-22v22m1-21v22m1-28v28m1-21v23m1-26v22m1-25v25m1-20v20m1-20v20m1-20v20m1-20v22m1-22v19m1-20v20m1-19v20m1-20v20m1-23v23m1-22v22m1-20v21m1-21v22m1-24v23m1-23v25m1-23v22m1-21v20m1-24v23m1-22v23m1-21v21m1-20v19m1-20v20m1-20v20m1-20v20m1-21v21m1-20v20m1-20v20m1-22v22m1-22v21m1-19v20m1-20v19m1-19v23m1-22v19m1-21v23m1-22v21m1-21v20m1-20v24m1-24v24m1-25v24m1-24v23m1-23v22m1-23v22m1-20v21m1-23v25m1-27v27m1-25v24m1-22v20m1-20v20m1-20v20m1-20v20m1-19v19m1-20v21m1-21v22m1-24v22m1-20v21m1-23v25m1-24v21m1-20v20m1-20v21m1-25v24m1-20v20m1-21v21m1-20v20m1-23v23m1-23v24m1-23v22m1-21v21m1-20v20m1-21v20m1-23v24m1-22v22m1-22v22m1-20v23m1-23v20m1-23v27m1-27v26m1-23v19m1-20v22m1-21v22m1-26v26m1-26v26m1-22v19m1-20v21m1-21v27m1-26v20m1-20v21m1-22v22m1-22v21m1-19v19m1-20v23m1-23v20m1-20v20m1-27v27m1-20v19m1-19v22m1-29v29m1-22v22m1-25v27m1-24v24m1-26v25m1-24v21m1-20v20m1-21v23m1-22v20m1-20v20m1-21v21m1-21v21m1-20v20m1-20v20m1-20v20m1-22v28m1-28v26m1-27v23m1-20v21m1-22v22m1-23v28m1-28v26m1-25v21m1-20v19m1-19v21m1-21v22m1-22v22m1-22v19m1-21v25m1-23v22m1-22v20m1-20v20m1-22v23m1-21v21m1-21v21m1-23v22m1-20v20m1-20v20m1-20v20m1-21v21m1-22v22m1-21v21m1-22v21m1-20v24m1-23v22m1-22v20m1-21v21m1-20v21m1-21v22m1-22v22m1-22v20m1-20v20m1-24v25m1-21v22m1-26v27m1-26v23m1-19v19m1-21v22m1-23v23m1-21v21m1-22v22m1-20v20m1-21v21m1-21v21m1-23v27m1-27v21m1-19v23m1-23v20m1-23v23m1-23v27m1-26v23m1-21v20m1-20v20m1-23v24m1-22v26m1-28v27m1-27v23m1-22v22m1-20v21m1-24v23m1-22v22m1-20v22m1-24v22m1-21v21m1-20v20m1-20v23m1-24v22m1-22v21m1-20v21m1-21v20m1-21v21m1-20v21m1-22v23m1-22v22m1-22v19m1-18v19m1-22v23m1-24v24m1-21v20m1-19v20m1-23v22m1-22v23m1-24v23m1-22v23m1-22v21m1-20v21m1-22v20m1-20v23m1-23v22m1-22v21m1-20v20m1-20v20m1-23v23m1-23v22m1-19v20m1-26v28m1-25v24m1-20v19m1-22v23m1-27v27m1-21v20m1-21v21m1-20v20m1-20v22m1-22v21m1-29v29m1-22v21m1-20v21m1-22v22m1-21v20m1-20v21m1-21v22m1-23v23m1-25v23m1-23v24m1-21v21m1-23v24m1-24v22m1-21v21m1-20v20m1-22v22m1-20v23m1-23v20m1-19v19m1-20v21m1-22v20m1-19v21m1-24v24m1-23v24m1-22v21m1-21v20m1-19v20m1-21v24m1-24v24m1-28v24m1-24v25m1-24v23m1-20v20m1-20v21m1-21v22m1-22v20m1-20v20m1-20v20m1-26v27m1-21v22m1-24v24m1-22v20m1-20v20m1-22v25m1-23v22m1-21v20m1-25v25m1-24v23m1-25v27m1-22v21m1-27v27m1-25v25m1-22v22m1-22v23m1-27v25m1-21v21m1-20v28m1-28v23m1-23v22m1-23v22m1-21v20m1-20v21m1-24v24m1-23v24m1-22v21m1-21v20m1-21v21m1-21v24m1-22v22m1-24v23m1-22v20m1-20v20m1-25v26m1-23v22m1-20v20m1-22v22m1-19v19m1-20v20m1-20v20m1-19v19m1-20v20m1-21v21m1-20v20m1-20v20m1-20v22m1-22v21m1-20v24m1-26v24m1-26v23m1-23v24m1-54v56m1-55v55m1-23v21m1-21v20m1-24v25m1-25v25m1-24v23m1-26v26m1-20v20m1-19v19m1-22v22m1-22v25m1-24v24m1-23v24m1-24v23m1-23v20m1-20v23m1-25v27m1-27v25m1-24v24m1-25v23m1-24v23m1-20v21m1-22v20m1-22v24m1-23v25m1-27v24m1-22v22m1-20v20m1-23v23m1-22v23m1-21v19m1-22v23m1-21v21m1-21v23m1-23v23m1-23v22m1-21v21m1-21v20m1-23v25m1-25v25m1-22v19m1-21v22m1-21v21m1-22v22m1-22v22m1-23v25m1-22v20m1-21v21m1-19v19m1-21v21m1-20v20m1-21v22m1-21v24m1-23v19m1-22v22m1-22v23m1-20v20m1-22v21m1-20v20m1-20v20m1-21v21m1-21v21m1-20v20m1-20v20m1-20v22m1-22v20m1-21v24m1-22v24m1-27v24m1-22v20m1-20v20m1-21v21m1-21v21m1-19v18m1-19v20m1-20v21m1-21v22m1-22v22m1-24v24m1-25v25m1-22v20m1-20v20m1-20v23m1-23v22m1-22v20m1-20v26m1-27v26m1-27v22m1-20v22m1-23v22m1-22v21m1-22v22m1-22v23m1-21v20m1-20v24m1-30v27m1-20v19m1-22v26m1-25v24m1-23v21m1-23v22m1-22v22m1-21v23m1-25v26m1-27v37m1-60v59m1-57v58m1-36v35m1-36v37m1-37v37m1-37v35m1-33v22m1-22v22m1-21v21m1-20v22m1-22v21m1-23v23m1-22v21m1-43v49m1-48v48m1-49v49m1-27v21m1-24v24m1-23v26m1-24v24m1-32v38m1-30v22m1-22v22m1-38v52m1-50v48m1-36v23m1-23v29m1-26v20m1-20v20m1-20v20m1-20v22m1-22v22m1-23v21m1-21v21m1-20v22m1-25v25m1-23v23m1-23v22m1-23v24m1-22v20m1-20v20m1-20v20m1-22v22m1-20v20m1-24v23m1-22v24m1-21v21m1-22v22m1-22v22m1-23v23m1-23v22m1-21v23m1-24v22m1-20v20m1-20v20m1-20v20m1-20v20m1-20v22m1-24v24m1-21v20m1-21v26m1-29v24m1-25v25m1-23v25m1-27v24m1-23v23m1-21v21m1-21v22m1-21v21m1-21v21m1-28v27m1-21v25m1-24v22m1-24v22m1-22v22m1-20v27m1-29v23m1-24v23m1-20v20m1-21v21m1-21v21m1-21v24m1-25v24m1-23v21m1-21v21m1-20v20m1-21v21m1-20v20m1-22v22m1-21v21m1-22v23m1-21v20m1-21v23m1-22v21m1-20v23m1-25v25m1-25v24m1-23v21m1-27v27m1-21v22m1-25v25m1-22v19m1-20v21m1-20v20m1-24v26m1-24v21m1-19v21m1-27v25m1-20v21m1-20v20m1-23v25m1-25v26m1-25v27m1-26v23m1-24v24m1-23v21m1-20v20m1-20v20m1-20v23m1-26v24m1-23v22m1-22v22m1-21v21m1-22v22m1-19v18m1-20v21m1-21v21m1-21v21m1-21v21m1-21v21m1-20v26m1-26v26m1-25v22m1-25v25m1-24v21m1-21v21m1-20v22m1-23v22m1-23v22m1-23v24m1-21v21m1-26v27m1-26v24m1-20v20m1-20v20m1-20v20m1-19v19m1-22v29m1-28v21m1-21v21m1-22v28m1-27v31m1-31v22m1-24v23m1-23v24m1-21v20m1-20v26m1-26v20m1-21v21m1-20v21m1-66v65m1-63v69m1-26v25m1-45v55m1-38v27m1-36v34m1-34v32m1-21v20m1-18v20m1-21v20m1-21v22m1-21v21m1-22v24m1-35v42m1-32v25m1-24v23m1-25v24m1-23v22m1-22v27m1-26v21m1-20v23m1-24v22m1-21v20m1-22v22m1-21v21m1-21v23m1-26v26m1-27v25m1-20v20m1-25v25m1-25v25m1-23v25m1-22v24m1-24v23m1-23v21m1-24v25m1-22v21m1-21v22m1-22v21m1-21v22m1-23v36m1-36v24m1-24v21m1-23v25m1-24v23m1-21v21m1-21v20m1-21v21m1-20v22m1-22v19m1-18v19m1-21v21m1-22v23m1-21v21m1-21v23m1-25v22m1-21v21m1-20v20m1-21v21m1-20v21m1-22v21m1-21v24m1-23v23m1-23v19m1-19v22m1-24v22m1-22v24m1-22v20m1-20v20m1-19v19m1-19v19m1-23v24m1-24v25m1-23v20m1-19v21m1-24v25m1-27v25m1-22v24m1-22v22m1-21v19m1-20v20m1-20v19m1-19v21m1-20v19m1-20v20m1-25v25m1-23v23m1-20v21"/>
<path transform="translate(230.40 782.60) scale(1 0.25)" stroke="#0000ff" d="M0 -10v22m1-22v26m1-27v21m1-20v20m1-20v20m1-20v20m1-20v20m1-20v23m1-23v22m1-22v20m1-20v27m1-27v21m1-20v19m1-27v30m1-23v22m1-25v23m1-24v24m1-21v21m1-20v20m1-21v21m1-20v20m1-22v25m1-24v23m1-22v20m1-26v26m1-24v24m1-22v22m1-20v20m1-21v22m1-22v21m1-21v21m1-21v21m1-19v21m1-21v19m1-22v22m1-21v23m1-23v21m1-20v20m1-21v22m1-20v18m1-19v20m1-20v20m1-21v22m1-22v21m1-27v27m1-20v20m1-24v24m1-23v23m1-21v20m1-21v23m1-23v24m1-23v21m1-22v22m1-22v22m1-22v22m1-22v23m1-21v21m1-21v20m1-20v20m1-20v20m1-21v21m1-22v21m1-19v20m1-21v21m1-20v20m1-21v21m1-21v22m1-22v24m1-23v20m1-23v23m1-20v20m1-20v21m1-23v24m1-23v21m1-21v21m1-22v22m1-21v27m1-26v22m1-25v25m1-26v24m1-21v23m1-22v21m1-21v21m1-21v20m1-20v20m1-19v20m1-26v26m1-22v22m1-21v20m1-19v19m1-20v20m1-22v22m1-22v22m1-21v21m1-21v23m1-24v24m1-28v26m1-24v25m1-21v21m1-21v19m1-19v21m1-22v21m1-20v20m1-20v21m1-21v20m1-21v21m1-20v20m1-19v19m1-20v20m1-21v21m1-21v21m1-22v26m1-34v33m1-32v31m1-25v24m1-23v24m1-22v22m1-23v23m1-23v22m1-22v21m1-21v21m1-21v22m1-22v22m1-21v22m1-24v22m1-21v21m1-21v21m1-20v20m1-20v20m1-20v20m1-21v21m1-20v20m1-19v23m1-24v23m1-25v24m1-24v22m1-23v24m1-23v22m1-21v21m1-20v20m1-22v38m1-39v25m1-24v23m1-24v26m1-26v26m1-24v21m1-20v20m1-21v22m1-21v25m1-25v26m1-26v20m1-22v22m1-24v23m1-22v23m1-20v19m1-19v20m1-20v20m1-21v22m1-22v22m1-21v20m1-21v23m1-23v20m1-25v27m1-22v21m1-23v23m1-23v23m1-20v20m1-22v25m1-24v21m1-21v21m1-21v21m1-21v21m1-20v20m1-20v22m1-24v22m1-20v20m1-21v21m1-22v23m1-21v23m1-26v26m1-25v22m1-20v20m1-21v21m1-20v20m1-20v20m1-20v20m1-19v19m1-20v20m1-22v22m1-21v22m1-23v23m1-22v21m1-20v20m1-20v21m1-21v22m1-25v25m1-25v24m1-23v22m1-19v18m1-20v22m1-21v21m1-21v20m1-19v20m1-20v19m1-22v22m1-22v24m1-24v24m1-26v25m1-21v21m1-21v22m1-22v22m1-22v21m1-21v22m1-27v26m1-25v24m1-19v18m1-21v22m1-21v21m1-22v22m1-22v22m1-20v21m1-21v23m1-23v23m1-24v21m1-21v21m1-21v21m1-27v33m1-26v26m1-26v22m1-22v20m1-20v20m1-19v19m1-20v22m1-22v23m1-24v23m1-23v21m1-20v20m1-20v20m1-20v22m1-23v20m1-19v20m1-21v21m1-21v22m1-23v25m1-27v25m1-24v24m1-21v20m1-21v21m1-20v21m1-22v26m1-25v21m1-22v22m1-22v23m1-23v21m1-20v20m1-23v23m1-22v22m1-25v30m1-27v31m1-32v25m1-25v32m1-32v27m1-31v36m1-37v32m1-27v29m1-29v31m1-38v38m1-35v36m1-35v29m1-24v26m1-28v30m1-37v33m1-33v39m1-34v28m1-29v29m1-31v30m1-28v32m1-36v37m1-36v32m1-27v26m1-26v31m1-27v20m1-20v20m1-26v27m1-26v26m1-22v21m1-21v25m1-23v23m1-29v28m1-23v23m1-24v20m1-20v24m1-24v24m1-27v24m1-20v22m1-24v22m1-20v20m1-23v25m1-24v25m1-26v23m1-20v22m1-22v22m1-23v22m1-22v22m1-24v23m1-22v22m1-20v20m1-21v27m1-28v26m1-26v23m1-22v22m1-21v20m1-20v20m1-20v22m1-22v21m1-23v23m1-22v21m1-20v20m1-20v20m1-23v23m1-22v22m1-21v22m1-22v24m1-25v25m1-26v25m1-22v21m1-24v23m1-22v22m1-20v19m1-19v22m1-22v27m1-27v24m1-27v27m1-26v22m1-26v28m1-30v33m1-25v20m1-20v20m1-20v20m1-20v20m1-22v22m1-20v20m1-22v22m1-21v23m1-23v23m1-22v22m1-22v22m1-26v26m1-25v23m1-20v22m1-22v20m1-22v22m1-20v21m1-21v25m1-25v19m1-21v22m1-26v34m1-29v22m1-21v20m1-20v20m1-21v22m1-21v21m1-22v20m1-19v22m1-22v22m1-22v20m1-20v20m1-20v20m1-23v25m1-24v24m1-24v22m1-20v20m1-20v21m1-21v21m1-21v20m1-20v20m1-20v22m1-22v19m1-19v20m1-20v21m1-25v26m1-21v19m1-19v22m1-24v23m1-22v22m1-24v23m1-22v21m1-21v21m1-20v21m1-21v23m1-22v19m1-20v20m1-20v20m1-20v20m1-20v20m1-20v24m1-24v24m1-24v22m1-22v19m1-20v21m1-20v20m1-25v25m1-22v22m1-22v22m1-21v21m1-20v22m1-22v21m1-21v20m1-20v21m1-24v23m1-22v22m1-23v26m1-24v23m1-22v21m1-21v24m1-25v24m1-23v20m1-29v29m1-20v22m1-22v21m1-21v20m1-22v22m1-20v21m1-21v21m1-22v21m1-20v23m1-25v23m1-29v28m1-20v19m1-21v22m1-23v23m1-20v20m1-20v20m1-20v20m1-20v26m1-26v23m1-24v22m1-21v20m1-22v24m1-24v23m1-23v23m1-21v21m1-25v24m1-24v24m1-21v23m1-22v20m1-20v21m1-21v22m1-22v23m1-23v21m1-22v22m1-22v22m1-24v25m1-22v23m1-27v31m1-29v23m1-21v21m1-21v21m1-22v21m1-21v21m1-20v22m1-24v24m1-24v22m1-22v23m1-24v23m1-22v22m1-20v28m1-29v23m1-24v22m1-20v22m1-23v23m1-22v20m1-24v26m1-25v25m1-23v22m1-24v23m1-20v20m1-23v23m1-20v20m1-21v23m1-22v21m1-21v22m1-22v20m1-25v26m1-20v19m1-21v21m1-21v22m1-21v20m1-24v24m1-20v20m1-19v19m1-23v28m1-25v24m1-24v20m1-20v21m1-21v20m1-22v23m1-23v25m1-22v21m1-23v21m1-26v26m1-20v20m1-24v24m1-22v24m1-23v22m1-21v20m1-22v23m1-22v21m1-20v21m1-24v24m1-24v23m1-23v23m1-20v20m1-20v20m1-21v21m1-24v25m1-21v21m1-23v22m1-21v21m1-21v23m1-22v22m1-22v20m1-20v20m1-20v24m1-24v22m1-30v28m1-26v30m1-24v20m1-20v20m1-20v20m1-20v21m1-21v20m1-20v19m1-19v21m1-24v23m1-22v22m1-21v21m1-20v19m1-21v22m1-22v22m1-20v21m1-22v25m1-25v23m1-22v20m1-22v23m1-25v26m1-23v21m1-22v24m1-23v22m1-23v24m1-22v23m1-24v23m1-26v24m1-22v22m1-20v20m1-19v19m1-22v22m1-20v21m1-23v23m1-22v22m1-23v23m1-20v19m1-20v20m1-20v20m1-22v24m1-24v23m1-22v22m1-21v21m1-22v21m1-21v23m1-23v22m1-23v22m1-20v21m1-21v22m1-24v24m1-23v21m1-21v25m1-24v24m1-24v22m1-22v22m1-24v26m1-24v24m1-24v26m1-29v27m1-27v26m1-25v24m1-25v23m1-22v23m1-21v23m1-24v21m1-20v20m1-20v20m1-24v25m1-22v22m1-22v23m1-22v20m1-20v25m1-25v20m1-21v21m1-24v26m1-26v27m1-23v23m1-23v21m1-23v22m1-24v28m1-27v27m1-27v23m1-21v21m1-22v23m1-21v23m1-24v23m1-27v26m1-25v24m1-20v20m1-20v22m1-22v22m1-24v22m1-20v19m1-19v22m1-22v23m1-23v22m1-22v20m1-20v20m1-19v19m1-20v19m1-20v21m1-21v23m1-23v22m1-22v21m1-21v24m1-23v20m1-22v22m1-20v20m1-25v27m1-26v24m1-21v21m1-29v28m1-19v22m1-22v22m1-22v21m1-21v23m1-25v24m1-24v22m1-29v32m1-25v25m1-24v21m1-22v22m1-22v22m1-20v21m1-21v20m1-20v21m1-21v21m1-21v20m1-22v22m1-20v22m1-48v62m1-61v60m1-35v19m1-19v22m1-25v25m1-36v34m1-22v42m1-40v23m1-25v26m1-25v21m1-20v22m1-24v21m1-19v22m1-22v20m1-20v22m1-21v21m1-24v28m1-28v28m1-28v24m1-23v22m1-21v20m1-21v21m1-20v20m1-20v20m1-22v22m1-21v21m1-20v20m1-21v22m1-22v22m1-23v22m1-22v29m1-30v24m1-23v24m1-22v20m1-21v24m1-24v24m1-23v23m1-23v23m1-23v23m1-23v22m1-25v27m1-25v22m1-21v19m1-19v20m1-22v22m1-25v25m1-25v25m1-20v21m1-21v23m1-23v25m1-26v25m1-28v28m1-24v22m1-21v21m1-25v26m1-25v24m1-22v21m1-21v21m1-21v21m1-21v19m1-19v20m1-23v25m1-24v24m1-22v21m1-23v22m1-20v20m1-20v20m1-22v21m1-19v20m1-20v21m1-20v19m1-23v23m1-20v20m1-21v23m1-23v23m1-22v20m1-20v20m1-20v20m1-20v20m1-20v34m1-35v24m1-23v25m1-27v24m1-23v22m1-27v25m1-24v26m1-22v23m1-25v25m1-24v22m1-20v20m1-20v20m1-19v19m1-20v22m1-22v20m1-20v20m1-20v20m1-20v21m1-21v21m1-25v26m1-23v23m1-23v21m1-22v22m1-21v21m1-26v26m1-20v24m1-24v23m1-23v20m1-21v21m1-30v36m1-36v39m1-31v25m1-34v40m1-39v37m1-29v29m1-38v32m1-25v32m1-31v32m1-36v29m1-26v31m1-29v29m1-30v25m1-26v27m1-26v32m1-36v28m1-29v37m1-38v34m1-28v30m1-37v39m1-36v30m1-27v29m1-32v31m1-33v31m1-29v30m1-25v22m1-20v25m1-25v25m1-25v20m1-20v22m1-22v22m1-22v22m1-25v23m1-22v22m1-25v25m1-24v24m1-20v20m1-20v22m1-22v20m1-20v20m1-20v20m1-21v21m1-20v21m1-20v20m1-25v24m1-24v24m1-20v19m1-19v25m1-28v27m1-24v20m1-20v20m1-20v20m1-22v22m1-20v23m1-24v24m1-24v21m1-21v23m1-25v24m1-22v23m1-24v23m1-23v23m1-20v20m1-21v20m1-23v23m1-23v25m1-25v25m1-25v24m1-21v20m1-20v20m1-20v20m1-20v24m1-27v27m1-27v23m1-20v22m1-22v22m1-22v20m1-20v21m1-29v28m1-21v21m1-20v20m1-23v24m1-23v24m1-24v25m1-23v20m1-24v26m1-23v23m1-23v21m1-24v25m1-24v25m1-22v22m1-23v21m1-22v21m1-21v26m1-24v22m1-22v22m1-22v21m1-21v19m1-19v19m1-19v20m1-21v25m1-23v21m1-22v21m1-20v20m1-20v20m1-28v29m1-22v20m1-20v20m1-21v23m1-23v23m1-24v24m1-24v23m1-21v20m1-20v22m1-22v21m1-23v22m1-21v21m1-20v21m1-21v22m1-27v26m1-21v21m1-22v21m1-25v24m1-37v48m1-47v46m1-31v23m1-21v21m1-21v21m1-21v20m1-20v20m1-21v21m1-21v21m1-22v22m1-20v22m1-22v21m1-21v20m1-20v20m1-22v23m1-22v23m1-22v23m1-23v22m1-21v19m1-21v25m1-25v25m1-24v20m1-20v20m1-20v20m1-20v20m1-20v21m1-23v22m1-19v19m1-20v24m1-24v20m1-23v22m1-18v21m1-23v22m1-22v21m1-20v20m1-20v20m1-20v21m1-21v21m1-22v22m1-21v22m1-23v21m1-21v21m1-20v20m1-20v22m1-21v24m1-25v23m1-23v22m1-22v21m1-21v20m1-20v20m1-20v20m1-20v20m1-20v21m1-25v26m1-25v23m1-20v20m1-21v21m1-20v21m1-21v20m1-20v23m1-23v22m1-21v19m1-21v21m1-21v21m1-19v19m1-20v20m1-20v21m1-21v21m1-21v21m1-20v20m1-21v20m1-24v25m1-21v22m1-22v22m1-22v21m1-21v20m1-21v22m1-21v21m1-23v24m1-24v21m1-18v19m1-20v20m1-20v20m1-20v24m1-26v24m1-22v22m1-22v20m1-20v20m1-22v22m1-22v22m1-21v21m1-28v28m1-19v19m1-20v20m1-20v26m1-26v26m1-29v23m1-20v21m1-21v21m1-20v18m1-19v20m1-20v21m1-20v22m1-23v24m1-24v21m1-23v23m1-21v21m1-20v20m1-21v19m1-19v20m1-22v24m1-22v21m1-22v21m1-21v23m1-25v22m1-19v23m1-23v22m1-22v21m1-21v20m1-20v20m1-23v23m1-22v22m1-21v22m1-21v20m1-19v19m1-20v20m1-20v20m1-20v20m1-22v22m1-21v23m1-23v22m1-22v23m1-24v22m1-21v21m1-20v20m1-20v20m1-21v21m1-19v20m1-21v24m1-24v23m1-26v23m1-23v24m1-27v26m1-24v24m1-23v23m1-22v22m1-21v21m1-20v22m1-25v23m1-22v24m1-22v20m1-22v22m1-23v23m1-23v23m1-20v22m1-24v25m1-25v24m1-25v23m1-22v23m1-22v21m1-20v20m1-20v20m1-21v21m1-21v21m1-20v21m1-21v21m1-23v25m1-25v25m1-25v22m1-20v20m1-20v24m1-24v23m1-23v23m1-23v23m1-27v31m1-32v26m1-30v34m1-33v30m1-30v30m1-32v33m1-29v32m1-33v30m1-30v36m1-32v28m1-32v34m1-31v29m1-33v38m1-33v27m1-29v33m1-33v28m1-30v35m1-30v26m1-29v32m1-31v33m1-34v28m1-25v27m1-30v34m1-38v37m1-38v33m1-30v31m1-26v25m1-27v24m1-23v23m1-26v26m1-22v22m1-21v21m1-21v23m1-24v23m1-23v22m1-20v21m1-24v27m1-27v27m1-25v21m1-20v20m1-20v22m1-25v24m1-23v24m1-26v26m1-25v25m1-22v20m1-20v20m1-24v24m1-23v25m1-24v21m1-21v22m1-22v23m1-21v21m1-21v21m1-21v22m1-24v24m1-22v20m1-20v20m1-21v25m1-25v21m1-20v20m1-20v20m1-20v20m1-21v21m1-20v20m1-22v22m1-20v19m1-19v20m1-20v20m1-23v23m1-22v24m1-23v23m1-23v21m1-22v22m1-21v21m1-21v24m1-25v25m1-24v22m1-24v23m1-22v22m1-23v25m1-27v27m1-23v22m1-22v21m1-20v20m1-20v20m1-23v24m1-23v23m1-21v21m1-21v22m1-24v22m1-20v23m1-23v22m1-29v27m1-19v19m1-22v25m1-22v21m1-25v23m1-22v21m1-23v24m1-24v24m1-22v23m1-23v24m1-24v22m1-22v22m1-21v21m1-22v22m1-20v23m1-23v22m1-22v22m1-23v26m1-24v23m1-24v21m1-23v22m1-19v19m1-20v20m1-21v21m1-21v21m1-21v23m1-22v20m1-20v21m1-25v26m1-25v26m1-25v23m1-23v22m1-21v23m1-22v23m1-23v22m1-22v23m1-24v23m1-23v24m1-23v22m1-22v21m1-20v19m1-24v28m1-26v22m1-26v28m1-22v20m1-20v22m1-22v20m1-22v22m1-21v24m1-23v20m1-21v21m1-22v22m1-22v22m1-23v23m1-22v24m1-23v22m1-24v23m1-21v21m1-21v22m1-21v22m1-22v21m1-23v26m1-24v22m1-22v22m1-24v22m1-21v25m1-25v25m1-24v20m1-20v22m1-23v22m1-21v20m1-21v23m1-23v21m1-21v21m1-21v23m1-23v23m1-22v20m1-21v21m1-20v20m1-20v20m1-20v20m1-20v19m1-28v31m1-22v20m1-20v28m1-28v20m1-22v22m1-20v25m1-27v23m1-22v22m1-22v21m1-22v22m1-20v22m1-22v20m1-20v20m1-20v21m1-21v24m1-24v23m1-23v20m1-21v21m1-21v20m1-20v23m1-24v23m1-21v20m1-20v21m1-23v24m1-25v24m1-21v19m1-19v21m1-20v21m1-22v22m1-22v20m1-20v19m1-19v20m1-22v23m1-24v23m1-24v25m1-24v23m1-21v21m1-21v23m1-24v23m1-22v21m1-21v21m1-20v22m1-22v20m1-20v20m1-20v23m1-23v23m1-23v20m1-21v20m1-20v20m1-19v22m1-22v20m1-23v22m1-20v22m1-20v21m1-22v20m1-21v21m1-20v20m1-23v23m1-22v22m1-26v26m1-24v24m1-20v20m1-20v23m1-22v21m1-24v21m1-20v21m1-20v21m1-24v28m1-25v20m1-20v22m1-22v21m1-21v21m1-21v20m1-20v20m1-20v19m1-19v20m1-21v22m1-23v21m1-20v22m1-27v26m1-20v19m1-20v21m1-21v21m1-20v20m1-21v23m1-24v24m1-23v21m1-20v20m1-21v21m1-21v21m1-21v21m1-20v22m1-22v22m1-24v22m1-22v22m1-20v20m1-20v20m1-20v21m1-21v19m1-20v28m1-27v20m1-27v27m1-21v21m1-23v23m1-20v20m1-23v23m1-22v23m1-21v21m1-23v22m1-21v21m1-20v22m1-22v21m1-21v20m1-23v22m1-22v23m1-20v20m1-22v22m1-20v20m1-20v21m1-21v20m1-22v22m1-26v27m1-25v24m1-19v19m1-20v20m1-20v19m1-20v21m1-20v21m1-26v27m1-25v24m1-21v22m1-22v22m1-23v20m1-20v21m1-21v21m1-23v24m1-22v21m1-20v27m1-27v20m1-20v22m1-23v22m1-23v25m1-28v27m1-27v26m1-21v20m1-22v22m1-21v23m1-22v20m1-21v24m1-23v20m1-21v23m1-23v23m1-30v31m1-24v23m1-22v20m1-19v23m1-24v22m1-23v22m1-21v21m1-21v20m1-20v20m1-20v20m1-20v20m1-21v21m1-22v22m1-22v23m1-21v22m1-24v22m1-22v24m1-23v23m1-25v23m1-22v24m1-25v23m1-24v25m1-24v24m1-23v21m1-20v21m1-21v22m1-22v23m1-24v22m1-21v21m1-20v20m1-20v20m1-20v20m1-20v20m1-22v22m1-21v21m1-23v24m1-22v21m1-22v25m1-25v25m1-24v21m1-21v21m1-21v21m1-25v24m1-19v20m1-22v22m1-23v24m1-23v23m1-22v23m1-24v23m1-20v24m1-26v25m1-25v20m1-19v20m1-21v21m1-21v21m1-22v23m1-21v21m1-21v21m1-21v21m1-20v20m1-21v22m1-22v22m1-22v20m1-22v23m1-23v23m1-22v25m1-26v25m1-25v22m1-24v24m1-23v23m1-22v22m1-22v21m1-19v23m1-23v23"/>
<path transform="translate(230.40 820.31) scale(1 0.25)" stroke="#008000" d="M0 -10v21m1-21v21m1-22v21m1-21v21m1-20v20m1-20v20m1-21v20m1-19v19m1-18v21m1-23v26m1-26v23m1-23v22m1-21v21m1-21v20m1-20v20m1-20v20m1-20v21m1-23v23m1-24v29m1-29v23m1-20v20m1-20v20m1-20v21m1-21v19m1-20v21m1-22v22m1-22v23m1-23v23m1-22v25m1-26v25m1-26v25m1-22v20m1-20v20m1-21v22m1-22v22m1-22v21m1-20v22m1-22v21m1-21v20m1-21v23m1-22v21m1-24v23m1-20v21m1-21v20m1-23v24m1-21v20m1-21v21m1-20v20m1-20v21m1-21v20m1-20v20m1-22v22m1-19v19m1-20v20m1-20v20m1-20v20m1-21v22m1-21v21m1-23v24m1-41v42m1-41v38m1-22v24m1-23v21m1-20v23m1-23v21m1-21v22m1-24v22m1-22v22m1-22v22m1-20v24m1-24v21m1-22v23m1-25v24m1-22v21m1-20v23m1-23v19m1-19v20m1-22v22m1-24v37m1-35v24m1-22v19m1-20v21m1-20v19m1-19v20m1-21v21m1-21v21m1-21v22m1-21v24m1-24v22m1-23v23m1-23v21m1-21v20m1-19v20m1-20v21m1-21v22m1-22v20m1-23v30m1-29v22m1-22v25m1-24v22m1-21v20m1-21v20m1-20v21m1-26v26m1-20v20m1-26v26m1-20v23m1-23v23m1-23v23m1-24v21m1-21v20m1-18v19m1-20v20m1-24v24m1-23v23m1-20v20m1-20v20m1-20v22m1-21v20m1-21v20m1-20v19m1-20v21m1-20v23m1-23v20m1-20v20m1-22v23m1-21v21m1-22v21m1-20v20m1-26v26m1-27v27m1-20v19m1-20v21m1-23v23m1-25v25m1-20v21m1-21v20m1-20v20m1-20v20m1-20v19m1-19v21m1-23v22m1-45v77m1-77v72m1-72v70m1-70v64m1-54v63m1-50v26m1-27v51m1-50v26m1-24v23m1-23v22m1-45v59m1-58v57m1-34v19m1-23v23m1-20v21m1-22v21m1-20v19m1-20v22m1-30v30m1-57v77m1-77v76m1-47v47m1-48v49m1-47v40m1-42v42m1-65v65m1-63v62m1-34v22m1-22v21m1-20v26m1-26v20m1-20v21m1-22v24m1-26v26m1-24v22m1-21v24m1-24v20m1-26v31m1-25v20m1-21v21m1-23v23m1-22v23m1-21v21m1-27v26m1-25v31m1-29v28m1-26v23m1-24v28m1-28v26m1-24v26m1-26v20m1-20v20m1-20v20m1-20v20m1-23v24m1-23v22m1-19v21m1-23v22m1-22v24m1-23v24m1-24v21m1-21v22m1-22v20m1-23v23m1-21v23m1-22v21m1-21v21m1-21v20m1-22v22m1-20v20m1-21v22m1-21v21m1-21v20m1-22v22m1-22v23m1-25v24m1-20v20m1-20v19m1-21v22m1-20v20m1-22v22m1-22v22m1-21v21m1-19v21m1-22v22m1-24v22m1-20v24m1-24v20m1-20v21m1-24v24m1-21v20m1-21v21m1-21v21m1-19v19m1-20v19m1-19v20m1-21v22m1-21v20m1-25v27m1-28v28m1-24v22m1-20v20m1-19v22m1-23v23m1-23v22m1-24v24m1-25v24m1-21v21m1-21v20m1-20v19m1-18v22m1-23v22m1-23v20m1-21v23m1-23v23m1-21v19m1-18v19m1-20v23m1-24v24m1-25v24m1-23v21m1-20v20m1-20v21m1-21v21m1-21v20m1-22v26m1-26v25m1-28v25m1-19v19m1-20v20m1-20v23m1-23v26m1-31v30m1-28v22m1-21v23m1-23v23m1-24v23m1-20v21m1-24v24m1-23v22m1-20v20m1-19v19m1-22v26m1-27v25m1-21v21m1-23v22m1-23v21m1-19v22m1-23v23m1-24v22m1-21v21m1-21v21m1-22v22m1-20v20m1-21v21m1-21v21m1-22v28m1-27v21m1-20v20m1-21v21m1-22v22m1-22v25m1-25v25m1-23v21m1-22v21m1-20v20m1-20v21m1-23v22m1-22v22m1-22v22m1-20v20m1-20v22m1-22v20m1-22v24m1-24v22m1-22v22m1-21v22m1-21v20m1-31v30m1-21v24m1-23v21m1-20v20m1-23v23m1-22v23m1-21v21m1-21v20m1-19v18m1-19v20m1-20v20m1-19v19m1-21v22m1-23v22m1-20v23m1-23v22m1-23v21m1-20v20m1-21v21m1-20v21m1-22v23m1-22v22m1-23v23m1-22v22m1-22v22m1-22v20m1-20v20m1-19v19m1-21v22m1-21v21m1-29v28m1-21v22m1-24v24m1-26v25m1-23v25m1-24v23m1-22v23m1-27v26m1-26v25m1-25v26m1-21v22m1-22v20m1-20v22m1-22v22m1-23v23m1-23v23m1-22v23m1-23v23m1-23v23m1-23v23m1-23v19m1-19v20m1-20v20m1-20v20m1-20v20m1-26v26m1-24v24m1-20v19m1-22v23m1-22v21m1-19v20m1-20v22m1-23v22m1-29v34m1-26v23m1-23v20m1-20v20m1-20v20m1-21v21m1-20v20m1-21v21m1-22v22m1-22v22m1-21v21m1-20v22m1-24v22m1-22v22m1-21v23m1-24v22m1-20v20m1-20v20m1-25v27m1-22v21m1-21v21m1-24v26m1-23v22m1-22v20m1-22v22m1-21v21m1-20v21m1-20v19m1-22v22m1-21v21m1-20v20m1-21v22m1-24v23m1-20v21m1-21v20m1-20v21m1-21v20m1-20v19m1-19v20m1-20v20m1-20v20m1-23v23m1-22v25m1-23v22m1-24v23m1-21v20m1-20v23m1-23v22m1-23v22m1-21v20m1-28v29m1-22v21m1-20v20m1-20v20m1-20v20m1-20v21m1-21v20m1-20v21m1-21v22m1-22v19m1-19v20m1-20v22m1-25v27m1-26v23m1-21v20m1-22v28m1-26v24m1-25v26m1-26v25m1-25v22m1-23v26m1-25v24m1-25v23m1-24v28m1-25v22m1-21v19m1-20v20m1-20v21m1-21v24m1-24v26m1-30v28m1-24v23m1-23v22m1-22v21m1-20v19m1-20v20m1-21v24m1-23v22m1-22v19m1-19v21m1-22v23m1-22v22m1-22v21m1-22v21m1-23v23m1-21v23m1-23v22m1-21v20m1-22v27m1-25v20m1-22v22m1-22v22m1-21v21m1-22v22m1-20v22m1-22v20m1-23v23m1-23v23m1-19v21m1-22v21m1-22v21m1-20v20m1-20v22m1-24v24m1-24v25m1-22v19m1-20v21m1-22v21m1-23v25m1-24v23m1-24v25m1-25v24m1-22v21m1-20v23m1-27v26m1-25v23m1-20v20m1-20v20m1-24v24m1-20v21m1-22v23m1-24v28m1-27v25m1-24v20m1-20v20m1-20v20m1-20v22m1-22v23m1-23v23m1-23v20m1-20v21m1-22v21m1-20v20m1-20v19m1-19v25m1-26v21m1-23v24m1-24v24m1-22v22m1-21v27m1-28v21m1-22v22m1-22v22m1-20v20m1-20v20m1-21v21m1-23v25m1-22v21m1-22v23m1-27v27m1-22v23m1-23v22m1-25v25m1-25v26m1-23v23m1-32v32m1-25v24m1-24v22m1-21v21m1-23v23m1-21v21m1-22v22m1-23v24m1-22v23m1-22v22m1-22v21m1-21v21m1-21v20m1-20v20m1-21v21m1-22v22m1-22v22m1-22v22m1-20v20m1-20v20m1-20v20m1-21v21m1-21v21m1-24v26m1-25v25m1-24v24m1-22v20m1-20v20m1-22v22m1-21v22m1-23v28m1-27v22m1-21v20m1-22v22m1-20v20m1-20v20m1-20v20m1-20v20m1-21v21m1-20v23m1-24v23m1-26v24m1-23v25m1-23v22m1-21v21m1-21v21m1-21v20m1-21v20m1-19v22m1-22v22m1-23v21m1-20v22m1-22v22m1-22v22m1-22v23m1-23v22m1-21v19m1-22v22m1-22v22m1-20v20m1-19v19m1-22v23m1-22v21m1-20v20m1-20v20m1-20v20m1-20v22m1-22v21m1-22v21m1-21v21m1-22v23m1-22v22m1-22v21m1-28v29m1-22v22m1-21v20m1-24v24m1-22v23m1-23v23m1-21v20m1-20v20m1-20v19m1-19v20m1-20v20m1-20v23m1-24v23m1-24v24m1-24v25m1-27v27m1-23v20m1-20v20m1-20v26m1-26v20m1-20v20m1-20v20m1-20v20m1-20v22m1-25v25m1-24v24m1-25v23m1-21v22m1-21v22m1-22v20m1-20v20m1-20v19m1-21v22m1-20v20m1-21v21m1-21v21m1-20v20m1-23v24m1-23v22m1-20v22m1-23v21m1-20v20m1-20v20m1-20v20m1-21v23m1-23v22m1-23v23m1-23v28m1-29v28m1-27v23m1-21v20m1-20v20m1-19v19m1-20v19m1-19v20m1-20v20m1-20v20m1-19v19m1-20v22m1-23v20m1-20v20m1-21v23m1-23v24m1-23v23m1-21v26m1-27v23m1-23v23m1-26v22m1-19v20m1-20v20m1-20v20m1-20v20m1-20v19m1-19v23m1-24v24m1-23v21m1-21v23m1-24v23m1-25v24m1-23v22m1-20v19m1-19v22m1-22v22m1-22v20m1-20v20m1-20v19m1-19v22m1-24v21m1-21v22m1-23v24m1-23v23m1-21v23m1-23v22m1-22v21m1-21v19m1-19v20m1-20v20m1-20v20m1-20v20m1-22v22m1-21v21m1-22v22m1-23v22m1-19v20m1-22v22m1-22v22m1-20v20m1-20v21m1-21v20m1-20v20m1-26v26m1-20v22m1-24v25m1-29v29m1-28v26m1-21v20m1-20v21m1-22v21m1-19v20m1-22v21m1-22v22m1-20v22m1-22v22m1-22v22m1-22v21m1-20v21m1-22v22m1-22v21m1-25v23m1-21v22m1-22v23m1-22v22m1-21v21m1-21v24m1-24v23m1-25v22m1-21v23m1-23v21m1-20v20m1-22v23m1-22v21m1-21v21m1-25v25m1-23v26m1-24v21m1-19v19m1-20v22m1-22v20m1-20v21m1-21v22m1-22v21m1-21v19m1-19v20m1-21v22m1-21v20m1-20v20m1-20v20m1-20v21m1-24v23m1-20v21m1-21v23m1-23v23m1-26v24m1-23v23m1-20v21m1-24v23m1-21v20m1-20v20m1-20v22m1-22v22m1-22v23m1-22v20m1-23v24m1-24v24m1-21v19m1-21v21m1-22v26m1-26v25m1-23v20m1-29v30m1-21v21m1-21v20m1-20v23m1-24v23m1-23v22m1-21v21m1-26v29m1-28v24m1-19v19m1-20v26m1-26v21m1-22v21m1-21v22m1-21v21m1-21v21m1-21v20m1-20v21m1-21v21m1-23v22m1-28v29m1-21v22m1-25v25m1-22v20m1-20v20m1-20v20m1-20v25m1-31v27m1-26v25m1-20v20m1-23v25m1-23v23m1-23v21m1-23v25m1-22v20m1-20v19m1-19v20m1-21v21m1-21v21m1-20v20m1-20v20m1-21v23m1-22v20m1-21v22m1-21v21m1-21v21m1-22v23m1-25v25m1-24v23m1-24v23m1-22v22m1-22v22m1-21v21m1-20v20m1-19v20m1-23v24m1-23v22m1-22v22m1-22v22m1-22v24m1-23v20m1-21v21m1-23v24m1-23v23m1-23v23m1-21v19m1-25v30m1-29v24m1-23v24m1-25v25m1-20v23m1-25v22m1-22v22m1-19v19m1-20v20m1-20v20m1-20v21m1-21v20m1-20v21m1-21v20m1-20v21m1-21v23m1-27v26m1-24v22m1-20v20m1-20v20m1-21v21m1-20v23m1-23v24m1-24v24m1-26v23m1-21v20m1-21v21m1-22v23m1-24v23m1-20v24m1-24v21m1-21v20m1-19v21m1-22v22m1-23v21m1-23v25m1-25v25m1-25v23m1-21v21m1-21v22m1-22v21m1-21v21m1-21v21m1-23v23m1-20v20m1-21v21m1-20v20m1-20v20m1-23v23m1-23v23m1-20v21m1-22v24m1-24v21m1-21v21m1-20v21m1-21v20m1-20v21m1-21v20m1-22v22m1-22v25m1-26v25m1-25v23m1-20v22m1-22v21m1-27v26m1-20v20m1-21v21m1-22v22m1-22v24m1-22v22m1-22v20m1-20v20m1-20v20m1-22v24m1-23v23m1-22v20m1-21v24m1-23v20m1-20v21m1-21v20m1-21v21m1-20v23m1-23v23m1-23v23m1-23v20m1-20v24m1-24v20m1-22v24m1-23v22m1-21v23m1-23v22m1-22v21m1-21v21m1-21v21m1-21v20m1-20v21m1-22v22m1-23v26m1-26v27m1-25v21m1-21v21m1-29v30m1-22v23m1-23v20m1-21v21m1-20v20m1-23v25m1-22v22m1-22v20m1-20v20m1-21v21m1-20v22m1-22v20m1-20v22m1-23v21m1-21v21m1-20v20m1-20v21m1-21v21m1-21v20m1-24v24m1-23v23m1-20v22m1-23v22m1-21v20m1-20v22m1-21v21m1-22v22m1-23v22m1-21v20m1-22v24m1-25v26m1-23v22m1-22v21m1-22v23m1-24v23m1-22v21m1-21v23m1-23v21m1-23v22m1-23v32m1-31v23m1-22v22m1-21v23m1-24v23m1-22v22m1-23v23m1-23v24m1-22v21m1-21v20m1-20v20m1-20v21m1-21v19m1-19v20m1-26v26m1-25v25m1-20v21m1-22v22m1-22v21m1-20v20m1-20v20m1-22v22m1-21v21m1-21v21m1-24v26m1-26v24m1-20v20m1-20v20m1-20v20m1-21v20m1-19v20m1-21v20m1-21v22m1-22v23m1-20v18m1-21v22m1-20v23m1-23v22m1-23v26m1-25v25m1-25v24m1-24v20m1-23v23m1-24v24m1-22v22m1-22v22m1-23v25m1-23v21m1-27v28m1-22v22m1-20v22m1-23v21m1-21v22m1-23v24m1-25v23m1-22v22m1-21v20m1-21v26m1-26v24m1-23v20m1-23v24m1-20v22m1-23v22m1-21v21m1-24v24m1-23v23m1-24v24m1-28v26m1-25v27m1-22v23m1-22v19m1-20v20m1-20v20m1-20v20m1-20v20m1-22v22m1-22v22m1-20v21m1-21v25m1-28v23m1-23v23m1-20v20m1-20v20m1-21v21m1-24v24m1-24v24m1-20v23m1-23v22m1-22v20m1-20v22m1-22v28m1-28v26m1-26v20m1-20v20m1-20v20m1-20v19m1-18v19m1-22v22m1-20v20m1-25v26m1-26v25m1-21v24m1-31v28m1-20v20m1-22v24m1-23v23m1-22v21m1-21v20m1-21v20m1-19v20m1-20v20m1-20v20m1-20v20m1-20v20m1-23v22m1-19v20m1-20v21m1-21v22m1-23v21m1-19v20m1-21v20m1-22v24m1-22v21m1-21v19m1-18v19m1-20v20m1-22v22m1-22v23m1-22v21m1-20v19m1-19v20m1-20v21m1-21v21m1-21v20m1-25v25m1-25v27m1-22v22m1-22v20m1-20v22m1-28v30m1-26v25m1-28v24m1-21v22m1-21v21m1-20v20m1-20v21m1-21v22m1-22v20m1-20v23m1-23v22m1-22v21m1-21v20m1-20v20m1-19v18m1-20v21m1-21v30m1-30v22m1-23v22m1-20v19m1-18v19m1-19v20m1-21v22m1-22v23m1-23v21m1-21v22m1-22v20m1-20v22m1-23v23m1-21v19m1-22v22m1-22v22m1-20v19m1-21v22m1-22v22m1-20v21m1-20v20m1-21v25m1-24v22m1-23v20m1-19v21m1-23v23m1-24v22m1-21v22m1-23v24m1-24v24m1-22v23m1-24v21m1-20v21m1-21v21m1-20v20m1-23v22m1-21v21m1-22v24m1-25v25m1-24v22m1-20v20m1-20v20m1-20v20m1-21v22m1-22v22m1-21v21m1-21v21m1-20v19m1-20v20m1-22v22m1-21v21m1-20v21m1-26v25m1-21v21m1-20v20m1-20v20m1-21v21m1-22v22m1-21v22m1-21v21m1-21v20m1-20v20m1-24v24m1-21v20m1-22v23m1-23v23m1-22v22m1-19v21m1-22v21m1-23v22m1-22v22m1-20v22m1-25v25m1-24v22m1-24v25m1-21v20m1-20v20m1-24v26m1-25v23m1-20v20m1-20v20m1-20v20m1-20v20m1-20v20m1-27v27m1-20v19m1-19v20m1-20v20m1-21v22m1-22v21m1-21v23m1-24v24m1-25v22m1-20v20m1-19v20m1-20v21m1-22v22m1-21v20m1-24v24m1-26v26m1-21v24m1-23v20m1-22v22m1-19v19m1-20v20m1-24v24m1-23v23m1-21v20m1-21v22m1-21v21m1-20v22m1-23v24m1-23v21m1-21v20m1-20v20m1-20v22m1-22v27m1-28v21m1-22v24m1-25v24m1-23v22m1-21v21m1-20v21m1-21v22m1-22v20m1-23v23m1-22v22m1-20v21m1-23v24m1-22v22m1-25v25m1-26v24m1-23v30m1-27v20m1-23v23m1-23v23m1-21v21m1-20v20m1-21v21m1-21v23m1-24v24m1-24v22m1-21v21m1-20v20m1-20v21m1-21v21m1-21v23m1-23v20m1-20v20m1-20v20m1-20v20m1-21v23m1-23v24m1-24v22m1-21v20m1-20v20m1-20v24m1-29v27m1-27v26m1-23v22m1-22v22m1-20v28m1-28v22m1-22v22m1-25v22m1-20v24m1-23v20m1-20v20m1-20v21m1-23v22m1-22v22m1-20v20m1-23v22m1-20v21m1-20v22m1-22v20m1-20v20m1-23v23m1-22v22m1-21v21m1-21v23m1-23v23m1-22v19m1-19v25m1-25v20m1-19v21m1-22v23m1-23v23m1-23v21m1-28v28m1-23v23m1-23v24m1-29v30m1-23v20m1-20v19m1-20v22m1-23v22m1-21v22m1-22v21m1-20v20m1-20v20m1-20v20m1-20v20m1-24v30m1-30v29m1-25v20m1-20v20m1-24v28m1-27v24m1-23v24m1-23v23m1-22v22m1-22v20m1-24v25m1-21v20m1-21v24m1-24v22m1-21v22m1-24v22m1-22v24m1-23v22m1-21v20m1-20v27m1-27v21m1-21v22m1-23v22m1-21v29m1-29v20m1-20v20m1-21v23m1-22v20m1-20v21m1-21v20m1-20v20m1-20v19m1-24v25m1-23v23m1-24v25m1-24v24m1-21v20m1-21v23m1-22v20m1-21v25m1-26v25m1-24v23m1-22v19m1-21v21m1-20v21m1-20v20m1-22v23m1-21v21m1-28v29m1-22v21m1-22v22m1-22v21m1-21v21m1-20v20m1-22v22m1-24v28m1-26v25m1-22v20m1-21v22m1-24v24m1-25v26m1-23v20m1-20v19m1-18v19m1-20v20m1-20v20m1-20v20m1-20v20m1-20v20m1-25v25m1-25v25m1-24v26m1-24v22m1-23v23m1-20v25m1-25v25m1-26v22m1-27v29m1-24v24m1-27v24m1-24v24m1-20v23m1-23v22m1-21v18m1-21v26m1-26v24m1-22v20m1-20v20m1-24v24m1-23v25m1-22v20m1-20v20m1-23v22m1-20v26m1-25v23m1-23v20"/>
<path transform="translate(230.40 859.24) scale(1 0.25)" stroke="#000000" d="M0 -10v21m1-21v20m1-23v24m1-23v23m1-22v21m1-20v20m1-22v23m1-21v22m1-25v27m1-27v26m1-22v20m1-22v23m1-23v22m1-24v23m1-22v24m1-23v23m1-22v20m1-21v24m1-25v22m1-22v24m1-22v21m1-20v20m1-25v26m1-22v20m1-20v24m1-23v23m1-24v20m1-21v21m1-21v21m1-22v22m1-21v23m1-22v20m1-19v19m1-19v19m1-20v20m1-19v20m1-21v22m1-26v26m1-24v22m1-20v24m1-30v28m1-27v27m1-25v24m1-24v25m1-22v20m1-20v20m1-20v19m1-22v23m1-22v22m1-20v19m1-19v20m1-20v20m1-20v19m1-19v20m1-22v22m1-21v22m1-21v20m1-20v20m1-20v20m1-20v23m1-24v23m1-23v21m1-22v21m1-19v20m1-20v20m1-20v20m1-21v21m1-21v22m1-21v20m1-21v21m1-22v24m1-25v24m1-23v22m1-21v22m1-23v23m1-21v20m1-20v20m1-22v22m1-21v21m1-20v20m1-20v23m1-24v22m1-23v23m1-21v20m1-21v21m1-22v25m1-25v24m1-22v20m1-20v23m1-23v22m1-29v26m1-19v22m1-22v21m1-21v20m1-22v22m1-20v22m1-21v19m1-22v21m1-19v20m1-20v20m1-22v23m1-22v24m1-25v25m1-25v23m1-21v20m1-21v21m1-21v21m1-21v21m1-22v23m1-25v24m1-22v22m1-21v21m1-22v22m1-21v22m1-23v22m1-21v23m1-22v21m1-21v24m1-26v25m1-25v22m1-22v31m1-30v22m1-21v20m1-20v20m1-20v23m1-25v22m1-22v22m1-22v22m1-20v21m1-22v24m1-24v23m1-23v22m1-21v22m1-22v22m1-23v21m1-22v24m1-28v27m1-25v25m1-20v20m1-25v24m1-20v20m1-22v22m1-22v21m1-19v21m1-21v21m1-20v19m1-20v20m1-20v20m1-21v21m1-25v25m1-23v23m1-31v40m1-40v40m1-29v20m1-20v21m1-21v21m1-21v20m1-22v22m1-22v21m1-19v20m1-20v20m1-20v24m1-24v23m1-24v21m1-22v22m1-20v20m1-22v24m1-25v25m1-25v23m1-20v20m1-20v20m1-20v20m1-20v20m1-20v20m1-20v20m1-20v21m1-21v21m1-21v21m1-22v21m1-21v21m1-20v21m1-21v21m1-21v21m1-24v22m1-21v22m1-22v22m1-20v20m1-23v23m1-20v20m1-22v22m1-20v19m1-19v21m1-22v21m1-20v20m1-19v19m1-20v24m1-24v21m1-21v21m1-25v28m1-28v27m1-24v21m1-23v23m1-20v22m1-21v22m1-23v21m1-21v22m1-22v21m1-23v25m1-26v26m1-23v21m1-20v19m1-20v26m1-26v22m1-23v23m1-22v20m1-22v21m1-20v21m1-21v21m1-20v20m1-20v22m1-21v21m1-25v23m1-19v19m1-19v19m1-20v20m1-21v21m1-20v20m1-22v24m1-27v26m1-24v23m1-20v20m1-23v23m1-20v20m1-20v23m1-25v24m1-22v20m1-20v23m1-24v26m1-27v28m1-26v20m1-20v21m1-22v21m1-21v21m1-25v25m1-23v23m1-21v23m1-27v26m1-25v25m1-21v21m1-21v21m1-21v20m1-20v21m1-21v21m1-21v21m1-21v20m1-20v20m1-19v20m1-21v22m1-22v20m1-20v20m1-21v22m1-23v23m1-21v20m1-20v22m1-24v22m1-22v22m1-20v20m1-20v22m1-22v21m1-21v21m1-20v21m1-24v23m1-22v24m1-24v21m1-22v22m1-22v27m1-27v26m1-25v21m1-22v22m1-22v22m1-22v25m1-24v20m1-19v21m1-22v21m1-21v20m1-19v21m1-21v21m1-22v21m1-20v26m1-27v25m1-24v21m1-20v19m1-20v20m1-20v22m1-22v21m1-21v20m1-26v29m1-25v24m1-24v25m1-23v23m1-24v23m1-22v21m1-23v22m1-20v20m1-24v24m1-19v19m1-20v21m1-21v20m1-21v21m1-22v22m1-20v20m1-20v22m1-22v27m1-27v20m1-19v19m1-21v21m1-26v27m1-24v24m1-23v21m1-20v21m1-23v23m1-20v20m1-20v20m1-20v20m1-20v20m1-20v20m1-22v22m1-22v25m1-25v21m1-24v26m1-21v21m1-21v20m1-20v26m1-31v28m1-28v25m1-20v21m1-23v22m1-22v23m1-23v23m1-22v22m1-23v22m1-21v22m1-22v25m1-24v24m1-24v20m1-20v21m1-25v26m1-22v22m1-22v23m1-24v22m1-21v20m1-20v20m1-20v22m1-23v22m1-21v20m1-23v25m1-24v25m1-32v33m1-28v24m1-22v22m1-26v26m1-24v25m1-21v20m1-22v26m1-27v24m1-23v23m1-23v23m1-23v23m1-23v24m1-24v25m1-24v22m1-21v20m1-20v20m1-20v20m1-22v22m1-20v20m1-22v23m1-22v22m1-21v24m1-26v27m1-27v22m1-22v22m1-20v20m1-21v21m1-20v20m1-20v20m1-20v20m1-20v20m1-20v27m1-28v23m1-22v20m1-20v19m1-19v22m1-22v22m1-22v21m1-22v22m1-22v22m1-21v20m1-20v20m1-20v20m1-21v21m1-23v23m1-23v23m1-23v23m1-22v22m1-20v22m1-22v20m1-20v23m1-23v22m1-24v23m1-22v22m1-22v22m1-21v20m1-21v21m1-24v24m1-22v22m1-21v21m1-23v24m1-24v24m1-23v22m1-21v21m1-21v23m1-22v24m1-24v23m1-23v20m1-20v20m1-21v21m1-24v25m1-24v23m1-20v20m1-21v21m1-20v20m1-20v20m1-21v21m1-20v21m1-21v21m1-27v26m1-26v28m1-28v27m1-21v21m1-22v21m1-20v22m1-22v21m1-20v20m1-21v20m1-21v24m1-29v29m1-23v23m1-23v20m1-22v25m1-24v24m1-25v24m1-22v22m1-22v20m1-20v23m1-23v23m1-23v21m1-23v22m1-21v26m1-25v22m1-22v22m1-24v24m1-24v22m1-20v23m1-23v23m1-24v24m1-24v21m1-21v21m1-23v23m1-22v23m1-21v20m1-20v20m1-20v23m1-23v26m1-27v24m1-24v21m1-22v27m1-26v21m1-20v24m1-25v24m1-23v22m1-22v20m1-23v23m1-23v23m1-21v21m1-21v21m1-20v20m1-20v22m1-24v23m1-22v21m1-21v21m1-20v19m1-20v21m1-21v22m1-22v27m1-27v23m1-23v20m1-20v22m1-21v20m1-20v21m1-23v22m1-21v23m1-22v21m1-21v21m1-21v20m1-20v20m1-20v20m1-22v24m1-24v24m1-22v19m1-19v20m1-20v22m1-26v25m1-25v24m1-20v20m1-22v22m1-20v20m1-21v21m1-21v22m1-21v20m1-22v27m1-25v23m1-24v22m1-22v23m1-28v26m1-19v22m1-23v24m1-25v21m1-20v20m1-23v23m1-21v21m1-21v24m1-23v22m1-22v21m1-23v25m1-23v22m1-25v23m1-23v22m1-19v22m1-21v20m1-21v20m1-20v22m1-27v27m1-27v27m1-22v20m1-20v21m1-24v26m1-30v39m1-39v38m1-33v24m1-24v24m1-24v22m1-22v24m1-22v21m1-21v22m1-23v23m1-23v22m1-22v22m1-21v21m1-23v24m1-23v22m1-21v20m1-20v20m1-24v26m1-27v27m1-26v24m1-19v19m1-21v23m1-22v22m1-22v20m1-20v22m1-22v21m1-21v22m1-27v29m1-24v22m1-22v21m1-21v21m1-21v22m1-24v22m1-21v21m1-26v28m1-22v22m1-22v22m1-22v20m1-21v21m1-21v20m1-19v22m1-25v24m1-23v23m1-23v22m1-20v20m1-19v19m1-19v19m1-22v23m1-23v22m1-21v21m1-20v21m1-22v21m1-21v21m1-23v23m1-22v22m1-24v26m1-26v25m1-22v23m1-22v22m1-22v20m1-20v23m1-24v23m1-23v22m1-23v22m1-20v20m1-19v20m1-39v49m1-48v48m1-32v22m1-21v22m1-22v23m1-23v22m1-22v21m1-21v20m1-21v21m1-20v20m1-22v22m1-24v24m1-23v22m1-19v20m1-21v21m1-20v20m1-19v22m1-23v21m1-21v22m1-22v20m1-20v20m1-19v19m1-20v20m1-22v22m1-19v19m1-20v21m1-21v21m1-21v26m1-28v25m1-24v23m1-28v28m1-27v25m1-21v23m1-23v22m1-21v23m1-23v20m1-20v20m1-21v21m1-19v21m1-22v22m1-23v22m1-23v31m1-31v26m1-29v29m1-27v23m1-21v21m1-22v23m1-21v22m1-22v24m1-24v22m1-25v24m1-23v23m1-21v20m1-20v20m1-20v20m1-20v23m1-23v22m1-22v20m1-20v20m1-21v21m1-21v21m1-22v21m1-21v22m1-22v23m1-23v22m1-20v21m1-22v21m1-21v21m1-20v20m1-20v20m1-20v20m1-22v21m1-21v22m1-19v20m1-25v26m1-25v26m1-23v22m1-23v25m1-25v24m1-25v24m1-24v24m1-22v23m1-23v22m1-22v23m1-24v22m1-21v20m1-19v22m1-25v23m1-21v23m1-26v26m1-25v22m1-25v25m1-20v20m1-20v20m1-20v20m1-28v28m1-23v24m1-21v23m1-23v22m1-23v23m1-22v20m1-20v20m1-20v20m1-21v21m1-23v23m1-22v23m1-25v25m1-24v23m1-20v20m1-20v20m1-21v23m1-23v23m1-22v21m1-21v20m1-26v26m1-25v24m1-19v21m1-25v24m1-19v22m1-23v21m1-21v20m1-22v22m1-22v22m1-20v21m1-24v26m1-25v24m1-24v23m1-21v20m1-21v21m1-21v21m1-21v20m1-21v22m1-22v22m1-21v24m1-22v21m1-24v22m1-21v27m1-26v20m1-20v20m1-20v19m1-18v19m1-19v19m1-19v21m1-23v26m1-25v22m1-24v24m1-22v20m1-22v23m1-22v23m1-24v23m1-23v22m1-20v24m1-27v30m1-29v25m1-23v20m1-21v21m1-21v21m1-21v23m1-22v22m1-22v22m1-22v21m1-22v22m1-22v21m1-20v20m1-20v20m1-20v20m1-20v19m1-25v28m1-25v24m1-23v23m1-21v20m1-19v19m1-20v21m1-27v25m1-24v25m1-20v20m1-20v25m1-25v23m1-24v22m1-22v22m1-20v22m1-25v26m1-25v23m1-22v23m1-23v23m1-25v24m1-23v21m1-20v20m1-20v20m1-21v21m1-20v29m1-30v25m1-26v25m1-23v20m1-22v22m1-22v23m1-21v22m1-22v20m1-20v23m1-23v22m1-24v24m1-22v22m1-22v21m1-23v22m1-21v21m1-20v20m1-20v20m1-20v20m1-19v19m1-20v21m1-21v20m1-20v23m1-22v18m1-22v23m1-19v18m1-18v18m1-20v21m1-23v23m1-22v21m1-21v23m1-21v19m1-19v22m1-23v22m1-22v40m1-39v23m1-22v18m1-21v22m1-20v23m1-23v25m1-25v23m1-23v20m1-21v22m1-21v21m1-21v22m1-22v21m1-21v22m1-27v25m1-23v24m1-22v21m1-20v22m1-22v23m1-23v20m1-20v20m1-20v22m1-22v20m1-21v20m1-20v23m1-24v24m1-24v21m1-19v20m1-20v20m1-22v21m1-19v21m1-21v20m1-20v22m1-23v21m1-25v25m1-20v24m1-25v24m1-24v22m1-23v22m1-22v22m1-20v19m1-21v22m1-22v31m1-28v21m1-22v28m1-29v23m1-21v21m1-23v23m1-23v24m1-24v21m1-21v23m1-23v22m1-21v25m1-29v28m1-27v23m1-20v20m1-23v22m1-21v22m1-22v26m1-25v24m1-23v20m1-20v20m1-21v27m1-27v26m1-27v22m1-20v20m1-22v24m1-24v24m1-23v21m1-21v23m1-22v22m1-23v21m1-23v26m1-25v24m1-22v21m1-22v21m1-22v22m1-22v23m1-21v21m1-21v21m1-21v20m1-19v19m1-25v25m1-19v19m1-21v20m1-18v18m1-20v27m1-25v20m1-21v20m1-20v20m1-22v23m1-22v23m1-22v21m1-21v19m1-22v24m1-23v22m1-20v20m1-20v22m1-22v22m1-22v22m1-22v20m1-20v21m1-23v26m1-24v24m1-24v21m1-20v20m1-23v23m1-21v20m1-20v20m1-20v22m1-24v24m1-24v22m1-23v24m1-21v19m1-22v29m1-30v27m1-23v23m1-23v22m1-22v23m1-29v26m1-20v20m1-22v26m1-24v28m1-28v20m1-20v23m1-23v20m1-23v23m1-21v23m1-22v22m1-22v22m1-22v22m1-22v22m1-22v20m1-24v26m1-25v23m1-20v20m1-21v21m1-21v20m1-20v21m1-20v22m1-22v26m1-26v22m1-23v27m1-26v19m1-19v20m1-20v20m1-22v22m1-20v20m1-21v22m1-21v20m1-20v22m1-21v20m1-21v20m1-20v21m1-23v23m1-21v20m1-20v23m1-23v23m1-23v21m1-21v21m1-21v20m1-20v20m1-19v20m1-23v22m1-20v20m1-20v20m1-20v20m1-20v22m1-22v20m1-22v23m1-21v21m1-23v24m1-23v21m1-20v24m1-31v30m1-23v21m1-21v20m1-23v23m1-23v23m1-26v28m1-22v22m1-22v20m1-20v20m1-20v20m1-20v20m1-23v23m1-22v22m1-24v24m1-23v23m1-20v20m1-20v24m1-25v21m1-20v20m1-21v21m1-21v23m1-24v23m1-23v24m1-27v27m1-24v24m1-24v23m1-21v21m1-22v22m1-22v23m1-22v21m1-21v20m1-20v21m1-23v23m1-23v25m1-25v23m1-32v40m1-37v39m1-43v52m1-52v51m1-48v37m1-41v43m1-40v38m1-28v20m1-131v204m1-198v194m1-194v194m1-90v24m1-23v22m1-35v39m1-28v23m1-23v23m1-21v21m1-21v20m1-20v20m1-71v131m1-125v119m1-75v43m1-42v23m1-23v22m1-23v21m1-20v19m1-30v38m1-29v23m1-23v22m1-20v27m1-27v20m1-20v21m1-21v22m1-22v20m1-20v23m1-23v20m1-20v21m1-20v20m1-22v21m1-20v20m1-20v20m1-20v20m1-24v24m1-23v26m1-27v27m1-27v27m1-24v22m1-23v23m1-21v21m1-20v20m1-21v23m1-26v25m1-22v20m1-22v23m1-21v21m1-60v74m1-70v69m1-34v25m1-25v20m1-21v21m1-20v20m1-24v25m1-24v23m1-20v19m1-81v168m1-226v226m1-221v154m1-128v203m1-143v74m1-49v28m1-24v20m1-20v22m1-24v24m1-23v24m1-23v20m1-20v20m1-21v21m1-20v20m1-33v53m1-52v51m1-40v23m1-23v33m1-36v26m1-25v25m1-29v29m1-23v21m1-23v23m1-22v24m1-24v24m1-22v20m1-22v23m1-22v22m1-43v44m1-25v25m1-27v26m1-21v21m1-21v20m1-20v20m1-22v22m1-22v22m1-20v23m1-23v21m1-21v21m1-24v23m1-21v22m1-22v22m1-21v22m1-22v20m1-20v20m1-20v20m1-20v20m1-21v21m1-20v21m1-21v28m1-28v22m1-24v24m1-24v24m1-23v22m1-21v21m1-21v26m1-29v26m1-25v24m1-22v20m1-20v20m1-20v22m1-22v21m1-23v22m1-22v24m1-25v22m1-19v20m1-22v22m1-22v22m1-20v22m1-28v32m1-32v26m1-20v20m1-22v22m1-22v22m1-23v25m1-26v25m1-24v24m1-25v26m1-23v22m1-21v20m1-20v20m1-20v20m1-20v22m1-22v20m1-20v20m1-22v21m1-19v20m1-20v20m1-20v20m1-25v29m1-26v22m1-22v22m1-22v21m1-20v21m1-20v26m1-26v25m1-25v21m1-22v22m1-22v21m1-23v24m1-21v21m1-21v22m1-23v22m1-22v21m1-21v21m1-20v22m1-23v21m1-26v26m1-26v29m1-24v23m1-23v21m1-20v20m1-20v20m1-22v22m1-20v21m1-21v24m1-24v23m1-24v24m1-25v24m1-33v31m1-22v22m1-20v21m1-25v27m1-25v22m1-20v20m1-23v25m1-23v21m1-21v30m1-29v20m1-20v21m1-22v22m1-24v25m1-22v21m1-21v21m1-22v22m1-25v25m1-24v23m1-20v21m1-21v20m1-23v23m1-22v22m1-26v27m1-25v24m1-19v19m1-20v20m1-20v23m1-24v20m1-20v21m1-20v25m1-25v25m1-25v20m1-20v22m1-22v22m1-22v22m1-23v24m1-26v27m1-24v22m1-22v22m1-23v22m1-21v21m1-23v23m1-22v21m1-19v21m1-24v24m1-26v26m1-24v24m1-22v20m1-20v26m1-26v24m1-33v33m1-25v25m1-24v22m1-25v23m1-22v22m1-20v20m1-19v19m1-22v22m1-22v22m1-22v22m1-20v28m1-30v23m1-23v22m1-23v23m1-22v24m1-22v20m1-20v20m1-24v26m1-25v24m1-21v21m1-23v22m1-23v23m1-22v22m1-20v20m1-19v20m1-21v20m1-20v21m1-21v20m1-21v21m1-23v25m1-21v21m1-22v22m1-22v22m1-22v20m1-21v21m1-20v20m1-21v24m1-25v24m1-23v21m1-20v21m1-21v22m1-22v20m1-20v23m1-31v29m1-21v21m1-22v22m1-21v20m1-22v26m1-25v25m1-26v22m1-20v23m1-25v22m1-23v23m1-22v22m1-23v23m1-22v22m1-20v23m1-23v22m1-22v22m1-22v22m1-22v19m1-20v21m1-21v24m1-24v22m1-21v20m1-20v20m1-25v25m1-24v24m1-24v27m1-23v23m1-26v23m1-20v27m1-32v26m1-23v24m1-24v22m1-22v21m1-19v22m1-22v22m1-22v21m1-22v21m1-20v20m1-19v19m1-22v22m1-20v20m1-21v22m1-23v22m1-19v19m1-20v20m1-23v26m1-23v22m1-21v19m1-29v29m1-20v25m1-25v23m1-22v20m1-21v20m1-20v20m1-21v21m1-24v24m1-22v24m1-22v21m1-21v20m1-20v20m1-22v26m1-24v23m1-23v22m1-22v22m1-21v22m1-22v21m1-22v20m1-20v20m1-20v22m1-23v22m1-21v23m1-24v21m1-20v22m1-22v21m1-20v21m1-22v22m1-23v22m1-21v21m1-22v22m1-20v21m1-21v20m1-21v20m1-20v22m1-22v20m1-20v20m1-20v22m1-22v22m1-22v22m1-22v27m1-27v21m1-21v20m1-24v24m1-24v24m1-23v23m1-20v20m1-20v20m1-20v20m1-20v22m1-22v26m1-26v21m1-21v24m1-24v24m1-24v20m1-21v21m1-20v21m1-21v22m1-26v24m1-20v20m1-20v22m1-23v21m1-21v27m1-26v25m1-24v20m1-21v19m1-19v22m1-25v30m1-32v26m1-21v20m1-23v24m1-23v22m1-19v20m1-21v21m1-21v25m1-28v25m1-25v24m1-21v24m1-26v24m1-23v22m1-20v20m1-21v20m1-21v21m1-21v21m1-22v23m1-21v20m1-20v21m1-21v22m1-24v23m1-23v22m1-21v20m1-20v21m1-21v21"/>
<path transform="translate(230.40 897.49) scale(1 0.25)" stroke="#ff0000" d="M0 -9v21m1-28v26m1-22v22m1-20v22m1-24v23m1-22v22m1-22v23m1-22v23m1-24v23m1-23v21m1-20v21m1-20v18m1-19v22m1-24v24m1-23v22m1-21v22m1-23v21m1-22v21m1-20v21m1-25v26m1-21v22m1-22v21m1-23v23m1-21v20m1-20v23m1-25v24m1-24v22m1-22v23m1-21v21m1-23v22m1-23v23m1-22v24m1-22v21m1-21v23m1-23v23m1-25v23m1-22v21m1-20v20m1-21v23m1-24v23m1-21v20m1-20v19m1-21v24m1-23v23m1-24v23m1-23v22m1-29v30m1-22v21m1-20v22m1-22v22m1-21v21m1-27v27m1-22v21m1-22v22m1-22v22m1-25v25m1-22v23m1-23v22m1-23v22m1-23v23m1-20v21m1-22v23m1-23v21m1-20v20m1-20v20m1-20v20m1-20v21m1-22v21m1-21v23m1-24v23m1-23v23m1-21v20m1-20v20m1-24v24m1-23v29m1-26v25m1-25v19m1-19v20m1-20v19m1-20v24m1-24v23m1-22v22m1-22v21m1-22v21m1-20v21m1-20v19m1-20v21m1-21v25m1-25v21m1-21v20m1-20v21m1-21v22m1-22v20m1-20v21m1-25v24m1-21v23m1-22v20m1-20v20m1-24v26m1-22v22m1-23v21m1-21v21m1-20v23m1-24v26m1-28v26m1-25v23m1-21v22m1-28v26m1-20v20m1-21v21m1-20v20m1-22v28m1-27v25m1-31v28m1-26v26m1-21v22m1-22v21m1-28v27m1-23v23m1-20v22m1-23v25m1-24v26m1-26v24m1-24v21m1-21v22m1-24v22m1-21v21m1-20v20m1-20v20m1-20v22m1-22v20m1-20v26m1-27v24m1-27v27m1-26v23m1-20v20m1-20v21m1-21v20m1-20v22m1-22v22m1-22v20m1-27v26m1-20v21m1-20v20m1-20v24m1-24v23m1-23v19m1-21v21m1-18v18m1-20v22m1-26v27m1-27v26m1-21v20m1-21v27m1-26v20m1-20v20m1-22v24m1-26v26m1-22v21m1-21v20m1-21v22m1-20v20m1-21v20m1-21v23m1-22v19m1-20v21m1-21v23m1-22v21m1-21v23m1-28v28m1-28v28m1-25v24m1-24v22m1-20v20m1-24v24m1-23v25m1-21v19m1-20v20m1-21v21m1-21v21m1-20v21m1-21v20m1-28v28m1-20v20m1-20v23m1-23v22m1-22v20m1-20v20m1-21v21m1-19v19m1-20v20m1-20v20m1-20v20m1-23v23m1-22v22m1-22v22m1-22v22m1-20v20m1-20v20m1-19v19m1-19v19m1-20v21m1-21v20m1-20v22m1-22v20m1-19v19m1-20v22m1-22v22m1-21v20m1-21v22m1-21v20m1-21v27m1-27v20m1-21v20m1-19v21m1-21v21m1-21v20m1-20v22m1-22v22m1-23v21m1-22v23m1-23v22m1-20v21m1-23v24m1-22v22m1-22v20m1-22v24m1-22v20m1-20v21m1-23v23m1-23v23m1-21v21m1-21v20m1-23v25m1-22v20m1-20v20m1-27v30m1-25v25m1-23v21m1-21v20m1-21v25m1-27v25m1-28v26m1-25v26m1-22v21m1-20v20m1-21v21m1-22v23m1-23v23m1-22v21m1-21v23m1-22v22m1-24v26m1-24v25m1-25v22m1-22v21m1-21v20m1-20v24m1-25v24m1-23v19m1-19v20m1-21v22m1-22v21m1-20v27m1-26v19m1-22v22m1-20v22m1-23v23m1-24v23m1-22v21m1-20v23m1-27v27m1-30v27m1-21v21m1-19v20m1-25v27m1-27v25m1-22v22m1-23v22m1-21v27m1-27v25m1-29v26m1-21v20m1-20v20m1-25v27m1-26v27m1-25v23m1-21v20m1-27v27m1-21v21m1-21v23m1-22v22m1-24v24m1-23v20m1-19v20m1-20v23m1-23v20m1-20v24m1-24v20m1-23v25m1-27v25m1-23v23m1-22v22m1-23v23m1-24v24m1-24v24m1-20v21m1-22v21m1-20v20m1-21v21m1-20v21m1-21v23m1-29v29m1-29v27m1-25v26m1-23v22m1-22v21m1-20v22m1-26v25m1-22v21m1-21v23m1-25v29m1-34v28m1-24v25m1-24v23m1-20v23m1-23v23m1-23v22m1-27v28m1-29v26m1-24v23m1-19v20m1-27v29m1-30v28m1-22v22m1-22v22m1-21v21m1-21v21m1-20v21m1-21v20m1-20v21m1-21v21m1-22v21m1-22v22m1-22v22m1-20v20m1-21v23m1-22v21m1-21v22m1-23v21m1-21v21m1-19v19m1-20v24m1-25v23m1-23v21m1-22v22m1-22v24m1-25v23m1-22v23m1-23v23m1-22v22m1-22v22m1-23v22m1-22v22m1-22v22m1-21v22m1-21v22m1-25v24m1-23v23m1-22v21m1-22v22m1-20v24m1-27v23m1-22v24m1-21v20m1-23v23m1-22v23m1-29v28m1-21v22m1-22v22m1-24v22m1-22v23m1-22v21m1-22v22m1-22v22m1-21v23m1-23v22m1-21v20m1-21v21m1-23v23m1-25v25m1-24v28m1-25v24m1-24v21m1-21v21m1-20v23m1-23v22m1-22v24m1-25v25m1-25v22m1-23v22m1-23v25m1-23v22m1-23v22m1-21v21m1-23v23m1-21v21m1-21v21m1-28v29m1-21v22m1-22v20m1-22v30m1-30v23m1-25v25m1-22v21m1-20v22m1-22v21m1-21v20m1-20v20m1-20v20m1-20v21m1-20v19m1-20v20m1-22v22m1-22v23m1-24v24m1-22v26m1-27v22m1-20v22m1-22v24m1-24v24m1-24v20m1-21v20m1-20v22m1-21v20m1-22v21m1-23v25m1-24v24m1-24v24m1-22v21m1-24v24m1-22v22m1-22v26m1-27v24m1-23v23m1-23v22m1-22v22m1-21v21m1-20v22m1-23v30m1-29v28m1-30v22m1-22v27m1-25v24m1-25v21m1-20v20m1-20v20m1-20v19m1-21v23m1-22v23m1-23v22m1-21v22m1-23v21m1-20v20m1-20v21m1-21v20m1-21v20m1-20v21m1-20v23m1-23v23m1-23v21m1-21v20m1-20v20m1-22v24m1-22v20m1-22v28m1-34v34m1-30v26m1-22v21m1-21v25m1-25v20m1-20v20m1-20v20m1-22v22m1-21v22m1-21v20m1-22v24m1-24v23m1-22v22m1-21v21m1-22v22m1-27v28m1-23v21m1-21v21m1-20v20m1-21v21m1-21v21m1-23v23m1-20v21m1-23v22m1-21v23m1-25v25m1-25v25m1-22v20m1-20v20m1-20v25m1-26v21m1-23v23m1-23v26m1-23v23m1-24v21m1-21v21m1-23v23m1-23v23m1-22v23m1-21v20m1-20v20m1-20v19m1-19v20m1-20v20m1-19v19m1-20v19m1-20v22m1-20v19m1-20v24m1-24v20m1-21v21m1-24v24m1-25v25m1-20v20m1-20v21m1-21v21m1-23v22m1-22v24m1-21v20m1-23v23m1-21v20m1-20v22m1-25v24m1-23v22m1-21v21m1-20v20m1-19v19m1-21v23m1-22v21m1-21v22m1-22v23m1-24v25m1-24v22m1-21v19m1-20v23m1-23v22m1-22v22m1-23v22m1-23v24m1-22v21m1-21v20m1-20v20m1-20v20m1-22v22m1-22v25m1-25v22m1-22v24m1-22v24m1-24v22m1-26v26m1-26v27m1-28v28m1-28v25m1-20v20m1-21v20m1-19v23m1-23v21m1-21v22m1-22v20m1-26v26m1-21v22m1-21v20m1-20v22m1-22v21m1-22v23m1-30v29m1-21v22m1-22v21m1-24v24m1-24v25m1-22v20m1-20v21m1-21v20m1-20v22m1-23v21m1-21v21m1-23v24m1-24v24m1-27v26m1-22v27m1-27v27m1-25v22m1-24v24m1-24v22m1-20v19m1-21v22m1-20v20m1-19v21m1-28v30m1-24v23m1-24v20m1-20v21m1-20v20m1-23v23m1-22v25m1-23v22m1-22v23m1-25v25m1-24v21m1-21v23m1-23v25m1-26v24m1-24v22m1-20v20m1-20v20m1-20v22m1-24v22m1-22v22m1-22v22m1-22v22m1-20v20m1-20v20m1-21v21m1-20v20m1-21v21m1-20v20m1-22v22m1-21v21m1-21v21m1-22v22m1-20v20m1-21v21m1-21v21m1-19v22m1-22v24m1-25v23m1-25v21m1-21v23m1-22v20m1-18v19m1-22v25m1-23v22m1-25v23m1-21v26m1-26v21m1-23v25m1-24v24m1-22v21m1-20v20m1-21v21m1-23v23m1-23v22m1-22v22m1-22v22m1-21v21m1-21v21m1-20v22m1-23v23m1-24v24m1-26v24m1-23v23m1-20v20m1-20v20m1-20v20m1-22v22m1-22v22m1-19v20m1-21v21m1-23v22m1-21v21m1-25v25m1-24v24m1-21v23m1-28v27m1-23v22m1-22v23m1-22v22m1-21v20m1-20v20m1-23v25m1-24v23m1-21v20m1-19v19m1-20v20m1-21v21m1-21v23m1-22v26m1-28v22m1-20v20m1-20v20m1-20v20m1-20v20m1-21v24m1-25v25m1-25v22m1-20v19m1-18v18m1-19v22m1-23v23m1-23v23m1-23v26m1-27v27m1-26v21m1-19v19m1-21v21m1-21v20m1-18v19m1-23v23m1-22v22m1-21v22m1-22v24m1-25v22m1-22v22m1-22v21m1-23v24m1-20v20m1-20v20m1-20v21m1-21v23m1-25v24m1-27v26m1-25v24m1-22v22m1-22v24m1-23v22m1-21v23m1-23v23m1-25v26m1-24v23m1-23v22m1-22v19m1-19v20m1-19v19m1-20v20m1-20v20m1-22v22m1-20v21m1-20v19m1-20v20m1-22v22m1-22v22m1-19v19m1-20v23m1-25v24m1-23v21m1-20v27m1-27v21m1-21v20m1-20v21m1-22v23m1-23v22m1-24v23m1-23v24m1-23v25m1-26v23m1-23v22m1-21v22m1-21v21m1-21v21m1-20v20m1-20v22m1-22v20m1-20v23m1-27v27m1-23v20m1-22v22m1-21v21m1-20v28m1-28v22m1-24v23m1-22v20m1-19v20m1-20v20m1-19v19m1-20v20m1-21v24m1-23v21m1-21v21m1-20v20m1-21v21m1-27v31m1-25v24m1-27v22m1-21v21m1-19v21m1-26v25m1-24v27m1-23v23m1-23v22m1-24v22m1-21v21m1-21v21m1-21v23m1-23v25m1-25v24m1-24v22m1-23v22m1-24v24m1-20v22m1-24v22m1-21v22m1-22v20m1-19v22m1-23v22m1-21v22m1-22v21m1-21v22m1-22v21m1-21v22m1-23v21m1-20v21m1-24v25m1-24v22m1-20v21m1-25v25m1-25v24m1-20v20m1-24v29m1-27v25m1-23v25m1-30v25m1-23v23m1-21v21m1-21v20m1-19v20m1-26v29m1-28v27m1-22v24m1-27v24m1-21v21m1-28v27m1-20v20m1-22v23m1-22v22m1-21v22m1-22v21m1-20v19m1-20v20m1-25v25m1-20v22m1-24v22m1-21v24m1-24v26m1-25v20m1-20v20m1-20v20m1-20v20m1-22v24m1-24v23m1-22v21m1-21v20m1-19v22m1-22v21m1-23v25m1-22v20m1-20v20m1-21v19m1-19v20m1-20v20m1-20v20m1-19v19m1-21v23m1-22v22m1-22v20m1-20v20m1-20v20m1-20v20m1-20v20m1-26v26m1-20v22m1-22v21m1-21v21m1-22v21m1-23v24m1-22v21m1-22v23m1-23v21m1-19v20m1-21v21m1-20v25m1-26v24m1-25v22m1-20v21m1-22v21m1-21v21m1-21v21m1-21v22m1-24v24m1-24v22m1-21v24m1-22v22m1-22v21m1-22v22m1-25v23m1-20v21m1-22v22m1-22v23m1-23v23m1-21v21m1-22v24m1-24v23m1-22v20m1-22v22m1-20v20m1-20v24m1-24v24m1-26v22m1-20v20m1-20v20m1-20v20m1-20v22m1-22v20m1-22v22m1-28v32m1-27v22m1-20v22m1-28v29m1-24v23m1-22v21m1-25v26m1-23v22m1-21v22m1-23v23m1-22v25m1-24v23m1-22v19m1-21v21m1-23v23m1-20v20m1-21v21m1-20v20m1-20v21m1-21v22m1-22v22m1-22v21m1-22v22m1-21v20m1-24v23m1-19v20m1-20v20m1-20v21m1-20v24m1-25v24m1-25v22m1-23v22m1-21v26m1-28v23m1-22v21m1-19v20m1-20v22m1-24v24m1-23v22m1-21v21m1-23v22m1-21v21m1-20v21m1-21v21m1-22v22m1-22v22m1-20v19m1-20v19m1-22v25m1-24v22m1-21v21m1-24v24m1-20v20m1-20v19m1-20v21m1-20v21m1-22v23m1-22v21m1-21v26m1-27v25m1-25v21m1-25v24m1-23v26m1-24v22m1-21v21m1-20v20m1-21v21m1-20v20m1-20v20m1-22v22m1-22v22m1-21v21m1-20v20m1-20v20m1-21v20m1-19v23m1-25v25m1-25v22m1-24v24m1-22v23m1-27v26m1-24v26m1-25v24m1-27v27m1-25v26m1-24v22m1-20v21m1-21v28m1-33v25m1-24v24m1-21v21m1-20v20m1-21v26m1-26v21m1-23v23m1-20v19m1-19v19m1-19v22m1-22v21m1-24v23m1-21v21m1-21v23m1-22v22m1-22v22m1-21v21m1-22v19m1-19v20m1-20v20m1-20v20m1-22v21m1-21v22m1-20v20m1-22v22m1-23v25m1-24v22m1-21v21m1-20v20m1-20v20m1-21v21m1-22v22m1-22v22m1-20v21m1-21v21m1-21v20m1-22v22m1-21v20m1-20v24m1-24v26m1-26v25m1-27v23m1-22v22m1-20v21m1-23v23m1-21v24m1-23v19m1-20v22m1-24v23m1-23v22m1-20v20m1-20v20m1-22v22m1-22v24m1-22v22m1-23v22m1-21v21m1-21v21m1-25v26m1-23v22m1-22v21m1-19v20m1-20v20m1-21v21m1-21v20m1-20v20m1-20v21m1-21v21m1-21v20m1-22v27m1-25v21m1-21v22m1-24v24m1-23v21m1-20v21m1-21v20m1-20v20m1-20v27m1-31v24m1-22v23m1-24v25m1-22v22m1-22v21m1-22v24m1-24v23m1-22v23m1-23v23m1-25v23m1-22v22m1-21v21m1-21v22m1-23v23m1-24v23m1-24v24m1-24v24m1-21v21m1-21v22m1-22v22m1-22v20m1-21v21m1-21v23m1-25v25m1-22v23m1-23v19m1-19v20m1-23v22m1-21v22m1-20v23m1-23v20m1-20v22m1-23v21m1-22v22m1-21v21m1-20v20m1-20v21m1-20v19m1-24v24m1-24v24m1-20v21m1-22v23m1-24v23m1-21v20m1-22v22m1-21v21m1-20v20m1-20v22m1-22v22m1-22v20m1-20v20m1-20v22m1-23v24m1-24v26m1-26v25m1-24v20m1-21v20m1-21v23m1-23v24m1-25v24m1-21v19m1-19v20m1-20v20m1-20v23m1-23v20m1-22v22m1-20v20m1-20v20m1-21v21m1-20v20m1-20v20m1-20v20m1-20v20m1-20v20m1-20v20m1-20v21m1-22v21m1-20v20m1-21v21m1-21v21m1-20v21m1-21v21m1-22v23m1-24v23m1-23v22m1-22v22m1-21v25m1-27v27m1-27v23m1-19v19m1-22v25m1-25v22m1-22v24m1-25v24m1-23v22m1-20v20m1-20v22m1-25v24m1-23v22m1-20v21m1-21v19m1-25v30m1-28v25m1-21v22m1-22v20m1-20v20m1-21v23m1-23v22m1-22v21m1-19v19m1-20v24m1-26v25m1-24v21m1-20v20m1-20v20m1-20v23m1-23v22m1-22v20m1-26v26m1-24v24m1-20v20m1-20v28m1-30v24m1-25v24m1-23v22m1-21v21m1-20v20m1-20v20m1-23v23m1-22v23m1-22v23m1-24v24m1-22v24m1-24v24m1-28v25m1-24v23m1-22v22m1-21v21m1-26v26m1-20v20m1-21v26m1-27v26m1-27v25m1-32v30m1-26v26m1-20v21m1-21v20m1-20v24m1-26v26m1-26v22m1-22v23m1-23v23m1-24v23m1-21v21m1-21v22m1-21v21m1-22v23m1-22v22m1-24v22m1-22v22m1-20v19m1-25v26m1-21v21m1-20v20m1-20v23m1-23v20m1-20v24m1-33v32m1-23v21m1-21v21m1-21v20m1-20v20m1-20v20m1-20v21m1-22v22m1-23v34m1-34v25m1-23v21m1-22v21m1-20v23m1-27v25m1-21v20m1-20v26m1-26v21m1-21v22m1-22v20m1-20v20m1-21v26m1-26v24m1-24v20m1-22v23m1-20v22m1-23v23m1-23v23m1-22v22m1-22v24m1-26v21m1-21v22m1-19v19m1-20v19m1-20v21m1-21v24m1-24v21m1-20v21m1-23v22m1-23v24m1-23v22m1-20v21m1-21v22m1-30v28m1-20v20m1-22v24m1-28v28m1-23v21m1-21v29m1-28v22m1-22v21m1-21v20m1-20v21m1-20v21m1-22v20m1-21v21m1-20v23m1-26v25m1-24v25m1-24v24m1-24v22m1-23v22m1-22v22m1-21v20m1-22v23m1-22v23m1-22v24m1-24v24m1-23v21m1-21v20m1-19v19m1-23v22m1-22v24m1-22v22m1-22v21m1-21v21m1-21v21m1-20v20m1-21v21m1-20v22m1-22v22m1-25v23m1-22v23m1-22v22m1-25v23m1-22v22m1-21v22m1-22v22m1-21v21m1-20v22m1-26v25m1-25v23m1-20v23m1-24v26m1-26v25m1-24v24m1-23v20m1-21v23m1-23v24m1-29v26m1-25v29m1-24v20m1-21v21m1-20v20m1-26v26m1-20v20m1-23v30m1-27v20m1-22v24m1-25v24m1-21v20m1-21v21m1-19v21m1-23v21m1-19v19m1-22v22m1-21v21m1-20v20m1-20v22m1-28v27m1-27v28m1-23v27m1-26v25m1-25v20m1-22v22m1-22v22m1-22v22m1-20v21m1-23v22m1-21v21m1-20v20m1-21v21m1-21v21m1-20v21m1-22v22m1-22v21m1-19v18m1-19v20m1-21v29m1-29v22m1-21v20m1-19v21m1-24v22m1-21v21m1-22v22m1-23v23m1-22v24m1-29v33m1-29v27m1-26v22m1-21v21m1-20v20m1-21v24m1-25v22m1-21v21m1-20v22m1-22v20m1-21v23m1-23v23m1-22v24m1-24v20m1-21v21m1-22v22m1-22v22m1-22v24m1-31v30m1-22v23m1-22v23m1-25v22m1-22v22m1-23v23m1-20v20m1-20v20m1-20v24m1-26v26m1-25v21m1-20v20m1-20v21m1-25v25m1-21v22m1-22v22m1-22v19m1-19v21m1-20v20m1-21v20m1-20v21m1-21v19m1-19v20m1-21v21m1-25v27m1-27v30m1-25v20m1-19v18m1-20v22m1-26v24m1-24v25m1-20v21m1-21v21m1-21v20m1-22v22m1-21v21m1-20v19m1-19v20m1-20v21m1-22v23m1-22v20m1-21v21m1-22v23m1-23v23"/>
<path transform="translate(230.40 935.75) scale(1 0.25)" stroke="#0000ff" d="M0 -10v20m1-22v28m1-28v22m1-26v30m1-28v26m1-22v21m1-23v23m1-22v21m1-21v21m1-20v20m1-20v20m1-22v22m1-21v21m1-22v22m1-22v22m1-22v22m1-22v21m1-20v21m1-22v22m1-22v22m1-21v24m1-23v27m1-32v25m1-24v25m1-23v23m1-22v21m1-21v21m1-20v20m1-20v20m1-20v20m1-21v21m1-20v22m1-22v21m1-21v23m1-30v29m1-22v20m1-20v21m1-21v20m1-20v22m1-24v25m1-25v22m1-20v19m1-22v24m1-22v21m1-21v21m1-20v21m1-21v21m1-22v21m1-23v24m1-21v21m1-24v25m1-24v21m1-21v24m1-23v22m1-21v20m1-24v26m1-28v28m1-27v29m1-24v22m1-23v22m1-23v21m1-20v28m1-28v25m1-26v22m1-23v25m1-24v24m1-22v22m1-24v25m1-24v23m1-22v21m1-21v19m1-19v20m1-22v22m1-19v19m1-20v20m1-20v20m1-21v21m1-20v22m1-24v24m1-28v29m1-29v29m1-23v20m1-24v24m1-24v24m1-22v22m1-22v22m1-22v23m1-24v30m1-30v25m1-21v21m1-22v26m1-26v25m1-25v20m1-19v18m1-25v26m1-22v22m1-22v22m1-20v20m1-20v20m1-23v22m1-21v22m1-20v20m1-23v23m1-20v19m1-21v21m1-20v21m1-22v22m1-20v22m1-23v29m1-30v22m1-22v22m1-23v23m1-22v21m1-20v23m1-22v23m1-24v23m1-24v22m1-21v21m1-23v23m1-22v22m1-20v21m1-21v23m1-23v20m1-23v25m1-24v23m1-22v22m1-23v27m1-26v26m1-26v24m1-24v23m1-22v20m1-21v22m1-21v20m1-20v20m1-21v22m1-23v23m1-21v21m1-22v25m1-24v21m1-21v21m1-22v23m1-23v21m1-21v21m1-19v24m1-25v24m1-24v20m1-22v22m1-22v24m1-23v23m1-22v22m1-24v24m1-22v21m1-22v21m1-27v27m1-23v23m1-21v23m1-22v22m1-24v24m1-24v22m1-21v20m1-21v22m1-22v22m1-21v20m1-19v20m1-20v21m1-21v20m1-20v20m1-20v23m1-23v23m1-24v21m1-19v19m1-22v23m1-23v24m1-24v22m1-22v22m1-20v20m1-20v20m1-20v21m1-21v21m1-22v21m1-22v22m1-21v21m1-22v24m1-24v24m1-22v20m1-20v22m1-23v21m1-20v21m1-21v21m1-21v22m1-22v21m1-23v28m1-27v20m1-21v22m1-21v23m1-22v21m1-25v26m1-25v27m1-24v23m1-23v22m1-24v23m1-22v23m1-22v19m1-20v22m1-22v21m1-20v20m1-20v20m1-20v20m1-20v29m1-29v19m1-21v22m1-20v22m1-24v22m1-24v25m1-21v21m1-21v22m1-22v20m1-21v21m1-22v24m1-22v21m1-20v19m1-20v22m1-24v24m1-22v22m1-22v22m1-24v22m1-22v22m1-20v20m1-20v20m1-20v21m1-22v22m1-21v22m1-26v26m1-24v26m1-24v24m1-27v27m1-27v24m1-22v23m1-23v21m1-21v21m1-20v20m1-20v20m1-20v20m1-24v24m1-24v28m1-25v25m1-24v22m1-22v21m1-21v20m1-22v23m1-21v20m1-20v20m1-23v24m1-22v23m1-25v25m1-21v21m1-22v21m1-24v24m1-22v24m1-24v24m1-23v20m1-20v20m1-20v29m1-29v28m1-28v22m1-28v26m1-26v26m1-20v22m1-28v28m1-23v21m1-20v19m1-22v23m1-23v24m1-21v20m1-20v22m1-22v24m1-24v23m1-22v21m1-22v20m1-20v21m1-22v22m1-24v22m1-19v20m1-20v20m1-20v20m1-22v22m1-24v24m1-23v23m1-20v20m1-21v21m1-20v22m1-22v21m1-23v23m1-22v22m1-22v22m1-22v23m1-22v20m1-23v23m1-22v22m1-20v23m1-23v20m1-20v20m1-22v23m1-22v22m1-21v19m1-19v20m1-20v19m1-18v21m1-22v23m1-25v24m1-23v20m1-20v23m1-21v19m1-19v19m1-26v29m1-25v24m1-23v29m1-28v20m1-20v20m1-22v22m1-24v30m1-29v23m1-21v22m1-22v22m1-21v20m1-20v20m1-19v18m1-19v20m1-20v20m1-21v21m1-23v23m1-20v20m1-19v20m1-23v22m1-21v22m1-20v21m1-22v20m1-21v22m1-21v20m1-22v22m1-23v24m1-21v21m1-21v20m1-20v20m1-21v21m1-21v27m1-27v26m1-27v22m1-21v24m1-23v21m1-21v20m1-23v23m1-22v23m1-22v22m1-23v24m1-23v21m1-20v21m1-25v25m1-24v23m1-20v20m1-20v21m1-21v21m1-21v20m1-20v24m1-24v21m1-21v20m1-21v22m1-24v23m1-20v20m1-20v24m1-33v29m1-21v24m1-23v21m1-21v22m1-22v20m1-21v23m1-22v20m1-20v21m1-21v21m1-21v20m1-20v19m1-19v22m1-24v22m1-21v21m1-21v21m1-20v22m1-21v19m1-20v26m1-26v20m1-21v21m1-21v21m1-22v23m1-24v26m1-27v27m1-25v22m1-22v22m1-22v23m1-21v21m1-24v26m1-23v20m1-21v21m1-21v20m1-18v19m1-21v24m1-23v22m1-23v24m1-23v22m1-24v22m1-21v21m1-20v22m1-22v20m1-27v28m1-21v20m1-20v20m1-20v20m1-20v20m1-22v25m1-25v25m1-25v21m1-21v23m1-24v24m1-23v23m1-23v24m1-24v24m1-22v20m1-20v20m1-20v22m1-22v21m1-21v22m1-25v23m1-22v22m1-23v23m1-20v21m1-22v23m1-23v24m1-24v23m1-22v20m1-20v20m1-20v24m1-24v24m1-24v21m1-21v20m1-20v23m1-24v21m1-21v22m1-22v22m1-22v21m1-21v21m1-20v21m1-22v24m1-23v23m1-23v20m1-20v23m1-24v20m1-21v22m1-22v22m1-20v24m1-25v23m1-23v21m1-21v21m1-22v27m1-27v26m1-24v21m1-20v19m1-21v21m1-20v20m1-21v20m1-21v24m1-24v22m1-19v20m1-20v21m1-22v21m1-23v23m1-23v22m1-19v21m1-26v26m1-25v22m1-21v22m1-19v19m1-20v21m1-21v21m1-22v23m1-29v26m1-24v27m1-24v25m1-26v25m1-24v22m1-21v22m1-21v20m1-20v21m1-21v22m1-21v20m1-22v23m1-24v23m1-21v23m1-23v20m1-20v22m1-22v21m1-21v20m1-20v19m1-18v19m1-20v20m1-20v20m1-22v22m1-22v26m1-24v25m1-25v20m1-21v22m1-21v22m1-23v22m1-23v23m1-22v20m1-18v21m1-23v20m1-19v23m1-23v23m1-23v22m1-22v20m1-20v20m1-20v20m1-20v23m1-23v20m1-21v22m1-20v23m1-26v25m1-24v23m1-28v27m1-26v24m1-22v23m1-20v20m1-22v26m1-25v23m1-22v22m1-24v23m1-26v25m1-20v20m1-22v21m1-20v22m1-21v20m1-25v25m1-25v26m1-23v23m1-23v27m1-25v24m1-24v20m1-21v21m1-22v22m1-22v22m1-22v22m1-21v22m1-23v22m1-21v21m1-20v21m1-22v23m1-23v23m1-23v23m1-22v19m1-18v21m1-22v22m1-23v21m1-20v20m1-20v22m1-22v22m1-24v24m1-22v22m1-23v22m1-21v20m1-25v25m1-22v22m1-22v22m1-26v26m1-20v20m1-23v23m1-22v22m1-22v22m1-21v21m1-20v22m1-22v22m1-26v25m1-25v26m1-24v23m1-22v23m1-22v23m1-25v22m1-21v22m1-21v21m1-22v21m1-21v21m1-20v21m1-20v19m1-20v20m1-23v23m1-20v20m1-23v23m1-20v22m1-23v21m1-24v24m1-23v29m1-26v21m1-22v21m1-22v25m1-25v24m1-22v20m1-20v20m1-20v21m1-21v20m1-24v24m1-20v25m1-25v22m1-22v21m1-21v24m1-24v24m1-23v21m1-24v23m1-24v24m1-21v20m1-20v20m1-21v21m1-20v20m1-23v26m1-25v24m1-23v21m1-25v25m1-24v24m1-20v20m1-20v22m1-22v24m1-24v22m1-23v21m1-21v21m1-20v22m1-22v24m1-24v20m1-20v20m1-22v22m1-22v22m1-20v20m1-21v23m1-24v24m1-22v20m1-21v21m1-21v21m1-23v23m1-23v23m1-22v24m1-22v22m1-21v21m1-22v22m1-22v20m1-21v20m1-20v21m1-19v18m1-19v22m1-22v21m1-22v21m1-22v24m1-22v20m1-20v22m1-24v24m1-24v23m1-22v21m1-20v26m1-27v25m1-24v22m1-25v25m1-24v24m1-24v23m1-22v21m1-22v22m1-21v24m1-26v25m1-26v24m1-22v22m1-22v25m1-24v23m1-23v21m1-20v21m1-21v20m1-19v19m1-21v21m1-20v21m1-22v22m1-23v22m1-22v22m1-20v21m1-21v22m1-22v20m1-20v22m1-22v22m1-22v20m1-20v20m1-20v20m1-25v27m1-26v26m1-23v20m1-21v22m1-23v27m1-24v23m1-23v19m1-19v20m1-21v21m1-21v21m1-20v20m1-22v22m1-22v21m1-19v21m1-24v23m1-22v22m1-20v20m1-20v21m1-25v26m1-24v22m1-19v19m1-20v20m1-19v20m1-21v21m1-22v20m1-22v23m1-20v20m1-25v26m1-21v22m1-24v22m1-23v23m1-20v21m1-21v20m1-24v25m1-23v22m1-23v25m1-24v24m1-27v25m1-25v25m1-20v20m1-21v22m1-21v21m1-23v24m1-22v21m1-20v21m1-22v21m1-21v21m1-21v22m1-23v23m1-23v23m1-27v26m1-21v20m1-20v20m1-20v20m1-20v24m1-27v25m1-25v24m1-21v20m1-20v21m1-22v23m1-22v20m1-20v20m1-20v20m1-20v21m1-21v21m1-21v20m1-23v23m1-20v22m1-23v23m1-23v22m1-24v24m1-25v24m1-20v20m1-24v24m1-23v23m1-21v23m1-22v20m1-21v28m1-28v22m1-22v21m1-20v20m1-20v20m1-26v29m1-28v26m1-27v26m1-20v21m1-23v24m1-24v24m1-23v23m1-22v21m1-21v20m1-20v20m1-22v21m1-19v20m1-20v20m1-27v28m1-22v25m1-24v20m1-26v34m1-31v23m1-25v27m1-22v20m1-20v23m1-23v22m1-24v22m1-22v24m1-24v24m1-25v23m1-21v21m1-20v20m1-20v21m1-26v26m1-24v23m1-23v23m1-20v20m1-20v20m1-21v24m1-24v22m1-20v18m1-21v22m1-22v22m1-20v20m1-22v22m1-22v27m1-26v21m1-20v20m1-21v22m1-22v23m1-24v22m1-20v22m1-23v21m1-21v23m1-23v22m1-21v21m1-22v23m1-23v27m1-29v28m1-24v21m1-22v20m1-20v20m1-20v23m1-23v22m1-22v19m1-19v20m1-22v22m1-22v22m1-21v23m1-25v24m1-22v21m1-23v23m1-21v21m1-20v22m1-22v21m1-21v21m1-21v20m1-20v20m1-21v21m1-22v22m1-22v22m1-22v23m1-23v22m1-21v23m1-23v21m1-21v24m1-23v22m1-22v21m1-21v22m1-21v24m1-25v20m1-20v21m1-21v20m1-20v20m1-20v21m1-27v26m1-25v26m1-21v21m1-21v28m1-29v21m1-22v24m1-22v21m1-21v21m1-23v22m1-21v20m1-20v20m1-19v20m1-20v20m1-20v20m1-22v23m1-21v20m1-21v21m1-20v24m1-24v22m1-23v22m1-21v20m1-22v22m1-22v21m1-19v19m1-22v26m1-26v25m1-24v22m1-20v20m1-22v26m1-25v23m1-25v25m1-24v22m1-22v22m1-20v22m1-22v22m1-22v21m1-21v19m1-19v28m1-31v30m1-30v28m1-25v20m1-20v22m1-28v26m1-25v29m1-25v21m1-20v23m1-24v21m1-21v21m1-20v22m1-22v22m1-22v21m1-21v20m1-20v20m1-20v20m1-22v22m1-21v22m1-21v23m1-23v23m1-23v20m1-20v23m1-26v25m1-22v23m1-23v23m1-25v22m1-21v21m1-20v23m1-23v20m1-20v23m1-23v21m1-24v23m1-22v22m1-21v23m1-22v22m1-24v25m1-24v21m1-20v28m1-28v20m1-28v28m1-21v21m1-21v23m1-22v23m1-27v27m1-29v28m1-21v20m1-21v22m1-22v20m1-21v21m1-21v21m1-20v20m1-20v21m1-21v20m1-20v21m1-21v21m1-25v25m1-23v22m1-22v21m1-19v19m1-22v24m1-22v23m1-23v22m1-22v21m1-19v19m1-19v19m1-20v20m1-20v20m1-21v21m1-20v21m1-25v25m1-21v21m1-23v24m1-23v21m1-21v21m1-20v20m1-22v24m1-23v23m1-21v20m1-20v19m1-26v26m1-22v22m1-22v24m1-22v22m1-25v31m1-30v26m1-24v21m1-21v21m1-23v24m1-23v21m1-21v21m1-20v20m1-20v20m1-25v24m1-24v25m1-20v21m1-21v22m1-27v25m1-23v23m1-20v20m1-24v24m1-24v24m1-21v21m1-21v21m1-20v20m1-21v21m1-22v22m1-23v22m1-18v19m1-20v20m1-20v20m1-20v20m1-22v23m1-22v22m1-22v22m1-21v23m1-24v22m1-24v23m1-23v28m1-28v27m1-26v22m1-21v22m1-23v22m1-20v24m1-24v23m1-25v22m1-24v24m1-24v24m1-20v19m1-19v22m1-23v22m1-21v20m1-20v20m1-20v20m1-20v20m1-20v22m1-22v21m1-21v21m1-21v20m1-21v21m1-22v22m1-26v26m1-25v25m1-22v22m1-20v22m1-22v20m1-20v20m1-20v19m1-18v19m1-20v19m1-21v23m1-23v22m1-20v21m1-23v24m1-23v21m1-20v24m1-24v22m1-22v20m1-21v21m1-20v20m1-23v24m1-23v22m1-20v19m1-19v20m1-20v20m1-21v22m1-21v21m1-23v21m1-19v20m1-20v22m1-22v20m1-20v22m1-24v26m1-25v24m1-24v22m1-23v26m1-24v23m1-28v25m1-23v24m1-22v23m1-22v22m1-22v21m1-21v24m1-24v23m1-25v22m1-20v20m1-24v24m1-23v27m1-24v19m1-20v21m1-21v22m1-21v20m1-20v20m1-22v24m1-24v21m1-21v22m1-20v20m1-25v24m1-19v20m1-22v23m1-22v22m1-22v21m1-21v21m1-20v21m1-28v29m1-22v22m1-23v21m1-21v21m1-21v21m1-20v20m1-20v20m1-20v22m1-22v23m1-23v20m1-19v25m1-26v22m1-25v24m1-23v25m1-23v24m1-26v23m1-23v23m1-21v20m1-20v21m1-21v20m1-20v20m1-20v21m1-22v22m1-23v27m1-25v21m1-21v19m1-19v20m1-20v20m1-22v24m1-24v24m1-22v22m1-22v23m1-23v20m1-20v20m1-21v21m1-20v20m1-20v20m1-22v22m1-21v21m1-22v22m1-20v20m1-21v21m1-20v21m1-20v19m1-20v23m1-29v29m1-23v20m1-20v23m1-23v20m1-20v23m1-24v21m1-23v25m1-24v24m1-22v21m1-21v20m1-20v20m1-26v27m1-24v25m1-21v19m1-20v19m1-20v21m1-20v20m1-21v21m1-20v19m1-19v20m1-21v21m1-21v21m1-21v21m1-20v20m1-20v21m1-22v22m1-27v26m1-20v20m1-19v19m1-22v25m1-24v21m1-20v21m1-21v21m1-25v26m1-25v24m1-20v21m1-22v25m1-31v26m1-25v26m1-24v24m1-23v24m1-22v21m1-21v19m1-19v20m1-22v23m1-21v20m1-20v20m1-22v29m1-28v21m1-20v20m1-20v20m1-21v21m1-21v21m1-21v21m1-20v21m1-21v23m1-23v22m1-22v21m1-21v21m1-30v29m1-20v20m1-21v21m1-21v21m1-21v25m1-24v23m1-23v20m1-20v19m1-25v26m1-24v24m1-20v20m1-19v19m1-20v22m1-26v25m1-24v28m1-25v26m1-26v19m1-19v20m1-20v20m1-23v23m1-22v25m1-23v20m1-20v20m1-19v19m1-21v22m1-22v22m1-21v20m1-20v24m1-25v23m1-22v23m1-23v23m1-26v22m1-22v29m1-26v23m1-23v22m1-24v24m1-23v23m1-23v21m1-21v22m1-23v27m1-25v20m1-19v20m1-21v20m1-20v20m1-22v22m1-22v22m1-20v22m1-22v20m1-21v21m1-20v23m1-23v20m1-19v19m1-20v20m1-20v21m1-21v20m1-20v20m1-19v25m1-26v23m1-22v19m1-20v20m1-20v20m1-21v21m1-20v20m1-21v22m1-23v22m1-22v22m1-21v21m1-22v23m1-23v23m1-22v23m1-23v21m1-21v23m1-22v22m1-22v20m1-20v20m1-21v24m1-25v25m1-29v28m1-26v23m1-19v19m1-19v22m1-22v21m1-21v20m1-25v25m1-23v23m1-20v23m1-25v24m1-22v22m1-22v22m1-23v21m1-20v22m1-23v21m1-20v21m1-24v29m1-28v28m1-26v20m1-19v19m1-19v18m1-19v23m1-23v23m1-23v21m1-23v23m1-21v23m1-25v24m1-22v21m1-23v22m1-22v21m1-23v24m1-22v22m1-20v23m1-23v22m1-22v20m1-20v25m1-26v21m1-21v21m1-27v27m1-20v20m1-20v20m1-20v20m1-22v26m1-24v24m1-24v22m1-27v26m1-25v25m1-25v25m1-21v20m1-26v28m1-28v29m1-24v23m1-22v22m1-22v20m1-22v22m1-21v21m1-20v20m1-22v24m1-24v23m1-23v23m1-21v21m1-22v21m1-23v23m1-22v22m1-24v26m1-23v22m1-22v21m1-21v22m1-22v22m1-22v23m1-22v21m1-22v21m1-21v21m1-24v24m1-23v23m1-21v24m1-24v24m1-26v25m1-21v19m1-20v20m1-22v24m1-23v22m1-21v22m1-23v22m1-22v22m1-21v21m1-21v21m1-22v23m1-22v22m1-24v25m1-23v20m1-23v24m1-23v24m1-22v20m1-24v31m1-27v23m1-26v23m1-23v23m1-22v22m1-20v19m1-19v29m1-29v21m1-21v22m1-21v19m1-20v19m1-20v24m1-24v28m1-28v21m1-22v22m1-21v21m1-21v21m1-21v26m1-26v26m1-25v22m1-31v29m1-20v20m1-23v23m1-24v23m1-19v21m1-21v19m1-21v22m1-21v24m1-23v19m1-23v24m1-23v23m1-20v20m1-20v22m1-22v22m1-23v23m1-23v21m1-20v21m1-21v20m1-20v20m1-21v21m1-20v21m1-24v24m1-22v22m1-22v21m1-20v22m1-22v21m1-24v25m1-25v25m1-22v22m1-22v20m1-20v20m1-20v20m1-20v23m1-23v20m1-20v23m1-23v20m1-20v20m1-20v24m1-24v22m1-21v19m1-22v24m1-24v23m1-23v25m1-23v22m1-22v21m1-24v23m1-20v19m1-20v23m1-23v24m1-22v21m1-22v22m1-22v21m1-21v19m1-21v22m1-21v21m1-25v25m1-24v24m1-22v22m1-20v20"/>
<path transform="translate(230.40 974.05) scale(1 0.25)" stroke="#008000" d="M0 -9v20m1-20v20m1-21v20m1-20v22m1-22v22m1-22v22m1-25v23m1-20v20m1-22v22m1-20v20m1-20v20m1-20v22m1-22v21m1-21v20m1-24v26m1-22v23m1-25v23m1-22v21m1-20v20m1-20v20m1-21v21m1-24v26m1-25v23m1-23v23m1-20v28m1-28v22m1-23v23m1-26v24m1-19v21m1-26v25m1-24v24m1-21v21m1-21v21m1-21v20m1-22v22m1-20v20m1-20v24m1-27v26m1-26v26m1-23v20m1-20v20m1-20v20m1-21v21m1-20v20m1-22v22m1-21v21m1-23v24m1-23v22m1-20v20m1-20v21m1-21v21m1-21v21m1-23v22m1-24v24m1-20v20m1-23v24m1-21v22m1-22v22m1-22v20m1-20v20m1-23v25m1-24v23m1-22v25m1-24v22m1-22v22m1-22v20m1-20v21m1-21v23m1-24v21m1-22v22m1-23v23m1-22v22m1-21v23m1-22v21m1-23v23m1-21v21m1-23v22m1-20v20m1-20v22m1-21v21m1-23v22m1-22v21m1-20v20m1-20v19m1-19v20m1-20v20m1-19v19m1-20v20m1-20v20m1-20v20m1-20v28m1-28v21m1-24v23m1-25v25m1-21v22m1-21v20m1-20v20m1-22v24m1-22v21m1-21v20m1-20v21m1-21v22m1-22v21m1-21v21m1-23v22m1-22v25m1-25v22m1-21v21m1-20v21m1-22v21m1-20v21m1-21v21m1-21v20m1-22v22m1-23v23m1-22v24m1-25v25m1-23v21m1-22v23m1-23v22m1-20v22m1-21v21m1-22v21m1-24v24m1-20v19m1-20v20m1-20v20m1-20v20m1-22v21m1-20v21m1-21v23m1-22v22m1-26v24m1-24v24m1-20v20m1-23v23m1-22v22m1-21v21m1-19v20m1-21v21m1-21v20m1-22v22m1-21v23m1-24v24m1-24v24m1-22v21m1-21v21m1-21v20m1-22v22m1-21v23m1-23v23m1-23v21m1-20v20m1-19v20m1-23v22m1-22v22m1-20v20m1-19v19m1-20v20m1-20v22m1-22v22m1-24v23m1-22v23m1-22v23m1-24v23m1-22v22m1-23v21m1-21v39m1-40v25m1-23v20m1-34v34m1-34v34m1-22v24m1-31v36m1-35v33m1-32v32m1-32v32m1-25v21m1-21v20m1-20v20m1-22v23m1-23v22m1-20v20m1-33v34m1-23v22m1-23v23m1-20v20m1-20v20m1-24v24m1-25v25m1-24v25m1-21v20m1-20v21m1-21v20m1-20v20m1-20v21m1-24v24m1-23v24m1-23v22m1-23v24m1-23v21m1-22v22m1-21v21m1-20v20m1-20v20m1-20v20m1-26v28m1-22v20m1-21v21m1-22v22m1-23v23m1-22v22m1-20v20m1-21v23m1-36v43m1-42v41m1-28v21m1-21v21m1-22v24m1-23v23m1-25v21m1-19v20m1-20v20m1-22v22m1-20v20m1-22v22m1-21v21m1-22v22m1-20v19m1-30v31m1-22v22m1-21v50m1-50v25m1-26v22m1-21v48m1-73v50m1-28v23m1-56v76m1-72v70m1-39v22m1-20v23m1-30v27m1-21v21m1-20v20m1-21v21m1-23v24m1-23v24m1-23v22m1-23v24m1-24v24m1-22v22m1-22v21m1-21v20m1-20v25m1-26v21m1-20v20m1-19v23m1-24v20m1-21v22m1-22v25m1-26v23m1-23v22m1-20v22m1-24v21m1-21v22m1-23v23m1-22v22m1-21v24m1-23v20m1-22v23m1-21v20m1-20v20m1-21v22m1-22v22m1-21v22m1-22v20m1-21v25m1-25v23m1-24v22m1-21v21m1-20v23m1-23v19m1-19v20m1-21v22m1-21v22m1-23v21m1-20v20m1-22v22m1-22v23m1-21v23m1-25v24m1-24v22m1-22v22m1-21v21m1-20v22m1-22v22m1-22v19m1-19v20m1-20v23m1-23v22m1-22v24m1-24v20m1-20v20m1-20v20m1-21v22m1-21v20m1-20v20m1-19v23m1-25v24m1-24v20m1-19v20m1-20v22m1-24v24m1-21v20m1-23v22m1-21v25m1-23v23m1-26v25m1-24v23m1-22v22m1-24v24m1-24v22m1-21v21m1-20v20m1-32v44m1-43v42m1-33v24m1-24v23m1-21v22m1-22v22m1-22v20m1-22v22m1-19v19m1-20v23m1-22v19m1-22v23m1-23v23m1-22v24m1-23v22m1-21v22m1-25v26m1-27v23m1-20v19m1-19v21m1-21v21m1-23v23m1-22v24m1-23v22m1-22v26m1-26v19m1-27v38m1-38v38m1-30v20m1-24v24m1-20v19m1-20v22m1-22v22m1-21v22m1-23v21m1-20v20m1-25v25m1-20v19m1-19v21m1-21v21m1-23v22m1-21v21m1-20v20m1-20v20m1-22v26m1-27v23m1-22v23m1-23v22m1-20v21m1-21v20m1-20v21m1-29v29m1-22v21m1-21v21m1-20v20m1-22v26m1-26v22m1-21v23m1-22v19m1-19v20m1-19v20m1-22v22m1-27v28m1-26v28m1-24v19m1-19v20m1-20v20m1-20v20m1-22v23m1-22v21m1-22v27m1-30v25m1-23v23m1-26v27m1-26v26m1-23v24m1-24v21m1-19v20m1-22v25m1-23v21m1-21v20m1-20v20m1-22v22m1-20v21m1-21v21m1-21v23m1-24v20m1-18v20m1-22v26m1-27v26m1-25v22m1-22v21m1-21v21m1-22v22m1-21v21m1-21v21m1-23v26m1-23v23m1-24v22m1-22v21m1-21v21m1-20v20m1-21v23m1-22v22m1-22v21m1-22v24m1-23v23m1-22v19m1-20v24m1-24v20m1-22v22m1-22v23m1-20v20m1-21v21m1-21v20m1-20v19m1-19v20m1-20v19m1-20v21m1-21v22m1-23v24m1-23v23m1-22v22m1-22v22m1-23v21m1-23v23m1-22v25m1-24v22m1-28v27m1-20v20m1-20v23m1-24v22m1-21v20m1-20v20m1-23v31m1-33v28m1-26v25m1-22v21m1-22v22m1-21v22m1-24v24m1-24v23m1-23v22m1-20v20m1-20v20m1-22v23m1-31v32m1-24v23m1-24v23m1-23v23m1-20v21m1-35v47m1-46v45m1-34v22m1-23v23m1-23v23m1-20v20m1-21v22m1-21v21m1-21v24m1-24v20m1-19v19m1-21v23m1-22v21m1-21v20m1-21v21m1-20v20m1-19v19m1-20v20m1-20v25m1-27v25m1-23v20m1-20v20m1-23v23m1-23v24m1-21v22m1-23v21m1-20v19m1-19v20m1-21v22m1-22v22m1-21v28m1-28v20m1-22v21m1-21v22m1-25v25m1-22v22m1-21v24m1-23v23m1-23v24m1-25v21m1-28v36m1-29v23m1-22v20m1-20v21m1-23v25m1-23v22m1-23v23m1-24v22m1-22v21m1-19v36m1-38v24m1-23v21m1-21v21m1-21v21m1-20v20m1-23v23m1-22v22m1-23v25m1-24v23m1-23v23m1-23v23m1-26v26m1-39v38m1-38v38m1-20v20m1-26v26m1-24v29m1-27v22m1-20v20m1-20v23m1-25v24m1-23v22m1-21v23m1-23v22m1-24v24m1-26v29m1-27v25m1-24v27m1-38v41m1-41v40m1-39v38m1-41v139m1-126v118m1-117v23m1-23v29m1-29v20m1-20v22m1-23v21m1-20v22m1-22v21m1-21v21m1-21v22m1-22v21m1-27v27m1-23v22m1-19v21m1-23v23m1-22v20m1-22v22m1-19v19m1-21v21m1-22v22m1-23v23m1-20v20m1-22v24m1-27v34m1-34v34m1-36v39m1-38v39m1-41v38m1-50v54m1-41v38m1-39v50m1-49v41m1-37v26m1-25v24m1-22v21m1-23v25m1-23v22m1-23v21m1-27v27m1-20v20m1-20v23m1-24v23m1-22v20m1-20v20m1-20v23m1-25v24m1-28v26m1-20v22m1-25v24m1-23v23m1-21v21m1-21v19m1-19v20m1-20v19m1-20v21m1-21v21m1-21v22m1-21v21m1-21v21m1-21v20m1-22v21m1-21v25m1-25v22m1-23v24m1-24v23m1-21v21m1-20v20m1-22v22m1-21v21m1-30v36m1-35v34m1-25v20m1-23v24m1-23v27m1-26v24m1-24v21m1-21v21m1-20v23m1-24v24m1-23v20m1-20v22m1-23v23m1-25v23m1-23v23m1-21v21m1-23v23m1-24v23m1-23v24m1-20v23m1-23v22m1-22v21m1-23v23m1-21v21m1-23v23m1-20v19m1-20v20m1-20v27m1-35v28m1-21v21m1-23v22m1-26v27m1-20v23m1-25v25m1-24v21m1-21v22m1-22v22m1-25v24m1-20v20m1-22v22m1-21v23m1-25v24m1-23v24m1-23v22m1-25v24m1-20v19m1-18v20m1-21v22m1-23v21m1-24v27m1-26v25m1-23v21m1-20v20m1-22v22m1-24v23m1-21v22m1-20v20m1-22v22m1-22v22m1-21v21m1-23v25m1-23v23m1-23v20m1-21v22m1-23v24m1-21v20m1-21v22m1-21v21m1-21v21m1-24v25m1-24v24m1-21v20m1-21v24m1-24v23m1-24v23m1-22v20m1-23v24m1-21v21m1-24v24m1-21v20m1-20v22m1-26v29m1-29v28m1-26v22m1-22v24m1-21v19m1-20v21m1-20v21m1-21v19m1-20v20m1-22v22m1-20v19m1-20v21m1-21v21m1-20v20m1-20v23m1-25v22m1-21v23m1-23v23m1-25v23m1-20v22m1-23v29m1-28v22m1-22v21m1-24v23m1-23v25m1-24v21m1-21v22m1-20v20m1-20v21m1-20v23m1-24v24m1-24v20m1-20v20m1-20v20m1-21v21m1-20v20m1-23v23m1-22v22m1-20v20m1-21v23m1-23v21m1-20v20m1-20v21m1-22v23m1-23v22m1-21v19m1-20v21m1-21v21m1-21v21m1-20v22m1-22v21m1-23v22m1-20v21m1-21v21m1-21v22m1-22v22m1-22v21m1-22v27m1-26v19m1-19v21m1-20v20m1-21v22m1-25v24m1-21v23m1-23v20m1-20v20m1-21v21m1-21v21m1-20v20m1-20v20m1-20v19m1-19v20m1-23v23m1-21v21m1-22v23m1-21v21m1-23v22m1-21v22m1-22v22m1-21v20m1-21v24m1-23v20m1-20v20m1-22v22m1-22v22m1-19v19m1-20v23m1-26v23m1-20v21m1-21v23m1-25v23m1-23v23m1-23v24m1-23v24m1-23v21m1-21v22m1-22v20m1-22v22m1-23v24m1-24v26m1-23v22m1-22v20m1-20v22m1-22v24m1-26v24m1-24v23m1-21v20m1-21v22m1-23v24m1-24v25m1-25v24m1-22v23m1-23v23m1-24v21m1-21v21m1-20v20m1-20v21m1-21v19m1-19v20m1-19v19m1-20v23m1-23v22m1-22v20m1-19v19m1-20v20m1-19v19m1-20v20m1-20v20m1-21v21m1-20v21m1-23v23m1-21v20m1-21v23m1-23v22m1-21v21m1-22v23m1-22v22m1-22v29m1-29v21m1-21v22m1-23v22m1-27v27m1-25v24m1-20v21m1-21v23m1-24v24m1-26v24m1-21v21m1-21v21m1-21v19m1-20v23m1-22v21m1-22v21m1-20v20m1-20v20m1-21v21m1-21v21m1-20v20m1-23v22m1-21v22m1-20v20m1-21v25m1-24v24m1-27v25m1-24v26m1-24v23m1-23v20m1-20v20m1-22v24m1-23v23m1-22v20m1-21v21m1-22v28m1-27v21m1-23v23m1-22v24m1-24v24m1-24v27m1-26v21m1-21v21m1-20v27m1-27v20m1-20v20m1-22v24m1-23v23m1-23v21m1-22v22m1-23v23m1-20v21m1-24v23m1-22v23m1-21v21m1-21v20m1-20v20m1-21v21m1-21v21m1-19v19m1-20v20m1-19v19m1-20v25m1-25v22m1-23v23m1-24v23m1-20v18m1-19v22m1-23v22m1-21v22m1-24v23m1-22v21m1-21v21m1-21v26m1-25v24m1-24v22m1-22v20m1-19v21m1-21v26m1-28v20m1-19v20m1-21v24m1-24v21m1-21v21m1-20v20m1-20v21m1-21v21m1-21v20m1-21v21m1-20v20m1-20v20m1-22v22m1-23v24m1-23v23m1-22v22m1-21v20m1-20v20m1-21v21m1-21v20m1-19v20m1-23v27m1-27v26m1-24v21m1-20v21m1-26v25m1-20v21m1-21v21m1-21v20m1-19v21m1-24v24m1-23v22m1-25v24m1-23v23m1-23v23m1-20v22m1-23v22m1-21v20m1-19v19m1-20v20m1-25v24m1-23v28m1-24v24m1-24v20m1-21v26m1-25v24m1-24v24m1-24v20m1-22v22m1-20v20m1-20v20m1-22v26m1-25v24m1-23v19m1-19v20m1-20v23m1-24v23m1-28v29m1-24v21m1-21v21m1-20v21m1-21v20m1-21v21m1-22v24m1-24v23m1-21v21m1-22v23m1-27v27m1-22v20m1-21v20m1-20v21m1-20v20m1-20v20m1-20v20m1-19v19m1-20v20m1-19v22m1-23v23m1-27v24m1-23v22m1-19v24m1-24v22m1-24v24m1-23v21m1-21v21m1-20v20m1-23v25m1-28v27m1-24v23m1-23v23m1-20v21m1-21v21m1-21v20m1-20v20m1-20v19m1-21v21m1-20v21m1-20v20m1-21v22m1-21v22m1-22v22m1-23v22m1-23v25m1-24v23m1-24v25m1-23v21m1-21v22m1-24v22m1-20v19m1-19v19m1-26v30m1-23v20m1-23v25m1-24v24m1-22v21m1-21v22m1-22v21m1-21v21m1-21v20m1-23v25m1-21v19m1-21v21m1-22v22m1-22v22m1-20v19m1-19v20m1-20v20m1-21v21m1-27v29m1-23v23m1-22v22m1-23v25m1-24v25m1-25v20m1-22v22m1-20v23m1-23v23m1-23v20m1-20v20m1-23v23m1-21v21m1-20v21m1-21v20m1-20v22m1-22v21m1-21v24m1-24v20m1-23v25m1-24v23m1-23v22m1-22v22m1-22v22m1-21v21m1-20v20m1-21v21m1-21v21m1-20v20m1-20v20m1-22v23m1-23v23m1-23v22m1-21v23m1-24v22m1-21v23m1-22v22m1-22v21m1-20v20m1-21v22m1-25v24m1-21v20m1-20v23m1-23v22m1-22v22m1-21v19m1-22v22m1-20v20m1-20v26m1-27v26m1-26v24m1-23v20m1-21v21m1-21v21m1-20v21m1-21v20m1-22v23m1-21v21m1-23v22m1-27v27m1-20v20m1-22v22m1-21v21m1-20v20m1-21v22m1-22v21m1-22v22m1-21v20m1-19v22m1-22v20m1-20v21m1-23v22m1-24v24m1-21v28m1-27v20m1-23v23m1-22v22m1-23v26m1-26v23m1-20v20m1-21v21m1-21v21m1-20v20m1-20v20m1-20v23m1-23v22m1-23v21m1-21v21m1-20v20m1-24v27m1-26v23m1-20v20m1-20v20m1-20v20m1-21v21m1-20v22m1-22v20m1-25v25m1-20v20m1-20v20m1-20v20m1-22v22m1-22v24m1-25v24m1-23v21m1-21v22m1-21v21m1-20v20m1-20v20m1-20v19m1-20v21m1-20v21m1-23v25m1-25v22m1-20v23m1-23v21m1-23v23m1-22v21m1-22v24m1-22v21m1-21v20m1-20v21m1-21v20m1-20v19m1-19v20m1-20v20m1-22v23m1-24v24m1-21v26m1-26v19m1-23v24m1-20v22m1-24v26m1-26v23m1-23v22m1-21v21m1-20v23m1-23v20m1-20v23m1-23v24m1-24v20m1-20v20m1-20v20m1-20v20m1-20v21m1-21v22m1-23v22m1-22v21m1-20v20m1-19v27m1-28v22m1-23v22m1-21v22m1-22v20m1-20v20m1-21v21m1-20v20m1-21v21m1-26v26m1-22v25m1-24v21m1-20v22m1-23v22m1-22v21m1-20v21m1-21v22m1-22v21m1-24v23m1-22v23m1-20v20m1-20v21m1-25v24m1-23v23m1-22v22m1-23v26m1-24v20m1-20v20m1-21v21m1-20v20m1-22v23m1-21v21m1-21v20m1-19v19m1-20v21m1-22v20m1-21v25m1-24v23m1-23v23m1-23v23m1-25v24m1-24v24m1-22v23m1-22v20m1-22v22m1-22v22m1-21v22m1-21v21m1-20v22m1-23v22m1-23v21m1-22v25m1-25v24m1-22v22m1-22v21m1-20v19m1-20v20m1-20v20m1-20v25m1-25v20m1-20v20m1-22v22m1-21v21m1-20v20m1-20v20m1-21v21m1-22v22m1-20v21m1-23v22m1-22v22m1-22v23m1-21v24m1-24v21m1-23v24m1-22v21m1-22v23m1-23v23m1-22v20m1-20v22m1-26v25m1-24v23m1-20v22m1-22v24m1-24v22m1-26v27m1-25v24m1-22v21m1-26v25m1-24v23m1-22v22m1-19v20m1-21v26m1-28v28m1-25v20m1-28v32m1-27v25m1-22v22m1-25v23m1-24v24m1-21v21m1-21v20m1-21v21m1-21v23m1-23v22m1-21v23m1-22v22m1-22v22m1-22v22m1-23v23m1-22v20m1-20v21m1-21v20m1-20v22m1-27v25m1-20v20m1-21v21m1-20v20m1-23v25m1-27v25m1-24v23m1-19v24m1-25v21m1-22v22m1-22v24m1-22v21m1-21v20m1-20v20m1-20v22m1-22v22m1-24v23m1-23v24m1-22v22m1-22v21m1-21v24m1-24v20m1-20v23m1-23v21m1-22v21m1-19v20m1-27v26m1-24v24m1-19v19m1-20v20m1-20v20m1-23v23m1-20v20m1-20v19m1-21v22m1-22v22m1-22v22m1-21v21m1-25v32m1-27v22m1-28v28m1-25v23m1-21v21m1-23v23m1-20v21m1-21v21m1-22v22m1-22v29m1-28v23m1-24v24m1-24v21m1-20v20m1-20v20m1-22v23m1-23v24m1-22v21m1-21v24m1-24v24m1-24v20m1-19v19m1-20v20m1-20v20m1-20v19m1-20v21m1-22v25m1-25v22m1-19v19m1-21v21m1-20v23m1-23v20m1-20v19m1-19v20m1-20v20m1-20v22m1-24v22m1-23v23m1-20v19m1-22v23m1-23v23m1-23v24m1-23v22m1-20v20m1-22v24m1-25v27m1-24v24m1-24v24m1-24v28m1-28v20m1-22v22m1-21v21m1-22v21m1-19v20m1-22v21m1-21v23m1-22v23m1-22v20m1-20v20m1-20v22m1-22v21m1-22v21m1-22v22m1-27v27m1-20v20m1-20v19m1-19v20m1-19v21m1-22v20m1-21v21m1-19v19m1-23v25m1-25v25m1-22v20m1-22v24m1-24v24m1-23v21m1-25v25m1-22v22m1-22v23m1-22v22m1-21v21m1-22v22m1-21v21m1-24v22m1-22v23m1-20v21m1-23v23m1-23v22m1-20v20m1-20v22m1-22v22m1-23v25m1-25v24m1-25v22m1-21v24m1-23v22m1-22v20m1-24v24m1-21v21m1-21v21m1-21v21m1-20v24m1-25v24m1-23v21m1-21v23m1-23v23m1-23v21m1-21v23"/>
<path transform="translate(230.40 1012.31) scale(1 0.25)" stroke="#000000" d="M0 -10v22m1-22v20m1-22v25m1-27v26m1-24v22m1-21v21m1-28v28m1-20v21m1-22v22m1-22v23m1-22v21m1-22v21m1-20v20m1-19v19m1-22v23m1-23v25m1-24v24m1-23v21m1-20v23m1-25v23m1-22v25m1-26v22m1-21v20m1-20v20m1-22v22m1-20v20m1-23v26m1-25v23m1-21v20m1-20v21m1-21v21m1-20v23m1-25v24m1-26v26m1-29v28m1-22v21m1-21v20m1-21v21m1-21v21m1-24v25m1-24v23m1-20v20m1-21v21m1-22v21m1-18v20m1-23v22m1-23v27m1-26v25m1-25v21m1-21v22m1-20v20m1-20v21m1-21v20m1-20v19m1-19v21m1-20v20m1-22v23m1-22v21m1-24v27m1-25v24m1-23v22m1-22v21m1-22v21m1-22v24m1-24v24m1-22v21m1-21v21m1-23v24m1-24v21m1-20v21m1-21v21m1-21v25m1-25v22m1-21v21m1-21v27m1-27v21m1-23v25m1-24v23m1-21v20m1-21v21m1-21v21m1-21v19m1-21v22m1-20v20m1-22v22m1-21v21m1-21v22m1-21v21m1-21v20m1-20v20m1-21v21m1-20v20m1-20v20m1-22v23m1-21v20m1-23v23m1-20v20m1-20v22m1-22v20m1-19v19m1-21v21m1-21v20m1-20v20m1-20v21m1-20v20m1-20v20m1-19v19m1-20v22m1-25v24m1-24v24m1-27v28m1-22v21m1-22v21m1-20v21m1-21v21m1-23v23m1-23v22m1-22v22m1-22v22m1-22v22m1-20v20m1-21v21m1-19v20m1-22v23m1-22v20m1-20v21m1-21v21m1-22v21m1-21v21m1-26v27m1-21v22m1-23v21m1-21v23m1-22v24m1-26v26m1-26v24m1-23v21m1-22v24m1-21v20m1-21v22m1-22v20m1-21v23m1-24v23m1-22v21m1-21v23m1-23v21m1-20v20m1-20v20m1-20v20m1-19v19m1-20v20m1-20v20m1-19v18m1-19v19m1-19v20m1-20v21m1-21v20m1-20v21m1-21v20m1-20v20m1-21v23m1-22v20m1-20v20m1-19v21m1-23v23m1-23v21m1-21v21m1-20v20m1-23v24m1-22v22m1-22v21m1-20v22m1-22v21m1-26v25m1-26v27m1-25v25m1-21v20m1-22v22m1-20v21m1-21v20m1-20v21m1-25v24m1-23v23m1-24v24m1-20v22m1-21v22m1-26v26m1-25v22m1-20v21m1-22v26m1-26v21m1-22v22m1-21v26m1-27v22m1-20v20m1-20v22m1-22v22m1-22v21m1-22v21m1-22v22m1-22v22m1-20v19m1-19v22m1-24v23m1-21v20m1-21v21m1-21v21m1-20v20m1-22v22m1-21v21m1-21v21m1-19v19m1-22v22m1-20v21m1-21v20m1-22v24m1-23v24m1-29v28m1-24v22m1-21v21m1-20v20m1-20v20m1-22v21m1-20v22m1-22v21m1-23v23m1-21v23m1-24v24m1-23v23m1-25v26m1-25v25m1-22v20m1-21v21m1-23v22m1-20v21m1-21v22m1-22v22m1-25v23m1-21v21m1-22v22m1-22v23m1-22v23m1-22v20m1-21v24m1-23v22m1-25v25m1-24v23m1-23v23m1-23v23m1-25v25m1-24v22m1-19v20m1-20v22m1-24v26m1-26v28m1-26v23m1-23v20m1-19v19m1-22v25m1-24v21m1-26v26m1-21v24m1-25v25m1-25v22m1-22v22m1-20v25m1-25v24m1-24v23m1-25v22m1-21v26m1-27v22m1-19v20m1-21v20m1-20v20m1-23v23m1-21v21m1-25v26m1-25v24m1-21v21m1-22v28m1-27v25m1-26v23m1-24v26m1-23v24m1-25v24m1-24v20m1-19v20m1-20v22m1-22v20m1-20v20m1-21v21m1-20v20m1-22v22m1-22v25m1-23v22m1-23v21m1-22v22m1-20v20m1-20v26m1-26v20m1-21v21m1-24v24m1-22v27m1-27v26m1-24v19m1-19v20m1-20v20m1-20v20m1-20v20m1-21v21m1-20v20m1-20v20m1-20v20m1-24v24m1-20v20m1-21v21m1-20v24m1-24v23m1-27v25m1-24v22m1-21v21m1-22v23m1-20v19m1-25v26m1-26v31m1-26v25m1-24v20m1-21v24m1-23v22m1-21v19m1-21v23m1-22v21m1-32v72m1-71v68m1-59v30m1-29v23m1-24v22m1-22v21m1-26v28m1-25v23m1-20v20m1-21v21m1-21v23m1-22v21m1-25v29m1-28v23m1-20v22m1-25v23m1-22v22m1-21v21m1-19v21m1-22v21m1-28v36m1-36v35m1-28v20m1-20v20m1-22v23m1-22v22m1-22v21m1-23v25m1-22v21m1-20v20m1-21v20m1-21v21m1-23v26m1-25v22m1-24v27m1-25v25m1-25v23m1-24v24m1-22v21m1-22v23m1-22v22m1-23v22m1-22v22m1-22v22m1-21v22m1-24v25m1-22v21m1-21v20m1-20v21m1-23v22m1-22v24m1-22v21m1-22v21m1-26v26m1-20v20m1-20v22m1-25v24m1-21v20m1-20v20m1-19v19m1-21v21m1-20v20m1-21v23m1-26v25m1-24v23m1-20v22m1-22v21m1-21v22m1-25v25m1-24v24m1-24v24m1-24v23m1-22v21m1-21v21m1-22v24m1-25v24m1-23v22m1-19v20m1-22v22m1-23v22m1-22v27m1-25v21m1-21v22m1-33v38m1-29v23m1-21v19m1-19v19m1-19v22m1-28v27m1-28v38m1-39v38m1-37v36m1-36v36m1-71v102m1-102v101m1-60v26m1-25v19m1-28v29m1-20v20m1-20v20m1-20v26m1-27v21m1-21v21m1-20v21m1-21v20m1-20v23m1-22v22m1-23v22m1-22v20m1-21v24m1-23v23m1-24v21m1-20v20m1-20v23m1-24v24m1-24v21m1-21v22m1-25v25m1-21v36m1-36v22m1-25v23m1-24v24m1-23v23m1-21v21m1-20v22m1-23v22m1-37v35m1-35v36m1-22v22m1-22v22m1-22v21m1-20v22m1-20v19m1-22v22m1-20v21m1-21v22m1-24v29m1-31v27m1-26v25m1-22v24m1-24v24m1-24v20m1-20v20m1-20v20m1-23v23m1-22v21m1-27v31m1-25v29m1-27v20m1-20v20m1-22v21m1-20v21m1-20v20m1-20v20m1-23v26m1-30v27m1-22v22m1-24v24m1-20v21m1-21v21m1-21v24m1-27v23m1-22v23m1-23v23m1-21v20m1-20v20m1-20v20m1-20v20m1-20v21m1-21v22m1-23v23m1-22v20m1-19v22m1-23v22m1-23v26m1-25v22m1-24v24m1-24v29m1-29v24m1-24v23m1-22v21m1-20v20m1-20v21m1-22v21m1-19v19m1-19v19m1-20v19m1-20v21m1-23v23m1-22v22m1-21v21m1-20v26m1-26v25m1-27v22m1-28v32m1-27v27m1-30v33m1-29v29m1-31v28m1-25v28m1-31v27m1-31v34m1-33v29m1-30v33m1-30v30m1-28v27m1-32v31m1-40v50m1-37v30m1-26v24m1-23v19m1-19v19m1-20v19m1-19v22m1-25v23m1-22v24m1-60v102m1-100v97m1-62v21m1-20v22m1-22v20m1-20v25m1-25v24m1-25v21m1-20v21m1-22v22m1-22v21m1-22v22m1-21v21m1-20v20m1-20v20m1-22v22m1-21v23m1-25v23m1-22v22m1-20v20m1-20v23m1-26v23m1-23v36m1-32v21m1-22v22m1-23v21m1-22v23m1-36v36m1-23v22m1-20v19m1-18v19m1-20v20m1-21v21m1-25v25m1-20v21m1-21v25m1-25v24m1-24v20m1-20v20m1-20v20m1-20v20m1-20v23m1-23v20m1-19v21m1-21v20m1-23v27m1-26v23m1-26v26m1-22v24m1-24v19m1-19v20m1-21v22m1-21v23m1-22v21m1-22v20m1-20v20m1-20v20m1-20v23m1-23v19m1-23v24m1-23v25m1-22v22m1-23v24m1-25v22m1-19v22m1-24v23m1-21v19m1-20v24m1-24v21m1-20v21m1-23v23m1-23v22m1-24v24m1-21v20m1-20v23m1-23v22m1-24v22m1-20v20m1-20v20m1-19v19m1-21v22m1-22v20m1-20v21m1-19v21m1-22v23m1-23v23m1-23v20m1-21v23m1-25v24m1-21v21m1-21v21m1-21v23m1-23v20m1-27v29m1-23v23m1-22v19m1-20v21m1-21v25m1-28v27m1-25v25m1-25v27m1-27v26m1-25v21m1-22v22m1-20v20m1-22v22m1-22v22m1-20v20m1-21v24m1-24v22m1-21v23m1-23v23m1-24v23m1-23v22m1-23v24m1-24v24m1-22v22m1-22v25m1-25v24m1-24v24m1-26v23m1-22v23m1-26v27m1-26v25m1-21v19m1-20v20m1-20v22m1-22v21m1-22v23m1-22v20m1-20v22m1-22v20m1-25v30m1-25v23m1-30v30m1-23v25m1-25v20m1-22v22m1-20v21m1-20v21m1-24v24m1-24v22m1-21v21m1-22v22m1-21v24m1-23v22m1-22v19m1-19v22m1-24v24m1-22v22m1-22v20m1-21v22m1-22v22m1-21v20m1-20v21m1-22v26m1-26v21m1-20v20m1-19v20m1-24v24m1-26v25m1-24v25m1-23v22m1-23v24m1-23v22m1-20v24m1-24v19m1-20v21m1-20v22m1-23v23m1-23v21m1-20v19m1-20v21m1-21v21m1-20v28m1-28v20m1-20v20m1-20v20m1-25v27m1-22v20m1-20v22m1-23v22m1-21v20m1-21v24m1-24v22m1-21v20m1-20v20m1-20v20m1-21v21m1-21v22m1-22v22m1-22v21m1-26v34m1-28v21m1-22v22m1-21v20m1-20v20m1-22v25m1-25v24m1-23v23m1-21v23m1-25v24m1-23v22m1-22v22m1-22v22m1-22v22m1-22v22m1-24v27m1-27v30m1-30v23m1-21v19m1-22v23m1-20v20m1-21v22m1-22v21m1-20v20m1-21v21m1-20v21m1-22v21m1-20v22m1-23v23m1-22v21m1-21v21m1-28v28m1-24v23m1-20v22m1-22v22m1-25v24m1-25v24m1-22v22m1-22v22m1-21v22m1-22v21m1-20v20m1-22v23m1-23v30m1-28v21m1-21v22m1-22v20m1-20v20m1-22v22m1-20v20m1-20v20m1-22v23m1-28v30m1-26v26m1-23v20m1-21v20m1-19v20m1-20v20m1-20v22m1-21v21m1-22v22m1-21v21m1-26v27m1-27v26m1-22v20m1-21v23m1-23v22m1-25v24m1-23v25m1-23v22m1-23v23m1-23v22m1-21v22m1-21v21m1-21v21m1-22v21m1-21v21m1-25v25m1-25v26m1-23v23m1-22v22m1-21v28m1-28v20m1-21v20m1-20v20m1-19v20m1-20v19m1-20v20m1-20v21m1-21v23m1-22v22m1-22v22m1-22v22m1-22v22m1-22v21m1-21v20m1-19v20m1-21v20m1-20v20m1-20v22m1-24v21m1-21v22m1-21v21m1-25v26m1-26v26m1-21v20m1-21v21m1-20v20m1-20v21m1-21v22m1-22v22m1-22v23m1-23v20m1-20v19m1-22v25m1-24v22m1-22v22m1-22v30m1-28v21m1-20v23m1-31v34m1-33v34m1-35v35m1-33v33m1-51v102m1-82v81m1-78v23m1-52v70m1-45v27m1-23v21m1-21v22m1-22v20m1-21v21m1-21v21m1-20v20m1-22v22m1-21v24m1-24v24m1-24v21m1-22v23m1-23v25m1-24v24m1-25v22m1-23v25m1-24v22m1-20v20m1-20v20m1-23v26m1-23v23m1-25v22m1-22v22m1-21v21m1-22v22m1-23v24m1-22v21m1-20v20m1-20v20m1-20v20m1-20v20m1-30v40m1-40v39m1-35v26m1-24v27m1-24v24m1-23v20m1-20v20m1-21v21m1-20v23m1-26v24m1-23v22m1-21v21m1-21v23m1-22v20m1-20v19m1-22v23m1-23v23m1-20v20m1-20v22m1-28v27m1-26v25m1-22v24m1-22v22m1-22v20m1-19v26m1-29v22m1-20v21m1-27v28m1-23v29m1-30v28m1-33v29m1-35v73m1-67v33m1-27v23m1-44v48m1-32v31m1-30v34m1-29v20m1-22v22m1-20v22m1-25v24m1-23v22m1-20v20m1-20v20m1-20v20m1-22v25m1-24v22m1-21v20m1-20v20m1-22v24m1-23v26m1-26v27m1-27v22m1-21v27m1-27v25m1-28v26m1-24v21m1-21v21m1-24v24m1-20v20m1-20v22m1-22v23m1-23v20m1-21v24m1-24v21m1-20v20m1-21v21m1-20v19m1-20v23m1-22v25m1-26v26m1-28v23m1-20v22m1-23v21m1-20v20m1-20v20m1-20v20m1-20v24m1-23v18m1-20v21m1-21v21m1-20v22m1-22v22m1-23v23m1-22v21m1-21v20m1-20v19m1-19v20m1-19v21m1-22v22m1-22v22m1-23v21m1-21v21m1-20v20m1-20v20m1-20v20m1-20v21m1-20v18m1-20v23m1-24v21m1-20v23m1-22v22m1-24v25m1-25v24m1-23v22m1-23v26m1-26v25m1-22v19m1-20v20m1-20v22m1-22v22m1-22v22m1-26v24m1-20v20m1-19v19m1-20v20m1-19v19m1-21v22m1-23v24m1-22v21m1-21v20m1-22v25m1-23v20m1-24v27m1-23v22m1-22v23m1-24v21m1-22v22m1-22v22m1-20v20m1-22v22m1-22v22m1-21v20m1-18v20m1-21v21m1-22v21m1-24v24m1-23v23m1-20v20m1-20v19m1-22v23m1-23v24m1-25v24m1-24v24m1-23v22m1-20v21m1-22v22m1-20v23m1-25v24m1-26v24m1-19v21m1-22v23m1-23v22m1-22v21m1-21v19m1-19v21m1-21v21m1-21v21m1-21v20m1-19v21m1-22v21m1-20v19m1-20v20m1-20v23m1-24v24m1-24v21m1-20v22m1-24v21m1-22v23m1-24v24m1-24v25m1-21v21m1-21v22m1-23v22m1-22v21m1-20v20m1-22v22m1-24v24m1-23v23m1-21v21m1-21v23m1-22v20m1-21v20m1-20v21m1-20v20m1-20v20m1-26v26m1-20v19m1-20v23m1-23v23m1-24v22m1-20v20m1-20v20m1-19v19m1-20v20m1-20v23m1-24v23m1-22v21m1-25v25m1-24v23m1-21v21m1-20v20m1-21v21m1-22v22m1-20v20m1-21v21m1-23v23m1-21v24m1-24v23m1-22v25m1-30v30m1-29v24m1-20v20m1-20v20m1-20v20m1-20v20m1-20v20m1-20v20m1-20v20m1-21v21m1-22v24m1-23v21m1-20v20m1-19v19m1-21v21m1-21v20m1-21v22m1-20v20m1-28v30m1-22v21m1-23v25m1-23v22m1-22v20m1-20v20m1-20v22m1-21v19m1-21v21m1-23v28m1-31v31m1-25v22m1-22v21m1-21v21m1-23v25m1-25v24m1-23v23m1-24v22m1-19v19m1-20v23m1-23v22m1-23v21m1-20v21m1-25v25m1-23v22m1-20v23m1-25v24m1-22v20m1-21v22m1-21v21m1-21v20m1-20v20m1-20v20m1-20v21m1-22v22m1-21v20m1-21v21m1-21v25m1-25v25m1-25v22m1-21v20m1-21v21m1-21v23m1-22v20m1-28v28m1-22v23m1-21v21m1-20v19m1-21v21m1-20v22m1-22v21m1-21v20m1-22v23m1-22v21m1-20v20m1-20v20m1-22v22m1-20v21m1-21v22m1-23v23m1-22v21m1-21v21m1-23v22m1-22v22m1-21v21m1-20v26m1-25v23m1-24v22m1-22v21m1-21v20m1-19v19m1-20v20m1-21v23m1-22v22m1-23v21m1-20v20m1-21v21m1-23v23m1-22v22m1-20v20m1-20v21m1-21v20m1-23v23m1-22v22m1-23v24m1-24v25m1-22v22m1-24v22m1-21v21m1-20v20m1-20v21m1-21v22m1-22v20m1-21v29m1-28v23m1-23v22m1-21v19m1-20v21m1-21v20m1-20v22m1-21v18m1-20v24m1-24v23m1-24v22m1-21v21m1-21v21m1-22v24m1-24v25m1-32v33m1-24v20m1-20v20m1-25v27m1-22v22m1-22v19m1-19v20m1-20v20m1-21v21m1-45v45m1-45v46m1-21v36m1-37v23m1-22v19m1-19v24m1-35v72m1-72v70m1-59v20m1-20v20m1-20v20m1-23v23m1-20v20m1-20v19m1-19v25m1-26v27m1-28v24m1-24v22m1-20v20m1-20v20m1-24v24m1-24v24m1-21v26m1-27v27m1-25v23m1-23v25m1-26v25m1-31v29m1-22v24m1-24v20m1-20v20m1-20v20m1-20v20m1-20v21m1-23v22m1-29v35m1-37v38m1-37v38m1-37v36m1-36v35m1-27v21m1-20v21m1-23v24m1-23v21m1-26v26m1-23v24m1-21v21m1-21v22m1-22v21m1-21v20m1-20v20m1-21v22m1-23v24m1-29v26m1-19v20m1-21v23m1-23v22m1-21v21m1-21v19m1-20v23m1-23v23m1-23v21m1-20v20m1-21v22m1-21v23m1-24v80m1-82v32m1-29v23m1-25v24m1-23v25m1-24v23m1-23v20m1-36v61m1-47v26m1-24v22m1-22v20m1-20v20m1-21v21m1-21v21m1-21v21m1-20v21m1-21v21m1-22v21m1-22v23m1-21v22m1-22v20m1-20v20m1-20v21m1-21v21m1-22v22m1-21v22m1-22v23m1-24v23m1-23v21m1-20v21m1-21v21m1-23v26m1-26v25m1-26v23m1-22v22m1-22v22m1-21v21m1-22v28m1-29v29m1-31v26m1-23v25m1-24v21m1-24v24m1-23v23m1-27v26m1-20v21m1-20v20m1-20v20m1-21v21m1-21v20m1-19v22m1-21v21m1-23v21m1-20v21m1-21v21m1-20v20m1-21v24m1-25v24m1-24v21m1-23v24m1-23v23m1-22v22m1-22v22m1-21v20m1-22v22m1-20v23m1-23v22m1-22v21m1-21v23m1-23v22m1-22v19m1-19v21m1-27v29m1-29v30m1-24v23m1-23v20m1-19v19m1-19v19m1-29v32m1-25v24m1-22v20m1-21v21m1-21v21m1-20v21m1-21v22m1-22v20m1-23v23m1-21v21m1-21v21m1-24v23m1-23v26m1-22v22m1-21v26m1-28v20m1-19v20m1-28v32m1-24v22m1-22v20m1-20v21m1-21v20m1-20v23m1-23v22m1-22v21m1-23v22m1-20v23m1-23v27m1-29v22m1-20v20m1-20v21m1-21v23m1-25v24m1-24v25m1-24v24m1-24v21m1-21v21m1-20v20m1-25v30m1-29v28m1-24v20m1-26v35m1-29v21m1-21v20m1-20v21m1-22v20m1-24v25m1-20v21m1-22v21m1-21v24m1-24v21m1-20v24m1-24v20m1-20v19m1-18v19m1-20v22m1-22v22m1-23v24m1-28v27m1-26v25m1-21v20m1-20v21m1-22v21m1-20v20m1-22v24m1-23v21m1-25v27m1-22v21m1-22v21m1-23v23m1-21v28m1-27v22m1-22v21"/>
<path transform="translate(230.40 1050.50) scale(1 0.25)" stroke="#ff0000" d="M0 -10v21m1-21v20m1-20v20m1-21v21m1-19v22m1-23v22m1-25v29m1-28v24m1-24v25m1-25v23m1-21v20m1-19v21m1-27v25m1-23v23m1-20v23m1-23v22m1-21v19m1-20v20m1-19v19m1-24v25m1-23v22m1-20v22m1-23v23m1-22v22m1-23v21m1-21v21m1-22v21m1-25v32m1-30v30m1-32v33m1-32v30m1-30v32m1-32v29m1-31v33m1-33v45m1-40v25m1-25v21m1-21v28m1-28v23m1-25v24m1-22v23m1-23v23m1-21v20m1-24v25m1-23v23m1-22v29m1-29v33m1-32v22m1-25v23m1-23v23m1-20v20m1-21v21m1-20v22m1-22v23m1-23v21m1-20v19m1-20v20m1-20v20m1-20v22m1-22v22m1-21v19m1-20v21m1-21v22m1-23v21m1-23v29m1-26v20m1-20v21m1-21v20m1-21v22m1-22v21m1-20v20m1-20v22m1-22v21m1-20v20m1-21v20m1-22v22m1-22v22m1-23v23m1-23v22m1-20v23m1-24v22m1-20v20m1-20v20m1-20v21m1-21v20m1-19v19m1-20v21m1-21v22m1-23v21m1-20v20m1-23v23m1-23v23m1-22v22m1-25v25m1-20v22m1-22v20m1-20v19m1-23v24m1-24v24m1-20v19m1-20v25m1-26v24m1-24v21m1-19v21m1-21v19m1-19v20m1-24v24m1-23v23m1-21v21m1-22v23m1-21v20m1-22v22m1-22v26m1-25v24m1-23v21m1-21v20m1-22v22m1-22v22m1-20v21m1-21v20m1-24v25m1-21v22m1-22v23m1-23v24m1-24v20m1-22v22m1-22v22m1-20v20m1-20v20m1-19v21m1-25v26m1-27v27m1-23v20m1-21v21m1-20v20m1-22v22m1-20v26m1-27v27m1-27v22m1-21v21m1-21v24m1-24v23m1-25v22m1-22v24m1-25v22m1-20v21m1-20v20m1-20v21m1-21v21m1-21v20m1-20v20m1-20v20m1-20v23m1-23v22m1-22v23m1-23v22m1-21v20m1-21v21m1-25v24m1-23v23m1-22v22m1-21v21m1-20v20m1-21v21m1-21v21m1-20v20m1-20v20m1-20v22m1-22v23m1-23v23m1-25v22m1-27v27m1-20v19m1-18v19m1-20v22m1-22v20m1-20v19m1-19v20m1-20v20m1-22v22m1-21v20m1-19v20m1-20v20m1-23v24m1-25v24m1-24v25m1-21v20m1-21v22m1-22v22m1-21v22m1-22v23m1-23v20m1-22v22m1-20v20m1-20v20m1-19v19m1-20v22m1-23v22m1-23v21m1-19v20m1-20v21m1-21v20m1-20v22m1-22v20m1-22v22m1-23v23m1-19v18m1-19v21m1-20v21m1-22v20m1-20v20m1-21v23m1-23v22m1-20v21m1-22v20m1-20v21m1-21v22m1-22v20m1-22v25m1-23v23m1-23v20m1-20v20m1-20v20m1-21v22m1-21v22m1-22v20m1-20v21m1-20v20m1-21v22m1-22v20m1-20v20m1-21v21m1-21v22m1-27v27m1-21v23m1-24v22m1-21v24m1-27v26m1-23v23m1-23v21m1-23v22m1-25v25m1-26v25m1-19v20m1-22v24m1-24v24m1-22v24m1-26v24m1-22v23m1-23v23m1-23v20m1-20v20m1-23v24m1-23v23m1-30v30m1-21v20m1-20v23m1-23v20m1-20v22m1-25v23m1-22v22m1-22v23m1-21v22m1-22v20m1-20v21m1-21v21m1-23v24m1-24v27m1-25v19m1-21v23m1-22v25m1-23v19m1-20v21m1-20v20m1-21v21m1-21v21m1-21v20m1-24v24m1-23v27m1-24v24m1-24v20m1-20v24m1-24v19m1-19v22m1-22v22m1-22v20m1-20v20m1-19v20m1-21v21m1-21v28m1-28v23m1-23v20m1-20v20m1-22v23m1-22v21m1-21v21m1-22v24m1-24v24m1-22v25m1-25v20m1-20v20m1-20v20m1-21v22m1-22v22m1-22v22m1-24v23m1-22v22m1-20v20m1-20v20m1-22v23m1-21v21m1-21v23m1-23v20m1-22v22m1-22v22m1-20v22m1-23v23m1-22v20m1-20v20m1-21v20m1-20v23m1-23v22m1-21v20m1-20v20m1-20v24m1-30v29m1-29v26m1-22v22m1-21v23m1-22v19m1-24v25m1-20v22m1-22v21m1-22v28m1-28v21m1-21v21m1-21v21m1-21v23m1-22v22m1-22v20m1-20v20m1-22v25m1-24v24m1-23v23m1-23v26m1-26v25m1-25v20m1-20v21m1-26v26m1-23v22m1-21v21m1-19v19m1-20v20m1-21v21m1-22v22m1-21v22m1-21v20m1-20v23m1-23v20m1-20v20m1-20v20m1-20v21"/>
</g>
<g fill="#ffff00" stroke="#ffff00" stroke-width="1.39" stroke-linejoin="bevel">
<path d="M1316.30 274.43L1314.43 280.18L1308.38 280.18L1313.27 283.74L1311.40 289.50L1316.30 285.94L1321.20 289.50L1319.33 283.74L1324.22 280.18L1318.17 280.18Z"/>
<path d="M1150.30 696.23L1148.43 701.99L1142.38 701.99L1147.27 705.54L1145.40 711.30L1150.30 707.74L1155.20 711.30L1153.33 705.54L1158.22 701.99L1152.17 701.99Z"/>
<path d="M1354.40 772.92L1352.53 778.68L1346.48 778.68L1351.37 782.24L1349.50 787.99L1354.40 784.43L1359.30 787.99L1357.43 782.24L1362.32 778.68L1356.27 778.68Z"/>
<path d="M962.30 811.27L960.43 817.02L954.38 817.02L959.27 820.58L957.40 826.34L962.30 822.78L967.20 826.34L965.33 820.58L970.22 817.02L964.17 817.02Z"/>
<path d="M798.50 887.96L796.63 893.72L790.58 893.72L795.47 897.27L793.60 903.03L798.50 899.47L803.40 903.03L801.53 897.27L806.42 893.72L800.37 893.72Z"/>
</g>
<rect x="950.30" y="316.80" width="223.80" height="22.20" rx="4.2" ry="4.2" fill="#fff" fill-opacity="0.6" stroke="#000" stroke-opacity="0.6" stroke-width="1.39"/>
<rect x="882.10" y="647.60" width="126.10" height="22.30" rx="4.2" ry="4.2" fill="#fff" fill-opacity="0.6" stroke="#000" stroke-opacity="0.6" stroke-width="1.39"/>
<rect x="1093.70" y="724.60" width="118.90" height="22.10" rx="4.2" ry="4.2" fill="#fff" fill-opacity="0.6" stroke="#000" stroke-opacity="0.6" stroke-width="1.39"/>
<rect x="701.40" y="762.50" width="118.90" height="22.70" rx="4.2" ry="4.2" fill="#fff" fill-opacity="0.6" stroke="#000" stroke-opacity="0.6" stroke-width="1.39"/>
<rect x="939.60" y="839.30" width="332.70" height="22.40" rx="4.2" ry="4.2" fill="#fff" fill-opacity="0.6" stroke="#000" stroke-opacity="0.6" stroke-width="1.39"/>
<g fill="none" stroke="#000" stroke-width="1.39" stroke-linecap="round">
<path d="M1176.90 328.35 Q1250.11 331.97 1308.64 288.37"/>
<path d="M1011.04 658.30 Q1084.17 654.69 1142.65 698.26"/>
<path d="M1215.42 735.19 Q1288.36 731.55 1346.73 774.94"/>
<path d="M823.13 773.40 Q896.21 769.78 954.65 813.30"/>
<path d="M936.76 850.06 Q864.15 846.63 806.16 889.96"/>
</g>
<g class="t10">
<text x="954.90" y="332.40">FIJI ISLANDS REGION, 6.3 mww</text>
<text x="886.00" y="663.20">NEVADA, 4.3 mw</text>
<text x="1097.90" y="739.80">NEVADA, 3.4 ml</text>
<text x="706.20" y="778.30">NEVADA, 3.5 ml</text>
<text x="943.80" y="855.20">OFF COAST OF NORTHERN CALIFORNIA, 3.3 ml</text>
</g>
<path d="M230.5 60V1081M1690.5 60V1081M230 60.5H1691M230 1080.5H1691" fill="none" stroke="#000" stroke-width="1.1"/>
<g stroke="#000" stroke-width="1.1" fill="none">
<path d="M225.5 91.5H230.5"/>
<path d="M225.5 129.5H230.5"/>
<path d="M225.5 167.5H230.5"/>
<path d="M225.5 206.5H230.5"/>
<path d="M225.5 244.5H230.5"/>
<path d="M225.5 282.5H230.5"/>
<path d="M225.5 321.5H230.5"/>
<path d="M225.5 359.5H230.5"/>
<path d="M225.5 397.5H230.5"/>
<path d="M225.5 436.5H230.5"/>
<path d="M225.5 474.5H230.5"/>
<path d="M225.5 512.5H230.5"/>
<path d="M225.5 551.5H230.5"/>
<path d="M225.5 589.5H230.5"/>
<path d="M225.5 628.5H230.5"/>
<path d="M225.5 666.5H230.5"/>
<path d="M225.5 704.5H230.5"/>
<path d="M225.5 743.5H230.5"/>
<path d="M225.5 781.5H230.5"/>
<path d="M225.5 819.5H230.5"/>
<path d="M225.5 858.5H230.5"/>
<path d="M225.5 896.5H230.5"/>
<path d="M225.5 934.5H230.5"/>
<path d="M225.5 973.5H230.5"/>
<path d="M225.5 1011.5H230.5"/>
<path d="M225.5 1049.5H230.5"/>
<path d="M230.5 1080.5V1085.5"/>
<path d="M595.5 1080.5V1085.5"/>
<path d="M960.5 1080.5V1085.5"/>
<path d="M1325.5 1080.5V1085.5"/>
<path d="M1690.5 1080.5V1085.5"/>
</g>
<g class="t8">
<text x="220.2" y="95.0" text-anchor="end" textLength="48.9">00:00:06</text>
<text x="220.2" y="133.0" text-anchor="end" textLength="48.9">01:00:06</text>
<text x="220.2" y="171.0" text-anchor="end" textLength="48.9">02:00:06</text>
<text x="220.2" y="210.0" text-anchor="end" textLength="48.9">03:00:06</text>
<text x="220.2" y="248.0" text-anchor="end" textLength="48.9">04:00:06</text>
<text x="220.2" y="286.0" text-anchor="end" textLength="48.9">05:00:06</text>
<text x="220.2" y="325.0" text-anchor="end" textLength="48.9">06:00:06</text>
<text x="220.2" y="363.0" text-anchor="end" textLength="48.9">07:00:06</text>
<text x="220.2" y="401.0" text-anchor="end" textLength="48.9">08:00:06</text>
<text x="220.2" y="440.0" text-anchor="end" textLength="48.9">09:00:06</text>
<text x="220.2" y="478.0" text-anchor="end" textLength="48.9">10:00:06</text>
<text x="220.2" y="516.0" text-anchor="end" textLength="48.9">11:00:06</text>
<text x="220.2" y="555.0" text-anchor="end" textLength="48.9">12:00:06</text>
<text x="220.2" y="593.0" text-anchor="end" textLength="48.9">13:00:06</text>
<text x="220.2" y="632.0" text-anchor="end" textLength="48.9">14:00:06</text>
<text x="220.2" y="670.0" text-anchor="end" textLength="48.9">15:00:06</text>
<text x="220.2" y="708.0" text-anchor="end" textLength="48.9">16:00:06</text>
<text x="220.2" y="747.0" text-anchor="end" textLength="48.9">17:00:06</text>
<text x="220.2" y="785.0" text-anchor="end" textLength="48.9">18:00:06</text>
<text x="220.2" y="823.0" text-anchor="end" textLength="48.9">19:00:06</text>
<text x="220.2" y="862.0" text-anchor="end" textLength="48.9">20:00:06</text>
<text x="220.2" y="900.0" text-anchor="end" textLength="48.9">21:00:06</text>
<text x="220.2" y="938.0" text-anchor="end" textLength="48.9">22:00:06</text>
<text x="220.2" y="977.0" text-anchor="end" textLength="48.9">23:00:06</text>
<text x="220.2" y="1015.0" text-anchor="end" textLength="48.9">00:00:06</text>
<text x="220.2" y="1053.0" text-anchor="end" textLength="48.9">01:00:06</text>
<text x="231.7" y="1098.2" text-anchor="middle">0</text>
<text x="594.6" y="1098.2" text-anchor="middle" textLength="13.2">15</text>
<text x="960.6" y="1098.2" text-anchor="middle" textLength="13.2">30</text>
<text x="1324.5" y="1098.2" text-anchor="middle" textLength="13.2">45</text>
<text x="1689.9" y="1098.2" text-anchor="middle" textLength="13.2">60</text>
<text x="960" y="1113.4" text-anchor="middle">time in minutes</text>
</g>
</svg></body></html>
